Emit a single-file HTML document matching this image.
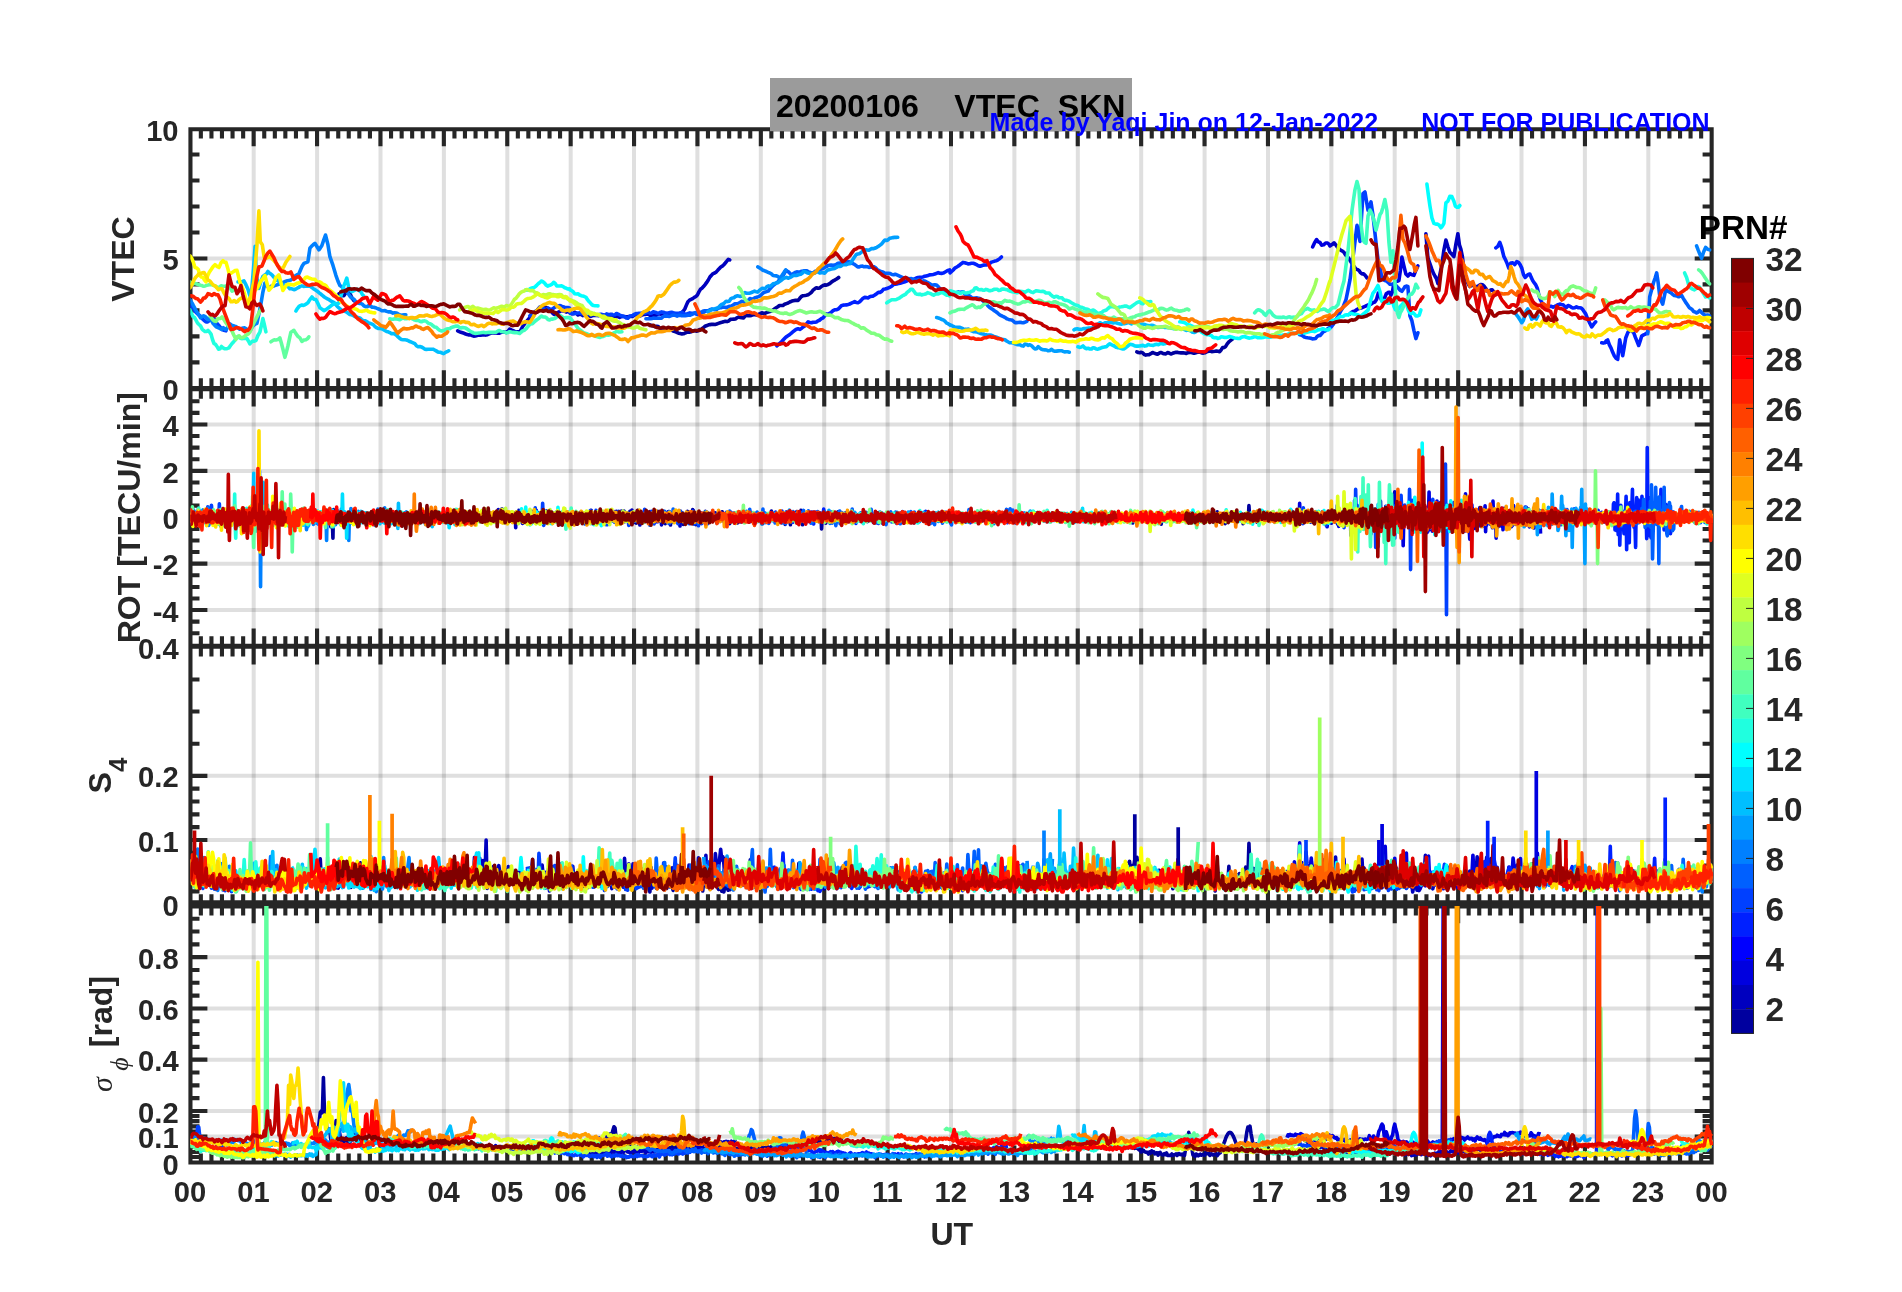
<!DOCTYPE html>
<html><head><meta charset="utf-8"><title>VTEC SKN 20200106</title>
<style>html,body{margin:0;padding:0;background:#fff}svg{display:block;will-change:transform}text{font-family:"Liberation Sans",sans-serif}.ns path{vector-effect:non-scaling-stroke}</style></head><body>
<svg width="1902" height="1292" viewBox="0 0 1902 1292">
<rect width="1902" height="1292" fill="#fff"/>
<defs>
<clipPath id="c1"><rect x="190.3" y="129.3" width="1522.9" height="258.9"/></clipPath>
<clipPath id="c2"><rect x="190.3" y="389" width="1522.9" height="256.8"/></clipPath>
<clipPath id="c3"><rect x="190.3" y="646.8" width="1522.9" height="257.5"/></clipPath>
<clipPath id="c4"><rect x="190.3" y="905.9" width="1522.9" height="256.7"/></clipPath>
</defs>
<path d="M253.7 129.3V1162.5M317.1 129.3V1162.5M380.5 129.3V1162.5M443.9 129.3V1162.5M507.3 129.3V1162.5M570.7 129.3V1162.5M634 129.3V1162.5M697.4 129.3V1162.5M760.8 129.3V1162.5M824.2 129.3V1162.5M887.6 129.3V1162.5M951 129.3V1162.5M1014.4 129.3V1162.5M1077.8 129.3V1162.5M1141.2 129.3V1162.5M1204.6 129.3V1162.5M1268 129.3V1162.5M1331.4 129.3V1162.5M1394.7 129.3V1162.5M1458.1 129.3V1162.5M1521.5 129.3V1162.5M1584.9 129.3V1162.5M1648.3 129.3V1162.5" stroke="#262626" stroke-opacity="0.15" stroke-width="4" fill="none"/>
<path d="M190.3 258.4H1711.7M190.3 610.1H1711.7M190.3 563.7H1711.7M190.3 517.3H1711.7M190.3 470.9H1711.7M190.3 424.5H1711.7M190.3 840H1711.7M190.3 775.8H1711.7M190.3 1136.6H1711.7M190.3 1110.9H1711.7M190.3 1059.7H1711.7M190.3 1008.4H1711.7M190.3 957.2H1711.7" stroke="#262626" stroke-opacity="0.15" stroke-width="4" fill="none"/>
<path d="M188.4 127.3H1713.7V131.3H188.4ZM188.4 386H1713.7V391.2H188.4ZM188.4 643.8H1713.7V648.8H188.4ZM188.4 900.2H1713.7V908.4H188.4ZM188.4 1160.5H1713.7V1164.6H188.4ZM188.4 127.3H192.5V1164.6H188.4ZM1709.6 127.3H1713.7V1164.6H1709.6ZM198.8 129.3H202.9V138.4H198.8ZM209.4 129.3H213.5V138.4H209.4ZM219.9 129.3H224V138.4H219.9ZM230.5 129.3H234.6V138.4H230.5ZM241.1 129.3H245.2V138.4H241.1ZM251.6 129.3H255.7V146.3H251.6ZM262.2 129.3H266.3V138.4H262.2ZM272.8 129.3H276.9V138.4H272.8ZM283.3 129.3H287.4V138.4H283.3ZM293.9 129.3H298V138.4H293.9ZM304.5 129.3H308.6V138.4H304.5ZM315 129.3H319.1V146.3H315ZM325.6 129.3H329.7V138.4H325.6ZM336.2 129.3H340.3V138.4H336.2ZM346.7 129.3H350.8V138.4H346.7ZM357.3 129.3H361.4V138.4H357.3ZM367.9 129.3H372V138.4H367.9ZM378.4 129.3H382.5V146.3H378.4ZM389 129.3H393.1V138.4H389ZM399.6 129.3H403.7V138.4H399.6ZM410.1 129.3H414.2V138.4H410.1ZM420.7 129.3H424.8V138.4H420.7ZM431.3 129.3H435.4V138.4H431.3ZM441.8 129.3H445.9V146.3H441.8ZM452.4 129.3H456.5V138.4H452.4ZM462.9 129.3H467V138.4H462.9ZM473.5 129.3H477.6V138.4H473.5ZM484.1 129.3H488.2V138.4H484.1ZM494.6 129.3H498.7V138.4H494.6ZM505.2 129.3H509.3V146.3H505.2ZM515.8 129.3H519.9V138.4H515.8ZM526.3 129.3H530.4V138.4H526.3ZM536.9 129.3H541V138.4H536.9ZM547.5 129.3H551.6V138.4H547.5ZM558 129.3H562.1V138.4H558ZM568.6 129.3H572.7V146.3H568.6ZM579.2 129.3H583.3V138.4H579.2ZM589.7 129.3H593.8V138.4H589.7ZM600.3 129.3H604.4V138.4H600.3ZM610.9 129.3H615V138.4H610.9ZM621.4 129.3H625.5V138.4H621.4ZM632 129.3H636.1V146.3H632ZM642.6 129.3H646.7V138.4H642.6ZM653.1 129.3H657.2V138.4H653.1ZM663.7 129.3H667.8V138.4H663.7ZM674.3 129.3H678.4V138.4H674.3ZM684.8 129.3H688.9V138.4H684.8ZM695.4 129.3H699.5V146.3H695.4ZM705.9 129.3H710V138.4H705.9ZM716.5 129.3H720.6V138.4H716.5ZM727.1 129.3H731.2V138.4H727.1ZM737.6 129.3H741.7V138.4H737.6ZM748.2 129.3H752.3V138.4H748.2ZM758.8 129.3H762.9V146.3H758.8ZM769.3 129.3H773.4V138.4H769.3ZM779.9 129.3H784V138.4H779.9ZM790.5 129.3H794.6V138.4H790.5ZM801 129.3H805.1V138.4H801ZM811.6 129.3H815.7V138.4H811.6ZM822.2 129.3H826.3V146.3H822.2ZM832.7 129.3H836.8V138.4H832.7ZM843.3 129.3H847.4V138.4H843.3ZM853.9 129.3H858V138.4H853.9ZM864.4 129.3H868.5V138.4H864.4ZM875 129.3H879.1V138.4H875ZM885.6 129.3H889.7V146.3H885.6ZM896.1 129.3H900.2V138.4H896.1ZM906.7 129.3H910.8V138.4H906.7ZM917.3 129.3H921.4V138.4H917.3ZM927.8 129.3H931.9V138.4H927.8ZM938.4 129.3H942.5V138.4H938.4ZM949 129.3H953V146.3H949ZM959.5 129.3H963.6V138.4H959.5ZM970.1 129.3H974.2V138.4H970.1ZM980.6 129.3H984.7V138.4H980.6ZM991.2 129.3H995.3V138.4H991.2ZM1001.8 129.3H1005.9V138.4H1001.8ZM1012.3 129.3H1016.4V146.3H1012.3ZM1022.9 129.3H1027V138.4H1022.9ZM1033.5 129.3H1037.6V138.4H1033.5ZM1044 129.3H1048.1V138.4H1044ZM1054.6 129.3H1058.7V138.4H1054.6ZM1065.2 129.3H1069.3V138.4H1065.2ZM1075.7 129.3H1079.8V146.3H1075.7ZM1086.3 129.3H1090.4V138.4H1086.3ZM1096.9 129.3H1101V138.4H1096.9ZM1107.4 129.3H1111.5V138.4H1107.4ZM1118 129.3H1122.1V138.4H1118ZM1128.6 129.3H1132.7V138.4H1128.6ZM1139.1 129.3H1143.2V146.3H1139.1ZM1149.7 129.3H1153.8V138.4H1149.7ZM1160.3 129.3H1164.4V138.4H1160.3ZM1170.8 129.3H1174.9V138.4H1170.8ZM1181.4 129.3H1185.5V138.4H1181.4ZM1192 129.3H1196.1V138.4H1192ZM1202.5 129.3H1206.6V146.3H1202.5ZM1213.1 129.3H1217.2V138.4H1213.1ZM1223.6 129.3H1227.7V138.4H1223.6ZM1234.2 129.3H1238.3V138.4H1234.2ZM1244.8 129.3H1248.9V138.4H1244.8ZM1255.3 129.3H1259.4V138.4H1255.3ZM1265.9 129.3H1270V146.3H1265.9ZM1276.5 129.3H1280.6V138.4H1276.5ZM1287 129.3H1291.1V138.4H1287ZM1297.6 129.3H1301.7V138.4H1297.6ZM1308.2 129.3H1312.3V138.4H1308.2ZM1318.7 129.3H1322.8V138.4H1318.7ZM1329.3 129.3H1333.4V146.3H1329.3ZM1339.9 129.3H1344V138.4H1339.9ZM1350.4 129.3H1354.5V138.4H1350.4ZM1361 129.3H1365.1V138.4H1361ZM1371.6 129.3H1375.7V138.4H1371.6ZM1382.1 129.3H1386.2V138.4H1382.1ZM1392.7 129.3H1396.8V146.3H1392.7ZM1403.3 129.3H1407.4V138.4H1403.3ZM1413.8 129.3H1417.9V138.4H1413.8ZM1424.4 129.3H1428.5V138.4H1424.4ZM1435 129.3H1439.1V138.4H1435ZM1445.5 129.3H1449.6V138.4H1445.5ZM1456.1 129.3H1460.2V146.3H1456.1ZM1466.6 129.3H1470.7V138.4H1466.6ZM1477.2 129.3H1481.3V138.4H1477.2ZM1487.8 129.3H1491.9V138.4H1487.8ZM1498.3 129.3H1502.4V138.4H1498.3ZM1508.9 129.3H1513V138.4H1508.9ZM1519.5 129.3H1523.6V146.3H1519.5ZM1530 129.3H1534.1V138.4H1530ZM1540.6 129.3H1544.7V138.4H1540.6ZM1551.2 129.3H1555.3V138.4H1551.2ZM1561.7 129.3H1565.8V138.4H1561.7ZM1572.3 129.3H1576.4V138.4H1572.3ZM1582.9 129.3H1587V146.3H1582.9ZM1593.4 129.3H1597.5V138.4H1593.4ZM1604 129.3H1608.1V138.4H1604ZM1614.6 129.3H1618.7V138.4H1614.6ZM1625.1 129.3H1629.2V138.4H1625.1ZM1635.7 129.3H1639.8V138.4H1635.7ZM1646.3 129.3H1650.4V146.3H1646.3ZM1656.8 129.3H1660.9V138.4H1656.8ZM1667.4 129.3H1671.5V138.4H1667.4ZM1678 129.3H1682.1V138.4H1678ZM1688.5 129.3H1692.6V138.4H1688.5ZM1699.1 129.3H1703.2V138.4H1699.1ZM198.8 378.2H202.9V398.7H198.8ZM209.4 378.2H213.5V398.7H209.4ZM219.9 378.2H224V398.7H219.9ZM230.5 378.2H234.6V398.7H230.5ZM241.1 378.2H245.2V398.7H241.1ZM251.6 370.3H255.7V406.6H251.6ZM262.2 378.2H266.3V398.7H262.2ZM272.8 378.2H276.9V398.7H272.8ZM283.3 378.2H287.4V398.7H283.3ZM293.9 378.2H298V398.7H293.9ZM304.5 378.2H308.6V398.7H304.5ZM315 370.3H319.1V406.6H315ZM325.6 378.2H329.7V398.7H325.6ZM336.2 378.2H340.3V398.7H336.2ZM346.7 378.2H350.8V398.7H346.7ZM357.3 378.2H361.4V398.7H357.3ZM367.9 378.2H372V398.7H367.9ZM378.4 370.3H382.5V406.6H378.4ZM389 378.2H393.1V398.7H389ZM399.6 378.2H403.7V398.7H399.6ZM410.1 378.2H414.2V398.7H410.1ZM420.7 378.2H424.8V398.7H420.7ZM431.3 378.2H435.4V398.7H431.3ZM441.8 370.3H445.9V406.6H441.8ZM452.4 378.2H456.5V398.7H452.4ZM462.9 378.2H467V398.7H462.9ZM473.5 378.2H477.6V398.7H473.5ZM484.1 378.2H488.2V398.7H484.1ZM494.6 378.2H498.7V398.7H494.6ZM505.2 370.3H509.3V406.6H505.2ZM515.8 378.2H519.9V398.7H515.8ZM526.3 378.2H530.4V398.7H526.3ZM536.9 378.2H541V398.7H536.9ZM547.5 378.2H551.6V398.7H547.5ZM558 378.2H562.1V398.7H558ZM568.6 370.3H572.7V406.6H568.6ZM579.2 378.2H583.3V398.7H579.2ZM589.7 378.2H593.8V398.7H589.7ZM600.3 378.2H604.4V398.7H600.3ZM610.9 378.2H615V398.7H610.9ZM621.4 378.2H625.5V398.7H621.4ZM632 370.3H636.1V406.6H632ZM642.6 378.2H646.7V398.7H642.6ZM653.1 378.2H657.2V398.7H653.1ZM663.7 378.2H667.8V398.7H663.7ZM674.3 378.2H678.4V398.7H674.3ZM684.8 378.2H688.9V398.7H684.8ZM695.4 370.3H699.5V406.6H695.4ZM705.9 378.2H710V398.7H705.9ZM716.5 378.2H720.6V398.7H716.5ZM727.1 378.2H731.2V398.7H727.1ZM737.6 378.2H741.7V398.7H737.6ZM748.2 378.2H752.3V398.7H748.2ZM758.8 370.3H762.9V406.6H758.8ZM769.3 378.2H773.4V398.7H769.3ZM779.9 378.2H784V398.7H779.9ZM790.5 378.2H794.6V398.7H790.5ZM801 378.2H805.1V398.7H801ZM811.6 378.2H815.7V398.7H811.6ZM822.2 370.3H826.3V406.6H822.2ZM832.7 378.2H836.8V398.7H832.7ZM843.3 378.2H847.4V398.7H843.3ZM853.9 378.2H858V398.7H853.9ZM864.4 378.2H868.5V398.7H864.4ZM875 378.2H879.1V398.7H875ZM885.6 370.3H889.7V406.6H885.6ZM896.1 378.2H900.2V398.7H896.1ZM906.7 378.2H910.8V398.7H906.7ZM917.3 378.2H921.4V398.7H917.3ZM927.8 378.2H931.9V398.7H927.8ZM938.4 378.2H942.5V398.7H938.4ZM949 370.3H953V406.6H949ZM959.5 378.2H963.6V398.7H959.5ZM970.1 378.2H974.2V398.7H970.1ZM980.6 378.2H984.7V398.7H980.6ZM991.2 378.2H995.3V398.7H991.2ZM1001.8 378.2H1005.9V398.7H1001.8ZM1012.3 370.3H1016.4V406.6H1012.3ZM1022.9 378.2H1027V398.7H1022.9ZM1033.5 378.2H1037.6V398.7H1033.5ZM1044 378.2H1048.1V398.7H1044ZM1054.6 378.2H1058.7V398.7H1054.6ZM1065.2 378.2H1069.3V398.7H1065.2ZM1075.7 370.3H1079.8V406.6H1075.7ZM1086.3 378.2H1090.4V398.7H1086.3ZM1096.9 378.2H1101V398.7H1096.9ZM1107.4 378.2H1111.5V398.7H1107.4ZM1118 378.2H1122.1V398.7H1118ZM1128.6 378.2H1132.7V398.7H1128.6ZM1139.1 370.3H1143.2V406.6H1139.1ZM1149.7 378.2H1153.8V398.7H1149.7ZM1160.3 378.2H1164.4V398.7H1160.3ZM1170.8 378.2H1174.9V398.7H1170.8ZM1181.4 378.2H1185.5V398.7H1181.4ZM1192 378.2H1196.1V398.7H1192ZM1202.5 370.3H1206.6V406.6H1202.5ZM1213.1 378.2H1217.2V398.7H1213.1ZM1223.6 378.2H1227.7V398.7H1223.6ZM1234.2 378.2H1238.3V398.7H1234.2ZM1244.8 378.2H1248.9V398.7H1244.8ZM1255.3 378.2H1259.4V398.7H1255.3ZM1265.9 370.3H1270V406.6H1265.9ZM1276.5 378.2H1280.6V398.7H1276.5ZM1287 378.2H1291.1V398.7H1287ZM1297.6 378.2H1301.7V398.7H1297.6ZM1308.2 378.2H1312.3V398.7H1308.2ZM1318.7 378.2H1322.8V398.7H1318.7ZM1329.3 370.3H1333.4V406.6H1329.3ZM1339.9 378.2H1344V398.7H1339.9ZM1350.4 378.2H1354.5V398.7H1350.4ZM1361 378.2H1365.1V398.7H1361ZM1371.6 378.2H1375.7V398.7H1371.6ZM1382.1 378.2H1386.2V398.7H1382.1ZM1392.7 370.3H1396.8V406.6H1392.7ZM1403.3 378.2H1407.4V398.7H1403.3ZM1413.8 378.2H1417.9V398.7H1413.8ZM1424.4 378.2H1428.5V398.7H1424.4ZM1435 378.2H1439.1V398.7H1435ZM1445.5 378.2H1449.6V398.7H1445.5ZM1456.1 370.3H1460.2V406.6H1456.1ZM1466.6 378.2H1470.7V398.7H1466.6ZM1477.2 378.2H1481.3V398.7H1477.2ZM1487.8 378.2H1491.9V398.7H1487.8ZM1498.3 378.2H1502.4V398.7H1498.3ZM1508.9 378.2H1513V398.7H1508.9ZM1519.5 370.3H1523.6V406.6H1519.5ZM1530 378.2H1534.1V398.7H1530ZM1540.6 378.2H1544.7V398.7H1540.6ZM1551.2 378.2H1555.3V398.7H1551.2ZM1561.7 378.2H1565.8V398.7H1561.7ZM1572.3 378.2H1576.4V398.7H1572.3ZM1582.9 370.3H1587V406.6H1582.9ZM1593.4 378.2H1597.5V398.7H1593.4ZM1604 378.2H1608.1V398.7H1604ZM1614.6 378.2H1618.7V398.7H1614.6ZM1625.1 378.2H1629.2V398.7H1625.1ZM1635.7 378.2H1639.8V398.7H1635.7ZM1646.3 370.3H1650.4V406.6H1646.3ZM1656.8 378.2H1660.9V398.7H1656.8ZM1667.4 378.2H1671.5V398.7H1667.4ZM1678 378.2H1682.1V398.7H1678ZM1688.5 378.2H1692.6V398.7H1688.5ZM1699.1 378.2H1703.2V398.7H1699.1ZM198.8 636.3H202.9V656.6H198.8ZM209.4 636.3H213.5V656.6H209.4ZM219.9 636.3H224V656.6H219.9ZM230.5 636.3H234.6V656.6H230.5ZM241.1 636.3H245.2V656.6H241.1ZM251.6 628.4H255.7V664.5H251.6ZM262.2 636.3H266.3V656.6H262.2ZM272.8 636.3H276.9V656.6H272.8ZM283.3 636.3H287.4V656.6H283.3ZM293.9 636.3H298V656.6H293.9ZM304.5 636.3H308.6V656.6H304.5ZM315 628.4H319.1V664.5H315ZM325.6 636.3H329.7V656.6H325.6ZM336.2 636.3H340.3V656.6H336.2ZM346.7 636.3H350.8V656.6H346.7ZM357.3 636.3H361.4V656.6H357.3ZM367.9 636.3H372V656.6H367.9ZM378.4 628.4H382.5V664.5H378.4ZM389 636.3H393.1V656.6H389ZM399.6 636.3H403.7V656.6H399.6ZM410.1 636.3H414.2V656.6H410.1ZM420.7 636.3H424.8V656.6H420.7ZM431.3 636.3H435.4V656.6H431.3ZM441.8 628.4H445.9V664.5H441.8ZM452.4 636.3H456.5V656.6H452.4ZM462.9 636.3H467V656.6H462.9ZM473.5 636.3H477.6V656.6H473.5ZM484.1 636.3H488.2V656.6H484.1ZM494.6 636.3H498.7V656.6H494.6ZM505.2 628.4H509.3V664.5H505.2ZM515.8 636.3H519.9V656.6H515.8ZM526.3 636.3H530.4V656.6H526.3ZM536.9 636.3H541V656.6H536.9ZM547.5 636.3H551.6V656.6H547.5ZM558 636.3H562.1V656.6H558ZM568.6 628.4H572.7V664.5H568.6ZM579.2 636.3H583.3V656.6H579.2ZM589.7 636.3H593.8V656.6H589.7ZM600.3 636.3H604.4V656.6H600.3ZM610.9 636.3H615V656.6H610.9ZM621.4 636.3H625.5V656.6H621.4ZM632 628.4H636.1V664.5H632ZM642.6 636.3H646.7V656.6H642.6ZM653.1 636.3H657.2V656.6H653.1ZM663.7 636.3H667.8V656.6H663.7ZM674.3 636.3H678.4V656.6H674.3ZM684.8 636.3H688.9V656.6H684.8ZM695.4 628.4H699.5V664.5H695.4ZM705.9 636.3H710V656.6H705.9ZM716.5 636.3H720.6V656.6H716.5ZM727.1 636.3H731.2V656.6H727.1ZM737.6 636.3H741.7V656.6H737.6ZM748.2 636.3H752.3V656.6H748.2ZM758.8 628.4H762.9V664.5H758.8ZM769.3 636.3H773.4V656.6H769.3ZM779.9 636.3H784V656.6H779.9ZM790.5 636.3H794.6V656.6H790.5ZM801 636.3H805.1V656.6H801ZM811.6 636.3H815.7V656.6H811.6ZM822.2 628.4H826.3V664.5H822.2ZM832.7 636.3H836.8V656.6H832.7ZM843.3 636.3H847.4V656.6H843.3ZM853.9 636.3H858V656.6H853.9ZM864.4 636.3H868.5V656.6H864.4ZM875 636.3H879.1V656.6H875ZM885.6 628.4H889.7V664.5H885.6ZM896.1 636.3H900.2V656.6H896.1ZM906.7 636.3H910.8V656.6H906.7ZM917.3 636.3H921.4V656.6H917.3ZM927.8 636.3H931.9V656.6H927.8ZM938.4 636.3H942.5V656.6H938.4ZM949 628.4H953V664.5H949ZM959.5 636.3H963.6V656.6H959.5ZM970.1 636.3H974.2V656.6H970.1ZM980.6 636.3H984.7V656.6H980.6ZM991.2 636.3H995.3V656.6H991.2ZM1001.8 636.3H1005.9V656.6H1001.8ZM1012.3 628.4H1016.4V664.5H1012.3ZM1022.9 636.3H1027V656.6H1022.9ZM1033.5 636.3H1037.6V656.6H1033.5ZM1044 636.3H1048.1V656.6H1044ZM1054.6 636.3H1058.7V656.6H1054.6ZM1065.2 636.3H1069.3V656.6H1065.2ZM1075.7 628.4H1079.8V664.5H1075.7ZM1086.3 636.3H1090.4V656.6H1086.3ZM1096.9 636.3H1101V656.6H1096.9ZM1107.4 636.3H1111.5V656.6H1107.4ZM1118 636.3H1122.1V656.6H1118ZM1128.6 636.3H1132.7V656.6H1128.6ZM1139.1 628.4H1143.2V664.5H1139.1ZM1149.7 636.3H1153.8V656.6H1149.7ZM1160.3 636.3H1164.4V656.6H1160.3ZM1170.8 636.3H1174.9V656.6H1170.8ZM1181.4 636.3H1185.5V656.6H1181.4ZM1192 636.3H1196.1V656.6H1192ZM1202.5 628.4H1206.6V664.5H1202.5ZM1213.1 636.3H1217.2V656.6H1213.1ZM1223.6 636.3H1227.7V656.6H1223.6ZM1234.2 636.3H1238.3V656.6H1234.2ZM1244.8 636.3H1248.9V656.6H1244.8ZM1255.3 636.3H1259.4V656.6H1255.3ZM1265.9 628.4H1270V664.5H1265.9ZM1276.5 636.3H1280.6V656.6H1276.5ZM1287 636.3H1291.1V656.6H1287ZM1297.6 636.3H1301.7V656.6H1297.6ZM1308.2 636.3H1312.3V656.6H1308.2ZM1318.7 636.3H1322.8V656.6H1318.7ZM1329.3 628.4H1333.4V664.5H1329.3ZM1339.9 636.3H1344V656.6H1339.9ZM1350.4 636.3H1354.5V656.6H1350.4ZM1361 636.3H1365.1V656.6H1361ZM1371.6 636.3H1375.7V656.6H1371.6ZM1382.1 636.3H1386.2V656.6H1382.1ZM1392.7 628.4H1396.8V664.5H1392.7ZM1403.3 636.3H1407.4V656.6H1403.3ZM1413.8 636.3H1417.9V656.6H1413.8ZM1424.4 636.3H1428.5V656.6H1424.4ZM1435 636.3H1439.1V656.6H1435ZM1445.5 636.3H1449.6V656.6H1445.5ZM1456.1 628.4H1460.2V664.5H1456.1ZM1466.6 636.3H1470.7V656.6H1466.6ZM1477.2 636.3H1481.3V656.6H1477.2ZM1487.8 636.3H1491.9V656.6H1487.8ZM1498.3 636.3H1502.4V656.6H1498.3ZM1508.9 636.3H1513V656.6H1508.9ZM1519.5 628.4H1523.6V664.5H1519.5ZM1530 636.3H1534.1V656.6H1530ZM1540.6 636.3H1544.7V656.6H1540.6ZM1551.2 636.3H1555.3V656.6H1551.2ZM1561.7 636.3H1565.8V656.6H1561.7ZM1572.3 636.3H1576.4V656.6H1572.3ZM1582.9 628.4H1587V664.5H1582.9ZM1593.4 636.3H1597.5V656.6H1593.4ZM1604 636.3H1608.1V656.6H1604ZM1614.6 636.3H1618.7V656.6H1614.6ZM1625.1 636.3H1629.2V656.6H1625.1ZM1635.7 636.3H1639.8V656.6H1635.7ZM1646.3 628.4H1650.4V664.5H1646.3ZM1656.8 636.3H1660.9V656.6H1656.8ZM1667.4 636.3H1671.5V656.6H1667.4ZM1678 636.3H1682.1V656.6H1678ZM1688.5 636.3H1692.6V656.6H1688.5ZM1699.1 636.3H1703.2V656.6H1699.1ZM198.8 894.3H202.9V915.4H198.8ZM209.4 894.3H213.5V915.4H209.4ZM219.9 894.3H224V915.4H219.9ZM230.5 894.3H234.6V915.4H230.5ZM241.1 894.3H245.2V915.4H241.1ZM251.6 886.4H255.7V923.3H251.6ZM262.2 894.3H266.3V915.4H262.2ZM272.8 894.3H276.9V915.4H272.8ZM283.3 894.3H287.4V915.4H283.3ZM293.9 894.3H298V915.4H293.9ZM304.5 894.3H308.6V915.4H304.5ZM315 886.4H319.1V923.3H315ZM325.6 894.3H329.7V915.4H325.6ZM336.2 894.3H340.3V915.4H336.2ZM346.7 894.3H350.8V915.4H346.7ZM357.3 894.3H361.4V915.4H357.3ZM367.9 894.3H372V915.4H367.9ZM378.4 886.4H382.5V923.3H378.4ZM389 894.3H393.1V915.4H389ZM399.6 894.3H403.7V915.4H399.6ZM410.1 894.3H414.2V915.4H410.1ZM420.7 894.3H424.8V915.4H420.7ZM431.3 894.3H435.4V915.4H431.3ZM441.8 886.4H445.9V923.3H441.8ZM452.4 894.3H456.5V915.4H452.4ZM462.9 894.3H467V915.4H462.9ZM473.5 894.3H477.6V915.4H473.5ZM484.1 894.3H488.2V915.4H484.1ZM494.6 894.3H498.7V915.4H494.6ZM505.2 886.4H509.3V923.3H505.2ZM515.8 894.3H519.9V915.4H515.8ZM526.3 894.3H530.4V915.4H526.3ZM536.9 894.3H541V915.4H536.9ZM547.5 894.3H551.6V915.4H547.5ZM558 894.3H562.1V915.4H558ZM568.6 886.4H572.7V923.3H568.6ZM579.2 894.3H583.3V915.4H579.2ZM589.7 894.3H593.8V915.4H589.7ZM600.3 894.3H604.4V915.4H600.3ZM610.9 894.3H615V915.4H610.9ZM621.4 894.3H625.5V915.4H621.4ZM632 886.4H636.1V923.3H632ZM642.6 894.3H646.7V915.4H642.6ZM653.1 894.3H657.2V915.4H653.1ZM663.7 894.3H667.8V915.4H663.7ZM674.3 894.3H678.4V915.4H674.3ZM684.8 894.3H688.9V915.4H684.8ZM695.4 886.4H699.5V923.3H695.4ZM705.9 894.3H710V915.4H705.9ZM716.5 894.3H720.6V915.4H716.5ZM727.1 894.3H731.2V915.4H727.1ZM737.6 894.3H741.7V915.4H737.6ZM748.2 894.3H752.3V915.4H748.2ZM758.8 886.4H762.9V923.3H758.8ZM769.3 894.3H773.4V915.4H769.3ZM779.9 894.3H784V915.4H779.9ZM790.5 894.3H794.6V915.4H790.5ZM801 894.3H805.1V915.4H801ZM811.6 894.3H815.7V915.4H811.6ZM822.2 886.4H826.3V923.3H822.2ZM832.7 894.3H836.8V915.4H832.7ZM843.3 894.3H847.4V915.4H843.3ZM853.9 894.3H858V915.4H853.9ZM864.4 894.3H868.5V915.4H864.4ZM875 894.3H879.1V915.4H875ZM885.6 886.4H889.7V923.3H885.6ZM896.1 894.3H900.2V915.4H896.1ZM906.7 894.3H910.8V915.4H906.7ZM917.3 894.3H921.4V915.4H917.3ZM927.8 894.3H931.9V915.4H927.8ZM938.4 894.3H942.5V915.4H938.4ZM949 886.4H953V923.3H949ZM959.5 894.3H963.6V915.4H959.5ZM970.1 894.3H974.2V915.4H970.1ZM980.6 894.3H984.7V915.4H980.6ZM991.2 894.3H995.3V915.4H991.2ZM1001.8 894.3H1005.9V915.4H1001.8ZM1012.3 886.4H1016.4V923.3H1012.3ZM1022.9 894.3H1027V915.4H1022.9ZM1033.5 894.3H1037.6V915.4H1033.5ZM1044 894.3H1048.1V915.4H1044ZM1054.6 894.3H1058.7V915.4H1054.6ZM1065.2 894.3H1069.3V915.4H1065.2ZM1075.7 886.4H1079.8V923.3H1075.7ZM1086.3 894.3H1090.4V915.4H1086.3ZM1096.9 894.3H1101V915.4H1096.9ZM1107.4 894.3H1111.5V915.4H1107.4ZM1118 894.3H1122.1V915.4H1118ZM1128.6 894.3H1132.7V915.4H1128.6ZM1139.1 886.4H1143.2V923.3H1139.1ZM1149.7 894.3H1153.8V915.4H1149.7ZM1160.3 894.3H1164.4V915.4H1160.3ZM1170.8 894.3H1174.9V915.4H1170.8ZM1181.4 894.3H1185.5V915.4H1181.4ZM1192 894.3H1196.1V915.4H1192ZM1202.5 886.4H1206.6V923.3H1202.5ZM1213.1 894.3H1217.2V915.4H1213.1ZM1223.6 894.3H1227.7V915.4H1223.6ZM1234.2 894.3H1238.3V915.4H1234.2ZM1244.8 894.3H1248.9V915.4H1244.8ZM1255.3 894.3H1259.4V915.4H1255.3ZM1265.9 886.4H1270V923.3H1265.9ZM1276.5 894.3H1280.6V915.4H1276.5ZM1287 894.3H1291.1V915.4H1287ZM1297.6 894.3H1301.7V915.4H1297.6ZM1308.2 894.3H1312.3V915.4H1308.2ZM1318.7 894.3H1322.8V915.4H1318.7ZM1329.3 886.4H1333.4V923.3H1329.3ZM1339.9 894.3H1344V915.4H1339.9ZM1350.4 894.3H1354.5V915.4H1350.4ZM1361 894.3H1365.1V915.4H1361ZM1371.6 894.3H1375.7V915.4H1371.6ZM1382.1 894.3H1386.2V915.4H1382.1ZM1392.7 886.4H1396.8V923.3H1392.7ZM1403.3 894.3H1407.4V915.4H1403.3ZM1413.8 894.3H1417.9V915.4H1413.8ZM1424.4 894.3H1428.5V915.4H1424.4ZM1435 894.3H1439.1V915.4H1435ZM1445.5 894.3H1449.6V915.4H1445.5ZM1456.1 886.4H1460.2V923.3H1456.1ZM1466.6 894.3H1470.7V915.4H1466.6ZM1477.2 894.3H1481.3V915.4H1477.2ZM1487.8 894.3H1491.9V915.4H1487.8ZM1498.3 894.3H1502.4V915.4H1498.3ZM1508.9 894.3H1513V915.4H1508.9ZM1519.5 886.4H1523.6V923.3H1519.5ZM1530 894.3H1534.1V915.4H1530ZM1540.6 894.3H1544.7V915.4H1540.6ZM1551.2 894.3H1555.3V915.4H1551.2ZM1561.7 894.3H1565.8V915.4H1561.7ZM1572.3 894.3H1576.4V915.4H1572.3ZM1582.9 886.4H1587V923.3H1582.9ZM1593.4 894.3H1597.5V915.4H1593.4ZM1604 894.3H1608.1V915.4H1604ZM1614.6 894.3H1618.7V915.4H1614.6ZM1625.1 894.3H1629.2V915.4H1625.1ZM1635.7 894.3H1639.8V915.4H1635.7ZM1646.3 886.4H1650.4V923.3H1646.3ZM1656.8 894.3H1660.9V915.4H1656.8ZM1667.4 894.3H1671.5V915.4H1667.4ZM1678 894.3H1682.1V915.4H1678ZM1688.5 894.3H1692.6V915.4H1688.5ZM1699.1 894.3H1703.2V915.4H1699.1ZM198.8 1153.4H202.9V1162.5H198.8ZM209.4 1153.4H213.5V1162.5H209.4ZM219.9 1153.4H224V1162.5H219.9ZM230.5 1153.4H234.6V1162.5H230.5ZM241.1 1153.4H245.2V1162.5H241.1ZM251.6 1145.5H255.7V1162.5H251.6ZM262.2 1153.4H266.3V1162.5H262.2ZM272.8 1153.4H276.9V1162.5H272.8ZM283.3 1153.4H287.4V1162.5H283.3ZM293.9 1153.4H298V1162.5H293.9ZM304.5 1153.4H308.6V1162.5H304.5ZM315 1145.5H319.1V1162.5H315ZM325.6 1153.4H329.7V1162.5H325.6ZM336.2 1153.4H340.3V1162.5H336.2ZM346.7 1153.4H350.8V1162.5H346.7ZM357.3 1153.4H361.4V1162.5H357.3ZM367.9 1153.4H372V1162.5H367.9ZM378.4 1145.5H382.5V1162.5H378.4ZM389 1153.4H393.1V1162.5H389ZM399.6 1153.4H403.7V1162.5H399.6ZM410.1 1153.4H414.2V1162.5H410.1ZM420.7 1153.4H424.8V1162.5H420.7ZM431.3 1153.4H435.4V1162.5H431.3ZM441.8 1145.5H445.9V1162.5H441.8ZM452.4 1153.4H456.5V1162.5H452.4ZM462.9 1153.4H467V1162.5H462.9ZM473.5 1153.4H477.6V1162.5H473.5ZM484.1 1153.4H488.2V1162.5H484.1ZM494.6 1153.4H498.7V1162.5H494.6ZM505.2 1145.5H509.3V1162.5H505.2ZM515.8 1153.4H519.9V1162.5H515.8ZM526.3 1153.4H530.4V1162.5H526.3ZM536.9 1153.4H541V1162.5H536.9ZM547.5 1153.4H551.6V1162.5H547.5ZM558 1153.4H562.1V1162.5H558ZM568.6 1145.5H572.7V1162.5H568.6ZM579.2 1153.4H583.3V1162.5H579.2ZM589.7 1153.4H593.8V1162.5H589.7ZM600.3 1153.4H604.4V1162.5H600.3ZM610.9 1153.4H615V1162.5H610.9ZM621.4 1153.4H625.5V1162.5H621.4ZM632 1145.5H636.1V1162.5H632ZM642.6 1153.4H646.7V1162.5H642.6ZM653.1 1153.4H657.2V1162.5H653.1ZM663.7 1153.4H667.8V1162.5H663.7ZM674.3 1153.4H678.4V1162.5H674.3ZM684.8 1153.4H688.9V1162.5H684.8ZM695.4 1145.5H699.5V1162.5H695.4ZM705.9 1153.4H710V1162.5H705.9ZM716.5 1153.4H720.6V1162.5H716.5ZM727.1 1153.4H731.2V1162.5H727.1ZM737.6 1153.4H741.7V1162.5H737.6ZM748.2 1153.4H752.3V1162.5H748.2ZM758.8 1145.5H762.9V1162.5H758.8ZM769.3 1153.4H773.4V1162.5H769.3ZM779.9 1153.4H784V1162.5H779.9ZM790.5 1153.4H794.6V1162.5H790.5ZM801 1153.4H805.1V1162.5H801ZM811.6 1153.4H815.7V1162.5H811.6ZM822.2 1145.5H826.3V1162.5H822.2ZM832.7 1153.4H836.8V1162.5H832.7ZM843.3 1153.4H847.4V1162.5H843.3ZM853.9 1153.4H858V1162.5H853.9ZM864.4 1153.4H868.5V1162.5H864.4ZM875 1153.4H879.1V1162.5H875ZM885.6 1145.5H889.7V1162.5H885.6ZM896.1 1153.4H900.2V1162.5H896.1ZM906.7 1153.4H910.8V1162.5H906.7ZM917.3 1153.4H921.4V1162.5H917.3ZM927.8 1153.4H931.9V1162.5H927.8ZM938.4 1153.4H942.5V1162.5H938.4ZM949 1145.5H953V1162.5H949ZM959.5 1153.4H963.6V1162.5H959.5ZM970.1 1153.4H974.2V1162.5H970.1ZM980.6 1153.4H984.7V1162.5H980.6ZM991.2 1153.4H995.3V1162.5H991.2ZM1001.8 1153.4H1005.9V1162.5H1001.8ZM1012.3 1145.5H1016.4V1162.5H1012.3ZM1022.9 1153.4H1027V1162.5H1022.9ZM1033.5 1153.4H1037.6V1162.5H1033.5ZM1044 1153.4H1048.1V1162.5H1044ZM1054.6 1153.4H1058.7V1162.5H1054.6ZM1065.2 1153.4H1069.3V1162.5H1065.2ZM1075.7 1145.5H1079.8V1162.5H1075.7ZM1086.3 1153.4H1090.4V1162.5H1086.3ZM1096.9 1153.4H1101V1162.5H1096.9ZM1107.4 1153.4H1111.5V1162.5H1107.4ZM1118 1153.4H1122.1V1162.5H1118ZM1128.6 1153.4H1132.7V1162.5H1128.6ZM1139.1 1145.5H1143.2V1162.5H1139.1ZM1149.7 1153.4H1153.8V1162.5H1149.7ZM1160.3 1153.4H1164.4V1162.5H1160.3ZM1170.8 1153.4H1174.9V1162.5H1170.8ZM1181.4 1153.4H1185.5V1162.5H1181.4ZM1192 1153.4H1196.1V1162.5H1192ZM1202.5 1145.5H1206.6V1162.5H1202.5ZM1213.1 1153.4H1217.2V1162.5H1213.1ZM1223.6 1153.4H1227.7V1162.5H1223.6ZM1234.2 1153.4H1238.3V1162.5H1234.2ZM1244.8 1153.4H1248.9V1162.5H1244.8ZM1255.3 1153.4H1259.4V1162.5H1255.3ZM1265.9 1145.5H1270V1162.5H1265.9ZM1276.5 1153.4H1280.6V1162.5H1276.5ZM1287 1153.4H1291.1V1162.5H1287ZM1297.6 1153.4H1301.7V1162.5H1297.6ZM1308.2 1153.4H1312.3V1162.5H1308.2ZM1318.7 1153.4H1322.8V1162.5H1318.7ZM1329.3 1145.5H1333.4V1162.5H1329.3ZM1339.9 1153.4H1344V1162.5H1339.9ZM1350.4 1153.4H1354.5V1162.5H1350.4ZM1361 1153.4H1365.1V1162.5H1361ZM1371.6 1153.4H1375.7V1162.5H1371.6ZM1382.1 1153.4H1386.2V1162.5H1382.1ZM1392.7 1145.5H1396.8V1162.5H1392.7ZM1403.3 1153.4H1407.4V1162.5H1403.3ZM1413.8 1153.4H1417.9V1162.5H1413.8ZM1424.4 1153.4H1428.5V1162.5H1424.4ZM1435 1153.4H1439.1V1162.5H1435ZM1445.5 1153.4H1449.6V1162.5H1445.5ZM1456.1 1145.5H1460.2V1162.5H1456.1ZM1466.6 1153.4H1470.7V1162.5H1466.6ZM1477.2 1153.4H1481.3V1162.5H1477.2ZM1487.8 1153.4H1491.9V1162.5H1487.8ZM1498.3 1153.4H1502.4V1162.5H1498.3ZM1508.9 1153.4H1513V1162.5H1508.9ZM1519.5 1145.5H1523.6V1162.5H1519.5ZM1530 1153.4H1534.1V1162.5H1530ZM1540.6 1153.4H1544.7V1162.5H1540.6ZM1551.2 1153.4H1555.3V1162.5H1551.2ZM1561.7 1153.4H1565.8V1162.5H1561.7ZM1572.3 1153.4H1576.4V1162.5H1572.3ZM1582.9 1145.5H1587V1162.5H1582.9ZM1593.4 1153.4H1597.5V1162.5H1593.4ZM1604 1153.4H1608.1V1162.5H1604ZM1614.6 1153.4H1618.7V1162.5H1614.6ZM1625.1 1153.4H1629.2V1162.5H1625.1ZM1635.7 1153.4H1639.8V1162.5H1635.7ZM1646.3 1145.5H1650.4V1162.5H1646.3ZM1656.8 1153.4H1660.9V1162.5H1656.8ZM1667.4 1153.4H1671.5V1162.5H1667.4ZM1678 1153.4H1682.1V1162.5H1678ZM1688.5 1153.4H1692.6V1162.5H1688.5ZM1699.1 1153.4H1703.2V1162.5H1699.1ZM190.4 360.3H199.5V364.4H190.4ZM1702.6 360.3H1711.7V364.4H1702.6ZM190.4 334.3H199.5V338.4H190.4ZM1702.6 334.3H1711.7V338.4H1702.6ZM190.4 308.3H199.5V312.4H190.4ZM1702.6 308.3H1711.7V312.4H1702.6ZM190.4 282.3H199.5V286.4H190.4ZM1702.6 282.3H1711.7V286.4H1702.6ZM190.4 256.4H207.4V260.5H190.4ZM1694.7 256.4H1711.7V260.5H1694.7ZM190.4 230.4H199.5V234.5H190.4ZM1702.6 230.4H1711.7V234.5H1702.6ZM190.4 204.4H199.5V208.5H190.4ZM1702.6 204.4H1711.7V208.5H1702.6ZM190.4 178.4H199.5V182.6H190.4ZM1702.6 178.4H1711.7V182.6H1702.6ZM190.4 152.5H199.5V156.6H190.4ZM1702.6 152.5H1711.7V156.6H1702.6ZM190.4 631.2H199.5V635.3H190.4ZM1702.6 631.2H1711.7V635.3H1702.6ZM190.4 619.6H199.5V623.7H190.4ZM1702.6 619.6H1711.7V623.7H1702.6ZM190.4 608H207.4V612.1H190.4ZM1694.7 608H1711.7V612.1H1694.7ZM190.4 596.5H199.5V600.5H190.4ZM1702.6 596.5H1711.7V600.5H1702.6ZM190.4 584.9H199.5V588.9H190.4ZM1702.6 584.9H1711.7V588.9H1702.6ZM190.4 573.2H199.5V577.3H190.4ZM1702.6 573.2H1711.7V577.3H1702.6ZM190.4 561.6H207.4V565.7H190.4ZM1694.7 561.6H1711.7V565.7H1694.7ZM190.4 550H199.5V554.1H190.4ZM1702.6 550H1711.7V554.1H1702.6ZM190.4 538.5H199.5V542.5H190.4ZM1702.6 538.5H1711.7V542.5H1702.6ZM190.4 526.9H199.5V530.9H190.4ZM1702.6 526.9H1711.7V530.9H1702.6ZM190.4 515.2H207.4V519.3H190.4ZM1694.7 515.2H1711.7V519.3H1694.7ZM190.4 503.6H199.5V507.7H190.4ZM1702.6 503.6H1711.7V507.7H1702.6ZM190.4 492H199.5V496.1H190.4ZM1702.6 492H1711.7V496.1H1702.6ZM190.4 480.4H199.5V484.5H190.4ZM1702.6 480.4H1711.7V484.5H1702.6ZM190.4 468.8H207.4V472.9H190.4ZM1694.7 468.8H1711.7V472.9H1694.7ZM190.4 457.2H199.5V461.3H190.4ZM1702.6 457.2H1711.7V461.3H1702.6ZM190.4 445.6H199.5V449.7H190.4ZM1702.6 445.6H1711.7V449.7H1702.6ZM190.4 434H199.5V438.1H190.4ZM1702.6 434H1711.7V438.1H1702.6ZM190.4 422.4H207.4V426.5H190.4ZM1694.7 422.4H1711.7V426.5H1694.7ZM190.4 410.8H199.5V414.9H190.4ZM1702.6 410.8H1711.7V414.9H1702.6ZM190.4 399.2H199.5V403.3H190.4ZM1702.6 399.2H1711.7V403.3H1702.6ZM190.4 889.3H199.5V893.4H190.4ZM1702.6 889.3H1711.7V893.4H1702.6ZM190.4 876.5H199.5V880.6H190.4ZM1702.6 876.5H1711.7V880.6H1702.6ZM190.4 863.6H199.5V867.7H190.4ZM1702.6 863.6H1711.7V867.7H1702.6ZM190.4 850.8H199.5V854.9H190.4ZM1702.6 850.8H1711.7V854.9H1702.6ZM190.4 825.1H199.5V829.2H190.4ZM1702.6 825.1H1711.7V829.2H1702.6ZM190.4 812.3H199.5V816.4H190.4ZM1702.6 812.3H1711.7V816.4H1702.6ZM190.4 799.4H199.5V803.5H190.4ZM1702.6 799.4H1711.7V803.5H1702.6ZM190.4 786.6H199.5V790.7H190.4ZM1702.6 786.6H1711.7V790.7H1702.6ZM190.4 741.7H199.5V745.8H190.4ZM1702.6 741.7H1711.7V745.8H1702.6ZM190.4 709.6H199.5V713.6H190.4ZM1702.6 709.6H1711.7V713.6H1702.6ZM190.4 677.5H199.5V681.5H190.4ZM1702.6 677.5H1711.7V681.5H1702.6ZM190.4 838H207.4V842H190.4ZM1694.7 838H1711.7V842H1694.7ZM190.4 773.8H207.4V777.9H190.4ZM1694.7 773.8H1711.7V777.9H1694.7ZM190.4 1155H199.5V1159.1H190.4ZM1702.6 1155H1711.7V1159.1H1702.6ZM190.4 1149.9H199.5V1154H190.4ZM1702.6 1149.9H1711.7V1154H1702.6ZM190.4 1144.8H199.5V1148.9H190.4ZM1702.6 1144.8H1711.7V1148.9H1702.6ZM190.4 1139.6H199.5V1143.7H190.4ZM1702.6 1139.6H1711.7V1143.7H1702.6ZM190.4 1129.4H199.5V1133.5H190.4ZM1702.6 1129.4H1711.7V1133.5H1702.6ZM190.4 1124.3H199.5V1128.4H190.4ZM1702.6 1124.3H1711.7V1128.4H1702.6ZM190.4 1119.1H199.5V1123.2H190.4ZM1702.6 1119.1H1711.7V1123.2H1702.6ZM190.4 1114H199.5V1118.1H190.4ZM1702.6 1114H1711.7V1118.1H1702.6ZM190.4 1096.1H199.5V1100.2H190.4ZM1702.6 1096.1H1711.7V1100.2H1702.6ZM190.4 1083.3H199.5V1087.4H190.4ZM1702.6 1083.3H1711.7V1087.4H1702.6ZM190.4 1070.4H199.5V1074.5H190.4ZM1702.6 1070.4H1711.7V1074.5H1702.6ZM190.4 1044.8H199.5V1048.9H190.4ZM1702.6 1044.8H1711.7V1048.9H1702.6ZM190.4 1032H199.5V1036.1H190.4ZM1702.6 1032H1711.7V1036.1H1702.6ZM190.4 1019.2H199.5V1023.3H190.4ZM1702.6 1019.2H1711.7V1023.3H1702.6ZM190.4 993.6H199.5V997.7H190.4ZM1702.6 993.6H1711.7V997.7H1702.6ZM190.4 980.7H199.5V984.8H190.4ZM1702.6 980.7H1711.7V984.8H1702.6ZM190.4 967.9H199.5V972H190.4ZM1702.6 967.9H1711.7V972H1702.6ZM190.4 942.3H199.5V946.4H190.4ZM1702.6 942.3H1711.7V946.4H1702.6ZM190.4 929.5H199.5V933.6H190.4ZM1702.6 929.5H1711.7V933.6H1702.6ZM190.4 916.7H199.5V920.8H190.4ZM1702.6 916.7H1711.7V920.8H1702.6ZM190.4 1134.5H207.4V1138.6H190.4ZM1694.7 1134.5H1711.7V1138.6H1694.7ZM190.4 1108.9H207.4V1113H190.4ZM1694.7 1108.9H1711.7V1113H1694.7ZM190.4 1057.6H207.4V1061.7H190.4ZM1694.7 1057.6H1711.7V1061.7H1694.7ZM190.4 1006.4H207.4V1010.5H190.4ZM1694.7 1006.4H1711.7V1010.5H1694.7ZM190.4 955.1H207.4V959.2H190.4ZM1694.7 955.1H1711.7V959.2H1694.7Z" fill="#262626"/>
<g clip-path="url(#c1)" fill="none" stroke-width="3.6" stroke-linejoin="round" stroke-linecap="round">
<path d="M338.9 293.9L340.5 294.8L342.2 295.4L343.8 295.7L345.8 292.7L347.8 289.4L349.8 293.3L351.8 297.7L353.8 300.5L355.8 301.9" stroke="#00009f"/>
<path d="M649.9 324.8L651.6 325.5L653.3 326.1L654.9 326.5L656.6 326.2L658.2 326.5L659.9 328.2L661.6 328.9L663.2 329.2L664.9 329.7L666.6 329.6L668.2 329.1L669.9 329.5L671.6 330.2L673.3 331L675 331.7L676.8 332.4L678.5 333.2L680.2 333.5L681.9 333.9L683.5 333.8L685.1 333L686.7 332.3L688.3 332.3L689.9 332.1L691.5 331.7L693.1 330.9L694.7 330.5L696.3 331.2L697.9 330.7L699.6 329.6L701.3 329.2L703 328L704.7 326.5L706.4 325.7L708.1 325.1L709.9 324.6L711.6 324.4L713.3 324.4L715 324.5L716.7 324L718.4 323.4L720.1 322.8L721.8 322.3L723.6 321.7L725.3 321.3L727 321.6L728.7 321L730.4 319.4L732.1 319.3L733.8 319.1L735.4 318.9L737 317.8L738.6 317L740.2 317.4L741.8 317.7L743.4 318L745 316.3L746.6 315.2L748.2 315.7L749.8 315.7L751.5 315.4L753.2 314.8L755 314.8L756.7 315.1L758.4 314.5L760.1 313.7L761.8 312.8L763.4 313.3L765 313.2L766.6 312.6L768.2 312.1L769.8 311.6L771.4 311L773 310.1L774.6 308.8L776.2 307.8L777.8 306.8L779.5 305.5L781.2 305.5L782.9 305.5L784.6 304.3L786.4 303.6L788.1 303L789.8 302L791.4 301.3L793.1 300.8L794.8 300.4L796.4 300.3L798.1 300.5L799.8 298.3L801.4 296.5L803.1 295.7L804.8 295.5L806.4 295.2L808.1 294.8L809.8 293.6L811.4 292.3L813.1 290.2L814.8 288.8L816.4 287.7L818.1 288.3L819.8 287.9L821.4 286.5L823.1 285.5L824.7 284.9L826.4 285.1L828.1 284.5L829.7 283.6L831.2 282.3L832.7 281.2L834.2 280.4L835.7 279.5L837.2 278.7L838.7 277.5" stroke="#00009f"/>
<path d="M1136.8 351.8L1138.3 352.5L1139.8 352.8L1141.3 352.3L1142.8 352.9L1144.3 354.5L1145.8 355.1L1147.5 354.8L1149.1 354.6L1150.8 353.7L1152.5 352.5L1154.1 353.1L1155.8 353.7L1157.5 354.3L1159.1 353.2L1160.8 352.5L1162.5 353.2L1164.1 353.8L1165.8 353.9L1167.5 352.6L1169.2 353.1L1170.9 354L1172.6 353.3L1174.3 352.7L1176.1 352.3L1177.8 352.4L1179.5 352.7L1181.2 352.9L1182.9 352.7L1184.6 353L1186.3 353.4L1188 352.6L1189.8 352.4L1191.5 352.5L1193.2 353.1L1194.9 353.1L1196.6 352.5L1198.3 352L1200 352.1L1201.7 352.9L1203.4 353.1L1205.1 352.8L1206.7 351.8L1208.4 351.2L1210.1 351L1211.7 351.6L1213.3 351.5L1214.9 351.3L1216.5 351L1218.1 351.2L1219.7 351.7L1221.2 349.8L1222.7 347.6L1224.2 347.4L1225.7 346.4L1227.5 343.4L1229.2 341.6L1231 340.2L1232.7 338.8" stroke="#00009f"/>
<path d="M457.7 330.8L459.3 331.6L460.9 332.3L462.5 332.8L464.1 333.3L465.7 334L467.3 334.6L468.9 334.9L470.5 334.9L472.1 335.5L473.7 336.1L475.4 335.9L477.1 335.5L478.9 335.1L480.6 335.1L482.3 334.9L484 334.7L485.7 335.1L487.4 334.7L489.1 333.8L490.8 333.2L492.6 333L494.3 332.9L496 332.9L497.7 333.1L499.4 333.2L501.1 332.3L502.8 331.9L504.5 332L506.3 332.4L508 331.4L509.7 329L511.3 329.8L513 330.6L514.7 331.4L516.3 331.8L518 331.9L519.7 332L521.2 329.3L522.7 326.5L524.2 324.5L525.7 322.3L527.2 320.6L528.7 318.9L530.2 317L531.7 316.4L533.3 316L534.9 313.4L536.5 311.1L538.1 309.1L539.7 307.6L541.6 306.8L543.6 305.7L545.1 307L546.6 307.9L548.1 308L549.6 309.4L551.1 311.4L552.6 313.1L554.1 314.5L555.6 314.5L557.1 312.9L558.6 312.1L560.1 311.3L561.6 310.5L563.2 310.9L564.8 311.4L566.4 312.1L568 311.6L569.6 311.9" stroke="#0000bf"/>
<path d="M570 312.9L571.6 313.7L573.2 313.6L574.8 312.2L576.4 313.3L578 315L579.6 314.2L581.2 314.4L582.8 315.6L584.4 315.2L586 314.9L587.6 315.6L589.2 316.1L590.8 316.4L592.4 315.7L594 315.3L595.6 315.4L597.2 315.5L598.8 315.6L600.4 315.2L602 314.9L603.6 315L605.2 315.8L606.8 316.6L608.4 316.5L610 316.3L611.6 315.8L613.2 317.4L614.8 317.9L616.4 316.3L618 316.7L619.6 317.4L621.1 316.7L622.7 316.4L624.3 316.5L625.9 316.7L627.5 316.7L629.1 316.4L630.7 316.3L632.3 316.4L633.9 315.4L635.5 314.6L637.1 314.5L638.7 315.1L640.3 315.9L641.9 315L643.5 314.5L645.1 314.4L646.7 314.1L648.3 314.1L649.9 315.3L651.5 315.6L653.1 315.2L654.7 315.4L656.3 315.2L657.9 314L659.5 313.9L661.1 314.1L662.7 313.5L664.3 313.5L665.9 314.3L667.5 314.7L669.1 314.8L670.7 313.7L672.3 313.8L673.9 314.9L675.5 314.8L677.1 314.4L678.7 313.9L680.3 313.2L681.9 312.5L683.4 310.9L684.9 308.7L686.4 305.1L687.9 301.7L689.5 300.2L691.1 299.4L692.7 298.6L694.3 297.4L695.9 296.5L697.4 295L698.9 291.9L700.4 289.3L701.9 288.3L703.5 286.6L705.1 284.6L706.7 282.4L708.3 280L709.9 277L711.5 275.2L713.1 273.6L714.7 273L716.3 271.9L717.9 270.1L719.4 268.5L720.8 267L722.3 266.1L723.8 264.7L725.3 263L726.8 261.2L728.3 259.3L729.8 259.9" stroke="#0000bf"/>
<path d="M1330 245.9L1332 244.6L1334 242.8L1336 245.1L1338 247.9L1339.5 249.3L1341 250.4L1342.5 251.1L1344 252.3L1345.5 254.9L1347 256.3L1348.5 257.9L1350 260.4L1351.5 262.8L1353 265L1354.5 267L1356 269.1L1357.5 269.6L1359 270.5L1360.5 272.7L1362 273.9L1363.6 273.9L1365.3 275.5L1367 277.9" stroke="#0000bf"/>
<path d="M1425.9 233.9L1427.9 257.9L1429.9 263.5L1431.9 269.4L1433.4 273.2L1434.9 276L1436.4 278.6L1437.9 283.6L1439.9 274.5L1441.9 264.8L1443.9 250L1445.9 240.1L1447.9 246.8L1449.9 252.3L1451.9 254.3L1453.9 256.7L1455.9 244.1L1457.9 233.7L1459.4 244.7L1460.9 249.4L1462.4 256.7L1463.9 270.6L1465.4 275.4L1466.9 280.8L1468.4 284.4L1469.9 286.5L1471.5 285.5L1473.1 285L1474.7 286.5L1476.3 286.8L1477.9 286.3L1479.5 285.2L1481 284.5L1482.6 284.7L1484.2 286.3L1485.8 288.5L1487.4 291.2L1489 291.9L1490.6 290.1L1492.2 289.7L1493.8 291.9" stroke="#0000bf"/>
<path d="M1312.6 246.9L1314.6 242.7L1316.6 239.6L1318.3 241.8L1320 242.5L1321.6 245.1L1323.6 244.8L1325.6 243L1327.6 243L1329.6 244.9" stroke="#0000df"/>
<path d="M1350 313.9L1351.6 312.4L1353.3 311.4L1355 311L1356.6 309.8L1358.3 308.7L1360 308.3L1361.6 307.8L1363.3 307.1L1365 306.4L1366.6 305.6L1368.3 304.8L1370 304.6L1371.6 303.7L1373.3 302.4L1375 301.9L1376.6 299.3L1378.3 293.1L1380 296.2L1381.5 300.1L1383.1 300.1L1384.7 297.7L1386.3 293.8L1387.9 292.6L1389.4 292.2L1390.9 295.2L1392.4 291.7L1393.9 283.4L1395.6 281.5L1397.3 281.2L1398.9 280.6L1400.4 270.3L1401.9 257.1L1403.9 265.8L1405.9 274.1L1407.9 276.1L1409.9 273.6L1411.9 274.8L1413.9 275.3L1415.9 270.2L1417.9 265.9" stroke="#0000df"/>
<path d="M776.8 345.8L778.5 344.3L780.3 342.8L782 341.2L783.8 339.3L785.3 337.7L786.8 336.5L788.3 335.5L789.8 334.5L791.4 333.1L793.1 331.7L794.8 330.3L796.4 329.2L798.1 328.7L799.8 329.4L801.4 328.5L803.1 327L804.8 325.9L806.4 324L808.1 321.8L809.8 322.5L811.4 322.8L813.1 322.2L814.8 322.2L816.4 321.9L818.1 320.8L819.8 320L821.4 318.7L823.1 317.8L824.7 315.9L826.4 313.9L828.1 314.2L829.7 313.4L831.4 312.1L833.1 310.6L834.7 309.8L836.4 309.7L838.1 309.1L839.7 307.7L841.4 305.7L843.1 305.1L844.7 305L846.4 304.9L848.1 304.5L849.7 304L851.4 303.2L853.1 302.4L854.7 301.6L856.4 302.5L858 302.7L859.7 301.7L861.4 299.9L863 298.3L864.7 297.4L866.4 297.6L868 297.9L869.7 296.8L871.4 296.3L873.1 296.1L874.8 295L876.6 293.7L878.3 292.4L880 292.4L881.7 291.4L883.4 289.3L885.1 289L886.8 288.5L888.5 287.8L890.3 287.1L892 286L893.7 284.4L895.3 284.1L896.9 283.9L898.5 283.6L900.1 283.2L901.7 282.7L903.3 282.3L904.9 281.8L906.5 281.1L908.1 280.3L909.7 279.7L911.3 279.9L913 279.6L914.7 278.9L916.3 278.1L918 277.6L919.7 277.4L921.3 277.2L923 276.9L924.6 276.3L926.3 275.9L928 275.5L929.6 274.9L931.4 274.7L933.1 274.4L934.8 274L936.5 273.3L938.2 272.6L939.9 273.2L941.6 273.4L943.2 273.1L944.8 272.2L946.4 271.3L948 270.4L949.6 269.9" stroke="#0020ff"/>
<path d="M950 272.9L951.6 271.5L953.2 270L954.8 268.1L956.4 267.2L958 266.3L959.7 265L961.3 263.7L963 262.4L964.7 262.7L966.3 263.2L968 263.9L969.7 263.7L971.4 263.3L973.1 263.2L974.8 263.8L976.5 264.7L978.3 265.7L980 266.3L981.6 265.7L983.3 265.1L985 265L986.6 265L988.3 264.1L990 263.2L991.6 262.1L993.2 261.6L994.8 261.1L996.4 260.8L998 259.9L999.8 258.6L1001.5 256.9" stroke="#0020ff"/>
<path d="M1495.8 247.9L1497.8 246.3L1499.8 242.3L1501.8 248.2L1503.8 256.4L1505.5 259.7L1507.2 263.6L1508.8 268.1L1510.8 263L1512.8 262.9L1514.8 264.6L1516.8 261.6L1518.5 262.4L1520.1 264.6L1521.8 268.1L1523.5 274.6L1525.1 277.5L1526.8 275.7L1528.3 274.5L1529.8 274L1531.3 277.6L1532.8 280.7L1534.3 282.9L1535.8 284.9L1537.3 288.2L1538.8 294.8L1540.3 299.4L1541.8 302.6L1543.4 304.1L1545 306L1546.6 306.5L1548.2 306.7L1549.8 306.4L1551.4 306.4L1553.1 307.2L1554.8 306.4L1556.4 305.6L1558.1 304.7L1559.8 304.1L1561.4 304.5L1563.1 304.7L1564.8 306.4L1566.4 307.5L1568.1 305.5L1569.8 306.1L1571.4 307.3L1573.1 308L1574.8 307.7L1576.4 306.8L1578.1 307.7L1579.8 307.8L1581.2 308L1582.7 309.6L1584.2 311.8L1585.7 313.9L1587.2 317.8L1588.7 321L1590.2 324L1591.7 326.9L1593.7 324.1L1595.7 321.8" stroke="#0020ff"/>
<path d="M1601.7 342.8L1603.2 343.1L1604.7 342.8L1606.2 340.9L1607.7 340L1609.4 344.9L1611.1 348.1L1612.7 352.3L1614.4 356L1616 358.2L1617.7 359.4L1619.7 339.8L1621.2 347.6L1622.7 355.8L1624.2 347.3L1625.7 338L1627.7 332.8L1629.7 329.7L1631.7 331.1L1633.7 332.7L1635.4 337.4L1637 341.2L1638.7 345.5L1640.2 341L1641.7 336L1643.2 335.1L1644.7 334.4L1646.2 333.6L1647.7 331.8" stroke="#0020ff"/>
<path d="M190 305.9L191.6 306.6L193.2 308.2L194.8 310.9L196.4 312.7L198 314.3L199.6 315.4L201.2 317.1L202.8 319.2L204.4 320.6L206 322L207.6 322L209.2 320.6L210.8 318.3L212.4 318.2L214 318.4L215.6 321.5L217.2 323.7L218.8 325.5L220.4 327.4L222 329.5L224 330.2L226 330.8" stroke="#0040ff"/>
<path d="M529.7 315.9L531.3 314.6L533 313.3L534.7 311.9L536.3 310.9L538 309.5L539.7 307.1L541.3 307.6L543 308.5L544.6 309.2L546.3 309.1L548 308.6L549.6 309.6L551.3 309.3L553 308.6L554.6 307.3L556.3 306.4L558 306.2L559.6 305.6L561.3 306.1L563 306.8L564.6 307.3L566.3 307.6L568 307.6L569.6 307.9" stroke="#0040ff"/>
<path d="M570 312.9L571.7 313.4L573.3 313.6L575 313.6L576.7 313.3L578.3 313L580 312.9L581.7 313.4L583.3 313.9L585 313.9L586.7 313.9L588.3 313.9L590 314.5L591.6 314.6L593.3 314.3L595 314.5L596.6 314.7L598.3 314.8L600 314.4L601.6 314.3L603.3 315.5L605 315L606.6 313.9L608.3 314.5L610 314.4L611.6 314.2L613.2 315L614.9 314.8L616.5 313.5L618.1 314.1L619.8 315L621.4 315.8L623 316.3L624.7 316.8L626.3 317.9L627.9 318.2L629.5 316.4L631.1 315.9L632.7 315.4L634.3 314.3L635.9 313.5L637.5 313.6L639 313.4L640.6 313.2L642.2 312.9L643.7 312.9L645.3 313.2L646.8 312.6L648.4 312.3L649.9 313.3L651.6 312.9L653.3 311.8L654.9 312.2L656.6 312.8L658.2 313.5L659.9 312.4L661.6 311.9L663.2 312.2L664.9 312.8L666.6 313.3L668.2 312.9L669.9 312.6L671.6 312.3L673.3 312.8L675 313.1L676.8 313.3L678.5 313.4L680.2 313L681.9 312.3L683.5 313.5L685.1 314.2L686.7 314.1L688.3 313.5L689.9 312.9L691.5 313.2L693.1 313.3L694.7 313.2L696.3 314.1L697.9 314.6L699.5 313.1L701.2 312.8L702.9 312.8L704.5 311.7L706.2 310.9L707.9 310.9" stroke="#0040ff"/>
<path d="M1299.7 334.8L1301.2 335.1L1302.8 335.8L1304.4 337.1L1306 337.5L1307.6 337.8L1309.2 338L1310.8 338.3L1312.4 338.9L1314 338.8L1315.6 338.5L1317.1 336.5L1318.6 335.6L1320.1 335.5L1321.6 333.8L1323.2 331.9L1324.8 331.2L1326.4 330.1L1328 328.4L1329.6 327.8" stroke="#0040ff"/>
<path d="M1330 327.8L1331.6 326.5L1333.2 324.4L1334.8 321.2L1336.4 318.8L1338 316.7L1339.6 313.1L1341.2 310.1L1342.8 307.8L1344.4 303.7L1346 299.6L1348 289.8L1350 279.7L1352 264.7L1354 249.7L1355.5 237.2L1357 225.4L1358.5 233.9L1360 241.4L1361.5 217L1363 193.6L1365 192L1366.5 201.2L1368 210.2L1369.5 206.2L1371 201.9L1373 215.5L1375 233.6L1376.5 247.3L1378 259.5L1380 266.7L1381.9 278.8L1383.5 279.8L1385.1 280.5L1386.7 281.2L1388.3 282.6L1389.9 284.3L1391.7 284.4L1393.4 284.5L1395.1 284.6L1396.8 286.4L1398.5 288.3L1400.2 290.2L1401.9 291.3L1403.4 289.1L1404.9 286.7L1406.4 286.1L1407.9 286.4L1409.9 315.9L1411.9 320.8L1413.9 330.3L1415.9 338.6L1417.9 332.8" stroke="#0040ff"/>
<path d="M645.9 318.8L647.5 318.8L649 318.8L650.6 318.8L652.1 318.5L653.7 318.1L655.2 318.3L656.8 318.3L658.4 318.1L659.9 318.1L661.5 318.2L663 316.8L664.6 315.9L666.1 316.1L667.7 316.3L669.2 316.5L670.8 315.9L672.3 315.3L673.9 315.1L675.5 315.4L677.1 316.1L678.7 315.4L680.3 315.2L681.9 315.7L683.5 315.8L685.1 315.7L686.7 315.4L688.3 315.2L689.9 315.2L691.5 314.6L693.2 313.8L694.9 312.7L696.5 312.6L698.2 312.8L699.9 312.6L701.5 312L703.2 311.1L704.9 310.9L706.5 310.8L708.2 310.8L709.9 309.7L711.5 309.1L713.2 309.5L714.9 309.8L716.5 309.6L718.2 308.2L719.9 307.7L721.5 307.6L723.2 307.1L724.8 307.2L726.5 307.7L728.2 306.8L729.8 306.2L731.5 306L733.2 304.9L734.8 303.9L736.5 303.8L738.2 303.4L739.8 302.7L741.5 301.4L743.2 301.5L744.8 302.4L746.5 301.7L748.2 300.4L749.8 298.6L751.5 299L753.2 298.8L755 297.7L756.7 297.2L758.4 296.6L760.1 295.9L761.8 294.3L763.4 292.7L765 292.1L766.6 291.6L768.2 291.1L769.8 289L771.4 287.2L773 285.7L774.6 284.4L776.2 283.1L777.8 281.9L779.4 279.8L781 277.9L782.6 275.9L784.2 273.6L785.8 270.4L787.3 271.2L788.8 272.1L790.3 273.8L791.8 275.4L793.4 273.5L795.1 272.5L796.8 271.9L798.4 272L800.1 271.8L801.8 271.3L803.5 270.9L805.2 270.7L806.9 270.9L808.6 271.8L810.3 272.5L812 272.8L813.8 272.4L815.3 271.3L816.9 271L818.4 270.3L820 269.4L821.5 269L823.1 268.5L824.6 267.5L826.2 266.6L827.7 265.8L829.5 265.3L831.2 265L832.9 265.3L834.6 265.1L836.3 264.5L838 263.2L839.7 263.1L841.4 263L843.1 261.9L844.7 261.6L846.4 261.7L848.1 261.7L849.7 261.7L851.3 263.2L852.9 263.6L854.5 264.3L856.1 265.6L857.7 266.9L859.3 266.9L860.9 266.2L862.5 266.1L864.1 266.8L865.7 266.6L867.3 266.7L868.9 267.4L870.5 267.3L872.1 266.9L873.7 266.7L875.3 267.5L876.9 269.3L878.5 270.4L880.1 271.2L881.7 271.7L883.4 272.3L885.1 273.4L886.8 273.3L888.5 273.3L890.3 273.6L892 274.5L893.7 274.8L895.3 274.3L896.9 274.9L898.5 275.6L900.1 276.3L901.7 277.1L903.3 277.9L904.9 277.9L906.5 278L908.1 278.6L909.7 278.8L911.4 278.6L913.1 279.2L914.8 280L916.5 280.6L918.2 279.6L919.9 280.1L921.6 281.5L923.3 280.9L924.9 281L926.6 282L928.2 282.9L929.8 283.8L931.5 284.9L933.1 285L934.7 284.7L936.4 285L938 286.3L939.6 288.3L941.3 289.1L943 289.8L944.6 290.4L946.3 291.8L948 292.9L949.6 291.9" stroke="#0060ff"/>
<path d="M950 291.9L951.7 292.2L953.3 292.8L955 293.5L956.7 292.6L958.3 291.9L960 292.5L961.7 292L963.3 291.7L965 294.2L966.7 295.1L968.3 295.1L970 296.3L971.6 297.4L973.3 298.5L975 298L976.6 297.8L978.3 298.2L980 298.6L981.6 299.9L983.2 301.1L984.8 302.5L986.4 304L988 306L989.6 307.4L991.2 308.4L992.8 309.5L994.4 310.7L996 311.8L997.6 313L999.2 314.5L1000.7 315.4L1002.3 316.2L1003.9 316.9L1005.5 317.8L1007.1 318.9L1008.7 319.4L1010.3 319.8L1011.9 320.1L1013.5 321.2L1015.1 322.7L1016.7 322.6L1018.3 322.5L1019.9 322.2L1021.7 322.6L1023.4 322.8L1025.2 322.1L1026.9 321.4" stroke="#0060ff"/>
<path d="M1647.7 333.8L1649.7 296.7L1651.7 289.5L1653.7 282L1655.2 277.8L1656.7 272.9L1658.2 283.1L1659.7 295.9L1661.2 300.8L1662.7 304.2L1664.2 296.8L1665.7 289.6L1667.7 291.1L1669.7 292.1L1671.2 293L1672.7 294.4L1674.2 295.5L1675.7 295.7L1677.2 296.1L1678.7 296.8L1680.1 296.1L1681.6 295.4L1683.1 298.1L1684.6 300.6L1686.1 302.9L1687.6 305L1689.1 307.4L1690.6 308.4L1692.1 309.4L1693.6 311.6L1695.1 312L1696.6 312.9L1698.1 312.1L1699.6 310.5L1701.1 311.9L1702.6 313.4L1704.1 314.8L1705.6 315.3L1707.6 315L1709.6 315.9" stroke="#0060ff"/>
<path d="M190 299.9L191.5 302.3L193 304.8L194.5 307.5L196 310.5L197.5 312.9L199 315.4L200.5 317.8L202 316.6L203.6 315.7L205.2 316.6L206.8 318.1L208.4 319.6L210 319L211.6 320.6L213.2 323.6L214.8 325.4L216.4 326.9L218 327.7L219.7 328.4L221.5 329.3L223.2 327.7L225 329.1L226.6 329.3L228.3 325.8L230 324L231.6 325.2L233.2 325.7L234.8 326.3L236.4 326.8L238 328.1L239.7 329.2L241.4 328.5L243.1 328.1L244.8 327.9L246.5 329L248.2 330.1L249.9 331.1L251.7 327.7L253.4 325.6L255.2 324.2L256.9 323.4L258.9 314L260.9 303.9L262.9 292L264.9 283.2L266.6 285.6L268.3 287.2L269.9 287.2L271.5 286.1L273.1 286.2L274.7 285.6L276.3 285.1L277.9 284.5L279.5 284.1L281.1 283.5L282.7 282.7L284.3 281.9L285.9 281.2L287.5 280.7L289.1 280.4L290.7 280.1L292.3 278.9L293.9 277.1L295.6 275.8L297.2 274.6L298.9 273.8L300.6 269.8L302.2 266L303.9 263.4L305.9 262.6L307.9 261.8L309.9 248.2L311.5 246.3L313.2 244.7L314.9 243.3L316.9 246.5L318.9 249.8L320.4 247.8L321.9 245.5L323.7 240.1L325.5 235L327.9 244.5L329.9 256.7L331.4 260.9L332.9 265.2L334.4 270.2L335.9 275.3L337.9 281L339.9 285.6L341.8 286.8L343.8 289L345.3 289.8L346.8 291.5L348.3 293.8L349.8 296L351.3 297.7L352.8 298.4L354.3 299.6L355.8 301.9L357.4 302.9L359 303.4L360.6 303.4L362.2 304.1L363.8 305.8L365.5 306.6L367.2 306.8L368.8 305.5L370.5 306L372.2 307.3L373.8 307.2L375.4 307.7L377 308.4L378.6 309L380.2 309.7L381.8 310.7L383.4 310.8L385 310.5L386.6 311.4L388.2 311.9L389.8 311.7L391.4 312.3L393 313.1L394.6 312.8L396.2 313L397.8 313.7L399.4 314.7L401 315.4L402.6 315L404.2 314.8L405.8 314.9" stroke="#0080ff"/>
<path d="M757.8 266.9L759.5 267.8L761.2 268.9L762.9 270.2L764.7 270.8L766.4 271.5L768.1 272.4L769.8 273L771.5 273.9L773.1 275.5L774.8 275.7L776.5 275.9L778.1 276.7L779.8 278L781.3 276.5L782.8 274.2L784.3 271.9L785.8 269.9" stroke="#0080ff"/>
<path d="M1696.6 245.9L1698.3 250.4L1700 254.6L1701.6 258.3L1703.6 252L1705.6 247.4L1707.6 249.3L1709.6 249.9" stroke="#0080ff"/>
<path d="M707.9 311.9L709.6 310.9L711.3 309.9L713 309L714.7 308.7L716.4 308.3L718.1 307.7L719.9 305.9L721.4 304.5L723 304L724.5 302.8L726.1 301.2L727.6 301.6L729.2 301.2L730.7 298.9L732.3 298L733.8 297.8L735.4 296.5L737 295.8L738.6 296.1L740.2 296.4L741.8 296.3L743.4 293.7L745 292.6L746.6 293.2L748.2 293.3L749.8 293.2L751.4 292.5L752.9 291.8L754.5 291.1L756 291.7L757.6 292.1L759.1 290.7L760.7 289.4L762.3 288.2L763.8 288.6L765.4 288.5L766.9 286.6L768.5 285.9L770 286.4L771.6 285.2L773.1 283.8L774.7 283.4L776.2 283L777.8 282.7L779.5 281.6L781.2 280.3L782.9 278.8L784.6 277.9L786.4 277.4L788.1 278.2L789.8 277.6L791.3 276.9L792.9 275.7L794.4 275.3L796 275.6L797.6 275.2L799.1 274.6L800.7 274.2L802.2 273.2L803.8 271.4L805.4 271.9L807 272.8L808.6 273.3L810.2 273.5L811.8 273.4L813.4 273.5L815 273.1L816.6 271.5L818.2 271.9L819.8 273L821.4 272.7L823.1 272.7L824.7 273.2L826.4 271.2L828.1 269.8L829.7 269.6L831.4 269.1L833.1 268.7L834.7 268.4L836.4 267.5L838.1 266.3L839.7 266.4L841.4 265.9L843.1 264.6L844.7 264.8L846.4 264.6L848.1 263.9L849.7 263.8L851.3 261.9L852.9 259.5L854.5 257.1L856.1 254.7L857.7 254L859.3 253.8L860.9 252.6L862.5 251.4L864.1 250.3L865.7 249.9L867.3 250L868.9 250.2L870.5 249.2L872.1 248.5L873.7 248.7L875.3 248L876.9 247.3L878.5 246.3L880.1 245.1L881.7 243.8L883.3 241.8L884.9 240.1L886.5 240.5L888.1 239.8L889.7 238.2L891.3 237.9L892.9 237.6L894.5 237.4L896.1 237.4L897.7 237.3" stroke="#009fff"/>
<path d="M936.6 317.5L938.4 318L940.1 318.7L941.9 319.5L943.6 320.1L945.1 321.3L946.6 323.1L948.1 323.7L949.6 324.8" stroke="#009fff"/>
<path d="M950 324.8L951.7 325.5L953.3 326.3L955 327.3L956.7 327.4L958.3 327.4L960 327.4L961.7 328.1L963.3 328.9L965 329.4L966.7 329.4L968.3 329.1L970 330.1L971.6 330.9L973.3 331.6L975 331.7L976.6 331.9L978.3 332.5L980 333.2L981.6 333.7L983.3 334.1L985 334.5L986.6 334.8L988.3 335L990 335L991.6 335.3L993.3 336.1L995 336.8L996.6 337.3L998.3 337.9L1000 338.6L1001.6 339.3L1003.3 339.5L1004.9 339.7L1006.6 341L1008.3 342L1009.9 342.8L1011.6 342.7L1013.3 343L1014.9 343.8L1016.6 344.4L1018.3 344.8L1019.9 344.8L1021.6 345.8L1023.3 346.1L1024.9 344L1026.6 344.4L1028.3 345.4L1029.9 344.8L1031.6 345.8L1033.3 347.6L1034.9 348.9L1036.6 348.7L1038.2 346.7L1039.9 348.1L1041.6 349.3L1043.2 349.8L1044.9 349.9L1046.6 350L1048.2 350.8L1049.9 350.4L1051.6 349.3L1053.2 350.8L1054.9 351.3L1056.6 351.1L1058.2 350.9L1059.9 350.7L1061.5 350.7L1063 351.3L1064.6 351.9L1066.2 351.7L1067.7 351.8L1069.3 352.2" stroke="#009fff"/>
<path d="M1515.8 313.9L1517.3 315.8L1518.8 317.9L1520.3 320.2L1521.8 322.7L1523.3 320.5L1524.8 315.9L1526.3 310.8L1527.8 309L1529.8 314.4L1531.8 319.2L1533.3 318L1534.8 318L1536.3 319L1537.8 315.9" stroke="#009fff"/>
<path d="M238 281.9L239.5 281.9L240.9 281.8L242.4 281.7L243.9 280.9L245.9 284.7L247.9 289.1L249.4 294.2L250.9 298.9L252.2 283.9L253.5 268.8L255.1 246.3L256.3 275L257.6 281.7L258.9 288.4L260.9 281.4L262.9 276.4L264.6 275.1L266.3 274.1L267.9 271.5L269.4 273.1L270.9 274L272.4 275.4L273.9 277.3L275.5 278.9L277.1 280.4L278.7 281.2L280.3 282.6L281.9 284.7L283.5 285.1L285.1 285.3L286.7 285.6L288.3 286.9L289.9 288.8L291.9 288.8L293.9 289.7L295.5 289.2L297.1 288.3L298.7 287.4L300.3 286.4L301.9 285.9L303.5 286.4L305.1 286.3L306.7 286.2L308.3 286.1L309.9 286.3L311.5 287.2L313.1 288.4L314.7 289.5L316.3 290.6L317.9 291.7L319.5 293.1L321.1 294.3L322.7 295.7L324.3 297L325.9 298L327.5 298.9L329.1 299.7L330.7 300.9L332.3 301.8L333.9 302.4L335.5 304.2L337.1 306.2L338.7 307.7L340.2 309L341.8 310.3L343.4 310.8L345 311.4L346.6 312.1L348.2 313.3L349.8 314.5L351.5 314.8L353.2 315.4L354.8 316.4L356.5 317L358.2 317.6L359.8 318L361.5 319.4L363.2 320.6L364.8 320.7L366.5 321.5L368.2 322.6L369.8 323.3L371.5 323.9L373.2 324.6L374.8 326.4L376.5 327.7L378.1 328.5L379.8 328.4L381.5 328.6L383.1 329.5L384.8 330.5L386.5 331.4L388.1 331.8L389.8 332.6L391.5 333.7L393.1 333.5L394.8 334L396.5 335.3L398.1 336.9L399.8 338.4L401.5 339.5L403.1 339.7L404.8 339.8L406.5 340L408.1 340.7L409.8 341.5L411.4 342.2L413.1 342.9L414.8 343.7L416.4 345.7L418.1 346.7L419.8 346.5L421.4 347L423.1 347.8L424.8 349.2L426.4 349.4L428.1 349.3L429.8 349.2L431.4 349.2L433 349.2L434.6 350L436.2 350.9L437.8 351.9L439.3 352.2L440.7 352.3L442.2 353.1L443.7 353.6L445.4 352.4L447.1 351.7L448.7 350.8" stroke="#00bfff"/>
<path d="M1073.9 329.8L1075.6 329L1077.3 328.8L1079 329.3L1080.7 329.4L1082.4 329.1L1084.2 328.6L1085.9 328.5L1087.5 328.2L1089.1 328.1L1090.7 328L1092.3 327.9L1093.9 326.6L1095.5 325.6L1097.1 324.9L1098.7 323.5L1100.2 322.7L1101.8 323.7L1103.4 323.8L1105 322.9L1106.6 322.9L1108.2 322.6L1109.8 322.1L1111.6 322.5L1113.3 323L1115 322.6L1116.7 323L1118.4 323.6L1120.1 324L1121.8 324.1L1123.4 323.7L1125 323.6L1126.6 323.2L1128.2 322.5L1129.8 323.1L1131.5 323.9L1133.2 323.2L1135 322.8L1136.7 322.8L1138.4 323.9L1140.1 324.2L1141.8 324.2L1143.4 324.3L1145.1 324.6L1146.7 325.1L1148.3 325.6L1150 325.7L1151.6 325.2L1153.3 325.6L1154.9 326.4L1156.5 327.3L1158.2 327.5L1159.8 327.3L1161.5 327.1L1163.1 327.1L1164.8 327.4L1166.5 327.5L1168.1 327.6L1169.8 327.8L1171.4 328.3L1173.1 328.6L1174.8 328.4L1176.4 327.7L1178.1 327L1179.8 328.3L1181.4 328.9L1183 328.8L1184.6 329.7L1186.2 330.4L1187.8 330.1L1189.4 330.4L1191 331.1L1192.6 332.3L1194.2 332.5L1195.8 331.8" stroke="#00bfff"/>
<path d="M295.9 310.9L297.4 308.6L298.9 306.6L300.4 305.6L301.9 305L303.4 305.4L304.9 304.8L306.4 303.9L307.9 302.8L309.9 299.6L311.9 297L313.9 299.2L315.9 299.6L317.9 303.4L319.9 307.7L321.9 309.1L323.9 310.7L325.9 309.6L327.9 308.1L329.4 307L330.9 305.8L332.4 304.7L333.9 304L335.5 303.6L337.2 303.7L338.9 303.1L340.5 297.4L342.2 291.2L343.8 285.9L345.3 282.2L346.8 278.1L348.8 288L350.3 289.9L351.8 291.7L353.3 290.9L354.8 290.1L356.3 289.5L357.8 289.4L359.3 290.7L360.8 291.7L362.3 294.4L363.8 295.9" stroke="#00dfff"/>
<path d="M1077.9 346.8L1079.6 347.4L1081.3 347.1L1083 345.9L1084.7 347.8L1086.4 348.7L1088.1 348.3L1089.9 349L1091.5 349L1093.1 347.7L1094.7 348.1L1096.3 349L1097.9 349.2L1099.6 348.5L1101.3 347.8L1103 347.2L1104.7 346.9L1106.4 346.7L1108.1 345L1109.8 343.8L1111.3 344.6L1112.8 345.3L1114.3 346L1115.8 347.2L1117.4 347.6L1119 347.8L1120.6 348.3L1122.2 348.9L1123.8 349L1125.3 348L1126.8 346.9L1128.3 345.6L1129.8 344.3L1131.5 344.6L1133.2 345.1L1134.8 345.9L1136.5 346.1L1138.1 346.1L1139.8 346L1141.5 345.6L1143.1 345.4L1144.8 346.1L1146.5 345.7L1148.1 344.6L1149.8 345L1151.5 345.3L1153.2 345.4L1154.9 344.6L1156.7 344.3L1158.4 344.7L1160.1 343.7L1161.8 343.4L1163.3 344.1L1164.8 343.8L1166.3 343.2L1167.8 342.8" stroke="#00dfff"/>
<path d="M525.7 289.9L527.3 290.1L528.9 289.7L530.5 288.4L532.1 287.9L533.7 287.8L535.3 286.6L536.9 285.1L538.5 283.5L540 282.3L541.6 281L543.1 281.9L544.6 283.2L546.1 285L547.6 286.2L549.1 285.4L550.6 285L552.1 284.1L553.6 282.3L555.2 283.5L556.8 285.9L558.4 286L560 286L561.6 285.8L563.2 286.6L564.8 287.8L566.4 288.3L568 289L569.6 288.9" stroke="#00ffff"/>
<path d="M570 289.9L571.6 290.6L573.2 291.8L574.8 293.8L576.4 294L578 293.8L579.6 295L581.2 295.7L582.8 296.1L584.4 296.5L586 297.3L587.5 299.7L589 301.6L590.5 303.1L592 304.8L593.5 305.5L595 305.7L596.5 305.8L598 305.9" stroke="#00ffff"/>
<path d="M1179.8 321.8L1181.4 322L1183.1 322.3L1184.8 322.7L1186.4 323.8L1188.1 324.7L1189.8 325.1L1191.5 325.9L1193.2 326.7L1194.9 327.9L1196.6 328.9L1198.3 329.8L1200 330.9L1201.7 332.2L1203.3 333.2L1204.9 334.1L1206.5 334.6L1208.1 334.6L1209.7 335L1211.3 335.4L1212.9 337.2L1214.5 337.7L1216.1 337.5L1217.7 338.4L1219.4 338.1L1221.2 336.7L1222.9 337L1224.6 337.4L1226.3 337.5L1228 336.9L1229.7 336.5L1231.4 336.9L1233.1 337.5L1234.7 338L1236.4 338.2L1238 338.4L1239.7 338.5L1241.4 337.3L1243 336.7L1244.7 336.4L1246.4 337.3L1248 337.9L1249.7 338.1L1251.4 337.8L1253 337.3L1254.7 336.5L1256.4 337L1258 337.8L1259.7 337.7L1261.4 337.6L1263 337.4L1264.7 336.9L1266.4 336.7L1268 337.1L1269.7 337.3L1271.3 337L1273 336.1L1274.7 335.2L1276.3 334.7L1278 335.5L1279.7 335.6L1281.3 335.4L1283 335L1284.7 334.8L1286.3 335L1288 334.1L1289.7 333.5L1291.3 333.5L1293 333.2L1294.7 333L1296.3 333.2L1298 333.4L1299.7 333.4L1301.3 332.2L1303 332.3L1304.6 333.1L1306.3 332.6L1308 332.1L1309.6 331.5L1311.3 331.2L1313 331.2L1314.6 331.6L1316.3 330.8L1318 329.9L1319.6 329.7L1321.3 329.3L1323 328.8L1324.6 329.4L1326.3 329.8L1328 330L1329.6 328.8" stroke="#00ffff"/>
<path d="M1426.9 184L1428.4 195.3L1429.9 205.7L1431.9 217.8L1433.9 223.3L1435.9 224.1L1437.6 224.1L1439.2 225.3L1440.9 227.8L1442.4 226L1443.9 223.4L1445.9 202.9L1447.9 201.2L1449.9 196.2L1451.9 196.6L1453.9 201.3L1455.4 206.2L1456.9 207.1L1458.4 207.2L1459.9 205.5" stroke="#00ffff"/>
<path d="M1330 321.8L1331.7 320.9L1333.3 320.2L1335 320L1336.7 319.1L1338.3 318L1340 316.5L1341.7 316.5L1343.3 316.5L1345 315L1346.7 314.8L1348.3 315.1L1350 313.4L1351.6 313.4L1353.3 314L1355 314.3L1356.6 314.6L1358.3 315.1L1360 316.2L1361.6 315.6L1363.2 314.2L1364.8 312.8L1366.4 311.5L1368 310.2L1369.6 304.4L1371.3 298.2L1373 293.1L1374.6 291.3L1376.3 288.4L1378 285.5L1380 291.7L1381.9 301.4L1383.4 300.8L1384.9 300.5L1386.4 302.1L1387.9 303.3L1389.4 303.2L1390.9 302.1L1392.4 300.9L1393.9 306.3L1395.4 309.7L1396.9 310.5L1398.4 309.4L1399.9 306.8L1401.6 305.1L1403.3 303.1L1404.9 300.2L1406.6 304.1L1408.3 310.1L1409.9 312.9L1411.4 313.6L1412.9 312.6L1414.4 314L1415.9 315.9L1417.6 316L1419.2 315.2L1420.9 309.9" stroke="#00ffff"/>
<path d="M190 309.9L191.5 313.5L193 316.5L194.5 317.5L196 320.1L197.5 323L199 324.5L200.5 325.8L202 328.9L203.5 330.4L205 331.5L206.5 331.4L208 330.4L209.5 332L211 334.1L212.5 339.5L214 343.5L215.5 344.4L217 346.5L218.5 349.2L220 348.8L221.5 346.5L223 347.8L224.5 348.6L226 348.7L227.5 348.4L229 347.8L230.5 345.5L232 343.6L233.5 342L235 340.1L236.5 337.7L238 336.4L239.5 337.8L240.9 338.4L242.4 338.6L243.9 338.3L245.4 338.5L246.9 338.5L248.4 341L249.9 343.8L251.4 342L252.9 341L254.4 341.2L255.9 340.6L257.9 335.5L259.9 332.1L261.4 325.5L262.9 318.6L264.4 325L265.9 331.8" stroke="#20ffdf"/>
<path d="M886.7 302.9L888.3 301.7L890 300.7L891.7 299.7L893.3 299.8L894.9 299.7L896.5 299.4L898.1 298.7L899.7 297.9L901.2 296.7L902.7 295.6L904.2 295L905.7 294.1L907.3 292.2L909 291.1L910.7 289.2L912.3 289.2L914 291.3L915.7 293.7L917.2 294.3L918.7 294.4L920.1 294.1L921.6 294.9L923.1 294.5L924.6 294.2L926.1 293.7L927.6 292.6L929.1 293.1L930.6 293.7L932.1 294.5L933.6 295.2L935.2 294.2L936.8 293.7L938.4 293.9L940 293.2L941.6 292.4L943.2 293L944.8 294L946.4 295.1L948 295.2L949.6 295.9" stroke="#20ffdf"/>
<path d="M950 290.9L951.7 291.1L953.3 291.6L955 292.4L956.7 292.3L958.3 292.5L960 293.5L961.7 292.8L963.3 292.1L965 293L966.7 293L968.3 292.5L970 292.3L971.6 291.2L973.3 290.8L975 288L976.5 287.9L978.1 289.4L979.7 289.7L981.3 289.5L982.8 290.2L984.4 290.3L986 289.4L987.6 289.8L989.2 290.6L990.8 290.6L992.4 290.2L994 289.4L995.6 289.2L997.2 289.3L998.8 290.4L1000.3 290.2L1001.9 289L1003.7 289.1L1005.4 289.4L1007.1 289.7L1008.8 290.6L1010.5 291.3L1012.2 291.7L1013.9 292.1L1015.5 292.1L1017.1 292.8L1018.7 292.2L1020.3 291.3L1021.9 291.5L1023.5 291.8L1025.1 292.2L1026.7 291.2L1028.3 290.4L1029.9 291.2L1031.5 292.1L1033.1 292.6L1034.7 291.5L1036.3 290.7L1037.9 291L1039.5 291.3L1041.1 291.5L1042.7 291.3L1044.3 291.8L1045.9 293L1047.6 293L1049.2 293.1L1050.9 294.9L1052.6 296.2L1054.2 297.1L1055.9 296.3L1057.4 296.5L1059 297.7L1060.6 297.7L1062.1 297.9L1063.7 299.7L1065.2 300.4L1066.8 300.3L1068.3 300.9L1069.9 301.7L1071.5 302.7L1073.2 303.7L1074.9 304.8L1076.5 305.2L1078.2 305.8L1079.9 306.9L1081.5 307.3L1083.2 307.9L1084.9 308.9L1086.5 309.1L1088.2 309.5L1089.9 310.7L1091.6 310.5L1093.3 310.1L1095 311.1L1096.7 312.4L1098.4 313.6L1100.1 313L1101.8 312.5L1103.4 310.9L1105 310.6L1106.6 309.8L1108.2 308.3L1109.8 306.9L1111.5 306.5L1113.2 306.8L1114.8 307.2L1116.5 307.7L1118.2 307.4L1119.8 307L1121.5 306.8L1123.2 306.4L1124.8 306.1L1126.5 306.1L1128.2 307L1129.8 307.7L1131.5 306.5L1133.2 305.3L1134.8 304.1L1136.5 302.9L1138.1 302.1L1139.8 301.8L1141.4 303.4L1142.9 303.7L1144.5 301.9L1146.1 301.5L1147.7 301.8L1149.2 301.7L1150.8 301.5" stroke="#20ffdf"/>
<path d="M1684.6 272.9L1686.6 277.4L1688.6 284.4L1690.6 288L1692.6 289.1L1694.4 289.9L1696.1 288.6L1697.9 286.5L1699.6 287.1L1701.1 289.8L1702.6 292.1L1704.1 294.6L1705.6 296.9L1707.6 295.9L1709.6 297.9" stroke="#20ffdf"/>
<path d="M389.8 318.8L391.5 319.2L393.1 319.3L394.8 318.8L396.5 318.9L398.1 319.2L399.8 319.7L401.5 318.7L403.1 317.7L404.8 318.8L406.5 318.8L408.1 318.3L409.8 317.9L411.4 318.3L413.1 319.2L414.8 320.1L416.4 320.5L418.1 320.3L419.8 321.2L421.4 321.8L423.1 321L424.8 320.9L426.4 321.4L428.1 323.1L429.8 323.7L431.4 324.4L433 325.8L434.6 326.9L436.2 327.2L437.8 328.8L439.8 330.4L441.7 331L443.3 330.6L444.9 330L446.5 329.1L448.1 328.8L449.7 328.7L451.3 327.6L452.9 326.9L454.5 326.5L456.1 326.1L457.7 326L459.3 327.6L460.9 328L462.5 327.5L464.1 327.8L465.7 328.1L467.3 329.1L468.9 330.3L470.5 331.5L472.1 332.1L473.7 333.1L475.4 333.4L477.1 333.2L478.9 333L480.6 332.8L482.3 332.5L484 332.4L485.7 332.8L487.4 332.5L489.1 332.3L490.8 332.4L492.6 332.4L494.3 332.3L496 332.2L497.7 331.2L499.4 330.5L501.1 331.5L502.8 331.8L504.5 332L506.3 332.9L508 332.5L509.7 331.7L511.3 332.1L513 332.4L514.7 332.6L516.3 332.6L518 332.9L519.7 333.5L521.3 332L522.9 330.7L524.5 330.3L526.1 328.8L527.7 326.7L529.2 325.1L530.7 323.9L532.2 323.7L533.7 322.6L535.3 321L536.9 319.8L538.5 318.6L540 317.2L541.6 316.1L543.2 317L544.8 317L546.4 317.7L548 319.5L549.6 320L551.2 319L552.8 319.1L554.4 318.6L556 317.6L557.6 316.1L559.3 315.6L561.1 316.1L562.8 317.3L564.5 318.1L566.2 317.6L567.9 317.5L569.6 317.8" stroke="#40ffbf"/>
<path d="M570 317.8L571.7 319.9L573.3 321.9L575 324L576.7 326.5L578.3 328.8L580 330L581.7 331.2L583.3 332.6L585 333.2L586.7 333.8L588.3 334.4L590 334.8L591.6 335.1L593.3 335.3L595 335.9L596.6 336.6L598.3 337.1L600 337.5L601.6 336.7L603.3 336.4L605 335.6L606.6 334.8L608.3 335.3L610 334.8L611.7 333.9L613.4 333.2L615.1 332.3L616.8 331.3L618.5 331.9L620.2 332L621.9 331.8" stroke="#40ffbf"/>
<path d="M1254.7 312.9L1256.4 310.8L1258 309.8L1259.7 310.1L1261.2 311L1262.7 312L1264.2 314.1L1265.7 315.3L1267.7 312.3L1269.7 310.8L1271.2 312.6L1272.7 314.8L1274.2 316L1275.7 317L1277.2 317.2L1278.7 317.4L1280.2 317.4L1281.7 317.5L1283.3 317L1284.9 317.5L1286.5 317.7L1288.1 317.1L1289.7 316.8L1291.2 317.6L1292.7 317.2L1294.2 317.1L1295.7 317.8L1297.2 316.4L1298.7 314.8L1300.1 314.1L1301.6 313.5L1303.1 311.2L1304.6 309.6L1306.1 309.2L1307.6 308.4L1309.2 309.3L1310.8 310L1312.4 310.3L1314 309.9L1315.6 310.8L1317.2 311.4L1318.8 310.4L1320.4 309.7L1322 309.5L1323.6 309.1L1325.1 309.3L1326.6 310.6L1328.1 311.6L1329.6 310.9" stroke="#40ffbf"/>
<path d="M1330 309.9L1331.6 308.5L1333.2 307.7L1334.8 307.8L1336.4 306.4L1338 304.5L1339.5 298.4L1341 292.3L1342.5 286.2L1344 280.9L1346 265.6L1348 250.7L1350 231.2L1352 210.6L1353.5 199.7L1355 189.6L1357 181.5L1359 189.4L1361 224.6L1363 239.9L1364.5 242.2L1366 243.3L1368 216.1L1370 210L1371.5 212.8L1373 216.8L1374.5 223.2L1376 230.2L1378 222.4L1380 214.5L1381.4 212.4L1382.9 207.5L1384.9 199.5L1386.9 210.5L1388.9 242L1390.9 262.2L1392.9 250.8L1394.4 271.7L1395.9 300L1397.4 312.9L1398.9 317.5L1400.4 312.5L1401.9 310L1403.9 305.7L1405.9 300.6L1407.9 298.5L1409.9 294.4L1411.9 294.1L1413.9 291.1L1415.9 284.3L1417.9 287.9" stroke="#40ffbf"/>
<path d="M190 281.9L191.5 283.2L193 283.9L194.5 283.2L196 283.8L197.5 284.3L199 284.7L200.5 285.2L202 285.6L203.6 286.3L205.2 285.9L206.8 285.4L208.4 284.9L210 284.5L211.6 284.6L213.2 285.2L214.8 285.9L216.4 286.7L218 287.8L219.5 287L221 285.8L222.5 286.1L224 286.2L225.5 286.1L227 285.9L228.5 285.7L230 287.7L232 291.1L234 289.9" stroke="#60ff9f"/>
<path d="M270.9 341.8L272.6 340.6L274.2 339.9L275.9 340L277.9 339.6L279.9 337.9L281.4 343.2L282.9 349L284.9 357.3L286.4 351.9L287.9 346L289.4 339L290.9 332.2L292.4 331.3L293.9 330.3L295.9 333.7L297.9 336.3L299.9 337.9L301.9 341.4L303.9 340.1L305.9 339.7L307.4 338.8L308.9 336.8" stroke="#60ff9f"/>
<path d="M950 312.9L951.6 312L953.2 311.4L954.8 311.2L956.4 310.4L958 309.5L959.5 309.4L961 309.3L962.5 309.3L964 309.4L965.6 308.3L967.2 307.4L968.8 306.5L970.4 305.7L972 304.8L973.6 305.4L975.2 307.2L976.8 307.8L978.4 307.1L980 307.4L981.6 306.4L983.3 304.8L985 303.8L986.6 303L988.3 302.4L990 301.8L991.6 302.2L993.3 301.7L995 302.2L996.6 303.6L998.3 303L1000 302.7L1001.6 303.2L1003.3 301.7L1004.9 300.3L1006.6 301.1L1008.3 301.3L1009.9 301.1L1011.5 301.6L1013.1 302.3L1014.7 303.1L1016.3 303.6L1017.9 304.1L1019.6 303.7L1021.4 302.7L1023.1 301.7L1024.8 302L1026.5 301.4L1028.2 300.6L1029.9 301.8L1031.6 302.1L1033.3 301.8L1034.9 301.3L1036.6 300.9L1038.2 300.4L1039.9 300.4L1041.5 301L1043 302.3L1044.6 302.9L1046.1 303.1L1047.7 302.5L1049.2 302.3L1050.8 303.1L1052.3 302.8L1053.9 301.8L1055.6 301.9L1057.3 302.6L1059 303.7L1060.7 304L1062.5 304.4L1064.2 305L1065.9 305.8L1067.6 307.1L1069.3 309L1071 308.3L1072.7 307.8L1074.4 308.7L1076.2 309.4L1077.9 310L1079.6 310.3L1081.3 311L1083 311.9L1084.7 312.8L1086.4 312.3L1088.1 311.6L1089.9 312.8L1091.6 313.4L1093.3 313.8L1095 314.7L1096.7 314.8L1098.4 314.5L1100.1 315L1101.8 315.4L1103.6 315.5L1105.3 317.2L1107 318L1108.7 318.1L1110.4 318.4L1112.1 318L1113.8 317.1L1115.5 318.2L1117.2 318.8L1118.8 318.8L1120.5 318.7L1122.2 318.7L1123.8 319.1L1125.3 319.2L1126.8 319.4L1128.3 318.8L1129.8 318.2L1131.5 317.4L1133.2 317L1134.8 316.7L1136.5 315.6L1138.1 315.1L1139.8 314.9L1141.5 314.4L1143.1 314L1144.8 313.7L1146.5 313L1148.1 312.3L1149.8 311.8L1151.5 311.1L1153.1 310.4L1154.8 309.5L1156.5 309.6L1158.1 310.1L1159.8 308.6L1161.5 308.4L1163.1 308.5L1164.8 309.5L1166.5 310.1L1168.1 309.8L1169.8 308.7L1171.4 308.1L1173.1 309.4L1174.8 309.9L1176.4 310.2L1178.1 310.9L1179.8 311.1L1181.3 310.9L1182.8 310.6L1184.3 310.3L1185.8 309.4L1187.3 309L1188.8 309.9" stroke="#60ff9f"/>
<path d="M1698.6 269.9L1700.3 271.1L1702 272.9L1703.6 275.4L1705.6 278.4L1707.6 281.7L1709.6 283.9" stroke="#60ff9f"/>
<path d="M210 315.9L211.5 317.9L213 319.8L214.5 321.1L216 321.5L217.5 319L219 318.5L220.5 318.4L222 316.9L223.6 319L225.2 321.6L226.8 323.9L228.4 326L230 327.3L231.5 329.7L233 333.4L234.5 336.5L236 339.3L237.6 336.8L239.2 335.8L240.7 337.7L242.3 337.7L243.9 336.9L245.4 335.7L246.9 334.6L248.4 333.8L249.9 332.1L251.4 328.6L252.9 325.1L254.4 321.8L255.9 319.1L257.4 315.9L258.9 312.7L260.4 310.2L261.9 307.9" stroke="#80ff80"/>
<path d="M738.8 287.5L740.5 289.3L742.2 292.5L743.8 297.3L745.3 299.6L746.8 301.4L748.3 302.4L749.8 304L751.8 305.9L753.8 307.3L755.5 307.4L757.2 307.6L759 307.7L760.7 307.9L762.4 308.2L764.1 308.1L765.8 308.5L767.4 309.4L768.9 309.8L770.5 310.2L772 310.8L773.6 311L775.1 310.9L776.7 311.7L778.2 312.4L779.8 312.9L781.5 313.2L783.1 313.6L784.8 313L786.5 313.1L788.1 314L789.8 314.4L791.4 314L793.1 313.3L794.8 312.4L796.4 311.6L798.1 311L799.8 310.6L801.4 311L803.1 311.7L804.8 312.3L806.4 313L808.1 312.4L809.8 312L811.4 311.7L813.1 312.1L814.8 312.3L816.4 312.2L818.1 311.7L819.8 311.2L821.4 311.9L823.1 312.8L824.7 313.8L826.4 314.8L828.1 315.2L829.7 315L831.4 315.5L833.1 316.4L834.7 317.6L836.4 317.5L838.1 317.6L839.7 318.7L841.4 319.5L843.1 320.1L844.7 320.4L846.4 320.5L848.1 320.6L849.7 321.5L851.4 322.6L853.1 323.3L854.7 324.4L856.4 325.2L858 325.5L859.7 326.9L861.4 328.2L863 327.7L864.7 328.5L866.4 330L868 331L869.7 332.1L871.4 333.2L873 333.2L874.7 333.6L876.4 334.8L878 335.1L879.7 335.6L881.4 337L883.1 338.3L884.8 339.2L886.5 338.9L888.3 339.7L890 340.7L891.7 341.2" stroke="#80ff80"/>
<path d="M1531.8 289.9L1533.4 291.1L1535 291.7L1536.6 291.2L1538.2 293.6L1539.8 297L1541.5 298.1L1543.1 298.6L1544.8 298.5L1546.5 298.1L1548.1 296.1L1549.8 292L1551.4 292.3L1553.1 293.9L1554.8 296.5L1556.4 293.6L1558.1 290.3L1559.8 293.2L1561.4 294.5L1563.1 294.6L1564.8 292.1L1566.4 290.6L1568.1 290.4L1569.8 287.7L1571.4 286.4L1573.1 285.9L1574.8 286.6L1576.4 287.4L1578.1 287.5L1579.8 287.7L1581.3 288.7L1582.9 290L1584.5 290.8L1586.1 291L1587.7 291.9L1589.2 292.6L1590.7 293.3L1592.2 293.8L1593.7 294L1595.7 287.9" stroke="#80ff80"/>
<path d="M1604.7 299.9L1606.2 301.2L1607.7 302.5L1609.2 303.7L1610.7 305.8L1612.2 308.7L1613.7 309.8L1615.4 308.7L1617.1 307.6L1618.9 307.4L1620.6 307.7L1622.3 307.9L1624 307.7L1625.7 307.4L1627.4 308.7L1629.1 308.1L1630.8 306.6L1632.6 307.9L1634.3 308.3L1636 308L1637.7 307L1639.3 306.7L1640.9 307.4L1642.5 307.2L1644.1 307L1645.7 307.3L1647.4 307.7L1649.1 307.8L1650.8 309.1L1652.5 309.2L1654.2 308.5L1656 309.6L1657.7 311.4L1659.4 312.8L1661.1 313L1662.8 312.7L1664.5 311.8L1666.2 311.4L1667.9 311.8L1669.7 311.9" stroke="#80ff80"/>
<path d="M1097.9 293.9L1099.5 295.2L1101.2 296.4L1102.8 297.4L1104.5 297.6L1106.2 298L1107.8 298.5L1109.3 301L1110.8 303.9L1112.3 304.9L1113.8 305.9L1115.3 306.9L1116.8 308.4L1118.3 310.3L1119.8 312.2L1121.3 314L1122.8 313.9L1124.3 314.9L1125.8 318L1127.4 319.6L1129 320.4L1130.6 320.1L1132.2 320.8L1133.8 323.1L1135.4 323.4L1137 323.2L1138.6 325.4L1140.2 326.7L1141.8 327.2L1143.5 328.1L1145.2 328.3L1146.9 327.1L1148.7 327.2L1150.4 327.7L1152.1 328.4L1153.8 328L1155.5 327.2L1157.2 327L1158.9 327L1160.6 327L1162.4 327L1164.1 326.6L1165.8 326.2L1167.3 327.1L1168.9 327.7L1170.4 327.9L1172 328L1173.6 328.1L1175.1 329.1L1176.7 329.2L1178.2 328.5L1179.8 329.2L1181.4 329.4L1183.1 328.4L1184.8 328.3L1186.4 328.6L1188.1 327.1L1189.8 326.9L1191.4 327.8L1193.1 327.5L1194.8 327.1L1196.4 326.8L1198.1 326.6L1199.8 326.4L1201.4 326.7L1203.1 326.8L1204.7 326.7L1206.4 326.1L1208.1 326.5L1209.7 327.4L1211.4 327.6L1213.1 327.8L1214.7 327.9L1216.4 327.9L1218.1 328L1219.7 328.7L1221.4 329.3L1223.1 329.6L1224.7 329.3L1226.4 329.2L1228.1 329.4L1229.7 330.5L1231.4 331L1233.1 331.1L1234.7 331.3L1236.4 331.6L1238 331.9L1239.7 331.6L1241.4 331.4L1243 331.7L1244.7 332.4L1246.4 333L1248 332.5L1249.7 332.6L1251.4 332.9L1253 333.3L1254.7 333.6L1256.4 333.8L1258 333.7L1259.7 333.9L1261.4 334.6L1263 334.4L1264.7 334.3L1266.4 334.9L1268 335.3L1269.7 335.6L1271.3 335.1L1273 334.7L1274.7 334.4L1276.3 333.1L1278 332.3L1279.7 331.9L1281.3 331L1283 330.2L1284.7 329.6L1286.3 328.9L1288 327.9L1289.7 325.4L1291.3 323.4L1292.9 322.1L1294.5 319.5L1296.1 317.2L1297.7 315.3L1299.3 313.1L1300.8 310.9L1302.4 309L1304 306.7L1305.6 304L1307.1 301.9L1308.6 299.6L1310.1 296.2L1311.6 293.4L1313.3 289.6L1315 285L1316.6 279.5" stroke="#9fff60"/>
<path d="M459.7 309.9L461.4 308.7L463.1 307.9L464.7 307.5L466.4 306.8L468.1 306.6L469.7 307.6L471.3 307.3L472.9 306.4L474.5 307.8L476.1 308.4L477.7 308.1L479.3 308.5L480.9 308.9L482.5 309.5L484.1 309.6L485.7 309.3L487.3 309.8L488.9 310.1L490.5 309.6L492.1 308.7L493.7 307.8L495.3 308.2L496.9 308.1L498.5 307.5L500.1 306.8L501.7 306.3L503.3 306.8L504.9 306.5L506.5 305.6L508.1 306L509.7 306.3L511.3 304.4L512.9 301.9L514.5 299.3L516.1 298.2L517.7 296.2L519.3 293.8L520.9 292.4L522.5 291.5L524.1 291.1L525.7 289.8L527.3 289.5L528.9 290.3L530.5 290.8L532.1 290.4L533.7 291.2L535.3 292.7L536.9 292.9L538.5 293.7L540 295.2L541.6 295.4L543.2 294.5L544.8 295L546.4 294.8L548 294.1L549.6 293.8L551.3 294.2L553 294.5L554.6 294.9L556.3 295.1L558 294.8L559.6 294.5L561.3 294.7L563 296.6L564.6 297.6L566.3 297.8L568 298.7L569.6 299.9" stroke="#bfff40"/>
<path d="M570 299.9L571.5 300.3L573 300.9L574.5 301.4L576 302.4L577.5 303.7L579 304.4L580.5 305L582 305.4L584 308.7L586 312.3L587.6 313.1L589.2 313L590.8 312.4L592.4 312.9L594 313.3L595.6 314.2L597.2 314.4L598.8 314.5L600.4 315.8L602 317.3L603.6 318L605.2 318.4L606.8 318.8L608.4 319.2L610 319.4L611.6 320.1L613.3 320.9L615 321.3L616.6 321.3L618.3 322L620 322.8L621.6 324.2L623.3 324.6L624.9 325.2L626.6 326.7L628.3 327L629.9 326.7L631.6 327.8L633.3 328.1L634.9 327.7L636.6 326.9L638.3 326.9L639.9 328.3L641.4 328.8L642.9 329.1L644.4 329.4L645.9 329.8" stroke="#bfff40"/>
<path d="M469.7 310.9L471.4 310.8L473.1 310.3L474.7 309.4L476.4 310.7L478 311.8L479.7 312L481.4 312.5L483 313.1L484.7 313.1L486.4 313.1L488 313L489.7 313.2L491.4 313.2L493 313.6L494.7 312L496.4 311.4L498 312.5L499.7 311.3L501.4 310L503 309.4L504.7 309.7L506.4 310.1L508 309.7L509.7 308.8L511.3 307.3L513 307.3L514.7 306.4L516.3 304.3L518 303.7L519.7 303.5L521.3 303.5L523 302.2L524.7 300.6L526.3 299.1L528 298.5L529.7 298.3L531.3 297.9L532.9 297.2L534.5 296.1L536.1 294.8L537.7 293.7L539.3 294.7L540.8 295.6L542.4 296.4L544 296.9L545.6 297.6L547.3 298L549 297.2L550.6 296.2L552.3 295.9L554 295.8L555.6 295.9L557.2 296.7L558.8 296.7L560.4 295.9L562 296.8L563.6 297.5L565.1 296.5L566.6 297L568.1 299.3L569.6 299.9" stroke="#dfff20"/>
<path d="M570 300.9L571.6 301.3L573.2 302.2L574.8 303.7L576.4 304.9L578 306.1L579.6 307.2L581.2 308L582.8 308.3L584.4 309.1L586 310L587.6 310.2L589.3 312.2L591 314.6L592.6 314L594.3 314L596 314.7L597.6 314.4L599.3 314.9L601 316.4L602.6 316.3L604.3 316.4L606 317.7L607.6 318.2L609.3 318.4L611 318.5L612.6 319.1L614.3 319.8L616 319.8" stroke="#dfff20"/>
<path d="M1139.8 297.9L1141.4 298.5L1143 299.5L1144.6 301.3L1146.2 302.6L1147.8 303.8L1149.3 305.3L1150.8 305.6L1152.3 304.3L1153.8 305.1L1155.3 308.5L1156.8 310.8L1158.3 313L1159.8 315.4L1161.3 316.9L1162.8 318.6L1164.3 319.9L1165.8 321.2L1167.3 322L1168.8 322.8L1170.3 323.6L1171.8 324.7L1173.4 325.9L1175 326.8L1176.6 327.3L1178.2 327.1L1179.8 327.9L1181.4 328.8L1183.1 328.4L1184.8 328.4L1186.4 328.6L1188.1 329.4L1189.8 329.9L1191.4 329.6L1193.1 329.4L1194.8 329.1L1196.4 328.4L1198.1 328.1L1199.8 328.2L1201.4 327.6L1203.1 327.5L1204.7 327.9L1206.4 327.8L1208.1 327.8L1209.7 328.1L1211.4 327.8L1213.1 327.2L1214.7 326L1216.4 325.7L1218.1 325.6L1219.7 325.2L1221.4 325.3L1223.1 325.8L1224.7 326.4L1226.4 326.4L1228.1 325.6L1229.7 324.1L1231.4 323.5L1233.1 324.1L1234.7 324.4L1236.4 324.7L1238 325.8L1239.7 326.1L1241.4 326L1243 326.3L1244.7 327L1246.4 327.8L1248 326.8L1249.7 326.2L1251.4 326.3L1253 327.5L1254.7 328.3L1256.4 327.6L1258 327.1L1259.7 326.7L1261.4 326.1L1263 326.1L1264.7 326.4L1266.4 326.1L1268 326.5L1269.7 327.8L1271.3 327.8L1273 327.9L1274.7 328.2L1276.3 327.8L1278 327.3L1279.7 326.9L1281.3 326.7L1283 326.8L1284.7 328L1286.3 327.5L1288 325.6L1289.7 326.4L1291.4 325.9L1293.1 324.9L1294.8 324.1L1296.5 323.1L1298.2 321.6L1299.9 320.9L1301.6 320.3L1303.2 319.6L1304.8 318.5L1306.4 317.3L1308 316.4L1309.6 315.6L1311.2 314.5L1312.8 313L1314.4 311.6L1316 310.8L1317.6 309.7L1319.1 307.1L1320.6 304.8L1322.1 302.6L1323.6 300.6L1325.1 296.4L1326.6 291.9L1328.1 286.8L1329.6 281.9" stroke="#dfff20"/>
<path d="M1330 281.9L1332 273.9L1334 266L1336 257.9L1338 249.5L1340 241.4L1342 234.1L1344 227.7L1346 220.8L1348 218.5L1350 216.3L1352 236.2L1354 270L1356 293.5L1358 302.8L1360 307.9" stroke="#dfff20"/>
<path d="M190 255.9L191.7 258.3L193.3 262.1L195 267.5L196.7 267.9L198.3 269.6L200 275.7L201.5 277.1L203 277.4L204.5 280.1L206 281.8L207.6 275.8L209.3 272.3L211 269.8L213 266.7L215 264.7L217 266.4L219 267.5L221 262.8L223 260.6L224.5 262.3L226 262.2L227.5 267.4L229 273.1L231 273.3L233 271.9L235 270.6L237 270.3L238.5 276.5L240 282.2L241.4 285.6L242.9 288.8L244.4 293.1L245.9 298.9L247.9 302.7L249.9 305.7L251.4 302.4L252.9 297.6L254.9 290.3L256.9 288.5L258.9 285L260.9 281L262.9 278.6L264.9 275.6L266.9 282.9L268.9 290.2L270.4 288.5L271.9 286.9L273.9 282.7L275.9 277.5L277.4 276.3L278.9 274.8L280.9 282.6L282.9 290.5L284.6 288L286.2 285.3L287.9 284.1L289.4 284.6L290.9 284.4L292.4 284.7L293.9 285.1L295.4 284.1L296.9 283.3L298.4 282.9L299.9 282.5L301.4 281.4L302.9 280.2L304.4 279L305.9 277.2L307.4 277.1L308.9 277.9L310.4 278.5L311.9 278.9L313.4 279.2L314.9 279.2L316.4 281.3L317.9 282.6L319.5 281.9L321.1 282.7L322.7 284.1L324.3 284.7L325.9 285.5L327.9 288.5L329.9 290.3L331.5 291.4L333.1 292.7L334.7 294.2L336.3 295.6L337.9 297L339.5 299.3L341 301.6L342.6 302.7L344.2 304L345.8 305.3L347.4 306.4L349 307.3L350.6 307.3L352.2 307.8L353.8 308.5L355.5 308.9L357.2 309.6L358.8 311L360.5 311.3L362.2 311.4L363.8 310.9L365.4 310.5L367 310.3L368.5 311.5L370.1 312.2L371.7 312.4L373.2 312.7L374.8 312.9" stroke="#ffff00"/>
<path d="M1013.5 342.4L1015.1 342.5L1016.6 342.4L1018.2 341.9L1019.7 341.3L1021.3 340.8L1022.8 340.4L1024.4 340.3L1025.9 340.5L1027.6 340.3L1029.3 339.6L1031.1 340.2L1032.8 340.3L1034.5 340.1L1036.2 339.8L1037.9 340.3L1039.6 341.2L1041.3 340.8L1043 340.6L1044.8 340.5L1046.5 340.9L1048.2 340.4L1049.9 339.1L1051.6 339.9L1053.3 340.4L1055 340.7L1056.8 341L1058.5 340.9L1060.2 340L1061.9 340.8L1063.6 341.3L1065.3 341L1067 341.5L1068.7 341.8L1070.5 341.7L1072.2 341.4L1073.9 341.5L1075.6 342.1L1077.3 341.2L1079 340.2L1080.7 339.8L1082.4 339.5L1084.2 339.3L1085.9 338.8L1087.6 339.1L1089.3 339.2L1091 338.3L1092.7 338.6L1094.4 339.4L1096.1 339.7L1097.9 339.9L1099.5 339.5L1101.2 338.3L1102.8 337.8L1104.5 338.1L1106.2 336.5L1107.8 335.5L1109.3 337.2L1110.8 338.2L1112.3 338.9L1113.8 340.9L1115.3 342.3L1116.8 343.2L1118.3 344.8L1119.8 346.7L1121.8 346.5L1123.8 345.7L1125.3 343.3L1126.8 342.2L1128.3 341L1129.8 339.2L1131.3 338.8L1132.8 338.2L1134.3 338L1135.8 337.8L1137.3 337.9L1138.8 337.9L1140.3 337.9L1141.8 338.4" stroke="#ffff00"/>
<path d="M1629.7 329.8L1631.4 330.7L1633.1 330.3L1634.8 328.7L1636.6 328L1638.3 327.7L1640 327.8L1641.7 328.4L1643.4 328.1L1645.1 327.2L1646.8 325.9L1648.5 325.1L1650.3 325.3L1652 324.5L1653.7 323.8L1655.4 324.2L1657.1 323.6L1658.8 322.7L1660.5 321.7L1662.2 322.3L1664 323.2L1665.7 323.6L1667.4 323.4L1669.1 323.2L1670.8 324.6L1672.5 326.1L1674.2 327.3L1675.9 327L1677.7 327.3L1679.4 327L1681.1 328.6L1682.8 328.3L1684.5 327.1L1686.2 326.8L1687.9 325.6L1689.6 323.9L1691.3 325L1693 323.8L1694.6 320.5L1696.3 320.4L1698 320.5L1699.6 320.6L1701.3 320.7L1703 320.3L1704.6 318.2L1706.3 317.6L1708 317.5L1709.6 317.8" stroke="#ffff00"/>
<path d="M190 287.9L192 284.5L194 279.9L195.7 277.2L197.3 275.7L199 273.8L200.7 273.6L202.3 272.8L204 272.5L206 275.9L208 280L210 281.1L212 283.6L213.6 285.4L215.3 286L217 288L218.6 289.7L220.3 288.7L222 288.7L224 293L226 296.1L227.6 297.4L229.3 298.9L231 301.8L232.6 301.7L234.3 300.5L236 302.2L237.5 301.5L239 299.7L240.4 298.6L241.9 297.8L243.6 298.4L245.3 300L246.9 303.1L248.9 300L250.9 296.1L252.4 288L253.9 281.7L255.4 264.2L256.9 245.9L258.9 210.8L260.3 241.9L262.3 244.7L264.3 258L265.6 257.8L266.9 258L268.4 257.2L269.9 256.6L271.9 258.6L273.9 260.5L275.9 262.9L277.9 265.8L279.9 267.6L281.9 269.6L283.9 266.5L285.9 262.2L287.9 259.5L289.9 256.5" stroke="#ffdf00"/>
<path d="M901.7 331.8L903.4 332.6L905.1 332.3L906.8 330.9L908.5 332.3L910.2 333.3L911.9 333.8L913.7 333.6L915.3 333.2L916.9 332.3L918.5 332.6L920 333.2L921.6 333.8L923.2 334.1L924.8 334.1L926.4 333.8L928 333.5L929.6 333.6L931.3 334.3L933 335.1L934.6 334.2L936.3 334.4L938 335.9L939.6 335.5L941.3 335.2L943 335.5L944.6 335L946.3 334.7L948 335.2L949.6 335.8" stroke="#ffdf00"/>
<path d="M950 330.8L951.7 330.2L953.4 329.9L955.1 330L956.9 330.5L958.6 331L960.3 331.2L962 331.3L963.7 331L965.4 330.3L967.1 330.2L968.8 330.1L970.6 330L972.3 329.7L974 329.1L975.6 328.3L977.2 329.3L978.8 330.7L980.5 330.5L982.1 330.4L983.7 330.4L985.3 330.1L987 330.4" stroke="#ffdf00"/>
<path d="M1524.8 327.8L1526.3 329.1L1527.8 329.1L1529.3 325.1L1530.8 324.6L1532.3 327.1L1533.8 326L1535.4 323.5L1537 323.6L1538.6 324.4L1540.2 326L1541.8 322.1L1543.4 320.3L1545 322.3L1546.6 323L1548.2 322.9L1549.8 325.6L1551.4 326.3L1553.1 323.8L1554.8 322.7L1556.4 323.1L1558.1 326.7L1559.8 327.1L1561.4 326.9L1563.1 327.8L1564.8 329.8L1566.4 332.6L1568.1 330.5L1569.8 330.3L1571.5 331.8L1573.2 332.6L1574.9 333.4L1576.6 334L1578.3 333.8L1580 334.2L1581.7 335.9L1583.5 336.9L1585.2 337L1586.9 335.2L1588.6 336.3L1590.3 336.8L1592 333.9L1593.7 335.5L1595.3 337L1596.9 335.6L1598.5 335L1600.1 335.2L1601.7 334.7L1603.3 333.4L1604.9 332.2L1606.5 330.8L1608.1 329.4L1609.7 329L1611.4 329.6L1613.1 330.6L1614.7 330.2L1616.4 329.4L1618 328L1619.7 327.3L1621.4 327.2L1623 327.1L1624.7 326.8L1626.4 326.7L1628 328.9L1629.7 329.5L1631.4 328L1633 326.9L1634.7 325.8L1636.4 324.7L1638 323.6L1639.7 323.2L1641.4 324.2L1643 323.7L1644.7 322.5L1646.4 320.6L1648 320.3L1649.7 320.9L1651.3 318.9L1653 318.2L1654.7 319L1656.3 317.5L1658 316.4L1659.7 316.3L1661.3 316.4L1663 316.4L1664.7 315.9L1666.3 315.6L1668 315.4L1669.7 313.5L1671.3 314.4L1673 316.7L1674.7 317L1676.3 317L1678 316.5L1679.7 317.1L1681.3 317.3L1683 316.5L1684.6 316.8L1686.3 317.2L1688 316.5L1689.6 317L1691.3 317.6L1693 317.4L1694.6 317.5L1696.3 318L1698 317.5L1699.6 316.9L1701.3 317.8L1703 318.1L1704.6 318.5L1706.3 319.6L1708 320.5L1709.6 321.8" stroke="#ffdf00"/>
<path d="M395.8 315.9L397.5 315.5L399.1 315.6L400.8 316.4L402.5 317L404.1 317.5L405.8 317.5L407.4 318.1L409.1 318.6L410.8 317.6L412.4 317.6L414.1 318.1L415.8 317.8L417.4 317L419.1 315.9L420.8 315.9L422.4 316L424.1 316L425.8 315.2L427.3 315.1L428.8 315.8L430.3 316.3L431.8 316.5L433.4 316L435 315.7L436.6 314.9L438.2 314.3L439.8 313.9L441.3 315.5L442.9 317L444.5 318.4L446.1 319.3L447.7 320L449.3 320.4L450.9 320.9L452.5 321.6L454.1 321.7L455.7 321.6L457.4 321.3L459.1 321.6L460.7 322.6L462.4 321.7L464.1 321.5L465.7 322.4L467.3 322.4L468.9 322.6L470.5 324.4L472.1 324.8L473.7 324.2L475.4 325.1L477 325.9L478.7 326.4L480.4 325.6L482 325.3L483.7 326.6L485.4 325.7L487 324.2L488.7 323.3L490.4 323.2L492 323.9L493.7 323.4L495.3 323.6L496.9 323.6L498.5 323.1L500.1 322.8L501.7 324.3L503.3 324.1L504.9 323.4L506.5 322.8L508.1 322.2L509.7 321.6L511.3 321.4L512.9 321L514.5 321.7L516.1 322.7L517.7 323.9L519.4 323.9L521.1 323.4L522.8 322.4L524.5 321.9L526.2 321.8L527.9 322.1L529.7 322.4L531.3 320.2L532.9 317.6L534.5 314.7L536.1 311.5L537.7 309.6L539.2 308.5L540.6 307L542.1 305.7L543.6 304.8L545.1 304.3L546.6 303.7L548.1 302.9L549.6 302.3L551.1 303.1L552.6 303.4L554.1 303.2L555.6 304.2L557.1 306.4L558.6 307.1L560.1 308.2L561.6 310L563.2 310.5L564.8 310.9L566.4 310.3L568 310L569.6 310.9" stroke="#ffbf00"/>
<path d="M570 309.9L571.6 309.4L573.2 309L574.8 308.5L576.4 308.3L578 308.1L579.5 308.5L581 309.7L582.5 312L584 313.9L585.5 315.9L587 317.8L588.5 319.7L590 322.2L591.6 323.1L593.3 324.1L595 323.6L596.6 323.4L598.3 323.7L600 324.3L601.6 324.8L603.3 325.5L605 326.1L606.6 326.5L608.3 326.2L610 326.7L611.7 327.7L613.4 326.8L615.1 327L616.8 328L618.5 328L620.2 328L621.9 328.2L623.5 328.3L625.1 327.8L626.7 326.2L628.3 325.3L629.9 324.7L631.4 323.8L632.9 322.7L634.4 321.7L635.9 319.9L637.5 317.3L639.1 316.4L640.7 315.1L642.3 313.1L643.9 311.7L645.5 311.1L647.1 310.3L648.7 309L650.3 307.2L651.9 305.8L653.4 303.8L654.9 301.9L656.4 299.5L657.9 296.2L659.4 295.8L660.9 296.3L662.4 295.3L663.9 294.2L665.4 292.1L666.9 289.9L668.4 287.7L669.9 285.5L671.9 283.6L673.9 282.1L675.6 282.1L677.2 281.6L678.9 280.3" stroke="#ffbf00"/>
<path d="M558 329.8L559.7 329.6L561.4 329.7L563.1 330L564.9 329.9L566.6 329.5L568.3 328.7L570 329.1L571.7 330.2L573.3 331.6L575 331.3L576.7 330.9L578.3 331.6L580 332.1L581.7 332.6L583.3 333.3L585 334.3L586.7 335.3L588.3 335.8L590 335.7L591.6 334.3L593.3 335.5L595 336.1L596.6 335L598.3 334.6L600 334.6L601.6 335.5L603.3 335.2L605 334.2L606.6 333.5L608.3 333.3L610 333.4L611.6 334.2L613.3 334.9L615 335.6L616.6 336.7L618.3 337.9L620 339.3L621.5 339.5L623.1 339.4L624.7 338.9L626.3 339.5L627.9 341.5L629.6 339.7L631.3 337.9L632.9 337.8L634.6 337.2L636.3 336.6L637.9 336.2L639.6 335.8L641.4 335.1L643.1 335.1L644.8 335.5L646.5 335.9L648.2 334.6L649.9 333.6L651.6 332.7L653.3 333L654.9 332.9L656.6 332L658.2 331.8L659.9 331.6L661.6 331.6L663.2 331.4L664.9 331L666.6 330.4L668.2 330.3L669.9 330.4L671.6 329.5L673.3 328.6L675 327.6L676.8 328.2L678.5 328L680.2 327L681.9 327.3L683.5 326.8L685.1 325.3L686.7 325L688.3 324.8L689.9 324.1L691.5 322.3L693.2 319.9L694.9 319.5L696.5 318.8L698.2 318L699.9 318.1L701.5 317.7L703.2 315.5L704.9 315.5L706.5 315.9L708.2 315.3L709.9 314.5L711.6 314.1L713.3 314L715 313.6L716.7 312.9L718.4 313L720.1 313L721.8 313L723.4 312.5L725 312L726.6 311.5L728.2 310.7L729.8 309.7L731.5 308.9L733.2 308.4L734.8 308L736.5 307.9L738.2 307.2L739.8 305.8L741.5 305.3L743.2 305.1L744.8 305L746.5 304.5L748.2 304L749.8 303.6L751.5 302.4L753.2 300.9L754.8 301.4L756.5 301.3L758.1 300.8L759.8 300.6L761.5 299.8L763.1 298L764.8 297.8L766.5 297.9L768.1 297.7L769.8 297.2L771.5 296.7L773.1 296.4L774.8 295.9L776.5 295.3L778.1 293.7L779.8 293L781.5 293.2L783.1 292.3L784.8 291.3L786.5 290.5L788.1 290.7L789.8 290.8L791.4 288.8L793.1 287.4L794.8 286.3L796.4 285.5L798.1 284.5L799.8 283.3L801.4 282.9L803.1 282.2L804.8 280.7L806.4 279.9L808.1 278.9L809.8 277.3L811.4 275.3L813.1 273.6L814.8 272.8L816.4 271.2L818.1 268.9L819.8 267.5L821.4 266L823.1 264.4L824.7 262.9L826.4 261.4L828.1 260.3L829.7 258.1L831.3 255.1L832.9 253.2L834.5 250.9L836.1 248.3L837.7 245.4L839.4 242.7L841.1 240.4L842.7 238.9" stroke="#ff9f00"/>
<path d="M1461.9 261.9L1463.5 264.8L1465.1 267.1L1466.7 268.2L1468.3 269.3L1469.9 270.7L1471.5 272.8L1473.1 272.7L1474.7 270.4L1476.3 270.4L1477.9 271.1L1479.5 273.8L1481 274.6L1482.6 274.2L1484.2 276.7L1485.8 278.6L1487.8 277.2L1489.8 276.5L1491.3 278.5L1492.8 280.7L1494.3 281.4L1495.8 282.1L1497.3 283.6L1498.8 284.3L1500.3 283.5L1501.8 285.5L1503.3 286.5L1504.8 284L1506.3 281.6L1507.8 281.8L1509.3 275.9L1510.8 266.6L1512.5 270.9L1514.1 277L1515.8 281.8L1517.8 284.2L1519.8 287.6L1521.3 291.4L1522.8 293.5L1524.3 295.1L1525.8 296.1L1527.8 297.8L1529.8 298.9L1531.3 302.7L1532.8 305.3L1534.3 306.7L1535.8 307.9" stroke="#ff9f00"/>
<path d="M373.8 319.8L375.3 321.1L376.8 322.3L378.3 323.4L379.8 324.7L381.3 325.7L382.8 326.1L384.3 326.4L385.8 327.4L387.8 325L389.8 322.1L391.8 324.5L393.8 327.6L395.8 330.6L397.8 333.3L399.3 331.5L400.8 330.3L402.3 329.3L403.8 328.2L405.3 328.7L406.8 328.9L408.3 328.8L409.8 328.4L411.3 327.9L412.8 327.9L414.3 327L415.8 326L417.3 326.7L418.8 327.3L420.3 327.6L421.8 328.9L423.3 329.4L424.8 328.6L426.3 327.9L427.8 327.5L429.8 329.4L431.8 331.5L433.4 334L435.1 335.5L436.8 337.1L438.4 336.1L440.1 336.2L441.7 336.2L443.2 335.2L444.7 334.2L446.2 333.4L447.7 331.8" stroke="#ff8000"/>
<path d="M1079.9 312.9L1081.5 313.9L1083.2 314.7L1084.9 315.2L1086.5 315.4L1088.2 315.3L1089.9 314.7L1091.6 315.7L1093.3 317.1L1095 317.3L1096.7 316.8L1098.4 316.3L1100.1 316.7L1101.8 317.2L1103.6 317.7L1105.3 317.7L1107 318.3L1108.7 319.1L1110.4 319L1112.1 319.3L1113.8 319.9L1115.5 319.8L1117.3 319.5L1119 319L1120.7 319.4L1122.4 320.8L1124.1 322.9L1125.8 321.7L1127.5 321.4L1129.2 322L1131 322L1132.7 322.1L1134.4 322.5L1136.1 322.1L1137.8 321.6L1139.5 320.8L1141.2 320.8L1142.9 320.4L1144.7 319.3L1146.4 319.6L1148.1 320.1L1149.8 320.4L1151.5 319.1L1153.2 318.4L1154.9 319.3L1156.7 319.7L1158.4 319.8L1160.1 319.9L1161.8 319L1163.5 317.8L1165.2 317.5L1166.9 316.7L1168.6 315.9L1170.4 315.8L1172.1 316.1L1173.8 316.4L1175.5 317.5L1177.2 317.2L1178.9 316.5L1180.6 318.1L1182.3 318.7L1184.1 318.7L1185.8 318.7L1187.5 319.6L1189.2 321L1190.9 319.1L1192.6 319.1L1194.3 320.7L1196 321.2L1197.8 322.1L1199.5 323.1L1201.2 323L1202.9 323L1204.6 323.3L1206.3 322.4L1208 322.1L1209.7 322.5L1211.3 322.3L1212.9 321.9L1214.5 321.1L1216.1 320.6L1217.7 320.1L1219.4 319.8L1221.2 319.7L1222.9 319.6L1224.6 319.2L1226.3 319.7L1228 321.2L1229.7 320.2L1231.4 319.1L1233.1 318.3L1234.9 319.2L1236.6 319.8L1238.3 319.6L1240 319.6L1241.7 319.9L1243.4 321L1245.1 320.7L1246.8 320.4L1248.6 320.6L1250.3 320.8L1252 321.1L1253.7 321.8L1255.4 322L1257.1 322.3L1258.8 322.9L1260.5 324.4L1262.3 325.5L1264 324.6L1265.7 324.1L1267.4 324.2L1269.1 326L1270.8 326.4L1272.5 326.4L1274.2 326.7L1276 327L1277.7 327.4L1279.4 327.7L1281.1 328L1282.8 328.2L1284.5 328.9L1286.2 329.2L1287.9 329.3L1289.7 329.7L1291.4 329.2L1293.1 328.2L1294.8 328.3L1296.5 328.1L1298.2 327.6L1299.9 328.2L1301.6 328.5L1303.4 327.6L1305.1 326.2L1306.8 325.1L1308.5 324.8L1310.2 324.9L1311.9 324.4L1313.6 322.8L1315.3 321L1317 319.5L1318.6 319.2L1320.3 318.7L1322 318.1L1323.6 316.9L1325.1 316.4L1326.6 316.1L1328.1 315.9L1329.6 314.9" stroke="#ff8000"/>
<path d="M1264.7 333.8L1266.2 334.4L1267.7 335L1269.2 335.7L1270.7 336.2L1272.2 336.5L1273.7 336.7L1275.3 336.5L1276.9 336.7L1278.5 337L1280.1 337.4L1281.7 337.3L1283.3 336.3L1284.9 334.9L1286.5 335.1L1288.1 336.2L1289.7 334.7L1291.4 333.6L1293.1 333.4L1294.8 333.6L1296.5 333L1298.2 331.2L1299.9 332L1301.6 332.5L1303.4 330.9L1305.1 330.7L1306.8 330.4L1308.5 329.3L1310.2 328.9L1311.9 328.6L1313.6 327.9L1315.3 326.9L1317 325.7L1318.6 323.8L1320.3 322.6L1322 321.8L1323.6 321.5L1325.1 321.1L1326.6 320.7L1328.1 319.3L1329.6 317.8" stroke="#ff6000"/>
<path d="M1330 317.8L1331.7 316.7L1333.3 315.6L1335 314.5L1336.7 312.2L1338.3 310.4L1340 309.9L1341.7 308.6L1343.3 307L1345 305.7L1346.7 304.1L1348.3 302.6L1350 301.3L1351.6 299.9L1353.3 298.5L1355 297.1L1356.6 296.4L1358.3 296.7L1360 295.4L1361.5 293.5L1363 291.3L1364.5 289.5L1366 288.3L1367.5 284.4L1369 280.2L1370.5 275.9L1372 271.9L1373.5 268.4L1375 265.1L1376.5 262.1L1378 260.1L1380 265.4L1381.9 265.9L1383.9 269.5L1385.9 276L1387.9 279.5L1389.9 280.7L1391.4 278.5L1392.9 277.3L1394.4 277.9L1395.9 277L1397.4 258.7L1398.9 240L1400.9 215.3L1402.9 239.1L1404.9 243L1406.9 249.1L1408.6 255.5L1410.3 261.8L1411.9 263.7L1413.6 264.4L1415.2 271.2L1416.9 267.9" stroke="#ff6000"/>
<path d="M1425.9 235.9L1427.4 239.1L1428.9 242.5L1430.4 246.5L1431.9 250.7L1433.4 254L1434.9 257.5L1436.4 260.7L1437.9 260.2L1439.4 260.8L1440.9 265.9" stroke="#ff6000"/>
<path d="M1461.9 259.9L1463.9 265.2L1465.9 274.4L1467.9 281.4L1469.9 286.4L1471.4 282.3L1472.9 281.7L1474.4 286.4L1475.9 289.5L1477.4 290.7L1478.9 287.6L1480.3 285.4L1481.8 288.8L1483.4 290.9L1485 291L1486.6 290.3L1488.2 290.7L1489.8 295.4L1491.5 295.6L1493.2 293.6L1494.8 292.3L1496.5 292.1L1498.2 293.2L1499.8 293.2L1501.5 293.6L1503.2 294L1504.8 293.9L1506.5 293.8L1508.2 293.7L1509.8 292.2L1511.5 290.8L1513.2 292.4L1514.8 293.9L1516.5 295.1L1518.1 291.3L1519.8 292.7L1521.5 301.7L1523.1 300.9L1524.8 299.6L1526.5 300.3L1528.1 300.9L1529.8 302.2L1531.4 306L1533 307.9L1534.6 308.3L1536.2 308.3L1537.8 308.6L1539.8 310.4L1541.8 312.9" stroke="#ff6000"/>
<path d="M694.9 303.9L696.5 307.2L698.2 311L699.9 315.3L701.9 316.4L703.9 317.8L705.5 317.6L707.2 317.4L708.9 317.4L710.5 317.4L712.2 316.8L713.9 316.2L715.6 315.9L717.3 315.6L719 315.2L720.7 314.7L722.4 314.7L724.1 314.9L725.8 315.3L727.8 313.6L729.8 311.8L731.5 311.8L733.2 311.7L734.8 311.8L736.5 312.1L738.2 313.3L739.8 314.2L741.5 314.3L743.2 313.8L744.8 313.1L746.5 312L748.2 311.9L749.8 312.1L751.3 312.7L752.8 313L754.3 312.9L755.8 313.6L757.3 315.1L758.8 315.9L760.3 316.6L761.8 317.4L763.4 316.9L765 316.6L766.6 317.2L768.2 317.6L769.8 317.2L771.3 317.5L772.8 317.7L774.3 318.4L775.8 319.3L777.4 320.5L779 321.2L780.6 321.5L782.2 321.5L783.8 321.9L785.5 322.8L787.2 322.3L788.9 321.5L790.6 321.2L792.3 321.8L794.1 322.5L795.8 321.9L797.4 322.5L799.1 323.4L800.8 323.9L802.4 324.3L804.1 324.4L805.8 325L807.4 325.7L809.1 326.7L810.8 327.9L812.4 328.5L814.1 327.9L815.8 329L817.4 330.2L819 330.1L820.6 329.9L822.2 329.7L823.9 330.8L825.5 331.6L827.1 332.2L828.7 332.2" stroke="#ff4000"/>
<path d="M1541.8 303.9L1543.3 303.9L1544.8 304.8L1546.3 308.4L1547.8 309.2L1549.8 291.7L1551.3 293.6L1552.8 294.2L1554.3 292.8L1555.8 291.4L1557.3 292L1558.8 294.9L1560.3 297.9L1561.8 300L1563.4 299L1565 297.1L1566.6 295.4L1568.2 294.3L1569.8 295.4L1571.4 295.4L1573.1 294.3L1574.8 296.1L1576.4 297.1L1578.1 297.3L1579.8 298.3L1581.3 298L1582.9 296.9L1584.5 295.8L1586.1 294.9L1587.7 294.2L1589.2 294.9L1590.7 295.4L1592.2 295.5L1593.7 296.9" stroke="#ff4000"/>
<path d="M1602.7 299.9L1604.2 304.2L1605.7 308.4L1607.3 309.2L1608.9 311.5L1610.5 314.8L1612.1 315.5L1613.7 316L1615.3 316.2L1616.9 318.3L1618.5 320.9L1620.1 323.2L1621.7 324.4L1623.3 323.8L1624.9 324.7L1626.5 325.6L1628.1 325.8L1629.7 326.3L1631.4 326.3L1633.1 327.8L1634.8 329.3L1636.6 331L1638.3 328.8L1640 327.7L1641.7 327.7L1643.4 328.4L1645.1 328.4L1646.8 327.5L1648.5 328.2L1650.3 328.7L1652 328.8L1653.7 327.5L1655.4 326.5L1657.1 326.3L1658.8 326.8L1660.5 327.4L1662.2 328L1664 327.6L1665.7 327.4L1667.4 327.9L1669.1 326.1L1670.8 324.8L1672.5 325.9L1674.2 325.3L1675.9 324.5L1677.7 324.8L1679.4 324.7L1681.1 324.2L1682.8 322.7L1684.5 322.4L1686.2 322.3L1687.9 321.2L1689.6 321.2L1691.3 322.6L1693 322.2L1694.6 322.5L1696.3 323.3L1698 324.3L1699.6 324.8L1701.3 324.7L1703 326.2L1704.6 327.3L1706.3 326.4L1708 327.4L1709.6 327.8" stroke="#ff4000"/>
<path d="M190 295.9L191.5 295.9L193 296.3L194.5 297.4L196 298.4L197.5 298.7L199 300.4L200.5 302.1L202 300.5L203.5 298L205 298L206.5 296.3L208 293.7L210 294.3L212 295.3L214 293.5L216 294.8L218 294.9L220 299L222 306L224 311.3L226 316.6L228 321.9L229.5 325.5L231 329.5L232.6 329.1L234.3 328.9L236 327.7L237.5 327.8L239 328.1L240.4 328.7L241.9 329.3L243.4 330.8L244.9 331.7L246.4 330.4L247.9 330.4L249.4 328.7L250.9 325.4L252.9 308.3L254.9 288.8L256.9 276.1L258.9 266.8L260.4 266.7L261.9 266.1L263.9 261.3L265.9 256L267.9 253.1L269.9 251.1L271.9 254.5L273.9 257.8L275.9 262.2L277.9 266.1L279.9 269.2L281.9 271.5L283.9 271.2L285.9 272.8L287.6 273.1L289.2 273L290.9 271.9L292.4 275.5L293.9 279.4L295.6 278.1L297.2 277L298.9 276.5L300.6 278.9L302.2 281.2L303.9 282.4L305.4 283.4L306.9 284.7L308.4 285L309.9 285.2L311.4 284.6L312.9 284.4L314.4 284.5L315.9 283.9L317.4 284.3L318.9 285.4L320.4 286.5L321.9 287.5L323.4 288L324.9 288.7L326.4 289.5L327.9 290.4L329.4 291.4L330.9 292.6L332.4 294.5L333.9 295.9L335.4 296.6L336.9 298L338.4 299.4L339.9 298.8L341.3 299.8L342.8 302.3L344.3 304.3L345.8 306L347.3 307L348.8 308.2L350.3 310.6L351.8 312.4L353.3 313.6L354.8 315.3L356.3 317.3L357.8 318.7L359.3 319.8L360.8 320.9L362.3 321.9L363.8 322.8L365.5 324.1L367.2 325.5L368.8 327.8" stroke="#ff2000"/>
<path d="M896.7 325.8L898.3 325.9L899.9 326.6L901.5 328.5L903.2 327.4L904.8 326.2L906.4 327.7L908 328L909.7 327.5L911.4 327.9L913.1 328.5L914.8 329.3L916.5 329.2L918.2 329L919.9 328.7L921.6 329.7L923.2 330.2L924.8 330.1L926.3 329.7L927.9 329.1L929.4 330.2L931 330.9L932.5 330.5L934.1 330.6L935.6 330.9L937.2 331.6L938.7 332.1L940.3 332.2L941.9 332.1L943.4 332L945 333.2L946.5 333.9L948.1 333.3L949.6 332.8" stroke="#ff2000"/>
<path d="M950 333.8L951.7 333.3L953.3 333.4L955 334.2L956.7 334.8L958.3 335.8L960 337.9L961.7 337.7L963.3 337L965 337.1L966.7 337.2L968.3 337.3L970 338.2L971.6 338.4L973.3 338.1L975 338.9L976.6 339.3L978.3 339L980 339.3L981.6 339.1L983.3 338.1L985 337.7L986.6 337.6L988.3 336.9L990 336.6L991.5 337.2L993 337.1L994.5 337.2L996 338.1L997.6 338.6L999.2 338.7L1000.7 339L1002.3 339.8" stroke="#ff2000"/>
<path d="M1627.7 315.9L1629.2 314.9L1630.7 313.9L1632.2 312.4L1633.7 311L1635.3 311.2L1636.9 310.4L1638.5 310L1640.1 311.2L1641.7 311.3L1643.3 310.3L1644.9 309.9L1646.5 310.1L1648.1 311.1L1649.7 311.7L1651.2 310.8L1652.7 307.2L1654.2 304.8L1655.7 305.1L1657.2 302.5L1658.7 298.9L1660.2 294.9L1661.7 291L1663.3 289.5L1665 287.6L1666.7 285.3L1668.3 287L1670 288.4L1671.7 289.5L1673.2 289.9L1674.7 290.5L1676.2 292.4L1677.7 294.1L1679.2 293.7L1680.6 292.8L1682.1 291.8L1683.6 290.7L1685.2 289.5L1686.8 288.6L1688.4 286.7L1690 284L1691.6 283.4L1693.2 284.7L1694.8 285.8L1696.4 287L1698 288.2L1699.6 288.4L1701.1 289.7L1702.6 291.4L1704.1 292.8L1705.6 294L1707.6 296.2L1709.6 294.9" stroke="#ff2000"/>
<path d="M315.9 313.9L317.9 317L319.9 319.2L321.4 318.2L322.9 318.5L324.4 318.1L325.9 317L327.9 314.1L329.9 311.6L331.4 312.2L332.9 313.1L334.4 313.7L335.9 313.5L337.4 312.7L338.9 312.3L340.3 311.9L341.8 311.6L343.4 310.6L345 309.6L346.6 308.6L348.2 308.1L349.8 307.8L351.3 307L352.8 306L354.3 304.8L355.8 303.6L357.3 302.4L358.8 301.5L360.3 300.5L361.8 299L363.5 298.2L365.2 297.8L366.8 297.5L368.3 300.8L369.8 303.6L371.8 299.8L373.8 296.2L375.8 298.8L377.8 300.2L379.8 296.9L381.8 293.5L383.8 294L385.8 295.1L387.8 298.8L389.8 301.7L391.8 300.4L393.8 300.1L395.3 298.6L396.8 297.2L398.3 296.7L399.8 295.9L401.3 297.8L402.8 300.1L404.5 301L406.3 300.8L408 301.1L409.8 301.6L411.3 302.4L412.8 303L414.3 303.4L415.8 304.4L417.3 304.6L418.8 303.3L420.3 302.1L421.8 301.5L423.8 302.6L425.8 303.8L427.8 305.2L429.8 306.1L431.3 307.2L432.8 308.3L434.3 308.6L435.8 309.2L437.3 311.3L438.8 312.5L440.2 312.8L441.7 312.6L443.3 312.8L444.9 313.3L446.5 314.2L448.1 315.8L449.7 317.1L451.3 317.6L452.9 317L454.5 317.6L456.1 319.2L457.7 319.8" stroke="#ff0000"/>
<path d="M956 226.9L958 231L960 233.7L961.5 236.6L963 241.3L964.7 243.1L966.3 244.2L968 245L969.5 247.5L971 250.6L972.5 253.8L974 256.9L975.6 257.1L977.2 257.3L978.8 258.2L980.4 258.9L982 259.5L983.6 260.9L985.3 261.4L987 260.6L988.6 264.4L990.3 267.9L992 269.5L993.5 271.7L995 274.5L996.5 275.5L998 276.8L999.6 278.3L1001.1 279.7L1002.7 281L1004.3 282.9L1005.9 284.1L1007.5 284.2L1009.1 285.8L1010.7 287.9L1012.3 288.5L1013.9 289.8L1015.4 291.1L1016.9 291.3L1018.4 291.2L1019.9 292L1021.4 293.4L1022.9 294.4L1024.4 295.9L1025.9 298L1027.5 298.2L1029.1 298.2L1030.7 299.2L1032.3 300.6L1033.9 302.3L1035.6 302L1037.3 302.2L1039.1 303L1040.8 303L1042.5 303.4L1044.2 304.4L1045.9 304L1047.6 304.1L1049.3 305.6L1051 305.9L1052.8 306L1054.5 306L1056.2 306.4L1057.9 307.2L1059.6 309.4L1061.2 310.4L1062.9 311L1064.6 311.1L1066.2 312.7L1067.9 315.1L1069.5 314.8L1071.2 315.1L1072.9 316.1L1074.5 317.2L1076.2 318L1077.9 318.2L1079.6 318.5L1081.3 319.1L1083 320.2L1084.7 321.6L1086.4 323L1088.1 323.5L1089.9 323.2L1091.6 322.8L1093.3 324.3L1095 324.5L1096.7 324.3L1098.4 324.7L1100.1 324.9L1101.8 324.9L1103.4 325.5L1105 325.6L1106.6 325.4L1108.2 325.8L1109.8 326.2L1111.5 326.8L1113.2 327.4L1114.8 328.1L1116.5 329.1L1118.2 329.3L1119.8 329L1121.5 330.6L1123.2 331.2L1124.8 330.5L1126.5 330.7L1128.2 331.3L1129.8 332.2L1131.5 332.8L1133.2 333.2L1135 333.4L1136.7 333.6L1138.4 333.9L1140.1 334.5L1141.8 334.9L1143.4 335.4L1145 337.3L1146.6 338.4L1148.2 339L1149.8 339.9L1151.5 340.1L1153.2 339.6L1154.9 339.6L1156.7 339.7L1158.4 340L1160.1 340.3L1161.8 340.4L1163.4 340.4L1165 341L1166.6 341.9L1168.2 343.3L1169.8 343.8L1171.4 342.5L1173.1 342.7L1174.8 343.4L1176.4 344.1L1178.1 345.2L1179.8 346.4L1181.4 347.3L1183.1 347.6L1184.8 347.6L1186.4 348.7L1188.1 349.5L1189.8 349.8L1191.4 350.3L1193.1 350.6L1194.8 350.5L1196.4 350.9L1198.1 351.5L1199.8 351.8L1201.3 351.7L1202.9 351.8L1204.5 351.9L1206.1 351.2L1207.7 349L1209.7 348.5L1211.7 348.1L1213.7 346.4L1215.7 344.8" stroke="#ff0000"/>
<path d="M734.8 342.8L736.4 343.6L738 344L739.5 343.7L741.1 343.6L742.7 343.8L744.3 345.7L745.8 347L747.8 345.7L749.8 343.5L751.5 344.1L753.2 345.3L754.8 345.3L756.5 344.6L758.1 343.5L759.8 345.1L761.5 345.7L763.1 344.9L764.8 345.5L766.5 346L768.1 345.2L769.8 344.9L771.5 344.6L773.1 343.9L774.8 343.9L776.5 344.2L778.1 344.5L779.8 344.2L781.3 343.8L782.8 343.5L784.3 343.3L785.8 345.2L787.8 344.3L789.8 342.1L791.4 341.9L793.1 341.6L794.8 341.4L796.4 341.4L798.1 341.5L799.8 341.7L801.4 342L803 342.1L804.6 341.9L806.2 340.6L807.8 339.1L809.5 339.1L811.3 338.8L813 338.1L814.8 337.8" stroke="#df0000"/>
<path d="M1374 310.9L1375.6 308.2L1377.2 307.1L1378.8 308.6L1380.3 308.2L1381.9 306.9L1383.5 303.7L1385.1 301.9L1386.7 301.6L1388.3 299L1389.9 297.8L1391.5 302L1393.1 301.5L1394.7 298.1L1396.3 297.4L1397.9 297.3L1399.5 299.7L1401.1 299.8L1402.7 299.2L1404.3 299.8L1405.9 301.3L1407.5 303.5L1409.1 307.4L1410.7 310.1L1412.3 307.7L1413.9 308.1L1415.4 309.1L1416.9 305.8L1418.4 302.4L1419.9 301.3L1421.4 298.8L1422.9 296.9" stroke="#df0000"/>
<path d="M1433.9 289.9L1435.9 294.6L1437.9 300.7L1439.9 302.5L1441.9 300.7L1443.9 296.7L1445.9 293.3L1447.9 280.3L1449.9 265.8L1451.9 287.9L1453.9 293.7L1455.9 298.1L1457.9 275.7L1459.9 252.6L1461.4 267.2L1462.9 281.5L1464.5 286.3L1466.2 292.6L1467.9 299.5L1469.4 297.8L1470.9 295.4L1472.4 291.8L1473.9 290.1L1475.9 299.6L1477.9 309.5L1479.9 297L1481.8 287.5L1483.3 294.2L1484.8 300.3L1486.3 306.2L1487.8 311.5L1489.8 305.3L1491.8 299.2L1493.3 296.3L1494.8 295.3L1496.3 294.7L1497.8 291.7L1499.3 294.8L1500.8 298.1L1502.3 300.6L1503.8 302.3L1505.3 304.1L1506.8 306.3L1508.3 307.1L1509.8 307.2L1511.4 305L1513 304.7L1514.6 305.1L1516.2 306.5L1517.8 304.3L1519.4 295.7L1521 294.8L1522.6 294.4L1524.2 289.1L1525.8 285L1527.8 289L1529.8 295L1531.4 298.6L1533 301.8L1534.6 303.5L1536.2 304.6L1537.8 305.3L1539.4 305.2L1541 305.7L1542.6 307.4L1544.2 308.7L1545.8 309.8L1547.4 310.2L1549 310.7L1550.6 311.4L1552.2 316.5L1553.8 321.3L1555.3 312.8L1556.8 306.3L1558.3 307.9L1559.8 308.5L1561.3 308.6L1562.8 309.2L1564.3 310L1565.8 311.5L1567.4 312.3L1569.1 312.5L1570.8 314.1L1572.4 314.7L1574.1 314L1575.8 314.3L1577.4 315.3L1579.1 318.1L1580.7 318L1582.4 317.2L1584.1 318.2L1585.7 318.9L1587.3 319.4L1588.9 319.2L1590.5 318.9L1592.1 318.8L1593.7 318L1595.2 315.3L1596.7 313.5L1598.2 312.4L1599.7 312.3L1601.4 311.8L1603.1 310.6L1604.7 309.6L1606.4 307.6L1608.1 305L1609.7 303.6L1611.3 302.9L1612.9 302.9L1614.5 302.2L1616.1 301.4L1617.7 301.6L1619.3 301.4L1620.9 300.4L1622.5 301.7L1624.1 302.5L1625.7 300.7L1627.3 298.8L1628.9 297.4L1630.5 297L1632.1 296.1L1633.7 294.3L1635.3 292.4L1636.9 290.6L1638.5 290.6L1640.1 290.4L1641.7 290L1643.2 287.5L1644.7 285L1646.2 284.9L1647.7 284.4L1649.3 284.8L1651 285.1L1652.7 287.9" stroke="#df0000"/>
<path d="M208 311.9L209.5 313.7L211 314.9L212.5 314.4L214 315.8L215.5 315.7L217 313.9L218.5 311.6L220 309.4L221.6 307.5L223.3 305.9L225 305.7L227 290.5L229 274.7L230.5 281.1L232 286.3L233.5 287L235 287.3L237 293.7L239 290.8L240.9 285.5L242.9 294.9L244.4 300.9L245.9 306.8L247.9 307.2L249.9 308.8L251.9 302.9L253.9 301.2L255.4 304.1L256.9 305.5L258.4 304.5L259.9 304L261.4 306.9L262.9 310.9" stroke="#bf0000"/>
<path d="M825.7 262.9L827.7 259.6L829.7 257.4L831.2 256.9L832.7 256.1L834.2 254.8L835.7 253L837.5 254.8L839.2 257L841 259.4L842.7 261.7L844.5 260.5L846.2 258.8L848 257.5L849.7 256L851.3 253.6L852.9 251.4L854.5 249.4L856.1 249.1L857.7 247.9L859.4 247.3L861 247.6L862.7 247.8L864.4 251.7L866 255.9L867.7 260.1L869.2 261.6L870.7 263.8L872.2 266.7L873.7 268.5L875.3 269.1L876.9 270.6L878.5 271.9L880.1 273.1L881.7 274.5L883.3 275.8L884.9 276.7L886.5 277.2L888.1 277.4L889.7 279.1L891.2 280.5L892.7 282.3L894.2 283.2L895.7 283.3L897.3 282.4L899 281.6L900.7 280.7L902.3 279.5L904 278.2L905.7 277.4L907.2 278.4L908.7 279.4L910.2 281L911.7 282.7L913.3 281.9L914.9 281.6L916.5 281.9L918.1 281.1L919.7 280.4L921.2 282L922.8 282.9L924.4 283.3L926 283.5L927.6 284.4L929.2 286.7L930.8 287.7L932.4 288.1L934 289.5L935.6 290.6L937.2 289.9L938.8 289.4L940.4 289.1L942 289.1L943.6 288.7L945.1 289.4L946.6 290.5L948.1 291.8L949.6 293.9" stroke="#bf0000"/>
<path d="M950 293.9L951.7 294.2L953.4 294.7L955.1 295.4L956.9 296.6L958.6 297.5L960.3 297.8L962 297.4L963.7 297.3L965.4 298L967.1 297.9L968.8 298L970.6 298.5L972.3 298.7L974 298.8L975.7 298.8L977.4 299.3L979.1 299.6L980.8 299.1L982.5 299.9L984.3 300.8L986 300.7L987.6 301.2L989.2 301.7L990.8 302.8L992.4 304L994 305.2L995.6 305.2L997.2 305.3L998.8 306.2L1000.3 306.8L1001.9 307.3L1003.5 308.3L1005.1 308.8L1006.7 308.2L1008.3 308.8L1009.9 309.8L1011.6 310.8L1013.3 311.8L1014.9 312.9L1016.6 313.1L1018.3 313.5L1019.9 314.4L1021.6 314.4L1023.3 314.6L1024.9 315.8L1026.6 317.5L1028.3 319.1L1029.9 319L1031.6 320.2L1033.3 322.1L1034.9 321.5L1036.6 321.7L1038.2 322.8L1039.9 323.1L1041.6 323.7L1043.2 325.4L1044.9 326.2L1046.6 326.9L1048.2 328.4L1049.9 328.8L1051.5 328.6L1053.1 329L1054.7 329.2L1056.3 329.3L1057.9 330.3L1059.5 331.5L1061.1 332.7L1062.7 333.5L1064.3 334.1L1065.9 335L1067.5 335.4L1069.1 335.6L1070.7 335.6L1072.3 335.5L1073.9 336.1L1075.4 336L1076.9 335.5L1078.4 334.8L1079.9 333.9L1081.4 334.4L1082.9 334.7L1084.4 333.5L1085.9 332.2L1087.5 330.7L1089.1 330.2L1090.7 329.9L1092.3 329L1093.9 328.2L1095.4 327.8L1096.9 327.2L1098.4 326.5L1099.9 324.8" stroke="#bf0000"/>
<path d="M1371 239.9L1372.6 242.8L1374.3 244.4L1376 244.4L1377.5 262.4L1379 280.8L1380.6 280.2L1382.3 279.6L1383.9 279L1385.4 275.4L1386.9 272.7L1388.4 272.8L1389.9 273L1391.9 271.6L1393.9 270L1395.9 260L1397.9 246.6L1399.9 228.4L1401.9 228.3L1403.9 226.2L1405.4 228.2L1406.9 235.5L1408.4 243.8L1409.9 249.5L1411.4 241.5L1412.9 233.2L1414.4 224.1L1415.9 217.4L1417.9 245.9" stroke="#9f0000"/>
<path d="M1425.9 245.9L1427.9 260.6L1429.9 276.5L1431.9 284.7L1433.9 289.6L1435.6 289.3L1437.2 289.7L1438.9 290.6L1440.4 277.2L1441.9 265.6L1443.9 260.6L1445.9 253.8L1447.9 257.4L1449.9 259.7L1451.4 270.5L1452.9 285.2L1454.9 294.2L1456.9 299.2L1458.4 282.2L1459.9 265.2L1461.9 273.2L1463.9 281.3L1465.9 292.2L1467.9 304.3L1469.4 305.5L1470.9 307L1472.4 308.9L1473.9 310L1475.4 311.2L1476.9 310.9L1478.4 311.7L1479.9 315.4L1481.8 321.1L1483.8 325.6L1485.3 322.1L1486.8 319L1488.3 315.9L1489.8 310.5L1491.3 310.9L1492.8 314.7L1494.3 316.1L1495.8 315.7L1497.4 314L1499 312.9L1500.6 312.9L1502.2 312.6L1503.8 312.2L1505.4 312.3L1507 312.4L1508.6 312.4L1510.2 312L1511.8 311.6L1513.4 312.9L1515 312.9L1516.6 311.1L1518.2 309.7L1519.8 308.9L1521.5 311.5L1523.1 314L1524.8 316.1L1526.5 313.6L1528.1 312.1L1529.8 311.4L1531.5 314.5L1533.1 316.7L1534.8 316.8L1536.5 314.1L1538.1 311.5L1539.8 311.3L1541.5 312.8L1543.1 314.9L1544.8 320.1L1546.5 320.4L1548.1 317.2L1549.8 319.5L1551.5 320.3L1553.3 319.9L1555 316.8L1556.8 319.8" stroke="#9f0000"/>
<path d="M340.8 291.9L342.6 291.2L344.3 290.9L346.1 290.9L347.8 289.1L349.4 288.8L351 289.1L352.6 289L354.2 288.9L355.8 289L357.3 289.3L358.8 290L360.3 289.1L361.8 288.1L363.4 289.3L365 290.1L366.6 290.7L368.2 290.5L369.8 290.6L371.3 292.4L372.8 293.6L374.3 294.4L375.8 295.7L377.3 296.9L378.8 298L380.3 299L381.8 299.9L383.4 300.5L385 301.1L386.6 302.8L388.2 303.9L389.8 303.9L391.4 304.4L393 305.2L394.6 306.1L396.2 306.5L397.8 306.4L399.5 306.4L401.2 306.4L402.9 306.4L404.6 306.2L406.4 306.1L408.1 306.2L409.8 304.9L411.4 304.3L413.1 306.1L414.8 306.2L416.4 305.4L418.1 304.8L419.8 304.8L421.4 305.5L423.1 305.4L424.8 305.6L426.4 306.4L428.1 306.1L429.8 305.8L431.4 305.8L433 306.1L434.6 306.5L436.2 306.2L437.8 305.8L439.3 304.9L440.7 304.4L442.2 304.2L443.7 303.7L445.2 304.6L446.7 305.4L448.2 306.1L449.7 306.9L451.2 306.5L452.7 306.2L454.2 306.4L455.7 306.2L457.7 304.2L459.7 304.3L461.4 307L463.1 309.6L464.7 311.7L466.2 311.9L467.7 312.1L469.2 312.5L470.7 312.9L472.2 313.4L473.7 314.1L475.4 315.1L477 315.4L478.7 315.2L480.4 315.7L482 316.3L483.7 317.1L485.4 317.4L487 317.4L488.7 317.1L490.4 318.2L492 319.5L493.7 319.7L495.4 320.2L497 320.8L498.7 322.1L500.4 322.8L502 323.2L503.7 323.6L505.3 323.5L506.9 323.2L508.5 323.6L510.1 324.3L511.7 325.5L513.2 325.6L514.7 325.3L516.2 325.2L517.7 325.2L519.3 322.1L521 318.9L522.7 315.5L524.2 312.7L525.7 309.9L527.3 310.4L528.9 311.1L530.5 311.9L532.1 311.9L533.7 312.2L535.3 312.9L536.9 312.4L538.5 311.3L540 310.8L541.6 310.8L543.2 311.3L544.8 310.8L546.4 310.1L548 311.5L549.6 311.5L551.1 310.8L552.6 311.4L554.1 312.3L555.6 312.7L557.1 314.3L558.6 315.8L560.1 317.2L561.6 318.6L563.6 321.5L565.6 325.4L567.6 325L569.6 322.8" stroke="#800000"/>
<path d="M570 323.8L571.6 323.7L573.2 323.4L574.8 322.7L576.4 322.5L578 322.4L579.5 322.8L581 323.7L582.5 325.2L584 326.4L585.5 325L587 323.4L588.5 321.9L590 320.7L591.5 321.4L593 321.4L594.5 322.5L596 324L597.5 324.3L599 325.1L600.5 327.3L602 328.1L603.6 324L605.3 323L607 321.7L608.6 323.3L610.3 325.5L612 327.9L613.6 328L615.2 327.7L616.8 327.2L618.4 326.5L620 326.2L621.4 327.1L622.9 326.8L624.4 325.6L625.9 326L627.4 325.4L628.9 325.4L630.4 324.8L631.9 323.2L633.5 322.3L635.1 321.4L636.7 322.5L638.3 322.8L639.9 322.1L641.6 323.4L643.3 324.6L644.9 324.7L646.6 324.5L648.3 324.2L649.9 325.5L651.6 325.7L653.3 325.2L654.9 326.6L656.6 327.5L658.2 327.8L659.9 328L661.6 327.7L663.2 327.2L664.9 327.7L666.6 328.1L668.2 327.3L669.9 327.7L671.6 328.3L673.3 327.7L675 328.4L676.8 329.7L678.5 328.6L680.2 327.7L681.9 327.1L683.6 328.7L685.3 329.5L687 329.5L688.7 329.2L690.5 329.8L692.2 331.3L693.9 330.8L695.6 330.5L697.3 330.5L699 330.4L700.7 330L702.4 329.2L704.2 330.9L705.9 331.8" stroke="#800000"/>
<path d="M1194.8 330.8L1196.5 330.8L1198.3 330.4L1200 329.6L1201.7 330.5L1203.4 331.7L1205.1 332.7L1206.7 333.8L1208.5 333L1210.2 331.6L1212 330.8L1213.7 330.1L1215.4 330.1L1217.2 330.1L1218.9 329.7L1220.6 328.5L1222.3 327.8L1224 327.3L1225.7 327.2L1227.3 327L1228.8 326.7L1230.4 326.8L1231.9 326.9L1233.5 327.1L1235 327.3L1236.6 327.3L1238.2 327.1L1239.7 326.9L1241.3 326.9L1242.8 326.7L1244.4 326.6L1245.9 327L1247.5 327.3L1249 327.5L1250.6 327.5L1252.1 327.5L1253.7 327.8L1255.4 327.2L1257.1 326.1L1258.8 325.8L1260.5 326L1262.3 326.6L1264 325.7L1265.7 325L1267.4 325L1269.1 324.5L1270.8 324.4L1272.5 324.9L1274.2 324.3L1276 323.6L1277.7 323.1L1279.4 323.3L1281.1 323.5L1282.8 323.1L1284.5 323.4L1286.2 323.6L1287.9 322.8L1289.7 322.8L1291.4 323.1L1293.1 323.1L1294.8 323.5L1296.5 323.8L1298.2 323.5L1299.9 324.2L1301.6 324.9L1303.2 323.9L1304.8 323.7L1306.3 324.3L1307.9 324.4L1309.4 324.5L1311 325.2L1312.5 325.5L1314.1 325.4L1315.6 325.6L1317.2 325.6L1318.7 325.1L1320.3 324.7L1321.9 324.4L1323.4 324.1L1325 323.9L1326.5 324.1L1328.1 324.1L1329.6 324.2" stroke="#800000"/>
<path d="M1330 322.8L1331.7 323.1L1333.3 323L1335 322.3L1336.7 321.8L1338.3 321.4L1340 321.1L1341.7 321.1L1343.3 321.3L1345 321.1L1346.7 321.3L1348.3 321.6L1350 320.4L1351.6 319.9L1353.3 320.1L1355 319.7L1356.6 318.7L1358.3 316.8L1360 317L1361.5 317.3L1363.1 316.9L1364.7 316.5L1366.2 316.1L1367.8 315.2L1369.4 314.4L1371 313.9" stroke="#800000"/>
</g>
<g class="ns" clip-path="url(#c2)" fill="none" stroke-width="3.6" stroke-linejoin="round" stroke-linecap="butt">
<g transform="translate(190.30 0) scale(0.52826 0.2)">
<path d="M240 2623l1 -22 1 -5 1 -4 1 -8 1 10 1 -17 1 34 1 -49 1 30 1 -27 1 19 1 2 1 -4 1 -7 1 29 1 -7 1 6 1 -50 1 34 1 -2 1 -13 1 42 1 -47 1 19 1 1 1 47 1 -57 1 30 1 1 1 83 1 -143 1 38 1 -7 1 -2 1 -10 1 21 1 8 1 1 1 -16 1 1 1 18 1 13 1 -47 1 9 1 12 1 6 1 -19 1 24 1 -5 1 35 1 -54 1 5 1 16 1 -14 1 17 1 -22 1 15 1 10 1 -4 1 -23 1 15 1 -13 1 31 1 -19 1 5 1 -20 1 32 1 -19 1 -2 1 -7 1 6 1 -7 1 -1 1 26 1 7 1 -25 1 3 1 -3 1 4 1 1 1 13 1 12 1 -19 1 1" stroke="#00009f"/>
<path d="M756 2610l1 -12 1 16 1 -35 1 35 1 -14 1 -26 1 41 1 6 1 -17 1 -32 1 11 1 8 1 8 1 -3 1 10 1 -20 1 -11 1 11 1 -14 1 -12 1 17 1 17 1 15 1 -33 1 24 1 -26 1 39 1 -27 1 -10 1 14 1 -2 1 -11 1 22 1 -13 1 6 1 -7 1 -20 1 16 1 5 1 3 1 -28 1 21 1 -14 1 13 1 20 1 6 1 -25 1 -24 1 50 1 -25 1 16 1 -30 1 17 1 14 1 -41 1 11 1 35 1 -24 1 31 1 -14 1 8 1 -24 1 -4 1 27 1 -50 1 54 1 -26 1 15 1 -8 1 -8 1 3 1 17 1 -38 1 13 1 8 1 9 1 -3 1 22 1 7 1 -35 1 13 1 -10 1 25 1 -23 1 16 1 -38 1 -3 1 51 1 -35 1 -11 1 -19 1 29 1 1 1 22 1 -32 1 9 1 -3 1 15 1 18 1 -34 1 14 1 -12 1 -8 1 -1 1 15 1 -18 1 25 1 0 1 6 1 -10 1 12 1 -18 1 1 1 -3 1 34 1 -22 1 -7 1 -20 1 27 1 -15 1 -18 1 29 1 1 1 9 1 11 1 -33 1 13 1 1 1 -33 1 49 1 -19 1 17 1 -22 1 3 1 20 1 -16 1 -9 1 -17 1 20 1 2 1 1 1 14 1 19 1 -39 1 3 1 12 1 0 1 -13 1 -23 1 26 1 -10 1 27 1 24 1 -37 1 -20 1 30 1 12 1 -40 1 14 1 25 1 -34 1 1 1 22 1 -27 1 -3 1 25 1 9 1 -8 1 6 1 3 1 -35 1 16 1 6 1 -6 1 -6 1 3 1 41 1 -34 1 14 1 3 1 -19 1 5 1 4 1 -10 1 -29 1 19 1 22 1 -3 1 3 1 -6 1 -15 1 10 1 0 1 14 1 -52 1 26 1 1 1 19 1 -8 1 -16 1 53 1 -44 1 -7 1 2 1 -3 1 10 1 13 1 5 1 8 1 -32 1 -9 1 27 1 -25 1 33 1 -12 1 -23 1 35 1 2 1 -46 1 33 1 -13 1 6 1 -10 1 3 1 18 1 8 1 -6 1 -11 1 -1 1 7 1 12 1 -1 1 -14 1 -26 1 13 1 12 1 -13 1 19 1 -10 1 7 1 17 1 -22 1 -7 1 4 1 12 1 -28 1 13 1 -2 1 -6 1 1 1 -13 1 38 1 -7 1 -14 1 3 1 14 1 2 1 -19 1 32 1 -12 1 -2 1 -4 1 -3 1 -3 1 34 1 -17 1 -30 1 9 1 -12 1 8 1 15 1 1 1 -6 1 -9 1 8 1 15 1 -6 1 6 1 -6 1 21 1 -16 1 10 1 -48 1 47 1 -16 1 18 1 -37 1 -4 1 13 1 -3 1 3 1 5 1 13 1 5 1 -2 1 -21 1 -2 1 1 1 9 1 14 1 -16 1 -9 1 31 1 -16 1 -30 1 41 1 -33 1 19 1 -27 1 30 1 3 1 -9 1 -2 1 -1 1 -5 1 26 1 -26 1 -3 1 28 1 -17 1 6 1 -4 1 -14 1 33 1 -20 1 -23 1 53 1 -39 1 14 1 -29 1 1 1 7 1 21 1 -6 1 0 1 -6 1 7 1 10 1 -1 1 -20 1 10 1 0 1 -3 1 -30 1 8 1 25 1 2 1 -16 1 19 1 -18 1 5 1 -14 1 40 1 -11 1 -15 1 3 1 6 1 5 1 -3 1 -1 1 -13 1 0 1 23 1 -20 1 1 1 17 1 -25 1 12 1 -3 1 40 1 -30 1 -16 1 22 1 -22 1 16 1 -1 1 7 1 -8 1 5 1 29 1 -42 1 12 1 -9 1 -4 1 9 1 7 1 -4 1 -8 1 -12 1 23 1 -7 1 -31 1 34 1 -2 1 -11 1 13 1 -12 1 -8 1 -2 1 -18 1 41 1 -25 1 56 1 -25 1 -5 1 -9 1 -6 1 -6 1 23 1 -26 1 -4 1 -5 1 41 1 -25 1 9 1 15 1 -23 1 19 1 -24 1 22 1 -18 1 16 1 -23 1 29 1 -7 1 -22 1 31 1 -19 1 10 1 9 1 -7 1 -13 1 -13 1 22 1 -7 1 12 1 -13 1 8 1 55 1 -51 1 -4 1 -14 1 5 1 17 1 -15 1 3 1 30 1 -30 1 -2 1 -8 1 2 1 -14 1 10 1 -11 1 29 1 1 1 -23 1 4 1 -1 1 28 1 -27 1 18 1 2 1 -26 1 17 1 -17 1 32 1 9 1 -13 1 -37 1 31 1 1 1 11 1 -13 1 0 1 -12 1 14 1 -25 1 28 1 -5" stroke="#00009f"/>
<path d="M1776 2574l1 10 1 -10 1 18 1 1 1 2 1 5 1 -12 1 27 1 -25 1 -11 1 -6 1 11 1 22 1 -11 1 -9 1 -15 1 12 1 -2 1 15 1 3 1 -13 1 -1 1 6 1 15 1 -14 1 -4 1 -5 1 12 1 -7 1 -5 1 10 1 1 1 13 1 -11 1 -15 1 -7 1 9 1 -4 1 -2 1 8 1 -22 1 27 1 -15 1 -8 1 20 1 0 1 -15 1 5 1 14 1 -2 1 0 1 -12 1 6 1 23 1 -7 1 -19 1 16 1 -5 1 -10 1 3 1 -5 1 42 1 -46 1 8 1 -7 1 22 1 -18 1 7 1 -12 1 13 1 -12 1 23 1 -27 1 5 1 8 1 -6 1 14 1 -17 1 7 1 -5 1 -4 1 25 1 -19 1 8 1 -20 1 16 1 -6 1 26 1 -32 1 19 1 -11 1 16 1 1 1 -5 1 -22 1 23 1 9 1 -17 1 -14 1 19 1 -6 1 12 1 -10 1 7 1 -8 1 -7 1 3 1 21 1 -7 1 -20 1 10 1 5 1 -6 1 12 1 -11 1 15 1 -33 1 23 1 3 1 -17 1 13 1 -5 1 18 1 -8 1 -12 1 23 1 -35 1 26 1 -9 1 -5 1 -1 1 5 1 0 1 0 1 -13 1 24 1 0 1 -5 1 -14 1 12 1 13 1 -19 1 8 1 4 1 -5 1 4 1 -7 1 -7 1 -7 1 8 1 2 1 21 1 -24 1 -10 1 32 1 3 1 -19 1 0 1 -18 1 16 1 23 1 -6 1 -24 1 7 1 7 1 -7 1 -6 1 -20 1 38 1 3 1 -21 1 4 1 4 1 -9 1 6 1 -5 1 1 1 17 1 -12 1 -3 1 12 1 -11 1 35 1 -12 1 -14 1 -26 1 4 1 3 1 7 1 -3 1 -3 1 23 1 -12 1 -20 1 12 1 4 1 -6 1 3 1 18 1 -6 1 -6 1 9 1 0 1 -18 1 12 1 -2 1 -1 1 -7 1 5 1 6 1 -1 1 -14 1 13 1 2 1 10 1 -15 1 36 1 -18 1 -25 1 -4 1 12 1 14 1 -23 1 18 1 1 1 -5 1 -7 1 -54 1 41 1 15 1 -2 1 6 1 -2 1 7 1 -19 1 5 1 14 1 -18 1 12 1 14 1 -24 1 22 1 12 1 -3 1 -48 1 38 1 -23 1 -5 1 31 1 -9 1 -3 1 14" stroke="#00009f"/>
<path d="M504 2580l1 22 1 -4 1 0 1 0 1 -19 1 11 1 -3 1 12 1 12 1 -42 1 28 1 -11 1 -25 1 36 1 -16 1 6 1 0 1 -27 1 20 1 14 1 -24 1 8 1 7 1 -25 1 57 1 -21 1 -5 1 -10 1 -13 1 39 1 1 1 -40 1 -21 1 20 1 3 1 33 1 -14 1 -4 1 10 1 0 1 -12 1 -3 1 2 1 -1 1 12 1 -14 1 9 1 12 1 -26 1 -4 1 30 1 -22 1 21 1 -31 1 25 1 -35 1 36 1 7 1 -14 1 19 1 -9 1 -16 1 11 1 -27 1 28 1 -11 1 16 1 -18 1 22 1 -6 1 -21 1 4 1 14 1 5 1 -32 1 18 1 15 1 -15 1 -36 1 46 1 -17 1 28 1 -33 1 8 1 -2 1 -34 1 34 1 -3 1 1 1 -7 1 18 1 -26 1 3 1 12 1 -18 1 39 1 6 1 -13 1 2 1 -21 1 11 1 0 1 3 1 12 1 -14 1 -12 1 12 1 9 1 -22 1 20 1 -27 1 75 1 -66 1 -7 1 12 1 -5 1 26 1 -46 1 21 1 9 1 -20 1 4 1 37 1 8 1 6 1 -30 1 0 1 10 1 3 1 -15 1 -24 1 17 1 22 1 -9 1 4 1 -17 1 9 1 16 1 -18 1 2 1 12 1 -27 1 29 1 -3 1 12 1 -21 1 -2 1 -12 1 2 1 20 1 -45 1 14 1 31 1 -34 1 1 1 14 1 39 1 -20 1 -32 1 39 1 -16 1 13 1 -19 1 7 1 -3 1 14 1 -22 1 0 1 -11 1 2 1 12 1 1 1 34 1 -18 1 14 1 -20 1 -2 1 -4 1 15 1 14 1 -10 1 -34 1 6 1 -6 1 9 1 -4 1 24 1 -25 1 25 1 -6 1 -4 1 6 1 0 1 -5 1 11 1 -31 1 51 1 -22 1 -4 1 -10 1 10 1 -35 1 41 1 -8 1 -30 1 30 1 -10 1 12 1 -4 1 -1 1 -30 1 44 1 -39 1 27 1 -5 1 9 1 0 1 -8 1 -13 1 -1 1 14 1 -19 1 -1 1 38 1 -19 1 15 1 -18 1 12 1 5 1 -34 1 34 1 -32 1 28 1 -6 1 -30 1 4 1 15 1 9 1 -15 1 12 1 2 1 2 1 -25 1 23 1 3 1 -5 1 12 1 -10 1 1 1 10 1 4 1 -19 1 -6 1 -1 1 -26 1 48 1 -34 1 45 1 -7 1 -6 1 -17 1 8 1 -9 1 5 1 -2 1 3 1 18 1 -15 1 -8 1 5 1 -6 1 19 1 -36 1 21 1 15 1 -10 1 -5 1 -25 1 28 1 -16 1 14 1 -18 1 20 1 -28 1 31 1 -15 1 7 1 21 1 -17 1 -9 1 18 1 -18 1 15 1 -10 1 17 1 -33 1 39 1 -6 1 -28 1 14 1 -5 1 10 1 -34 1 38 1 -21 1 -3 1 3 1 -2 1 1 1 19 1 0 1 -36 1 34 1 -6 1 -8 1 0 1 10 1 18 1 -17 1 -5 1 -9 1 22 1 3 1 -6 1 13 1 -22 1 -7 1 -18 1 28 1 15 1 -24 1 -26 1 32 1 -19 1 39 1 -17 1 -9 1 8 1 21 1 -22 1 -10 1 25 1 0 1 -14 1 -22 1 35 1 28 1 -36 1 -1 1 8 1 -20 1 14 1 6 1 -23 1 38 1 -23 1 1 1 -20 1 4 1 5 1 -2 1 13 1 -5 1 12 1 -9 1 -29 1 59 1 -20 1 -4 1 -31 1 21 1 -5 1 -21 1 33 1 2 1 18 1 -28 1 15 1 -26 1 13 1 25 1 -4 1 -37 1 11 1 0 1 16 1 -10 1 40 1 -38 1 4 1 -10 1 32 1 -17 1 2 1 -19 1 6 1 14 1 6 1 -14 1 -14 1 22 1 16 1 -38 1 15 1 -28 1 28 1 10 1 -13 1 12 1 -11 1 -9 1 -11 1 13 1 2 1 -16 1 23 1 -7 1 -13 1 33 1 -27 1 28 1 4 1 20 1 -32 1 -12 1 5 1 -2 1 -23 1 18 1 21 1 -13 1 -8 1 -1 1 6 1 2 1 9 1 6 1 -10 1 -2 1 9 1 -20 1 -3 1 -5 1 6 1 -19 1 32 1 7 1 -49 1 30 1 -21 1 47 1 -38 1 20 1 10 1 -3 1 -14 1 11 1 -29 1 11 1 20 1 -32 1 26 1 -3 1 10 1 0 1 5 1 -19 1 -18 1 43 1 -39 1 16 1 11 1 24 1 -58 1 9 1 9 1 20 1 -24 1 11 1 16 1 -1 1 -9 1 -9 1 14 1 -9 1 -19 1 7 1 -6 1 21 1 -28 1 34 1 -3 1 20 1 -15 1 -23 1 5 1 -1 1 17 1 -9 1 -2 1 -7 1 -2 1 8 1 -8 1 3 1 26 1 -19 1 1 1 -7 1 -15 1 13 1 13 1 15 1 -30 1 -1 1 10 1 -20 1 -7 1 48 1 -32 1 5 1 -5 1 -9 1 37 1 -20 1 -18 1 -2 1 13" stroke="#0000bf"/>
<path d="M2112 2584l1 1 1 20 1 -5 1 -32 1 16 1 12 1 6 1 -12 1 -18 1 14 1 -18 1 24 1 -20 1 7 1 19 1 -27 1 29 1 -8 1 8 1 0 1 -13 1 -7 1 31 1 -24 1 -3 1 4 1 -9 1 15 1 10 1 -5 1 -22 1 -11 1 32 1 -27 1 18 1 -12 1 21 1 -14 1 3 1 3 1 1 1 15 1 -28 1 2 1 -6 1 10 1 -11 1 43 1 -21 1 -4 1 3 1 9 1 -45 1 35 1 1 1 -8 1 5 1 -10 1 -2 1 42 1 -40 1 1 1 13 1 -12 1 5 1 -6 1 15 1 29 1 -41 1 -18 1 31 1 -13 1 -11 1 -11 1 26 1 1 1 15 1 -4 1 -28 1 -2 1 17 1 29 1 -10 1 8 1 -29 1 -10 1 -16 1 15 1 9 1 25 1 -1 1 -55 1 22 1 7 1 3 1 -4 1 2 1 -1 1 7 1 -6 1 -6 1 3 1 -5 1 -6 1 -6 1 30 1 -8 1 3 1 -4 1 26 1 -42 1 47 1 -54 1 20 1 9 1 -4 1 44 1 -53 1 -13 1 -30 1 7 1 68 1 -49 1 73 1 -22 1 11 1 18 1 -41 1 -7 1 9 1 1 1 -26 1 -16 1 28 1 -26 1 14 1 25 1 -17 1 2 1 13 1 -94 1 86 1 15 1 -59 1 89 1 -31 1 -33 1 21 1 8 1 -26 1 -25 1 52 1 -25 1 43 1 32 1 -96 1 24 1 60 1 -37 1 -12 1 1 1 -11 1 -3 1 52 1 -11 1 -10 1 19 1 -169 1 156 1 -17 1 -61 1 16 1 31 1 38 1 -33 1 34 1 -8 1 -20 1 -41 1 87 1 -98 1 73 1 -33 1 14 1 -18 1 -12 1 -7 1 52 1 -35 1 8 1 -3 1 -7 1 -2 1 -32 1 26 1 28 1 -2 1 -42 1 -10 1 67 1 9 1 -33 1 -7 1 34 1 -97 1 3 1 35 1 58 1 -74 1 11 1 29 1 -56 1 88 1 -13 1 -28 1 39 1 -51 1 49 1 -22 1 -15 1 57 1 -22 1 -32 1 -23 1 -2 1 35 1 57 1 -6 1 -74 1 65 1 -75 1 2 1 92 1 -15 1 -74 1 -19 1 15 1 52 1 -26 1 1 1 21 1 -21 1 -62 1 65 1 -20 1 30 1 7 1 2 1 -31 1 -4 1 71 1 -21 1 -7 1 39 1 -133 1 44 1 66 1 -73 1 14 1 42 1 -28 1 -60 1 123 1 7 1 -70 1 46 1 -29 1 10 1 25 1 -58 1 6 1 -18 1 36 1 18 1 -15 1 -77 1 117 1 -110 1 20 1 34 1 51 1 -23 1 -20 1 5 1 7 1 68 1 -73 1 -26 1 45 1 -49 1 24 1 -24 1 29 1 -17 1 -62 1 49 1 -1 1 33 1 45 1 -25 1 -37 1 13 1 21 1 -57 1 21 1 -20 1 13 1 -10 1 21 1 -21 1 -4 1 18 1 -1 1 7 1 -39 1 35 1 -13 1 32 1 -37 1 22 1 25 1 33 1 -14 1 -55 1 17 1 8 1 -33 1 10 1 -34 1 30 1 13 1 -23 1 39 1 -12 1 -34 1 29 1 4 1 25 1 -53 1 39 1 9 1 -17 1 -7 1 3 1 -3 1 -8 1 28 1 -23 1 8 1 21 1 -20 1 -10 1 48 1 -27 1 10 1 17 1 -32 1 -6 1 29 1 -50" stroke="#0000bf"/>
<path d="M2076 2582l1 12 1 -4 1 -2 1 22 1 -27 1 -20 1 24 1 -6 1 -26 1 19 1 25 1 -14 1 -5 1 9 1 1 1 3 1 9 1 -18 1 -26 1 42 1 -14 1 -16 1 43 1 -96 1 61 1 3 1 -5 1 8 1 -7 1 16 1 -30 1 28 1 -6 1 19 1 -11 1 5 1 -22 1 12 1 -34 1 43 1 -19 1 26 1 -32 1 39 1 -22 1 15 1 4 1 -29 1 22 1 -30 1 20 1 22 1 -5 1 -28 1 -9 1 15 1 -2 1 -13 1 17 1 1 1 0 1 18 1 -41 1 11 1 -10 1 32 1 -40 1 35 1 -29 1 20 1 23 1 -12 1 22 1 0 1 -38 1 54 1 -46 1 -3 1 -14 1 16 1 -11 1 3 1 21 1 -4 1 -20 1 12 1 -15 1 12 1 21 1 -21 1 -13 1 8 1 3 1 30 1 -26 1 5 1 -34 1 74 1 -22 1 -13 1 -32 1 26 1 1 1 -10 1 1 1 -12 1 37 1 15 1 -50 1 21 1 -1 1 -3 1 -26 1 -22 1 43 1 9 1 15 1 -23 1 -25 1 19 1 -19 1 2 1 20 1 33 1 -26 1 -23 1 16 1 47 1 -83 1 49 1 -23 1 8 1 52 1 -1 1 -48 1 -13 1 38 1 -35 1 -4 1 48 1 14 1 -8 1 -42 1 -41 1 45 1 -17 1 -16 1 51 1 -27 1 16 1 -27 1 40 1 -29 1 -22 1 0 1 9 1 14 1 32 1 60 1 -119 1 85 1 -38 1 -15 1 -18 1 35 1 -9 1 -20 1 10 1 -18 1 46 1 -11 1 137 1 -158 1 0 1 26 1 -19 1 -28 1 -3 1 25 1 25 1 -8 1 -9 1 -14 1 52 1 -67 1 85 1 -111 1 35 1 30 1 -46 1 33 1 77 1 -64 1 -1 1 12 1 -20 1 14 1 -18 1 8 1 67 1 -132 1 39 1 -4 1 -7 1 -2 1 16 1 77 1 -10 1 -37 1 -83 1 80 1 0 1 -60 1 128 1 -124 1 33 1 1 1 -12 1 -3 1 171 1 -116 1 -13 1 -13 1 32 1 -34 1 33 1 -61 1 53 1 -21 1 -62 1 4 1 41 1 11 1 26 1 41 1 -138 1 17 1 65 1 25 1 -14 1 -20 1 -61 1 61 1 -9 1 -21 1 77 1 17 1 -41 1 -24 1 -20 1 -13 1 48 1 15 1 -36 1 3 1 -31 1 -12 1 22 1 79 1 -14 1 -24 1 -64 1 56 1 55 1 15 1 -52 1 45 1 -101 1 -95 1 164 1 -4 1 26 1 2 1 -22 1 30 1 -99 1 95 1 -45 1 12 1 31 1 -36 1 -31 1 -45 1 -33 1 55 1 -21 1 44 1 7 1 57 1 -81 1 50 1 -68 1 87 1 -36 1 19 1 -9 1 -15 1 -63 1 86 1 10 1 -46 1 -41 1 54 1 -68 1 50 1 41 1 -14 1 -45 1 42 1 17 1 -62 1 65 1 20 1 -46 1 -7 1 35 1 -110 1 49 1 3 1 -62 1 81 1 -2 1 117 1 -118 1 84 1 -28 1 -16 1 -68 1 62 1 -30 1 11 1 -63 1 36 1 -27 1 66 1 30 1 18 1 -186 1 110 1 -8 1 -1 1 13 1 9 1 -70 1 117 1 57 1 -54 1 -42 1 -14 1 -62 1 85 1 -21 1 -36 1 47 1 43 1 -72 1 -18 1 1 1 50 1 -52 1 35 1 4 1 -33 1 -10 1 39 1 -39 1 85 1 -68 1 44 1 -23 1 46 1 -50 1 -9 1 2 1 -45 1 130 1 -69 1 36 1 -57 1 10 1 4 1 -28 1 48 1 -14 1 32 1 -29 1 29 1 -20 1 38 1 -134 1 76 1 45 1 -70 1 8 1 56 1 71 1 -91 1 -51 1 48 1 -36 1 24 1 45 1 -71 1 32 1 14 1 -63 1 90 1 -42 1 59 1 -72 1 -35 1 59 1 -22 1 14 1 15 1 21 1 -31 1 -11 1 -9 1 28 1 -19 1 -9 1 15 1 19 1 22 1 -26 1 11 1 -22 1 -69 1 41 1 15 1 38 1 -34 1 -30 1 41 1 -5 1 -38 1 25 1 -23 1 49 1 -39 1 33 1 -51 1 48 1 -26 1 -6 1 30 1 -21 1 5 1 29 1 -74 1 60 1 -59 1 81 1 -53 1 12 1 -32 1 40 1 51 1 -53 1 14 1 7 1 -43 1 34 1 -30 1 29 1 23 1 24 1 -48 1 24 1 -36 1 2 1 -4 1 -11 1 62 1 -36 1 -5 1 9 1 3 1 68" stroke="#0000df"/>
<path d="M1104 2564l1 18 1 -6 1 2 1 -18 1 13 1 33 1 -14 1 -14 1 -7 1 5 1 8 1 13 1 -12 1 7 1 -18 1 -19 1 24 1 -7 1 20 1 10 1 -22 1 17 1 -26 1 29 1 -20 1 8 1 6 1 8 1 -3 1 -3 1 -18 1 18 1 -11 1 -8 1 21 1 4 1 9 1 -12 1 -12 1 -5 1 19 1 -23 1 24 1 -22 1 -7 1 14 1 -8 1 19 1 3 1 -2 1 -19 1 27 1 -25 1 -14 1 10 1 -7 1 2 1 26 1 0 1 -12 1 6 1 -17 1 25 1 -27 1 33 1 -21 1 2 1 -5 1 4 1 -1 1 10 1 -36 1 32 1 -4 1 16 1 16 1 -33 1 14 1 2 1 -13 1 -30 1 10 1 13 1 22 1 -11 1 -1 1 5 1 2 1 -29 1 -5 1 13 1 6 1 6 1 2 1 -48 1 45 1 -5 1 14 1 -3 1 1 1 -9 1 10 1 -13 1 4 1 -19 1 12 1 -11 1 42 1 -21 1 1 1 -14 1 5 1 -2 1 -15 1 30 1 -9 1 -5 1 4 1 -2 1 -1 1 16 1 4 1 -20 1 12 1 -25 1 -3 1 7 1 17 1 -4 1 -5 1 21 1 -21 1 0 1 0 1 5 1 -24 1 6 1 27 1 -4 1 -3 1 8 1 -23 1 6 1 11 1 5 1 -6 1 -4 1 8 1 -6 1 -1 1 2 1 -8 1 -4 1 1 1 12 1 26 1 -39 1 25 1 -11 1 2 1 -2 1 -20 1 31 1 -10 1 -22 1 24 1 -6 1 -18 1 10 1 -1 1 8 1 -13 1 11 1 -15 1 12 1 12 1 -10 1 23 1 -22 1 -1 1 13 1 -17 1 -6 1 12 1 -15 1 -2 1 27 1 -1 1 16 1 -11 1 -10 1 -10 1 -8 1 14 1 0 1 14 1 -26 1 24 1 18 1 -18 1 -2 1 -35 1 26 1 9 1 9 1 -22 1 -6 1 6 1 -11 1 35 1 -8 1 -23 1 12 1 0 1 -12 1 4 1 6 1 -19 1 24 1 -10 1 -4 1 5 1 -1 1 -6 1 0 1 32 1 -17 1 -7 1 22 1 -23 1 5 1 -8 1 9 1 -6 1 19 1 -20 1 -11 1 7 1 3 1 3 1 -2 1 22 1 3 1 -5 1 -33 1 -8 1 41 1 -29 1 6 1 8 1 -2 1 3 1 -16 1 16 1 4 1 0 1 -4 1 15 1 -12 1 0 1 -11 1 5 1 -6 1 28 1 -29 1 9 1 -13 1 21 1 -11 1 -3 1 -9 1 15 1 -8 1 3 1 9 1 18 1 -21 1 -4 1 2 1 -11 1 11 1 -2 1 -8 1 1 1 1 1 -10 1 19 1 -31 1 35 1 -19 1 10 1 -17 1 22 1 2 1 0 1 -8 1 24 1 -28 1 13 1 11 1 -16 1 20 1 -33 1 16 1 -8 1 -15 1 26 1 -3 1 -22 1 34 1 -20 1 25 1 -12 1 -6 1 -20 1 27 1 -5 1 -19 1 -1 1 13 1 23 1 -10 1 -29 1 7 1 7 1 -18 1 21 1 10 1 -18 1 15 1 15 1 -2 1 2 1 -15 1 -17 1 -6 1 32 1 -12 1 5 1 -26 1 5 1 3 1 5 1 16 1 1 1 -3 1 8 1 7 1 -35 1 11 1 12 1 -4 1 -25 1 22 1 8 1 -7 1 0 1 7 1 -2 1 -15 1 14 1 -8 1 -5 1 -9 1 28 1 -19 1 13 1 -23 1 21 1 -14 1 3 1 15 1 17 1 -28 1 -4 1 26 1 -25 1 2 1 12 1 -8 1 1 1 4 1 -13 1 11 1 8 1 -11 1 -11 1 5 1 1 1 0 1 21 1 -15 1 -2 1 -5 1 1 1 3 1 -4 1 -21 1 28 1 -4 1 3 1 -27 1 31 1 -3 1 25 1 -29 1 22 1 4 1 -13 1 11 1 -30 1 -10 1 25 1 -8 1 1 1 -2 1 3 1 -5 1 -13 1 12 1 8 1 -9 1 24 1 0 1 -15 1 6 1 11 1 -38 1 14 1 -8 1 27 1 -7 1 5 1 -18 1 -17 1 26 1 9 1 -6 1 -12 1 2 1 6 1 1 1 23 1 -24" stroke="#0020ff"/>
<path d="M2448 2582l1 3 1 7 1 -7 1 6 1 26 1 -57 1 27 1 19 1 -41 1 11 1 40 1 -19 1 -25 1 42 1 -21 1 -57 1 19 1 38 1 44 1 -50 1 11 1 15 1 1 1 -41 1 24 1 -22 1 61 1 -66 1 27 1 -10 1 17 1 -30 1 24 1 -9 1 18 1 -18 1 9 1 12 1 -23 1 -26 1 -6 1 39 1 -31 1 3 1 34 1 -6 1 -12 1 5 1 24 1 -12 1 4 1 -23 1 12 1 -48 1 83 1 -31 1 8 1 -3 1 18 1 -45 1 5 1 29 1 -51 1 49 1 -12 1 8 1 -8 1 13 1 -37 1 30 1 -9 1 2 1 0 1 2 1 -4 1 -27 1 41 1 6 1 -17 1 2 1 -14 1 9 1 -21 1 -1 1 35 1 -4 1 9 1 -2 1 -30 1 27 1 -34 1 7 1 -5 1 18 1 -13 1 11 1 9 1 -23 1 34 1 -30 1 -13 1 5 1 36 1 -57 1 25 1 10 1 -11 1 10 1 14 1 -20 1 1 1 -10 1 20 1 17 1 -29 1 1 1 1 1 -24 1 39 1 -1 1 21 1 -19 1 -22 1 2 1 -6 1 25 1 14 1 -37 1 -1 1 40 1 -14 1 -8 1 -10 1 17 1 7 1 -15 1 17 1 -11 1 -4 1 -12 1 28 1 -26 1 9 1 -27 1 30 1 0 1 34 1 -102 1 55 1 2 1 28 1 -48 1 46 1 -10 1 -27 1 32 1 -19 1 -33 1 45 1 -19 1 18 1 2 1 -10 1 1 1 20 1 -13 1 -24 1 30 1 -32 1 39 1 -5 1 -56 1 59 1 -14 1 -18 1 26 1 -26 1 29 1 -33 1 27 1 5 1 -16 1 -10 1 6 1 -21 1 9 1 32 1 -8 1 -9 1 7 1 2 1 7 1 1 1 -12 1 -7 1 16 1 -22 1 25 1 1 1 -22 1 35 1 -21 1 1 1 13 1 -14 1 23 1 -29 1 8 1 -32 1 5 1 13 1 -17 1 33 1 -8 1 -30 1 27 1 -33 1 50 1 -14 1 -23 1 13 1 1 1 32 1 -49 1 33 1 3 1 -25 1 38 1 -17 1 -10 1 6 1 0 1 0 1 4 1 3 1 -12 1 21 1 -5 1 -3 1 -8 1 -6 1 14 1 -30 1 16 1 24 1 -87 1 -7 1 23 1 113 1 -36 1 4 1 35 1 -72 1 -111 1 204 1 -142 1 12 1 182 1 -96 1 -103 1 39 1 21 1 13 1 37 1 -6 1 37 1 -63 1 33 1 -93 1 -63 1 267 1 -184 1 48 1 -62 1 42 1 121 1 -201 1 76 1 -26 1 38 1 -71 1 -83 1 163 1 0 1 26 1 -33 1 39 1 95 1 -198 1 -51 1 120 1 -61 1 -48 1 114 1 -53 1 36 1 -76 1 51 1 -14 1 -75 1 112 1 -47 1 14 1 37 1 2 1 -68 1 79 1 -19 1 101 1 -455 1 313 1 128 1 -102 1 83 1 -17 1 -155 1 199 1 -75 1 81 1 -146 1 94 1 -33 1 -52 1 -36 1 -9 1 8 1 85 1 -9 1 -47 1 15 1 1 1 12 1 5 1 -45 1 17 1 -106 1 57 1 104 1 -5 1 25 1 -70 1 92 1 -117 1 37 1 9 1 -56 1 80 1 -16 1 -21 1 0 1 -5 1 61 1 -59 1 105 1 -96 1 21 1 8 1 -14 1 -27 1 48" stroke="#0020ff"/>
<path d="M0 2583l1 15 1 -8 1 -5 1 7 1 -46 1 44 1 -36 1 44 1 15 1 -33 1 -5 1 19 1 -12 1 38 1 -73 1 25 1 12 1 -4 1 -3 1 19 1 3 1 11 1 -16 1 3 1 1 1 -17 1 1 1 -13 1 15 1 2 1 2 1 -23 1 -31 1 52 1 5 1 -2 1 1 1 -12 1 21 1 -73 1 35 1 22 1 -10 1 0 1 16 1 -25 1 35 1 8 1 -12 1 7 1 1 1 -16 1 12 1 -9 1 -71 1 71 1 12 1 10 1 -32 1 -6 1 9 1 -7 1 24 1 -22 1 -6 1 4 1 2 1 -6 1 -15 1 -1 1 40 1 -7 1 -21 1 29 1 5 1 19 1 -23 1 -6 1 23 1 -45 1 14 1 -4 1 -15 1 48" stroke="#0040ff"/>
<path d="M636 2577l1 -3 1 7 1 18 1 -18 1 -2 1 -4 1 11 1 -4 1 8 1 -34 1 3 1 3 1 32 1 -37 1 19 1 12 1 -49 1 50 1 -8 1 -17 1 34 1 9 1 -15 1 -20 1 18 1 0 1 -16 1 37 1 -54 1 34 1 -75 1 65 1 46 1 -13 1 -37 1 8 1 5 1 -36 1 24 1 -15 1 37 1 -13 1 -9 1 34 1 -46 1 1 1 33 1 9 1 -24 1 -4 1 9 1 5 1 11 1 -27 1 6 1 6 1 -31 1 11 1 22 1 15 1 0 1 -45 1 34 1 -23 1 3 1 -12 1 43 1 -13 1 -1 1 -14 1 5 1 6 1 -24 1 41 1 -24 1 -8 1 8 1 2 1 29 1 -19 1 -26 1 20 1 -4 1 -10 1 11 1 -13 1 -2 1 23 1 -11 1 3 1 4 1 -22 1 39 1 -11 1 -8 1 -20 1 14 1 0 1 -17 1 25 1 8 1 -13 1 2 1 -6 1 29 1 -28 1 15 1 -26 1 -1 1 13 1 36 1 -27 1 6 1 -17 1 9 1 -8 1 -5 1 13 1 12 1 -12 1 -38 1 45 1 19 1 -45 1 24 1 -19 1 23 1 11 1 -1 1 -27 1 -2 1 -29 1 30 1 14 1 22 1 -25 1 -9 1 7 1 22 1 -27 1 -30 1 28 1 4 1 0 1 -25 1 27 1 27 1 -28 1 -4 1 -7 1 45 1 -43 1 9 1 34 1 -32 1 -7 1 2 1 -11 1 32 1 -12 1 -16 1 9 1 -10 1 0 1 6 1 -25 1 52 1 -17 1 2 1 -12 1 -2 1 -8 1 18 1 -20 1 -16 1 21 1 27 1 -32 1 23 1 2 1 11 1 -13 1 -23 1 16 1 7 1 -14 1 -12 1 24 1 6 1 -4 1 -31 1 35 1 0 1 28 1 -40 1 -1 1 9 1 12 1 6 1 -19 1 -4 1 1 1 -26 1 9 1 -9 1 26 1 15 1 -27 1 23 1 -11 1 -19 1 38 1 -31 1 7 1 -15 1 8 1 -3 1 21 1 -24 1 -1 1 21 1 -30 1 21 1 -37 1 17 1 23 1 -1 1 1 1 -2 1 -16 1 23 1 -9 1 -7 1 -10 1 28 1 -10 1 -28 1 19 1 10 1 11 1 -23 1 47 1 -52 1 21 1 -10 1 8 1 -10 1 8 1 4 1 -5 1 4 1 -8 1 10 1 -2 1 -10 1 14 1 -22 1 10 1 -2 1 -21 1 33 1 -18 1 32 1 -28 1 -7 1 25 1 -33 1 12 1 14 1 17 1 14 1 -37 1 20 1 -20 1 28 1 -29 1 4 1 -9 1 1 1 9 1 8 1 5 1 -11 1 21 1 -48 1 22 1 36 1 -60 1 24 1 12 1 -18 1 -21 1 26 1 9 1 -10 1 -6 1 25 1 -22 1 19 1 0 1 9 1 -3 1 0 1 -4 1 -30 1 17 1 -20 1 25 1 29 1 -52 1 15 1 3 1 11 1 0 1 -16 1 -17 1 49 1 9 1 -34 1 1 1 26 1 -22 1 -28 1 12 1 5 1 48 1 -36 1 -27 1 34 1 -4 1 15 1 7 1 -45 1 2 1 -4 1 21 1 -19 1 16 1 13 1 -29 1 25 1 -24 1 45 1 -29 1 -4 1 8 1 -25 1 8" stroke="#0040ff"/>
<path d="M2088 2599l1 -9 1 -21 1 24 1 -18 1 30 1 -16 1 -7 1 22 1 -36 1 11 1 6 1 -6 1 35 1 -32 1 5 1 -9 1 7 1 33 1 -79 1 55 1 -2 1 -12 1 -6 1 15 1 -9 1 -21 1 12 1 -7 1 13 1 30 1 -42 1 26 1 -2 1 -3 1 -25 1 29 1 -21 1 18 1 -3 1 18 1 -21 1 0 1 -7 1 31 1 -23 1 20 1 4 1 -15 1 12 1 -19 1 14 1 12 1 -40 1 36 1 -14 1 -2 1 15 1 -18 1 -2 1 25 1 -28 1 44 1 -27 1 -30 1 29 1 2 1 -6 1 -12 1 10 1 12 1 -25 1 -19 1 17 1 -6 1 35 1 -15 1 -2 1 -6 1 -12 1 17 1 4 1 -20 1 -44 1 35 1 10 1 20 1 -9 1 2 1 -1 1 24 1 -24 1 -12 1 25 1 12 1 -8 1 36 1 -47 1 5 1 2 1 -29 1 18 1 -5 1 11 1 -7 1 -5 1 16 1 -24 1 9 1 95 1 -103 1 73 1 -101 1 8 1 30 1 24 1 -106 1 149 1 -204 1 119 1 74 1 -113 1 27 1 59 1 -73 1 44 1 16 1 -29 1 55 1 -14 1 11 1 -25 1 13 1 8 1 -70 1 27 1 6 1 -20 1 25 1 -56 1 76 1 -33 1 14 1 -3 1 39 1 -39 1 -39 1 -16 1 38 1 40 1 -38 1 39 1 -18 1 -46 1 101 1 -72 1 163 1 -85 1 -39 1 -32 1 -1 1 -59 1 76 1 -25 1 34 1 -38 1 73 1 -31 1 2 1 -7 1 -38 1 76 1 -32 1 19 1 -56 1 7 1 10 1 -13 1 43 1 -84 1 13 1 45 1 44 1 17 1 7 1 -27 1 -78 1 -5 1 12 1 27 1 71 1 -75 1 103 1 -162 1 85 1 -56 1 36 1 11 1 5 1 -38 1 -3 1 1 1 19 1 41 1 -154 1 66 1 44 1 -28 1 46 1 24 1 -33 1 -70 1 39 1 41 1 -71 1 38 1 21 1 -3 1 -33 1 22 1 -132 1 86 1 315 1 -281 1 65 1 -131 1 124 1 -68 1 18 1 -19 1 -13 1 51 1 -28 1 56 1 -27 1 -60 1 4 1 50 1 44 1 -83 1 78 1 -73 1 51 1 44 1 -35 1 -75 1 110 1 -35 1 -64 1 -1 1 24 1 -32 1 18 1 12 1 -9 1 32 1 9 1 -48 1 31 1 40 1 -15 1 -56 1 81 1 -59 1 -81 1 73 1 -8 1 48 1 6 1 -76 1 73 1 -37 1 -18 1 49 1 2 1 -85 1 96 1 -72 1 46 1 35 1 -59 1 -44 1 58 1 72 1 -101 1 -6 1 9 1 57 1 -295 1 329 1 425 1 -544 1 15 1 -3 1 62 1 6 1 41 1 -40 1 2 1 14 1 -120" stroke="#0040ff"/>
<path d="M852 2579l1 15 1 0 1 -10 1 4 1 1 1 6 1 -11 1 -7 1 10 1 -10 1 22 1 -20 1 13 1 -9 1 4 1 8 1 9 1 22 1 -43 1 -6 1 7 1 30 1 -15 1 -20 1 12 1 12 1 -14 1 -19 1 1 1 11 1 -14 1 4 1 17 1 -8 1 -14 1 33 1 3 1 -11 1 -15 1 -9 1 0 1 30 1 -28 1 -10 1 41 1 -44 1 38 1 6 1 -17 1 -8 1 19 1 -24 1 43 1 -40 1 -16 1 24 1 8 1 19 1 -26 1 15 1 -14 1 -39 1 58 1 -2 1 -12 1 -10 1 -3 1 -4 1 34 1 -22 1 -8 1 -5 1 16 1 -3 1 3 1 17 1 -43 1 37 1 -18 1 -15 1 28 1 -14 1 12 1 -11 1 35 1 -20 1 22 1 -9 1 -25 1 -10 1 15 1 -11 1 36 1 -38 1 5 1 11 1 -12 1 3 1 -26 1 51 1 -45 1 5 1 30 1 -23 1 -3 1 9 1 15 1 1 1 21 1 -18 1 7 1 -37 1 29 1 4 1 -30 1 7 1 16 1 -15 1 16 1 10 1 -15 1 -26 1 3 1 41 1 -23 1 -23 1 18 1 -9 1 20 1 14 1 -10 1 -12 1 23 1 -21 1 -21 1 14 1 2 1 -10 1 15 1 -12 1 14 1 6 1 4 1 8 1 -22 1 6 1 4 1 4 1 9 1 -13 1 -30 1 26 1 13 1 -18 1 1 1 -10 1 9 1 12 1 -17 1 -6 1 -2 1 3 1 -13 1 6 1 1 1 5 1 25 1 -10 1 -34 1 18 1 1 1 19 1 -27 1 32 1 -18 1 23 1 8 1 -37 1 7 1 13 1 7 1 -25 1 -5 1 16 1 2 1 0 1 13 1 -33 1 -4 1 35 1 -17 1 -5 1 26 1 -22 1 3 1 -14 1 27 1 -24 1 5 1 -6 1 -17 1 18 1 17 1 -18 1 27 1 -19 1 -35 1 42 1 7 1 -2 1 -30 1 38 1 2 1 4 1 -33 1 2 1 26 1 -26 1 -11 1 11 1 -16 1 26 1 17 1 -21 1 15 1 -24 1 18 1 -11 1 -7 1 0 1 24 1 -52 1 55 1 -36 1 0 1 49 1 -20 1 -7 1 -7 1 33 1 -6 1 -37 1 48 1 -26 1 4 1 -16 1 10 1 -9 1 3 1 19 1 -5 1 -29 1 17 1 14 1 16 1 -15 1 13 1 -28 1 7 1 -11 1 9 1 4 1 3 1 13 1 -32 1 6 1 24 1 7 1 -15 1 -20 1 32 1 -22 1 -3 1 -8 1 39 1 -59 1 25 1 -10 1 27 1 -23 1 23 1 -3 1 -25 1 20 1 -10 1 10 1 -28 1 12 1 -19 1 39 1 -5 1 -4 1 1 1 -7 1 -12 1 0 1 -10 1 41 1 -4 1 1 1 -16 1 -1 1 -6 1 13 1 -24 1 5 1 10 1 -15 1 -12 1 29 1 17 1 -11 1 29 1 -21 1 -18 1 1 1 11 1 -35 1 43 1 -18 1 4 1 17 1 16 1 -50 1 49 1 -19 1 0 1 -36 1 7 1 30 1 1 1 -6 1 5 1 -9 1 -23 1 -7 1 31 1 13 1 7 1 -15 1 -21 1 2 1 19 1 -19 1 19 1 -16 1 10 1 6 1 -35 1 24 1 -2 1 3 1 18 1 -3 1 3 1 -21 1 8 1 -20 1 48 1 -55 1 -3 1 25 1 32 1 -44 1 10 1 21 1 -20 1 14 1 -11 1 42 1 -23 1 -4 1 -20 1 -4 1 20 1 -36 1 -6 1 64 1 -47 1 -11 1 14 1 25 1 -34 1 31 1 7 1 -22 1 16 1 -4 1 2 1 7 1 -11 1 4 1 -2 1 6 1 -19 1 15 1 -16 1 8 1 -1 1 2 1 -44 1 56 1 -16 1 9 1 -5 1 -3 1 -5 1 -11 1 38 1 -30 1 23 1 -27 1 2 1 8 1 11 1 -1 1 -30 1 27 1 -22 1 -2 1 16 1 33 1 -41 1 9 1 8 1 -4 1 -12 1 -14 1 31 1 0 1 -19 1 6 1 -8 1 -5 1 30 1 -31 1 -19 1 24 1 17 1 -4 1 0 1 13 1 8 1 -8 1 -33 1 51 1 -26 1 -12 1 18 1 -15 1 31 1 -30 1 15 1 -9 1 -1 1 -8 1 -13 1 51 1 -18 1 -4 1 -15 1 18 1 -23 1 9 1 40 1 -14 1 -32 1 18 1 -7 1 13 1 -15 1 1 1 -3 1 -25 1 14 1 37 1 -13 1 -7 1 -11 1 12 1 -3 1 -1 1 -27 1 11 1 46 1 -14 1 -35 1 48 1 -46 1 38 1 -23 1 34 1 -38 1 -18 1 30 1 -35 1 36 1 -7 1 7 1 -27 1 40 1 -30 1 9 1 -5 1 6 1 14 1 -10 1 -24 1 32 1 -37 1 41 1 -45 1 29 1 5 1 -12 1 9 1 14 1 12 1 -55 1 11 1 2 1 17 1 4 1 -7 1 2 1 -4 1 7 1 -14 1 12 1 -2 1 -7 1 14 1 -9 1 -3 1 14 1 -16 1 10 1 -21 1 25 1 -22 1 12 1 -15 1 19 1 -8 1 -8 1 6 1 -4 1 44 1 -27 1 -2 1 -15 1 40 1 -46 1 12 1 -3 1 4 1 41 1 -48 1 3 1 2 1 5 1 14 1 -12 1 -26 1 13 1 4 1 12 1 -21 1 16 1 6 1 4 1 21 1 -28 1 -5 1 -22 1 32 1 -20 1 24 1 -24 1 32 1 -16 1 17 1 -30 1 8 1 9 1 -20 1 43 1 -39 1 48 1 -55 1 21 1 6 1 -1 1 -28 1 19 1 4 1 3 1 -20 1 -3 1 25 1 -22 1 2 1 4 1 11 1 0 1 -4 1 24 1 -6 1 -5 1 -17 1 -12 1 1 1 14 1 -9 1 -6 1 40 1 -14 1 -24 1 28 1 -22 1 -6 1 -25 1 30 1 4 1 17 1 2 1 -6 1 1 1 -19 1 -10 1 3 1 11 1 5 1 13 1 -13 1 -10 1 -2 1 25 1 -12 1 3 1 22 1 -15 1 -21 1 14 1 -6 1 23 1 -12 1 -21 1 18 1 -4 1 -15 1 6 1 6 1 -3 1 28 1 -36 1 10 1 4 1 7 1 -16 1 -2 1 11 1 -8 1 0 1 -2 1 25 1 -30 1 15 1 31 1 -43 1 9 1 -12 1 13 1 4 1 15 1 -2 1 -18 1 3 1 5 1 8 1 -33 1 4 1 32 1 -25 1 12 1 -20 1 21 1 -8 1 11 1 -10 1 -4 1 -7 1 -27 1 2 1 59 1 -28 1 1 1 7 1 3 1 -47 1 55 1 -14 1 3 1 1 1 -39 1 55 1 -5 1 -27 1 -7 1 24 1 26 1 -24 1 1 1 11 1 -18 1 -6 1 8 1 12 1 -22 1 14 1 -29 1 16 1 11 1 -5 1 -1 1 -18 1 -1 1 20 1 -5 1 8 1 -8 1 23 1 -1 1 5 1 -12 1 -8 1 -26 1 28 1 -28 1 27 1 -17 1 -1 1 6 1 -8" stroke="#0060ff"/>
<path d="M2676 2577l1 0 1 -1 1 14 1 -4 1 -1 1 14 1 5 1 -23 1 2 1 -24 1 35 1 8 1 -13 1 -17 1 23 1 -3 1 14 1 -13 1 0 1 -4 1 11 1 -20 1 7 1 -22 1 30 1 -10 1 16 1 -28 1 8 1 6 1 -4 1 6 1 41 1 -78 1 61 1 -10 1 -25 1 9 1 -29 1 28 1 1 1 -1 1 4 1 -16 1 11 1 -23 1 16 1 -20 1 26 1 -30 1 38 1 -16 1 10 1 1 1 -7 1 -2 1 5 1 -25 1 11 1 -13 1 22 1 41 1 -30 1 22 1 -19 1 -2 1 -3 1 2 1 -10 1 21 1 -7 1 -51 1 64 1 -22 1 -88 1 26 1 44 1 71 1 -55 1 7 1 -9 1 30 1 17 1 -50 1 -29 1 24 1 59 1 -124 1 130 1 -213 1 134 1 237 1 -119 1 -79 1 3 1 -39 1 5 1 -130 1 134 1 52 1 -53 1 -13 1 -5 1 267 1 -334 1 128 1 -25 1 16 1 -19 1 -33 1 34 1 20 1 -47 1 -122 1 195 1 -61 1 27 1 -63 1 134 1 11 1 -15 1 -56 1 13 1 -108 1 17 1 1 1 103 1 -6 1 -39 1 65 1 -94 1 86 1 -52 1 -23 1 29 1 -15 1 -2 1 -1 1 4 1 -10 1 3 1 20 1 -6 1 0 1 3 1 -54 1 -9 1 57 1 0 1 -8 1 -9 1 11 1 17 1 -26 1 22 1 -16 1 6 1 7 1 -5 1 -17 1 22 1 -4 1 -16 1 31 1 -9 1 -12 1 22 1 -23 1 6 1 -1 1 -7 1 31 1 -16 1 -16 1 5 1 -12 1 15 1 -18 1 -1 1 17 1 15 1 -19 1 31 1 -28 1 2 1 13 1 -12 1 -18 1 19 1 0 1 23 1 -26 1 -16 1 10 1 11 1 -8 1 -10 1 28 1 -4 1 5 1 -25 1 0 1 1 1 8" stroke="#0060ff"/>
<path d="M0 2581l1 -5 1 9 1 34 1 -30 1 -25 1 21 1 29 1 -1 1 -49 1 9 1 36 1 -11 1 -24 1 33 1 -14 1 4 1 3 1 -46 1 10 1 32 1 -3 1 -12 1 8 1 -40 1 18 1 37 1 8 1 -4 1 -16 1 1 1 -15 1 -8 1 -30 1 36 1 51 1 -12 1 -19 1 -11 1 7 1 -7 1 -30 1 33 1 0 1 3 1 -27 1 24 1 11 1 -30 1 22 1 -14 1 14 1 19 1 -33 1 -13 1 19 1 12 1 15 1 22 1 -35 1 -30 1 32 1 16 1 -44 1 31 1 -26 1 -13 1 9 1 21 1 23 1 -7 1 -27 1 -5 1 3 1 18 1 -1 1 -14 1 8 1 19 1 -15 1 -39 1 42 1 -17 1 24 1 -13 1 3 1 36 1 -35 1 -12 1 -31 1 17 1 23 1 -10 1 17 1 29 1 -18 1 -44 1 23 1 -1 1 18 1 -31 1 -2 1 -15 1 43 1 -25 1 -22 1 64 1 2 1 -35 1 -5 1 -18 1 27 1 15 1 46 1 -97 1 -23 1 62 1 -22 1 65 1 -63 1 23 1 4 1 -32 1 14 1 11 1 -9 1 9 1 -37 1 -14 1 40 1 4 1 -232 1 195 1 385 1 -356 1 -2 1 18 1 15 1 -8 1 -21 1 16 1 -32 1 18 1 -11 1 43 1 -46 1 -24 1 56 1 9 1 -31 1 2 1 -8 1 -9 1 42 1 -32 1 40 1 -54 1 30 1 -2 1 10 1 -15 1 20 1 -36 1 9 1 5 1 -2 1 -2 1 17 1 -43 1 16 1 44 1 -43 1 14 1 12 1 -7 1 -21 1 35 1 -46 1 5 1 44 1 -19 1 -14 1 34 1 12 1 -59 1 11 1 29 1 -15 1 20 1 -17 1 12 1 21 1 -68 1 29 1 10 1 32 1 -26 1 -11 1 2 1 15 1 -23 1 8 1 -14 1 -7 1 25 1 2 1 19 1 -21 1 -16 1 -8 1 37 1 -3 1 -17 1 40 1 -22 1 -4 1 27 1 -15 1 -43 1 40 1 42 1 -69 1 56 1 -65 1 23 1 2 1 9 1 -20 1 7 1 8 1 -18 1 3 1 0 1 38 1 -22 1 14 1 -45 1 15 1 -14 1 16 1 17 1 13 1 4 1 -39 1 10 1 -6 1 -15 1 19 1 -22 1 12 1 2 1 -2 1 25 1 -27 1 7 1 21 1 -48 1 25 1 120 1 -124 1 -6 1 -21 1 54 1 -38 1 21 1 20 1 -12 1 -25 1 20 1 0 1 -13 1 6 1 -16 1 40 1 -12 1 27 1 -56 1 33 1 -48 1 39 1 -3 1 4 1 -13 1 -1 1 21 1 -17 1 -37 1 17 1 -6 1 33 1 -5 1 -15 1 43 1 -40 1 20 1 -14 1 4 1 -4 1 7 1 -8 1 125 1 -98 1 -29 1 23 1 -55 1 72 1 -40 1 6 1 23 1 -24 1 27 1 -14 1 -23 1 1 1 20 1 -8 1 30 1 0 1 -57 1 28 1 0 1 16 1 -3 1 -32 1 17 1 21 1 -43 1 22 1 22 1 -30 1 6 1 -8 1 11 1 -16 1 44 1 11 1 -13 1 -4 1 -39 1 20 1 3 1 -1 1 -5 1 -16 1 17 1 33 1 -32 1 9 1 -2 1 23 1 -45 1 25 1 -11 1 30 1 -26 1 -43 1 41 1 -15 1 23 1 -11 1 4 1 14 1 -8 1 10 1 7 1 -38 1 8 1 16 1 -57 1 50 1 7 1 -6 1 8 1 3 1 10 1 -11 1 1 1 -10 1 -4 1 15 1 -14 1 12 1 -25 1 8 1 -11 1 -3 1 45 1 -45 1 28 1 -18 1 5 1 33 1 -28 1 -35 1 29 1 30 1 -6 1 -20 1 0 1 17 1 -21 1 2 1 4 1 12 1 -12 1 -16 1 -9 1 20 1 17 1 -42 1 15 1 4 1 27 1 -27 1 0 1 11 1 -5 1 -9 1 1 1 25 1 -5" stroke="#0080ff"/>
<path d="M1584 2584l1 -3 1 7 1 -9 1 18 1 -23 1 5 1 -12 1 9 1 0 1 22 1 -21 1 9 1 -22 1 23 1 2 1 -13 1 -5 1 9 1 -10 1 32 1 -13 1 -11 1 12 1 -14 1 4 1 -4 1 9 1 5 1 -11 1 7 1 10 1 -16 1 25 1 -29 1 21 1 6 1 -31 1 15 1 20 1 -17 1 -3 1 20 1 -32 1 10 1 3 1 -20 1 12 1 3" stroke="#0080ff"/>
<path d="M2820 2589l1 13 1 -17 1 17 1 3 1 -16 1 -23 1 12 1 16 1 -1 1 -3 1 -12 1 9 1 11 1 -13 1 -5 1 -3 1 11 1 -31 1 19 1 9 1 -10 1 14 1 11 1 -10 1 -18 1 20 1 12 1 -45 1 19 1 4 1 -3 1 7 1 9 1 -7 1 -21 1 -5 1 2 1 35 1 -22 1 9 1 17 1 -24 1 22 1 -24 1 26 1 -25 1 3 1 27 1 -24 1 -17 1 26 1 -17 1 -1 1 8 1 -17 1 20 1 0 1 2 1 6 1 -25" stroke="#0080ff"/>
<path d="M972 2579l1 6 1 28 1 -54 1 27 1 -11 1 27 1 -18 1 -2 1 -1 1 -6 1 9 1 -9 1 16 1 5 1 -3 1 -7 1 -10 1 13 1 4 1 -8 1 13 1 0 1 -3 1 0 1 -7 1 -9 1 2 1 -10 1 22 1 -6 1 1 1 15 1 -17 1 16 1 -27 1 -4 1 21 1 -5 1 -3 1 -3 1 10 1 9 1 -15 1 -4 1 8 1 8 1 -16 1 -7 1 20 1 5 1 -10 1 4 1 -20 1 16 1 -6 1 18 1 -9 1 -16 1 12 1 -2 1 -6 1 19 1 -24 1 22 1 -22 1 17 1 3 1 -28 1 23 1 -3 1 -9 1 1 1 22 1 1 1 -14 1 -13 1 9 1 15 1 -7 1 -28 1 19 1 16 1 -17 1 3 1 12 1 -20 1 -6 1 15 1 -6 1 -5 1 4 1 2 1 12 1 -17 1 -1 1 -3 1 20 1 -11 1 3 1 -3 1 -5 1 32 1 -36 1 26 1 -4 1 -13 1 24 1 0 1 -21 1 36 1 -48 1 19 1 -15 1 23 1 13 1 -20 1 -13 1 20 1 -31 1 27 1 -5 1 7 1 -24 1 12 1 6 1 -5 1 8 1 -23 1 32 1 -13 1 -24 1 33 1 -32 1 28 1 8 1 -29 1 9 1 -1 1 7 1 9 1 4 1 6 1 -27 1 10 1 -15 1 11 1 -19 1 10 1 20 1 -23 1 23 1 9 1 -5 1 -10 1 -27 1 28 1 6 1 9 1 -25 1 22 1 -22 1 -33 1 29 1 1 1 -2 1 8 1 11 1 -20 1 24 1 -1 1 -13 1 12 1 -16 1 -12 1 2 1 -4 1 13 1 19 1 2 1 -15 1 -10 1 1 1 13 1 7 1 -3 1 7 1 -24 1 -6 1 12 1 13 1 -11 1 7 1 0 1 -4 1 -9 1 -2 1 13 1 -16 1 13 1 -18 1 21 1 -26 1 18 1 21 1 -23 1 -9 1 10 1 -5 1 16 1 -23 1 16 1 -13 1 25 1 -21 1 19 1 -5 1 1 1 -11 1 15 1 -19 1 7 1 13 1 -16 1 19 1 -18 1 9 1 -17 1 9 1 -16 1 28 1 -2 1 -11 1 7 1 -9 1 16 1 -7 1 -39 1 39 1 3 1 -11 1 11 1 3 1 -3 1 19 1 -14 1 0 1 1 1 8 1 -21 1 -4 1 -1 1 0 1 12 1 -25 1 14 1 17 1 -21 1 13 1 -3 1 -7 1 13 1 -22 1 22 1 -8 1 -13 1 6 1 11 1 4 1 -16 1 8 1 15 1 -15 1 -25 1 40 1 -31 1 32 1 -11 1 3 1 16 1 -27 1 -5 1 14 1 -2 1 -10 1 18 1 -36 1 41 1 -14 1 -1 1 -7 1 1 1 14 1 -16 1 3 1 6 1 -2 1 -5 1 11 1 -6 1 4 1 0 1 -11 1 13 1 -3 1 3 1 -16 1 -11 1 19 1 -1 1 -6 1 12 1 12 1 -25 1 24 1 -10 1 -12 1 14 1 0 1 -3 1 -1 1 9 1 -15 1 -2 1 -10 1 38 1 -35 1 8 1 22 1 -30 1 28 1 -16 1 -24 1 27 1 -28 1 47 1 -15 1 -28 1 33 1 -8 1 17 1 -22 1 -2 1 9 1 2 1 -13 1 -5 1 23 1 -27 1 4 1 9 1 14 1 -20 1 -7 1 19 1 -19 1 3 1 -3 1 19 1 -13 1 -1 1 10 1 4 1 -8 1 10 1 -14 1 -17 1 18 1 10 1 -12 1 -3 1 34 1 -29 1 -6 1 21 1 8 1 -33 1 23 1 -20 1 19 1 0 1 1 1 3 1 5 1 -22 1 -7 1 21 1 -33 1 20 1 10 1 -13 1 25 1 11 1 -31 1 4 1 7 1 -2 1 3 1 -3 1 6 1 -25 1 3 1 22 1 -27 1 21 1 -5 1 -11 1 11 1 5 1 15 1 -6 1 -7 1 -1 1 -9 1 16 1 -21 1 -16 1 4 1 10 1 17 1 -2 1 -1 1 2 1 22 1 -33 1 4 1 6 1 1 1 20 1 -33 1 9 1 -9 1 5 1 2 1 8 1 -7 1 -8 1 8 1 8 1 -8 1 -1 1 0 1 -10 1 2 1 29 1 -9 1 -3 1 -18 1 10 1 4 1 3 1 -15 1 16 1 -7 1 16 1 -20 1 18 1 -6 1 -17 1 15 1 5 1 5 1 -9 1 -2 1 -26 1 25 1 5 1 -22 1 20 1 -14 1 -8 1 5 1 9 1 4 1 -11 1 11 1 -9 1 2 1 -11 1 19 1 -14 1 12 1 -19 1 13 1 0 1 7 1 -23 1 13 1 10 1 -9 1 2 1 7 1 6 1 -25 1 4 1 3 1 11 1 -11 1 18 1 -4 1 -1 1 -14 1 14 1 4 1 -16 1 7 1 -1 1 2 1 -20 1 16 1 -10 1 16 1 -2 1 6 1 -18 1 23 1 -2 1 -12 1 -11 1 0 1 -1 1 14 1 6 1 -12 1 -3 1 29 1 -26 1 4 1 3 1 6 1 -7 1 -15 1 30 1 -29 1 15 1 -6 1 11 1 -15 1 12 1 -11 1 13 1 -6 1 -12 1 23 1 -8 1 -10 1 5 1 4 1 -4 1 19 1 -24 1 15 1 -13 1 13 1 -6 1 7 1 -34 1 27 1 -5 1 15 1 -38 1 34 1 -21 1 24 1 -33 1 34 1 -31 1 11 1 10 1 12 1 7 1 -36 1 35 1 -25 1 13 1 -10 1 -9 1 -3 1 14 1 -25 1 21 1 5 1 7 1 -6 1 -16 1 11 1 17 1 -17 1 11 1 -15 1 -1 1 24 1 -12 1 -6 1 13 1 4 1 -24 1 19 1 12 1 -8 1 -8 1 -22 1 20 1 8 1 -16 1 -4 1 10 1 0 1 5 1 -8 1 -8 1 4 1 -4 1 4 1 -9 1 23 1 -14 1 -2 1 -24 1 3 1 21 1 7 1 -1 1 -3 1 19 1 -19 1 0 1 13 1 -30 1 38 1 -20 1 -17 1 14 1 9 1 -2 1 3 1 2 1 -1 1 -14 1 -2 1 6 1 3 1 -2 1 6 1 8 1 -8 1 0 1 0 1 -8 1 15 1 2 1 -10 1 -4 1 -4 1 20 1 -18 1 11 1 -1 1 -10 1 11 1 1 1 -1 1 10 1 -13 1 13 1 -24 1 -13 1 20 1 6 1 -32 1 32 1 -3 1 -21 1 38 1 -18 1 -11 1 17 1 -16 1 12 1 -4 1 -1 1 -9 1 25 1 -11 1 2 1 8 1 -25 1 5 1 12 1 6 1 1 1 -5 1 -8 1 -12 1 6 1 5 1 16" stroke="#009fff"/>
<path d="M2508 2608l1 -49 1 34 1 -12 1 -25 1 52 1 -7 1 -31 1 44 1 -20 1 -1 1 1 1 -18 1 13 1 -6 1 4 1 21 1 26 1 -50 1 -3 1 -43 1 24 1 19 1 8 1 -10 1 -6 1 18 1 -16 1 -1 1 18 1 4 1 -4 1 8 1 -1 1 -1 1 -7 1 1 1 16 1 -65 1 53 1 7 1 -25 1 96 1 -115 1 9 1 44 1 -23 1 47 1 -82 1 31 1 -27 1 26 1 -20 1 27 1 18 1 18 1 -23 1 -23 1 35 1 -25 1 23 1 -14 1 29 1 -93 1 20 1 16 1 -5 1 1 1 -19 1 73 1 -152 1 73 1 -4 1 49 1 -15 1 39 1 1 1 -41 1 -23 1 59 1 -50 1 94 1 -9 1 -59 1 8 1 -26 1 28 1 -29 1 -83 1 84 1 -38 1 76 1 -30 1 -29 1 60 1 4 1 70 1 -129 1 74 1 -57 1 34 1 -24 1 75 1 -55 1 6 1 46 1 -24 1 -80 1 192 1 -142 1 13 1 15 1 -74 1 43 1 -31 1 -19 1 79 1 -72 1 51 1 -22 1 11 1 1 1 19 1 -18 1 -55 1 38 1 -127 1 167 1 2 1 -57 1 61 1 5 1 193 1 -298 1 96 1 -73 1 16 1 32 1 -13 1 -7 1 46 1 -46 1 -10 1 16 1 -9" stroke="#009fff"/>
<path d="M84 2584l1 -8 1 -2 1 44 1 -24 1 22 1 -3 1 -40 1 33 1 -1 1 -8 1 -17 1 51 1 -50 1 -9 1 30 1 -3 1 -16 1 -3 1 -21 1 61 1 -75 1 28 1 12 1 -12 1 21 1 16 1 -24 1 -12 1 36 1 -11 1 -32 1 0 1 9 1 22 1 -7 1 -225 1 205 1 17 1 2 1 -35 1 35 1 -25 1 44 1 -31 1 3 1 17 1 30 1 -71 1 24 1 5 1 23 1 -56 1 74 1 -215 1 184 1 -27 1 15 1 8 1 11 1 29 1 -38 1 -3 1 -35 1 53 1 -10 1 5 1 -34 1 36 1 -25 1 -20 1 24 1 21 1 -24 1 35 1 -45 1 15 1 -11 1 42 1 -8 1 -6 1 23 1 -36 1 11 1 -41 1 30 1 -16 1 21 1 -29 1 24 1 -8 1 -21 1 44 1 -11 1 -4 1 -27 1 2 1 21 1 -6 1 42 1 -52 1 0 1 59 1 -64 1 -8 1 9 1 40 1 3 1 -40 1 -12 1 16 1 31 1 -15 1 17 1 -14 1 -13 1 26 1 -50 1 30 1 -3 1 -1 1 -21 1 20 1 40 1 -18 1 -30 1 23 1 -10 1 -18 1 20 1 26 1 0 1 -21 1 -20 1 42 1 -44 1 10 1 -4 1 8 1 -3 1 46 1 -27 1 1 1 -38 1 32 1 -2 1 -7 1 -2 1 4 1 3 1 -28 1 30 1 1 1 -32 1 29 1 -3 1 -4 1 7 1 -12 1 12 1 -10 1 -2 1 -4 1 38 1 -36 1 16 1 -21 1 21 1 -1 1 -14 1 16 1 -2 1 -4 1 5 1 -16 1 7 1 -8 1 17 1 -4 1 11 1 3 1 14 1 -43 1 13 1 -9 1 35 1 -22 1 6 1 -22 1 11 1 10 1 -6 1 -25 1 17 1 6 1 2 1 8 1 -6 1 -17 1 22 1 -22 1 10 1 2 1 11 1 -28 1 36 1 -9 1 -11 1 -28 1 39 1 -13 1 -2 1 17 1 -18 1 -16 1 28 1 -6 1 -8 1 -10 1 22 1 -29 1 35 1 -28 1 16 1 6 1 -9 1 -5 1 32 1 -17 1 16 1 -24 1 17 1 24 1 -26 1 -18 1 3 1 -5 1 2 1 30 1 -56 1 21 1 34 1 -14 1 -21 1 -7 1 8 1 4 1 -17 1 21 1 32 1 -22 1 -6 1 -11 1 3 1 22 1 11 1 -15 1 -7 1 19 1 -35 1 -10 1 13 1 -12 1 17 1 -4 1 7 1 40 1 -19 1 -46 1 25 1 4 1 -4 1 19 1 -27 1 -2 1 42 1 -24 1 -9 1 -19 1 12 1 17 1 1 1 -25 1 8 1 5 1 13 1 -8 1 -5 1 -31 1 48 1 -26 1 6 1 35 1 -24 1 24 1 -31 1 7 1 0 1 -1 1 7 1 -30 1 12 1 -3 1 10 1 32 1 -57 1 20 1 35 1 -29 1 53 1 -126 1 60 1 20 1 -5 1 23 1 -27 1 -15 1 14 1 0 1 1 1 -18 1 0 1 62 1 -44 1 45 1 -57 1 12 1 5 1 -20 1 20 1 5 1 -16 1 -5 1 -7 1 14 1 -17 1 33 1 -16 1 5 1 11 1 -14 1 5 1 19 1 -10 1 -37 1 5 1 27 1 -24 1 50 1 -40 1 36 1 -27 1 -5 1 -1 1 5 1 18 1 -8 1 -8 1 -4 1 11 1 -6 1 31 1 -24 1 -20 1 21 1 -22 1 16 1 -28 1 30 1 13 1 -16 1 3 1 0 1 -14 1 52 1 -25 1 -15 1 21 1 -17 1 9 1 -5 1 -18 1 -24 1 1 1 21 1 13 1 19 1 -20 1 -4 1 -21 1 21 1 12 1 -3 1 -19 1 1 1 9 1 -6 1 -6 1 -2 1 12 1 -5 1 5 1 -7 1 -15 1 37 1 -24 1 45 1 -41 1 2 1 5 1 -1 1 -18 1 17 1 5 1 4 1 -18 1 23 1 -6 1 -6 1 -5 1 17" stroke="#00bfff"/>
<path d="M1620 2588l1 -1 1 -2 1 5 1 -3 1 -5 1 3 1 -9 1 -1 1 33 1 -33 1 19 1 -1 1 -5 1 2 1 -6 1 -1 1 17 1 -13 1 0 1 -26 1 44 1 -17 1 2 1 2 1 -11 1 0 1 11 1 3 1 -20 1 9 1 -5 1 8 1 1 1 15 1 -21 1 20 1 -16 1 -4 1 -2 1 -12 1 32 1 -9 1 -8 1 1 1 11 1 -10 1 0 1 -23 1 26 1 5 1 -17 1 3 1 31 1 1 1 -43 1 14 1 -3 1 -8 1 17 1 -1 1 -5 1 20 1 -22 1 12 1 -8 1 2 1 13 1 -9 1 13 1 -7 1 -19 1 1 1 -12 1 23 1 10 1 -15 1 0 1 3 1 9 1 -3 1 -7 1 -11 1 18 1 -2 1 -10 1 15 1 3 1 -15 1 -2 1 9 1 -7 1 5 1 3 1 -7 1 7 1 -1 1 -16 1 18 1 -3 1 -25 1 20 1 16 1 -5 1 -1 1 -11 1 -6 1 3 1 5 1 10 1 -3 1 -11 1 -11 1 26 1 -19 1 12 1 -17 1 -1 1 16 1 4 1 -22 1 8 1 8 1 -8 1 14 1 -7 1 -8 1 7 1 1 1 6 1 11 1 -13 1 5 1 -14 1 13 1 7 1 -4 1 -8 1 -6 1 11 1 8 1 -25 1 10 1 3 1 -2 1 2 1 4 1 -21 1 32 1 -25 1 20 1 -22 1 -11 1 18 1 -8 1 31 1 -25 1 10 1 -12 1 -6 1 11 1 -13 1 15 1 11 1 -21 1 10 1 1 1 -17 1 13 1 -1 1 -11 1 14 1 3 1 -16 1 24 1 -10 1 7 1 2 1 -10 1 -7 1 19 1 -23 1 21 1 1 1 -25 1 10 1 3 1 -9 1 9 1 16 1 -1 1 -20 1 4 1 -12 1 15 1 2 1 -5 1 1 1 -5 1 7 1 2 1 6 1 -2 1 -15 1 12 1 2 1 -15 1 7 1 3 1 -9 1 24 1 -25 1 -3 1 2 1 -6 1 14 1 25 1 -13 1 -7 1 6 1 9 1 -26 1 6 1 -3 1 0 1 21 1 -2 1 -29 1 11 1 -11 1 2 1 26 1 -14 1 11 1 -21 1 -4 1 19 1 -6 1 1 1 4 1 -3 1 3 1 -18 1 32 1 0 1 -29 1 15 1 9 1 -4 1 -3 1 6 1 -13 1 3 1 3 1 8 1 -16 1 5 1 -3 1 -18 1 18 1 -1 1 -4 1 14 1 8 1 -13 1 -1 1 8 1 -20 1 18 1 0 1 -12 1 7 1 -9 1 1 1 21 1 -19 1 -9 1 12 1 -3 1 -2 1 8 1 19 1 0 1 -29 1 -2 1 10 1 6 1 -12 1 28" stroke="#00bfff"/>
<path d="M192 2612l1 -43 1 -13 1 27 1 15 1 18 1 -18 1 -18 1 -17 1 19 1 10 1 -14 1 -19 1 42 1 -6 1 -13 1 -18 1 6 1 35 1 -54 1 -4 1 78 1 -28 1 29 1 -14 1 -33 1 22 1 -47 1 53 1 -48 1 24 1 10 1 3 1 -16 1 -2 1 19 1 1 1 -42 1 34 1 -25 1 42 1 -30 1 -5 1 29 1 10 1 -39 1 4 1 15 1 -36 1 37 1 -35 1 16 1 9 1 -11 1 36 1 -48 1 13 1 11 1 -6 1 15 1 2 1 -21 1 15 1 -18 1 24 1 12 1 -43 1 26 1 -18 1 7 1 21 1 13 1 -15 1 -18 1 -30 1 3 1 22 1 -23 1 43 1 40 1 -39 1 8 1 -13 1 3 1 -22 1 7 1 3 1 7 1 -1 1 -18 1 14 1 -5 1 -6 1 53 1 -37 1 -5 1 -113 1 111 1 7 1 30 1 -51 1 20 1 18 1 -28 1 114 1 -99 1 17 1 -45 1 22 1 -17 1 -3 1 44 1 -19 1 -6 1 13 1 5 1 -20 1 3 1 -6 1 -8 1 14 1 5 1 12 1 -44 1 52 1 -28 1 0 1 -3 1 13 1 -9 1 6 1 -31 1 16 1 38 1 -31 1 5 1 5 1 -25 1 4 1 8 1 -4 1 -10 1 24 1 -11 1 23 1 1 1 10 1 -29 1 22 1 -18 1 15 1 -33 1 22 1 -14 1 37 1 -51 1 19 1 -23 1 29 1 -8 1 8 1 7 1 -14 1 -7 1 -16 1 13 1 10 1 30 1 -36 1 31 1 -5 1 -5 1 -35 1 29 1 -24 1 27 1 23 1 -35 1 24 1 -39 1 16 1 -6 1 -7 1 -10 1 37 1 -19 1 36 1 -5 1 -16 1 27 1 -17 1 0 1 -7 1 -12 1 11 1 -8 1 -6 1 34 1 -40 1 -11 1 29 1 -4 1 -14 1 19 1 -5 1 -18 1 27 1 -5 1 18 1 -20 1 -13 1 -11 1 15 1 1 1 7 1 14 1 -26 1 11 1 9 1 -10 1 1 1 19 1 -31 1 7 1 -10 1 33 1 -10 1 -7 1 -10 1 -10 1 27 1 -4 1 -13 1 6 1 -1 1 11 1 -22 1 33 1 -20 1 10 1 -10 1 -29 1 29 1 0 1 10 1 -9 1 -6 1 -20 1 35 1 -17 1 17 1 1 1 -4 1 -4 1 6 1 -21 1 10 1 -1 1 16 1 -4 1 -13 1 11 1 -20 1 26 1 -11 1 9 1 23 1 -64 1 21 1 22 1 -6 1 -25 1 16 1 -2 1 4 1 -1 1 -10 1 1 1 38 1 -25 1 -19 1 5 1 22 1 -5 1 -26 1 32 1 13 1 -23 1 1 1 -2 1 -25 1 30 1 -16 1 -2 1 40 1 -52 1 8 1 3 1 66 1 -30 1 -22 1 13 1 -12 1 -10 1 12 1 -23 1 18 1 4 1 -6 1 40 1 -15 1 -24 1 3 1 -39 1 22 1 20 1 3 1 -14 1 -5 1 39 1 -23 1 -28 1 19 1 -3 1 -12 1 29 1 -23 1 20 1 7 1 -6 1 -26 1 10 1 10 1 25 1 -37 1 13 1 -12 1 5 1 16 1 -16 1 -19 1 10 1 26 1 -16 1 -1 1 5 1 9 1 -9 1 -9 1 -3 1 20 1 -17 1 4 1 -7 1 33 1 -37 1 21 1 -11 1 29 1 -27 1 -22" stroke="#00dfff"/>
<path d="M1668 2598l1 0 1 6 1 -30 1 18 1 -7 1 -3 1 9 1 -11 1 12 1 0 1 -9 1 -4 1 20 1 -7 1 6 1 -15 1 4 1 9 1 -28 1 -8 1 -19 1 45 1 23 1 -20 1 -18 1 6 1 12 1 -11 1 3 1 -10 1 11 1 -7 1 3 1 -11 1 23 1 -14 1 23 1 -8 1 -5 1 -2 1 -7 1 7 1 0 1 -11 1 29 1 -12 1 -6 1 -1 1 -3 1 -10 1 -4 1 -3 1 27 1 8 1 -18 1 4 1 23 1 -25 1 -8 1 18 1 0 1 -4 1 -10 1 -10 1 24 1 14 1 -18 1 -2 1 -17 1 34 1 1 1 -5 1 -2 1 -21 1 24 1 -13 1 -4 1 4 1 -12 1 8 1 -20 1 32 1 7 1 -18 1 4 1 -12 1 14 1 4 1 8 1 -4 1 -9 1 1 1 17 1 -16 1 -22 1 3 1 1 1 16 1 -11 1 -2 1 14 1 -7 1 18 1 -3 1 -13 1 22 1 -31 1 -7 1 12 1 16 1 -27 1 24 1 5 1 2 1 -1 1 -18 1 14 1 -14 1 -4 1 25 1 -9 1 -16 1 29 1 -25 1 -16 1 14 1 10 1 5 1 -22 1 20 1 -28 1 26 1 -4 1 6 1 -19 1 26 1 -18 1 8 1 6 1 -4 1 -18 1 11 1 -12 1 3 1 -5 1 27 1 4 1 -20 1 -13 1 24 1 -22 1 10 1 0 1 4 1 8 1 -9 1 -8 1 12 1 -9 1 2 1 -7 1 5 1 8 1 6 1 -2 1 3 1 0 1 0 1 -19 1 5 1 8 1 -6 1 17 1 -16 1 11 1 12 1 -16 1 -20 1 7 1 32 1 -40 1 29 1 -15 1 -1 1 9 1 -7 1 -12 1 16 1 -9 1 9 1 -1 1 6" stroke="#00dfff"/>
<path d="M624 2583l1 -2 1 22 1 -59 1 47 1 7 1 -37 1 36 1 -34 1 7 1 28 1 -63 1 51 1 15 1 -20 1 -7 1 23 1 -37 1 20 1 5 1 19 1 -22 1 37 1 -23 1 -23 1 5 1 20 1 -6 1 -25 1 37 1 -45 1 32 1 -31 1 39 1 -24 1 40 1 -34 1 -1 1 9 1 -6 1 -20 1 54 1 -27 1 -14 1 27 1 -10 1 -22 1 17 1 -27 1 24 1 10 1 -24 1 2 1 12 1 19 1 -17 1 8 1 -33 1 17 1 13 1 27 1 -41 1 4 1 12 1 -29 1 9 1 6 1 15 1 15 1 -30 1 -3 1 17 1 -57 1 35 1 1 1 1 1 5 1 23 1 -29 1 -1 1 6 1 -4 1 -7 1 5 1 10 1 12 1 1 1 -24 1 43 1 -35 1 22 1 -19 1 20 1 -11 1 -18 1 23 1 12 1 -5 1 -22 1 5 1 -26 1 48 1 -15 1 -14 1 36 1 -42 1 4 1 27 1 -14 1 -10 1 17 1 16 1 -23 1 -15 1 8 1 -19 1 9 1 31 1 1 1 -30 1 -3 1 24 1 -6 1 -14 1 12 1 21 1 -31 1 11 1 -4 1 -20 1 21 1 -4 1 23 1 4 1 -2 1 -31 1 12 1 23 1 0 1 -16 1 28 1 -53 1 37 1 12 1 -25 1 -34 1 37 1 -26 1 -12 1 57 1 -5 1 -28 1 13 1 -11 1 43 1 -32 1 -6" stroke="#00ffff"/>
<path d="M1860 2590l1 7 1 6 1 -38 1 11 1 10 1 7 1 -18 1 12 1 2 1 -10 1 7 1 16 1 -8 1 -14 1 14 1 -2 1 -2 1 16 1 -36 1 14 1 -9 1 17 1 -9 1 13 1 -20 1 13 1 -14 1 -9 1 23 1 4 1 -5 1 -14 1 3 1 29 1 -36 1 -2 1 15 1 -33 1 20 1 17 1 14 1 -19 1 5 1 -5 1 27 1 -30 1 -10 1 27 1 16 1 -22 1 -2 1 4 1 -3 1 -2 1 21 1 -22 1 -2 1 2 1 9 1 -4 1 1 1 -16 1 -1 1 3 1 -13 1 32 1 3 1 5 1 -25 1 2 1 2 1 -18 1 22 1 -1 1 -3 1 5 1 -21 1 -4 1 50 1 -18 1 -6 1 -8 1 17 1 -6 1 -3 1 4 1 -6 1 10 1 0 1 -12 1 -9 1 13 1 11 1 -22 1 15 1 -13 1 -10 1 3 1 2 1 -2 1 -25 1 29 1 18 1 -25 1 14 1 -9 1 20 1 3 1 -15 1 -3 1 -1 1 21 1 -30 1 2 1 20 1 7 1 -30 1 16 1 2 1 -9 1 20 1 -3 1 3 1 -17 1 9 1 4 1 10 1 -43 1 27 1 3 1 0 1 5 1 -18 1 -2 1 21 1 -18 1 12 1 9 1 -16 1 13 1 -27 1 41 1 -32 1 -7 1 8 1 12 1 -24 1 10 1 17 1 -16 1 41 1 -46 1 6 1 -4 1 2 1 -19 1 15 1 -5 1 31 1 -28 1 19 1 -1 1 -6 1 -10 1 6 1 -28 1 18 1 -9 1 -10 1 51 1 -24 1 5 1 -6 1 0 1 -18 1 31 1 -5 1 -6 1 -10 1 -8 1 11 1 6 1 14 1 -13 1 -1 1 -1 1 -6 1 6 1 3 1 9 1 0 1 -18 1 22 1 -9 1 -17 1 8 1 -4 1 24 1 4 1 -14 1 -19 1 17 1 2 1 9 1 17 1 -8 1 -9 1 -12 1 10 1 -5 1 7 1 -7 1 -1 1 7 1 -25 1 17 1 -11 1 21 1 -12 1 -10 1 -4 1 12 1 -35 1 41 1 -8 1 -6 1 31 1 -13 1 -2 1 -8 1 5 1 -14 1 13 1 -7 1 11 1 -3 1 12 1 -2 1 -2 1 0 1 -16 1 12 1 -28 1 17 1 31 1 -14 1 -19 1 -14 1 13 1 15 1 -9 1 2 1 16 1 -10 1 1 1 -31 1 6 1 35 1 -28 1 -17 1 45 1 -18 1 -20 1 20 1 -4 1 17 1 -31 1 16 1 3 1 23 1 -50 1 33 1 -18 1 21 1 14 1 -52 1 39 1 -1 1 -12 1 11 1 -1 1 12 1 -21 1 -12 1 7 1 -25 1 42 1 16 1 -43 1 10 1 10 1 11 1 -8 1 21 1 4 1 -41 1 3 1 15 1 3 1 -21 1 14 1 6 1 -34 1 17 1 -24 1 55 1 -39 1 15 1 7 1 -1 1 18 1 -34 1 -11 1 45 1 -48 1 40 1 -29 1 -12 1 11 1 13 1 -13 1 -10 1 32 1 1 1 -6 1 6 1 -35 1 42 1 -4 1 -23 1 9 1 -20 1 10 1 26 1 -2 1 22 1 -43 1 20 1 26 1 -36 1 8 1 -20 1 -13 1 7 1 42 1 11 1 -68 1 15 1 13 1 3 1 -23 1 14 1 28 1 4 1 -36 1 36 1 -56 1 63 1 -19 1 14 1 -27 1 48 1 6 1 -74 1 -19 1 43 1 12 1 -14 1 33 1 -8 1 -58 1 64 1 -17 1 32 1 -79 1 15 1 17 1 -8 1 16 1 -34 1 16 1 -2 1 14 1 2 1 -30 1 23 1 -25 1 49 1 -81 1 68 1 4 1 33 1 -61 1 51 1 -37 1 -35 1 89 1 -43 1 17 1 -62 1 14 1 7 1 30 1 -22 1 -45 1 57 1 -43 1 -9 1 47 1 25 1 36 1 -85 1 4 1 -12 1 15 1 -30 1 40 1 -30 1 36 1 13 1 -6 1 -11 1 14 1 33 1 -6 1 -7 1 -10 1 -25 1 17 1 -61 1 89 1 -82 1 15 1 51 1 -66 1 28 1 26 1 -50 1 32 1 -3 1 21 1 16 1 -29 1 -16 1 35 1 -88 1 86 1 -67 1 103 1 -52 1 -3 1 -36 1 80 1 -102 1 6 1 20 1 113 1 -173 1 76 1 7 1 10 1 -21 1 12 1 -24 1 44 1 29 1 25 1 -80 1 96 1 -114 1 -44 1 -288 1 311 1 38 1 77 1 -83 1 0 1 65 1 -28 1 22 1 -60 1 -6 1 26 1 18 1 32 1 -66 1 9 1 68 1 -74 1 46 1 -81 1 34 1 59 1 -2 1 -105 1 158 1 -52 1 -38 1 -11 1 19 1 -17 1 15 1 32 1 1 1 16 1 -115 1 42 1 50 1 41 1 -27 1 -10 1 27 1 -53 1 -53 1 65 1 -48 1 80 1 -3 1 -107 1 32 1 42 1 24 1 -53 1 85 1 -82 1 -71 1 140 1 -107 1 25 1 11 1 -16 1 11 1 82 1 -21 1 -25 1 -28 1 12 1 -18 1 -2 1 52 1 -83 1 88 1 -29 1 -38 1 6 1 -62 1 102 1 -37 1 -32 1 68 1 -22 1 48" stroke="#00ffff"/>
<path d="M0 2607l1 -33 1 -3 1 24 1 12 1 -36 1 29 1 -19 1 -4 1 16 1 8 1 -30 1 18 1 21 1 -21 1 7 1 -56 1 42 1 7 1 24 1 -21 1 -10 1 -21 1 32 1 5 1 -6 1 -12 1 3 1 -3 1 8 1 31 1 -51 1 -1 1 36 1 -26 1 6 1 -23 1 46 1 -17 1 -7 1 -12 1 23 1 -21 1 14 1 18 1 3 1 -4 1 -25 1 16 1 -10 1 9 1 -2 1 -5 1 -22 1 7 1 13 1 -31 1 19 1 34 1 0 1 -11 1 -1 1 -17 1 -16 1 13 1 -3 1 7 1 18 1 -27 1 21 1 5 1 -22 1 53 1 -13 1 -14 1 -6 1 -20 1 -11 1 15 1 11 1 17 1 -60 1 60 1 -19 1 -116 1 153 1 68 1 -87 1 -1 1 -20 1 0 1 -11 1 28 1 1 1 -31 1 41 1 -22 1 -13 1 17 1 34 1 -22 1 -23 1 4 1 -27 1 55 1 -21 1 13 1 -64 1 45 1 -10 1 29 1 -10 1 -10 1 38 1 -24 1 -12 1 1 1 28 1 -4 1 -8 1 3 1 -63 1 79 1 -60 1 92 1 -69 1 -11 1 17 1 26 1 -18 1 -20 1 -11 1 26 1 -25 1 18 1 13 1 -22 1 35 1 17 1 -38 1 -16 1 48 1 -9 1 -38 1 -50 1 85 1 -89 1 96 1 -46 1 14 1 23 1 -33 1 11 1 -29 1 -7 1 25 1 -33" stroke="#20ffdf"/>
<path d="M1248 2582l1 21 1 -19 1 -24 1 19 1 25 1 -16 1 -10 1 4 1 17 1 -10 1 -12 1 12 1 -16 1 37 1 -17 1 -17 1 10 1 16 1 -22 1 -12 1 26 1 -15 1 16 1 -10 1 3 1 30 1 -35 1 -17 1 30 1 -6 1 -7 1 -2 1 20 1 -12 1 2 1 -13 1 1 1 10 1 -6 1 -5 1 3 1 14 1 3 1 -19 1 27 1 -17 1 -5 1 2 1 -7 1 -2 1 -9 1 13 1 -10 1 5 1 36 1 -22 1 1 1 13 1 -7 1 -15 1 9 1 -1 1 -7 1 -1 1 27 1 -22 1 -6 1 -1 1 -1 1 9 1 -5 1 9 1 -30 1 10 1 19 1 -3 1 11 1 -3 1 1 1 -7 1 -2 1 3 1 -26 1 39 1 -38 1 44 1 -28 1 4 1 18 1 -19 1 -1 1 -4 1 10 1 6 1 -13 1 -5 1 5 1 1 1 5 1 3 1 -3 1 0 1 10 1 -23 1 17 1 -3 1 3 1 -13 1 7 1 -4 1 2 1 -13 1 23 1 -26 1 15 1 -2 1 -1 1 20 1 -9 1 13 1 -4 1 -18 1 2 1 20 1 -31 1 19 1 -19 1 23 1 18 1 -35 1 10 1 -5 1 -32 1 27 1 -2 1 8 1 3 1 -23 1 8 1 33 1 -22 1 -6 1 7 1 -7 1 -5 1 5 1 -15 1 37 1 -27 1 7 1 17 1 -20 1 16 1 -10 1 13 1 -10 1 -14 1 8 1 -4 1 12 1 -6 1 -4 1 -13 1 31 1 -8 1 -17 1 10 1 -20 1 34 1 4 1 -15 1 -13 1 3 1 25 1 -10 1 4 1 -11 1 8 1 0 1 13 1 -6 1 -29 1 15 1 -15 1 14 1 17 1 -30 1 -8 1 26 1 1 1 -5 1 -1 1 22 1 -26 1 4 1 3 1 -12 1 19 1 14 1 -24 1 3 1 -17 1 4 1 14 1 -6 1 9 1 -8 1 6 1 19 1 -13 1 -27 1 16 1 -9 1 11 1 -2 1 3 1 6 1 -9 1 6 1 -11 1 16 1 -9 1 21 1 -12 1 17 1 -12 1 -20 1 -1 1 4 1 20 1 -19 1 14 1 -10 1 -1 1 13 1 -9 1 -11 1 30 1 -29 1 5 1 15 1 -16 1 6 1 -4 1 -13 1 -2 1 10 1 16 1 9 1 -3 1 -24 1 17 1 -18 1 11 1 7 1 -28 1 14 1 15 1 -39 1 31 1 -22 1 1 1 28 1 -13 1 -1 1 20 1 -23 1 -4 1 9 1 12 1 -22 1 8 1 7 1 -12 1 1 1 28 1 -19 1 -8 1 9 1 19 1 -16 1 -9 1 -5 1 -11 1 18 1 14 1 -29 1 18 1 -4 1 7 1 -5 1 20 1 -18 1 1 1 14 1 -10 1 -22 1 27 1 -23 1 -2 1 12 1 7 1 -4 1 11 1 -22 1 23 1 -10 1 3 1 -3 1 -11 1 8 1 9 1 -15 1 -15 1 30 1 9 1 -21 1 -1 1 16 1 -5 1 -3 1 10 1 7 1 -46 1 45 1 -24 1 9 1 -8 1 11 1 2 1 2 1 -26 1 42 1 -23 1 -4 1 7 1 -26 1 7 1 26 1 -23 1 22 1 -14 1 -24 1 38 1 -16 1 20 1 -36 1 -12 1 42 1 -1 1 -2 1 -30 1 16 1 22 1 -34 1 26 1 -12 1 -4 1 4 1 -10 1 8 1 -6 1 17 1 -15 1 -5 1 20 1 13 1 0 1 -14 1 -3 1 8 1 -3 1 -4 1 -38 1 52 1 -24 1 1 1 16 1 -16 1 17 1 8 1 -13 1 -27 1 28 1 -11 1 13 1 4 1 -20 1 3 1 -7 1 8 1 -8 1 29 1 -20 1 -4 1 10 1 -8 1 29 1 -21 1 7 1 -23 1 14 1 -4 1 -2 1 -16 1 9 1 2 1 -4 1 37 1 -24 1 -3 1 -7 1 18 1 -3 1 -6 1 5 1 -4 1 19 1 -32 1 11 1 7 1 6 1 -11 1 -9 1 15 1 -10 1 -12 1 18 1 10 1 4 1 -17 1 0 1 -7 1 6 1 12 1 -7 1 -10 1 7 1 5 1 -3 1 5 1 -1 1 -12 1 -19 1 27 1 -3 1 13 1 -14 1 18 1 -29 1 29 1 -30 1 22 1 -15 1 -1 1 -13 1 31 1 -34 1 18 1 5 1 4 1 -9 1 30 1 -18 1 9 1 -11 1 -4 1 1 1 -9 1 1 1 15 1 9 1 -21 1 -17 1 19 1 7 1 3 1 -19 1 4 1 3 1 16 1 -13 1 15 1 -21 1 0 1 27 1 -2 1 -10 1 2 1 -16 1 -1 1 0 1 -3 1 -13 1 33 1 -11 1 -3 1 19 1 -26 1 6 1 3 1 9 1 -6 1 3 1 5 1 -31 1 33 1 -22 1 16 1 -13 1 15 1 -1 1 -6 1 -5 1 -2 1 9 1 7 1 -17 1 -2 1 29 1 -7 1 -25 1 -4 1 19 1 9 1 -13 1 -5 1 0 1 8 1 0 1 -6 1 -7 1 14 1 -3 1 14 1 -23 1 21 1 -12 1 17 1 -33 1 41 1 -31 1 9 1 -11 1 27 1 -29 1 23 1 -14 1 20 1 -6 1 -9 1 -6 1 4 1 4 1 -2 1 13 1 -17 1 -10 1 19 1 -12 1 -10 1 18 1 15 1 -6 1 -19 1 5 1 6 1 2 1 -21 1 22 1 -15 1 2 1 -16 1 8 1 8 1 4" stroke="#20ffdf"/>
<path d="M2820 2585l1 25 1 -21 1 -9 1 -2 1 -11 1 24 1 -9 1 6 1 5 1 10 1 -11 1 -1 1 -7 1 5 1 7 1 8 1 0 1 -29 1 8 1 -9 1 -4 1 25 1 0 1 -11 1 6 1 -4 1 13 1 -7 1 -3 1 6 1 0 1 -16 1 -1 1 22 1 11 1 -12 1 2 1 -25 1 14 1 2 1 -12 1 0 1 -11 1 6 1 15 1 -1 1 5 1 -12 1 -4 1 -5 1 47 1 -19 1 -18 1 0 1 12 1 -4 1 4 1 -21 1 9 1 1" stroke="#20ffdf"/>
<path d="M372 2571l1 10 1 -32 1 27 1 0 1 -3 1 14 1 11 1 -2 1 -7 1 1 1 -21 1 20 1 15 1 -13 1 6 1 -21 1 19 1 -23 1 22 1 -13 1 -9 1 9 1 -10 1 29 1 -1 1 3 1 -43 1 18 1 1 1 -4 1 -8 1 7 1 22 1 -9 1 -6 1 13 1 18 1 -20 1 -27 1 28 1 -22 1 1 1 12 1 -13 1 16 1 10 1 -31 1 29 1 -9 1 4 1 5 1 -14 1 -13 1 26 1 -14 1 4 1 6 1 -8 1 15 1 -20 1 16 1 -24 1 -8 1 30 1 -6 1 -11 1 18 1 -1 1 -18 1 5 1 13 1 -16 1 17 1 -33 1 19 1 3 1 -6 1 14 1 -40 1 51 1 2 1 -13 1 14 1 -23 1 9 1 -14 1 3 1 -4 1 17 1 -14 1 3 1 21 1 8 1 -19 1 -10 1 4 1 -1 1 2 1 -24 1 37 1 -23 1 31 1 -30 1 0 1 14 1 -14 1 11 1 7 1 -5 1 -8 1 18 1 0 1 -10 1 9 1 -17 1 6 1 13 1 -32 1 -7 1 28 1 -9 1 19 1 -10 1 2 1 -9 1 10 1 10 1 -8 1 -4 1 8 1 -50 1 34 1 -1 1 -11 1 25 1 1 1 2 1 -16 1 40 1 -32 1 5 1 -4 1 20 1 -31 1 -1 1 10 1 18 1 -21 1 -4 1 2 1 13 1 -4 1 -10 1 -19 1 -4 1 36 1 -18 1 -3 1 20 1 8 1 -28 1 -1 1 17 1 -14 1 19 1 13 1 -41 1 -4 1 17 1 -17 1 21 1 -3 1 -5 1 -4 1 9 1 -2 1 22 1 -8 1 -10 1 -19 1 28 1 -20 1 28 1 -20 1 9 1 -18 1 17 1 7 1 -9 1 -19 1 26 1 14 1 -12 1 9 1 -21 1 -9 1 16 1 -1 1 3 1 -26 1 28 1 -9 1 8 1 -20 1 8 1 4 1 11 1 -1 1 -28 1 34 1 -17 1 -1 1 22 1 -33 1 22 1 -12 1 23 1 -29 1 -4 1 27 1 -14 1 -22 1 15 1 12 1 -1 1 -14 1 13 1 -1 1 -10 1 -7 1 -5 1 22 1 -6 1 8 1 -7 1 7 1 -2 1 21 1 -12 1 -12 1 -3 1 1 1 12 1 -13 1 5 1 -6 1 0 1 8 1 -8 1 7 1 -9 1 13 1 -3 1 15 1 -12 1 8 1 -24 1 5 1 10 1 2 1 -3 1 24 1 -29 1 0 1 -10 1 31 1 -26 1 5 1 2 1 -10 1 49 1 -40 1 -19 1 13 1 -6 1 19 1 -20 1 6 1 15 1 -10 1 15 1 -16 1 24 1 -20 1 -8 1 18 1 -5 1 -9 1 -5 1 10 1 5 1 -11 1 14 1 -5 1 0 1 -13 1 5 1 8 1 -13 1 19 1 -28 1 33 1 -15 1 15 1 -28 1 14 1 6 1 -21 1 13 1 19 1 -32 1 22 1 -13 1 20 1 -5 1 -1 1 -2 1 -12 1 12 1 -2 1 0 1 -8 1 -11 1 24 1 -12 1 14 1 -9 1 8 1 -18 1 23 1 -1 1 12 1 -56 1 40 1 -7 1 -10 1 -19 1 28 1 57 1 -67 1 -10 1 10 1 20 1 -22 1 -16 1 20 1 10 1 -9 1 -42 1 61 1 -20 1 11 1 -2 1 7 1 20 1 -33 1 -2 1 -26 1 39 1 -3 1 -24 1 11 1 19 1 -7 1 -7 1 1 1 3 1 23 1 -25 1 -4 1 1 1 -14 1 16 1 7 1 -22 1 21 1 -8 1 5 1 20 1 -30 1 1 1 11 1 -25 1 42 1 -1 1 -20 1 -5 1 6 1 -3 1 15 1 -33 1 20 1 18 1 -5 1 -13 1 -10 1 15 1 -11 1 -5 1 11 1 25 1 -17 1 -3 1 8 1 10 1 -25 1 19 1 -27 1 -10 1 26 1 24 1 -31 1 -5 1 14 1 -2 1 -22 1 17 1 9 1 -14 1 -3 1 10 1 -37 1 46 1 -5 1 -4 1 -23 1 27 1 -6 1 17 1 -25 1 12 1 3 1 -14 1 9 1 -3 1 29 1 -37 1 24 1 -25 1 23 1 -16 1 10 1 -21 1 13 1 19 1 -29 1 0 1 -9 1 -5 1 10 1 9 1 7 1 -11 1 21 1 -29 1 24" stroke="#40ffbf"/>
<path d="M2004 2578l1 1 1 10 1 -16 1 -7 1 21 1 -1 1 -11 1 20 1 -8 1 -4 1 17 1 -13 1 -4 1 -15 1 9 1 16 1 -1 1 2 1 33 1 -16 1 -22 1 4 1 -4 1 -2 1 4 1 -13 1 1 1 22 1 -15 1 3 1 10 1 -6 1 -5 1 -9 1 16 1 -7 1 14 1 -14 1 -9 1 8 1 -5 1 6 1 6 1 1 1 -1 1 -11 1 -14 1 29 1 -11 1 -18 1 13 1 4 1 10 1 -18 1 6 1 -1 1 -2 1 11 1 3 1 -18 1 -1 1 12 1 6 1 -7 1 10 1 -11 1 -1 1 7 1 -7 1 20 1 -26 1 1 1 4 1 11 1 -25 1 24 1 -12 1 14 1 -13 1 5 1 -9 1 -11 1 17 1 -13 1 11 1 -20 1 30 1 -1 1 -26 1 33 1 -12 1 2 1 -3 1 -12 1 15 1 7 1 -3 1 -2 1 -19 1 21 1 -24 1 9 1 12 1 -24 1 22 1 1 1 12 1 -18 1 18 1 -36 1 7 1 3 1 21 1 -31 1 12 1 16 1 5 1 9 1 -30 1 21 1 -1 1 -6 1 -12 1 15 1 4 1 -6 1 -2 1 5 1 -5 1 6 1 -19 1 1 1 18 1 -19 1 5 1 13 1 -16 1 -6 1 27 1 -2 1 -11 1 33 1 -28 1 -18 1 33 1 -22 1 3 1 -11 1 11 1 11 1 -21 1 5 1 7 1 -3 1 20 1 -14 1 -3 1 -14 1 -15 1 23 1 -12 1 18 1 -6 1 -13 1 30 1 4 1 -32 1 18 1 -11 1 10 1 -17 1 -3 1 18 1 10 1 19 1 -56 1 25 1 -22 1 39 1 12 1 -28 1 -7 1 20 1 -37 1 -8 1 15 1 12 1 -5 1 13 1 -5 1 7 1 -23 1 21 1 2 1 -22 1 -28 1 47 1 37 1 -82 1 85 1 -136 1 138 1 -11 1 -43 1 -10 1 193 1 -205 1 69 1 -61 1 94 1 -95 1 -79 1 75 1 75 1 -4 1 -240 1 258 1 -112 1 -6 1 89 1 -143 1 52 1 79 1 29 1 -34 1 -177 1 179 1 -3 1 37 1 96 1 -90 1 0 1 -5 1 -27 1 0 1 -2 1 -54 1 -10 1 50 1 4 1 22 1 7 1 1 1 -66 1 56 1 63 1 -270 1 163 1 -20 1 34 1 -2 1 -2 1 58 1 13 1 -70 1 126 1 -157 1 7 1 256 1 -201 1 -20 1 -32 1 -9 1 12 1 -53 1 -91 1 56 1 151 1 67 1 -228 1 141 1 115 1 -69 1 68 1 -154 1 13 1 44 1 -50 1 33 1 -53 1 101 1 -35 1 -41 1 79 1 -144 1 55 1 76 1 24 1 -78 1 -30 1 50 1 -22 1 -12 1 8 1 -5 1 -32 1 32 1 -5 1 3 1 -7 1 -21 1 58 1 -7 1 -25 1 -16 1 69 1 -28 1 -11 1 -4 1 -28 1 25 1 31 1 -13 1 -43 1 12 1 -40 1 87 1 -49 1 17 1 35 1 15 1 -66 1 6 1 45" stroke="#40ffbf"/>
<path d="M0 2602l1 -32 1 19 1 -17 1 -38 1 59 1 -32 1 13 1 -7 1 8 1 11 1 -20 1 40 1 -19 1 9 1 -49 1 23 1 -10 1 70 1 -47 1 -14 1 -1 1 34 1 -30 1 18 1 -31 1 24 1 8 1 -37 1 3 1 21 1 -7 1 18 1 -35 1 44 1 -24 1 -5 1 13 1 22 1 -38 1 37 1 13 1 -48 1 33 1 -52 1 39 1 -17 1 28 1 -14 1 20 1 -13 1 -16 1 -20 1 66 1 -39 1 -7 1 35 1 -34 1 -31 1 61 1 1 1 -50 1 60 1 10 1 -50 1 9 1 -20 1 21 1 -12 1 31 1 -25 1 29 1 -47 1 60 1 -44 1 0 1 32 1 2 1 -27 1 0 1 -4 1 -23 1 25 1 -15 1 -41 1 64 1 27 1 -18 1 5 1 -10 1 -20 1 2 1 -11 1 15 1 4 1 -22 1 28 1 -7 1 33 1 -58 1 48 1 -19 1 -1 1 -41 1 65 1 -21 1 36 1 -22 1 -38 1 38 1 25 1 -22 1 -55 1 62 1 -52 1 54 1 -88 1 115 1 -40 1 54 1 78 1 -127 1 -4 1 -37 1 20 1 -12 1 24 1 13 1 -20 1 -9 1 1 1 -39 1 54 1 -7 1 18 1 -35 1 26 1 -10 1 22 1 -65 1 -19 1 33 1 20 1 13 1 15 1 -51 1 45 1 9 1 -68 1 34 1 32 1 -25 1 9 1 38 1 -38 1 -10 1 29 1 -16 1 26 1 -8 1 -69 1 52 1 -37 1 -13 1 -1 1 54 1 9 1 -9 1 -15 1 22 1 11 1 -24 1 -28 1 22 1 -133 1 139 1 -9 1 -8 1 -3 1 -58 1 94 1 -32 1 -10 1 36 1 -22 1 -37 1 78 1 -67 1 35 1 27 1 -152 1 75 1 -1 1 216 1 -131 1 3 1 -85 1 17 1 28 1 13 1 -13 1 -38 1 18 1 64 1 -56 1 7 1 12 1 -20 1 -20 1 22 1 -13 1 10 1 40 1 -37 1 -6 1 -35 1 6 1 55 1 -11 1 -16 1 26 1 -5 1 26 1 -16 1 10 1 -37 1 6 1 -17 1 4" stroke="#60ff9f"/>
<path d="M246 2569l1 14 1 8 1 5 1 -6 1 -35 1 29 1 25 1 -37 1 20 1 45 1 -45 1 -11 1 20 1 -22 1 11 1 -41 1 63 1 -26 1 14 1 -5 1 -30 1 68 1 -46 1 -24 1 64 1 -56 1 21 1 -8 1 -20 1 28" stroke="#60ff9f"/>
<path d="M1428 2566l1 31 1 -21 1 5 1 30 1 -29 1 -3 1 3 1 12 1 -5 1 -1 1 6 1 -15 1 14 1 -8 1 16 1 -13 1 11 1 -17 1 21 1 -1 1 -41 1 24 1 -12 1 4 1 21 1 11 1 -49 1 29 1 -16 1 11 1 18 1 -7 1 -4 1 -26 1 12 1 7 1 23 1 -28 1 -7 1 6 1 19 1 -16 1 16 1 -1 1 -9 1 12 1 -39 1 25 1 4 1 -23 1 7 1 13 1 22 1 -21 1 4 1 -6 1 14 1 11 1 -13 1 -8 1 5 1 -40 1 41 1 20 1 -8 1 -20 1 3 1 -11 1 -27 1 35 1 8 1 5 1 -36 1 27 1 -12 1 16 1 1 1 -17 1 18 1 2 1 11 1 -33 1 15 1 2 1 5 1 -5 1 20 1 -27 1 41 1 -58 1 3 1 20 1 -30 1 45 1 -28 1 -6 1 40 1 -47 1 29 1 -5 1 -9 1 20 1 -3 1 7 1 -16 1 -26 1 44 1 -41 1 16 1 8 1 11 1 -2 1 -2 1 -25 1 -5 1 14 1 -7 1 3 1 0 1 -9 1 33 1 -18 1 -14 1 34 1 -5 1 11 1 -28 1 24 1 -18 1 -3 1 7 1 3 1 1 1 9 1 -45 1 24 1 -16 1 10 1 12 1 2 1 -68 1 68 1 4 1 -13 1 18 1 -26 1 30 1 -9 1 -18 1 12 1 -3 1 12 1 -14 1 -11 1 -8 1 12 1 3 1 -1 1 8 1 -14 1 13 1 -10 1 17 1 24 1 -37 1 -2 1 -18 1 15 1 11 1 1 1 -13 1 2 1 -6 1 4 1 14 1 -26 1 31 1 0 1 -33 1 10 1 20 1 4 1 1 1 -14 1 5 1 -13 1 30 1 -47 1 45 1 -29 1 -2 1 19 1 1 1 -24 1 -9 1 10 1 26 1 -1 1 -18 1 36 1 -31 1 23 1 -27 1 6 1 -9 1 7 1 -2 1 20 1 -17 1 9 1 -11 1 2 1 3 1 5 1 -1 1 -5 1 8 1 -17 1 12 1 4 1 -25 1 20 1 5 1 -3 1 -7 1 7 1 -21 1 28 1 18 1 -31 1 7 1 -12 1 4 1 -3 1 1 1 53 1 -55 1 24 1 -10 1 -6 1 31 1 -33 1 -7 1 30 1 -1 1 -23 1 18 1 -26 1 1 1 8 1 -15 1 22 1 10 1 -12 1 0 1 -8 1 -9 1 26 1 -21 1 28 1 -9 1 -10 1 -16 1 30 1 -17 1 4 1 -20 1 8 1 24 1 -6 1 -17 1 21 1 19 1 -17 1 -15 1 5 1 1 1 18 1 1 1 -15 1 -10 1 10 1 -7 1 33 1 -23 1 -18 1 6 1 -5 1 -3 1 16 1 -11 1 -5 1 2 1 11 1 -6 1 26 1 -11 1 -41 1 28 1 7 1 -29 1 31 1 -18 1 17 1 1 1 -21 1 10 1 -1 1 21 1 3 1 14 1 -51 1 19 1 -7 1 -22 1 5 1 12 1 21 1 -2 1 -26 1 -5 1 30 1 -10 1 10 1 10 1 -29 1 32 1 6 1 -30 1 3 1 3 1 4 1 -10 1 13 1 -12 1 0 1 9 1 8 1 9 1 -5 1 -23 1 -12 1 25 1 -9 1 1 1 4 1 1 1 0 1 2 1 7 1 15 1 -63 1 50 1 -21 1 22 1 -41 1 41 1 -16 1 -16 1 21 1 -6 1 2 1 8 1 -13 1 7 1 -31 1 40 1 -6 1 0 1 5 1 -22 1 26 1 -2 1 6 1 -39 1 19 1 16 1 -24 1 -4 1 15 1 -6 1 19 1 10 1 -12 1 1 1 12 1 -23 1 22 1 -22 1 -5 1 16 1 -2 1 -28 1 14 1 -4 1 17 1 12 1 -30 1 19 1 -12 1 -18 1 39 1 -40 1 -3 1 54 1 -27 1 -12 1 20 1 -17 1 10 1 -7 1 -25 1 -1 1 43 1 -9 1 -24 1 17 1 7 1 -18 1 4 1 10 1 -29 1 35 1 -17 1 7 1 -16 1 20 1 0 1 16 1 -28 1 32 1 -14 1 -13 1 24 1 -40 1 6 1 18 1 13 1 -21 1 -3 1 -2 1 20 1 -15 1 17 1 -12 1 -9 1 27 1 -19 1 5 1 -14 1 21 1 -33 1 36 1 -27 1 21 1 -21 1 -5 1 16 1 -5 1 17 1 -15 1 -4 1 19 1 -12 1 -11 1 -2 1 18 1 -25 1 2 1 46 1 -32 1 8 1 -7 1 -8 1 1 1 15 1 47 1 -74 1 40 1 -26" stroke="#60ff9f"/>
<path d="M2844 2590l1 1 1 -7 1 -2 1 19 1 15 1 -30 1 1 1 -14 1 4 1 22 1 19 1 -30 1 10 1 -15 1 5 1 15 1 -29 1 14 1 -13 1 30 1 -43 1 19 1 0 1 -9 1 16 1 8 1 -9 1 7 1 -3 1 -9 1 16 1 7 1 -4 1 -12 1 3 1 -6" stroke="#60ff9f"/>
<path d="M36 2570l1 40 1 -43 1 38 1 -49 1 48 1 -32 1 1 1 4 1 -8 1 22 1 -33 1 2 1 1 1 29 1 -5 1 -2 1 19 1 -51 1 41 1 -19 1 27 1 -23 1 16 1 -43 1 55 1 -27 1 -26 1 30 1 -8 1 41 1 -23 1 -1 1 20 1 -23 1 -8 1 0 1 5 1 -31 1 52 1 -20 1 12 1 0 1 -20 1 -4 1 12 1 15 1 -23 1 -9 1 44 1 1 1 -45 1 16 1 -16 1 32 1 -27 1 -13 1 23 1 25 1 -34 1 47 1 -51 1 20 1 -3 1 10 1 -27 1 42 1 -25 1 21 1 -38 1 16 1 -25 1 -6 1 23 1 27 1 3 1 3 1 -42 1 49 1 -54 1 67 1 -76 1 -76 1 93 1 8 1 11 1 -19 1 -11 1 15 1 -13 1 -21 1 86 1 -30 1 5 1 8 1 -20 1 10 1 -39 1 35 1 -5 1 -45 1 3 1 13 1 12 1 4 1 21 1 -3 1 10 1 -22" stroke="#80ff80"/>
<path d="M1020 2591l1 2 1 -14 1 24 1 -29 1 25 1 -29 1 0 1 12 1 31 1 -21 1 4 1 -32 1 30 1 -20 1 -12 1 24 1 -13 1 31 1 -34 1 30 1 -11 1 18 1 -42 1 -8 1 35 1 -1 1 -65 1 53 1 36 1 -34 1 9 1 0 1 6 1 -7 1 -4 1 -5 1 6 1 -16 1 17 1 12 1 1 1 -26 1 21 1 -15 1 10 1 -27 1 23 1 17 1 -1 1 -20 1 14 1 7 1 -14 1 17 1 -25 1 13 1 -10 1 2 1 -20 1 20 1 3 1 -2 1 8 1 -12 1 12 1 2 1 4 1 -15 1 0 1 -7 1 2 1 24 1 1 1 -39 1 1 1 19 1 -19 1 25 1 5 1 -16 1 -12 1 31 1 -4 1 -19 1 2 1 -3 1 9 1 3 1 14 1 -1 1 -26 1 30 1 0 1 -43 1 33 1 -16 1 12 1 -1 1 -8 1 -15 1 22 1 -5 1 10 1 -30 1 28 1 -1 1 -19 1 11 1 -15 1 6 1 12 1 -6 1 14 1 1 1 -10 1 7 1 16 1 -22 1 -2 1 -1 1 9 1 -20 1 26 1 -12 1 21 1 -24 1 23 1 -21 1 12 1 -3 1 5 1 -11 1 3 1 -4 1 -3 1 8 1 3 1 -3 1 0 1 -9 1 -4 1 -9 1 25 1 10 1 -24 1 -13 1 11 1 3 1 2 1 -3 1 6 1 -2 1 -5 1 -9 1 11 1 -2 1 -2 1 -2 1 0 1 8 1 -4 1 11 1 -14 1 26 1 -8 1 -32 1 26 1 -7 1 17 1 -7 1 -3 1 -13 1 -3 1 23 1 -2 1 -2 1 -11 1 24 1 -27 1 6 1 26 1 -17 1 -15 1 7 1 -7 1 -6 1 22 1 -17 1 19 1 14 1 -8 1 -24 1 -10 1 11 1 22 1 -27 1 -17 1 21 1 17 1 -17 1 24 1 -2 1 -11 1 11 1 -1 1 2 1 -15 1 5 1 -10 1 22 1 -7 1 -3 1 -12 1 7 1 -8 1 13 1 -20 1 -7 1 29 1 -4 1 1 1 -17 1 -6 1 22 1 -15 1 8 1 -5 1 9 1 0 1 4 1 -16 1 -22 1 63 1 -34 1 -6 1 15 1 2 1 -20 1 24 1 -22 1 16 1 0 1 -15 1 2 1 21 1 -1 1 -2 1 -13 1 -3 1 -8 1 3 1 -8 1 8 1 4 1 5 1 -11 1 2 1 -1 1 10 1 23 1 -19 1 13 1 -20 1 12 1 -26 1 -21 1 57 1 -6 1 -8 1 1 1 -12 1 9 1 -1 1 -5 1 -5 1 13 1 -1 1 -18 1 10 1 0 1 -3 1 6 1 -1 1 -8 1 37 1 -26 1 -24 1 34 1 -29 1 23 1 -12 1 2 1 20 1 -11 1 10 1 -20 1 -7 1 -13 1 38 1 -10 1 -6 1 21 1 -28 1 29 1 -24 1 6 1 -15 1 30 1 2 1 -26 1 33 1 -25" stroke="#80ff80"/>
<path d="M2532 2574l1 45 1 -73 1 38 1 3 1 20 1 -22 1 -15 1 30 1 -14 1 -10 1 8 1 7 1 6 1 20 1 -33 1 29 1 -50 1 23 1 -14 1 34 1 -1 1 -25 1 3 1 -11 1 24 1 -23 1 9 1 4 1 1 1 4 1 -16 1 38 1 -36 1 1 1 24 1 -28 1 5 1 6 1 -10 1 -18 1 54 1 -24 1 -2 1 -34 1 31 1 -8 1 2 1 12 1 1 1 14 1 -44 1 33 1 -5 1 7 1 7 1 -2 1 -20 1 24 1 -15 1 -32 1 32 1 -27 1 19 1 -9 1 27 1 -3 1 28 1 -40 1 16 1 -16 1 11 1 4 1 29 1 -58 1 18 1 22 1 -25 1 7 1 -8 1 4 1 2 1 20 1 -28 1 12 1 12 1 13 1 -38 1 15 1 -13 1 13 1 -17 1 18 1 -31 1 30 1 8 1 7 1 -15 1 -5 1 -18 1 1 1 -5 1 31 1 -15 1 12 1 -30 1 20 1 -13 1 21 1 -18 1 24 1 -8 1 -15 1 12 1 -12 1 12 1 -10 1 10 1 19 1 11 1 10 1 -50 1 -2 1 -3 1 26 1 -41 1 35 1 -1 1 -239 1 221 1 8 1 6 1 229 1 -242 1 -12 1 17 1 13 1 5 1 -22 1 28 1 10 1 -39 1 -4 1 36 1 -19 1 4 1 -10 1 -6 1 19 1 -27 1 3 1 -7 1 46 1 -20 1 -32 1 6 1 14 1 23 1 -38 1 64 1 -17 1 -23 1 4 1 -2 1 -21 1 34 1 -17 1 15 1 -3 1 3 1 9 1 -19 1 -9 1 -5 1 14 1 8 1 -64 1 62 1 -17 1 -4 1 3 1 22 1 -33 1 36 1 -33 1 30 1 -19 1 -12 1 18 1 -12 1 9 1 -6 1 7 1 -29 1 46 1 5 1 -26 1 -15 1 34 1 -32 1 13 1 32 1 -37 1 11 1 0 1 -21 1 10 1 -1 1 -2 1 6 1 24 1 -17 1 -1 1 7 1 -10 1 -13 1 35 1 -21 1 13 1 11 1 -44 1 20 1 -4 1 -13 1 40 1 -19 1 -10 1 15 1 6 1 -11 1 -35 1 59 1 -2 1 -17 1 -6 1 14 1 -7 1 -7 1 -12 1 -13 1 -10 1 38 1 5 1 -10 1 -4 1 27 1 -47 1 34 1 1 1 -20 1 11 1 27 1 -22 1 7 1 -17 1 11 1 -1 1 -14 1 25 1 -19 1 4 1 34 1 -58 1 39 1 -25 1 9 1 9 1 -13 1 2 1 -9 1 19 1 8 1 15 1 -24 1 -5 1 -17 1 22" stroke="#80ff80"/>
<path d="M1716 2592l1 -9 1 -8 1 2 1 16 1 -20 1 34 1 -9 1 -8 1 21 1 -6 1 6 1 -11 1 14 1 -26 1 -14 1 14 1 4 1 -28 1 37 1 -14 1 -6 1 7 1 2 1 1 1 -20 1 43 1 -45 1 17 1 -4 1 -3 1 -2 1 21 1 -35 1 11 1 -12 1 23 1 -7 1 23 1 -31 1 32 1 -15 1 5 1 8 1 -11 1 7 1 -18 1 6 1 6 1 -8 1 6 1 -5 1 15 1 11 1 -16 1 6 1 -17 1 20 1 -26 1 17 1 -9 1 -15 1 42 1 -9 1 -31 1 24 1 -4 1 -9 1 4 1 -9 1 -6 1 24 1 -40 1 31 1 -17 1 12 1 -2 1 -5 1 7 1 -4 1 3 1 8 1 21 1 -23 1 10 1 -21 1 6 1 15 1 10 1 -15 1 -13 1 3 1 12 1 -21 1 28 1 -14 1 16 1 -13 1 -5 1 -3 1 25 1 -51 1 20 1 17 1 -11 1 -9 1 14 1 -13 1 4 1 6 1 40 1 -47 1 13 1 -3 1 2 1 -11 1 8 1 -3 1 15 1 -14 1 21 1 -50 1 37 1 -6 1 3 1 3 1 -16 1 22 1 -1 1 -11 1 -2 1 25 1 -22 1 17 1 -36 1 8 1 23 1 6 1 -10 1 -1 1 -8 1 -5 1 -7 1 18 1 -5 1 -19 1 17 1 -11 1 18 1 -9 1 -2 1 31 1 -27 1 -11 1 12 1 -2 1 2 1 -14 1 3 1 30 1 -16 1 -9 1 3 1 -9 1 0 1 12 1 18 1 -3 1 -19 1 33 1 -12 1 -28 1 24 1 -16 1 24 1 -28 1 18 1 -9 1 -18 1 9 1 3 1 10 1 -13 1 12 1 6 1 -3 1 -21 1 13 1 6 1 16 1 1 1 -29 1 -8 1 32 1 -5 1 -1 1 -24 1 5 1 21 1 11 1 -29 1 20 1 3 1 -19 1 -6 1 5 1 10 1 -8 1 22 1 -25 1 8 1 -17 1 9 1 -5 1 15 1 -11 1 0 1 -18 1 30 1 -22 1 8 1 6 1 -1 1 8 1 -12 1 -3 1 15 1 10 1 -29 1 12 1 -5 1 14 1 -17 1 11 1 5 1 -16 1 16 1 -6 1 -12 1 2 1 9 1 6 1 -21 1 14 1 -7 1 15 1 -1 1 15 1 -11 1 -19 1 4 1 -10 1 26 1 -15 1 16 1 6 1 -39 1 1 1 14 1 -3 1 3 1 10 1 -19 1 7 1 -7 1 43 1 -15 1 -19 1 -2 1 -2 1 17 1 -7 1 -10 1 12 1 -3 1 17 1 -13 1 -11 1 8 1 2 1 15 1 -12 1 9 1 -3 1 1 1 -25 1 17 1 -8 1 12 1 -5 1 1 1 24 1 -37 1 9 1 -15 1 15 1 2 1 5 1 -15 1 24 1 -35 1 34 1 -26 1 3 1 0 1 -10 1 16 1 -2 1 20 1 -28 1 4 1 13 1 14 1 -24 1 7 1 -5 1 8 1 2 1 -12 1 11 1 8 1 -16 1 1 1 5 1 1 1 -2 1 1 1 2 1 7 1 -28 1 2 1 2 1 19 1 -36 1 -1 1 8 1 30 1 16 1 -1 1 -26 1 8 1 6 1 -11 1 -4 1 -11 1 23 1 -44 1 25 1 4 1 -14 1 10 1 14 1 8 1 -8 1 -6 1 -26 1 11 1 -11 1 14 1 15 1 -3 1 -3 1 1 1 23 1 -30 1 19 1 -4 1 4 1 -1 1 -8 1 -4 1 -10 1 -1 1 22 1 -22 1 7 1 7 1 18 1 -27 1 36 1 -25 1 -9 1 14 1 -5 1 -9 1 -11 1 26 1 -3 1 8 1 -22 1 13 1 -1 1 -4 1 -7 1 -5 1 29 1 -11 1 15 1 -10 1 3 1 -11 1 23 1 -34 1 27 1 -26 1 17 1 3 1 -9 1 0 1 0 1 0 1 -3 1 -16 1 17 1 11 1 1 1 -20 1 23 1 -28 1 -10 1 9 1 7 1 22 1 -1 1 -22 1 10 1 6 1 -33 1 32 1 -12 1 19 1 -13 1 6" stroke="#9fff60"/>
<path d="M504 2576l1 -17 1 12 1 6 1 6 1 6 1 -7 1 15 1 -9 1 -2 1 38 1 -29 1 -13 1 18 1 -32 1 -6 1 30 1 -6 1 1 1 27 1 -14 1 -15 1 32 1 -28 1 2 1 12 1 -20 1 3 1 -2 1 -5 1 11 1 -19 1 6 1 6 1 11 1 1 1 -5 1 23 1 -25 1 -8 1 13 1 3 1 -34 1 10 1 37 1 -13 1 -5 1 -32 1 9 1 0 1 11 1 3 1 -4 1 16 1 -50 1 65 1 -38 1 26 1 -14 1 20 1 -23 1 10 1 -9 1 12 1 5 1 -19 1 16 1 -3 1 11 1 -4 1 -15 1 28 1 -7 1 -3 1 -21 1 5 1 8 1 -31 1 40 1 -38 1 32 1 -12 1 10 1 -6 1 11 1 -27 1 26 1 14 1 -22 1 24 1 -28 1 11 1 -32 1 -24 1 20 1 28 1 13 1 -15 1 -2 1 19 1 -31 1 26 1 -6 1 -10 1 -5 1 5 1 1 1 7 1 -18 1 17 1 -6 1 3 1 -11 1 -18 1 42 1 4 1 -10 1 23 1 -41 1 8 1 -14 1 27 1 -10 1 -15 1 -3 1 17 1 -31 1 37 1 0 1 -10 1 -10 1 8 1 17 1 6 1 -30 1 -3 1 26 1 -23 1 2 1 -30 1 18 1 28 1 -7 1 18 1 -35 1 -4 1 39 1 -18 1 3 1 5 1 -8 1 34 1 -16 1 -4 1 -18 1 23 1 -23 1 -2 1 3 1 17 1 -40 1 30 1 -8 1 20 1 -25 1 27 1 -14 1 3 1 -34 1 25 1 -11 1 38 1 -36 1 10 1 -3 1 24 1 -31 1 -26 1 26 1 32 1 -32 1 -8 1 24 1 -20 1 7 1 13 1 -26 1 -1 1 42 1 -41 1 41 1 -24 1 -5 1 19 1 -12 1 3 1 23 1 -21 1 8 1 -17 1 -2 1 4 1 -3 1 3 1 14 1 -52 1 53 1 -19 1 -17 1 14 1 26 1 -12 1 -22 1 13 1 8 1 54 1 -63 1 -18 1 16 1 14 1 -9 1 6 1 -1 1 8 1 -6 1 -1 1 9 1 -20 1 19 1 6 1 -16 1 5 1 -5 1 -1 1 8 1 -11 1 20 1 -25 1 30 1 -23 1 -4 1 -16 1 9 1 13 1 -1 1 18 1 -15 1 2 1 -26 1 14 1 1 1 24 1 -6 1 22 1 -23 1 -24 1 35 1 -9 1 -28 1 19 1 -3 1 9 1 -16 1 34 1 -13 1 4 1 -2 1 -24 1 20 1 -11 1 -7 1 25 1 -20 1 -13 1 -12 1 39 1 -15 1 -28 1 26 1 8 1 -26 1 36 1 -24 1 10 1 16 1 1 1 9 1 -15 1 -4 1 -15 1 46 1 -45 1 24 1 -15 1 0 1 -24 1 14 1 17 1 6 1 -19 1 -1 1 7 1 7 1 -18 1 22 1 -9 1 2 1 -25 1 12 1 -16 1 32 1 -16 1 0 1 4 1 26 1 -53 1 13 1 9 1 17 1 12 1 -27 1 -16 1 44 1 -40 1 24 1 -4 1 14 1 -12 1 7 1 -11 1 1 1 -6 1 -2 1 17 1 -15 1 -21 1 20 1 24 1 -4 1 2 1 -36 1 35 1 -3 1 0 1 1 1 -4 1 0 1 -15 1 26 1 -35 1 23 1 -2 1 1 1 23 1 -26 1 12 1 -11 1 -11 1 7 1 -9 1 24" stroke="#bfff40"/>
<path d="M528 2589l1 18 1 6 1 -23 1 -19 1 24 1 -35 1 12 1 4 1 -15 1 22 1 8 1 -29 1 64 1 -45 1 6 1 -13 1 21 1 -1 1 -2 1 -10 1 15 1 -30 1 14 1 -28 1 57 1 -9 1 -15 1 -17 1 38 1 -2 1 15 1 -24 1 -2 1 32 1 -25 1 -9 1 -2 1 2 1 -1 1 -9 1 37 1 -47 1 17 1 4 1 -21 1 35 1 -18 1 -6 1 -12 1 6 1 5 1 13 1 1 1 -30 1 43 1 -34 1 17 1 6 1 -45 1 40 1 15 1 -62 1 46 1 -25 1 24 1 3 1 -15 1 -8 1 10 1 -21 1 42 1 -26 1 42 1 -6 1 -15 1 -4 1 7 1 6 1 -18 1 -29 1 46 1 -46 1 46 1 -25 1 9 1 -8 1 0 1 -8 1 27 1 -33 1 22 1 20 1 -20 1 17 1 -18 1 14 1 -14 1 5 1 1 1 3 1 -5 1 15 1 -28 1 13 1 -3 1 -19 1 8 1 5 1 28 1 11 1 -29 1 10 1 -10 1 -2 1 -5 1 35 1 -44 1 2 1 20 1 -22 1 -5 1 34 1 -7 1 -3 1 -5 1 27 1 -25 1 -12 1 21 1 -12 1 20 1 -39 1 47 1 3 1 -29 1 12 1 9 1 -21 1 8 1 -3 1 -18 1 21 1 -32 1 5 1 30 1 -11 1 -24 1 1 1 50 1 -55 1 22 1 -3 1 -2 1 -12 1 4 1 -10 1 3 1 40 1 -17 1 14 1 -1 1 -31 1 38 1 -28 1 26 1 -28 1 -26 1 36 1 2 1 15 1 -44 1 30 1 5 1 0 1 -11 1 11 1 -24 1 11 1 -44 1 31 1 25 1 -13 1 26 1 -25 1 -24 1 3 1 43 1 22 1 -51 1 24 1 -30 1 -7 1 20 1 -11 1 -16 1 18 1 2 1 -6 1 5 1 30 1 -1 1 -12 1 6 1 -37 1 13 1 16 1 -10 1 16 1 -1 1 9 1 -27 1 6 1 -22 1 21 1 33 1 -19 1 -13 1 9 1 -18 1 10 1 -5 1 -25 1 7 1 -4 1 44 1 -7 1 -32 1 32 1 -37 1 17 1 30 1 -14 1 -7 1 19 1 -12 1 8 1 19 1 -32 1 -8 1 21 1 26 1 -42 1 3 1 -9 1 -20 1 40 1 5 1 -8 1 4 1 2 1 -4 1 -14 1 -11 1 -3 1 55 1 -43 1 -8 1 -6 1 11 1 9 1 -3 1 -33 1 26 1 1 1 6 1 23 1 -9 1 -20 1 11 1 -42 1 38 1 -8 1 20 1 -24 1 13 1 -3 1 25 1 -8 1 -26 1 43 1 -5 1 -18 1 -18 1 47 1 -52 1 26 1 -8 1 3" stroke="#dfff20"/>
<path d="M1788 2598l1 -6 1 2 1 5 1 -23 1 -20 1 59 1 -31 1 3 1 9 1 -10 1 -1 1 -5 1 8 1 20 1 -17 1 -7 1 0 1 18 1 -18 1 -27 1 34 1 -1 1 -4 1 12 1 3 1 -22 1 21 1 -3 1 60 1 -72 1 31 1 -39 1 16 1 -17 1 42 1 -30 1 3 1 -18 1 7 1 31 1 -44 1 11 1 1 1 -14 1 18 1 -4 1 17 1 -29 1 29 1 -17 1 25 1 -28 1 20 1 -21 1 7 1 11 1 -1 1 -5 1 10 1 -24 1 23 1 1 1 -20 1 16 1 -10 1 5 1 -2 1 41 1 -45 1 -18 1 30 1 -6 1 -29 1 15 1 16 1 -11 1 -4 1 10 1 -8 1 -2 1 25 1 -24 1 26 1 -1 1 1 1 5 1 -23 1 23 1 -31 1 3 1 25 1 -19 1 7 1 -12 1 -23 1 34 1 -20 1 14 1 -11 1 3 1 3 1 24 1 -5 1 -22 1 23 1 14 1 -29 1 1 1 -8 1 10 1 -2 1 9 1 -7 1 10 1 4 1 -16 1 16 1 -22 1 30 1 -50 1 21 1 12 1 -14 1 23 1 -27 1 9 1 16 1 5 1 -32 1 11 1 -8 1 4 1 -22 1 53 1 -22 1 0 1 5 1 -20 1 11 1 -12 1 29 1 1 1 -21 1 12 1 6 1 -10 1 -11 1 -3 1 19 1 -23 1 26 1 7 1 -10 1 -14 1 17 1 -17 1 10 1 8 1 11 1 -43 1 25 1 -9 1 -9 1 20 1 17 1 -20 1 -3 1 6 1 -3 1 10 1 -7 1 14 1 -38 1 -14 1 32 1 -7 1 13 1 -1 1 -6 1 6 1 -15 1 15 1 12 1 -17 1 -14 1 25 1 -40 1 44 1 -18 1 -16 1 35 1 -24 1 17 1 -1 1 4 1 -2 1 -26 1 3 1 7 1 0 1 11 1 -7 1 13 1 11 1 -10 1 -17 1 31 1 -30 1 2 1 -2 1 -19 1 7 1 8 1 -12 1 41 1 -38 1 13 1 -7 1 8 1 12 1 -10 1 -8 1 28 1 -34 1 21 1 -5 1 -12 1 25 1 -15 1 -26 1 11 1 5 1 -23 1 20 1 11 1 1 1 9 1 -33 1 39 1 -11 1 -17 1 30 1 16 1 -2 1 -31 1 25 1 -25 1 6 1 -17 1 14 1 -5 1 -24 1 17 1 -4 1 -10 1 40 1 -31 1 11 1 14 1 -30 1 22 1 -11 1 16 1 -4 1 11 1 -22 1 20 1 -20 1 5 1 26 1 -18 1 2 1 4 1 -4 1 -31 1 32 1 -22 1 -13 1 19 1 25 1 -23 1 -14 1 60 1 -30 1 9 1 -26 1 -2 1 -2 1 11 1 -7 1 33 1 -25 1 -4 1 14 1 1 1 -10 1 13 1 1 1 -22 1 30 1 -24 1 68 1 -78 1 2 1 24 1 -7 1 38 1 -68 1 8 1 15 1 -43 1 23 1 32 1 -34 1 12 1 4 1 21 1 -14 1 -21 1 26 1 -41 1 39 1 -14 1 -7 1 22 1 -33 1 50 1 -42 1 -2 1 16 1 12 1 -1 1 -12 1 17 1 -30 1 38 1 -18 1 2 1 -23 1 27 1 -4 1 -6 1 5 1 -1 1 -9 1 2 1 -13 1 -7 1 45 1 -17 1 24 1 -13 1 -12 1 22 1 -34 1 6 1 -6 1 -1 1 31 1 -41 1 48 1 -27 1 -6 1 25 1 -35 1 40 1 -29 1 10 1 10 1 -21 1 10 1 -8 1 3 1 -12 1 6 1 -25 1 54 1 -12 1 -18 1 -11 1 -2 1 40 1 -25 1 -99 1 85 1 53 1 -80 1 84 1 2 1 -20 1 -20 1 -9 1 9 1 45 1 -64 1 -108 1 98 1 11 1 7 1 44 1 -95 1 103 1 -102 1 4 1 54 1 9 1 7 1 -82 1 95 1 183 1 -210 1 77 1 -4 1 -67 1 29 1 -33 1 -7 1 169 1 -205 1 4 1 49 1 3 1 -53 1 88 1 -71 1 30 1 7 1 -16 1 59 1 -79 1 -15 1 18" stroke="#dfff20"/>
<path d="M0 2595l1 10 1 -29 1 13 1 -2 1 45 1 -50 1 28 1 -10 1 -31 1 10 1 27 1 -16 1 -14 1 -4 1 30 1 -13 1 0 1 2 1 -11 1 18 1 -4 1 -28 1 25 1 -4 1 -22 1 0 1 2 1 10 1 13 1 -20 1 5 1 29 1 5 1 -15 1 -2 1 -12 1 12 1 -7 1 3 1 -25 1 11 1 -13 1 66 1 -52 1 26 1 -17 1 0 1 -3 1 3 1 8 1 -11 1 4 1 -13 1 12 1 -4 1 26 1 -8 1 -10 1 -26 1 -3 1 29 1 10 1 -33 1 24 1 -22 1 19 1 -18 1 3 1 28 1 -14 1 7 1 -13 1 2 1 0 1 -19 1 18 1 13 1 -25 1 14 1 14 1 -12 1 2 1 -5 1 -29 1 27 1 -16 1 25 1 -4 1 -5 1 25 1 -7 1 5 1 -47 1 32 1 19 1 -39 1 -19 1 61 1 -26 1 18 1 -15 1 18 1 -20 1 10 1 3 1 -14 1 8 1 33 1 -14 1 -38 1 21 1 5 1 -6 1 4 1 -29 1 17 1 5 1 44 1 -17 1 -64 1 18 1 -28 1 51 1 -10 1 36 1 -35 1 28 1 -54 1 29 1 -54 1 24 1 169 1 -111 1 -12 1 8 1 -25 1 20 1 -5 1 -33 1 27 1 -23 1 6 1 4 1 -2 1 -20 1 33 1 -16 1 -14 1 19 1 8 1 -21 1 33 1 -28 1 20 1 26 1 -138 1 116 1 -48 1 31 1 15 1 19 1 -40 1 64 1 -35 1 -11 1 -18 1 4 1 39 1 -28 1 -33 1 -5 1 4 1 30 1 9 1 -30 1 19 1 34 1 -12 1 -6 1 30 1 -39 1 -16 1 -17 1 44 1 -15 1 -6 1 22 1 0 1 3 1 -29 1 15 1 -16 1 4 1 -4 1 19 1 -11 1 -42 1 65 1 -14 1 1 1 -20 1 3 1 18 1 13 1 -17 1 6 1 -3 1 40 1 -52 1 21 1 -31 1 37 1 -10 1 14 1 -3 1 -38 1 8 1 2 1 -1 1 0 1 21 1 -17 1 2 1 1 1 -15 1 -9 1 41 1 -33 1 -3 1 9 1 0 1 4 1 18 1 -44 1 28 1 0 1 1 1 8 1 -13 1 4 1 6 1 -31 1 9 1 33 1 -5 1 -7 1 36 1 -37 1 30 1 -21 1 10 1 -34 1 45 1 -25 1 -20 1 6 1 23 1 -20 1 -2 1 8 1 15 1 -2 1 -21 1 18 1 -31 1 35 1 -20 1 -5 1 47 1 -50 1 -2 1 11 1 -16 1 29 1 -9 1 2 1 2 1 -16 1 20 1 4 1 -9 1 -23 1 34 1 -2 1 -2 1 30 1 -22 1 -7 1 -25 1 35 1 -18 1 4 1 -9 1 11 1 -8 1 7 1 -16 1 13 1 -11 1 -13 1 13 1 -14 1 18 1 27 1 -19 1 4 1 -10 1 -14 1 50 1 -28 1 8 1 -16 1 -25 1 10 1 22 1 9 1 0 1 -6 1 -5 1 6 1 -21 1 2 1 28 1 -22 1 -19 1 18 1 12 1 -21 1 31 1 -9 1 -24 1 36 1 -15 1 1 1 -9 1 -14 1 19 1 -10 1 2 1 45 1 -20 1 -17 1 -10 1 -4 1 8 1 5 1 9 1 -17 1 -23 1 42 1 -10 1 -2 1 5 1 -7 1 -7 1 -1 1 18 1 0 1 -22 1 2" stroke="#ffff00"/>
<path d="M1548 2593l1 0 1 0 1 -1 1 -3 1 -20 1 29 1 -17 1 1 1 2 1 -5 1 10 1 4 1 -21 1 19 1 -9 1 0 1 3 1 8 1 -9 1 -4 1 10 1 15 1 -13 1 -4 1 -1 1 0 1 -8 1 15 1 17 1 -15 1 -15 1 17 1 -9 1 -5 1 1 1 15 1 -5 1 11 1 -18 1 9 1 -17 1 -4 1 -5 1 8 1 1 1 -8 1 27 1 4 1 -36 1 14 1 12 1 -1 1 3 1 -23 1 21 1 3 1 -3 1 -17 1 10 1 -11 1 10 1 17 1 -27 1 16 1 6 1 -1 1 -8 1 2 1 -11 1 16 1 -14 1 17 1 -5 1 -8 1 4 1 -13 1 18 1 2 1 -2 1 1 1 -8 1 1 1 5 1 -21 1 15 1 -3 1 0 1 -2 1 8 1 -9 1 -22 1 13 1 35 1 -28 1 2 1 3 1 10 1 -9 1 2 1 13 1 -21 1 14 1 -3 1 16 1 -18 1 7 1 -20 1 10 1 -3 1 19 1 -8 1 -11 1 -7 1 2 1 -6 1 8 1 8 1 2 1 7 1 -12 1 0 1 3 1 -8 1 19 1 -6 1 -4 1 -8 1 7 1 -18 1 15 1 7 1 -21 1 15 1 6 1 -6 1 6 1 -9 1 -8 1 16 1 -10 1 -5 1 8 1 9 1 -11 1 8 1 -3 1 -1 1 -2 1 -6 1 -4 1 9 1 8 1 10 1 -16 1 6 1 3 1 -2 1 1 1 0 1 -11 1 20 1 -28 1 4 1 -2 1 20 1 -17 1 26 1 -32 1 12 1 9 1 -10 1 -7 1 18 1 -18 1 21 1 -16 1 23 1 -16 1 1 1 -19 1 12 1 -7 1 12 1 -3 1 4 1 1 1 -2 1 9 1 9 1 -9 1 -2 1 0 1 -2 1 4 1 -6 1 2 1 6 1 -11 1 3 1 14 1 -2 1 -24 1 -10 1 8 1 2 1 -4 1 13 1 16 1 -17 1 -4 1 6 1 -6 1 32 1 -23 1 -13 1 -12 1 26 1 8 1 -22 1 8 1 15 1 -19 1 2 1 7 1 3 1 -11 1 14 1 -7 1 1 1 -19 1 11 1 6 1 -13 1 3 1 10 1 -18 1 4 1 7 1 8 1 -16 1 -12 1 24 1 -2 1 3 1 3 1 18 1 -29 1 7 1 8 1 -17 1 2 1 -6 1 12 1 17 1 -17 1 -1 1 -2 1 16 1 -22 1 16 1 -13 1 10 1 12 1 -33" stroke="#ffff00"/>
<path d="M2712 2588l1 9 1 0 1 -15 1 4 1 24 1 -10 1 -16 1 -13 1 -34 1 54 1 0 1 -7 1 15 1 -36 1 13 1 23 1 -19 1 23 1 -10 1 -18 1 9 1 -6 1 -5 1 20 1 1 1 7 1 -22 1 9 1 4 1 -27 1 43 1 -20 1 -15 1 7 1 -1 1 6 1 -6 1 10 1 -2 1 5 1 25 1 -22 1 -20 1 1 1 2 1 3 1 3 1 8 1 3 1 -30 1 9 1 6 1 4 1 4 1 5 1 -13 1 -1 1 -7 1 22 1 -7 1 -3 1 10 1 -14 1 16 1 -5 1 -5 1 12 1 -25 1 7 1 9 1 -1 1 4 1 20 1 17 1 -55 1 3 1 5 1 16 1 -11 1 2 1 0 1 -6 1 20 1 -21 1 6 1 -12 1 12 1 -10 1 3 1 -6 1 30 1 -31 1 18 1 -15 1 10 1 -3 1 -3 1 1 1 11 1 -26 1 8 1 1 1 12 1 -12 1 9 1 14 1 -14 1 22 1 -24 1 5 1 10 1 2 1 -26 1 14 1 18 1 1 1 -8 1 -10 1 6 1 -4 1 -2 1 0 1 0 1 -14 1 5 1 -12 1 15 1 4 1 11 1 8 1 -30 1 -1 1 16 1 1 1 -19 1 -13 1 13 1 20 1 8 1 -8 1 -9 1 5 1 19 1 -17 1 -11 1 -4 1 20 1 -4 1 -15 1 27 1 -10 1 -20 1 17 1 1 1 2 1 1 1 2 1 -4 1 -5 1 -4 1 -8 1 12 1 0 1 6 1 11 1 -14 1 -14 1 2" stroke="#ffff00"/>
<path d="M0 2568l1 31 1 -13 1 -3 1 28 1 -27 1 25 1 -32 1 11 1 5 1 6 1 -11 1 28 1 -20 1 -32 1 -9 1 44 1 -22 1 -16 1 14 1 5 1 0 1 22 1 -14 1 10 1 -23 1 -12 1 40 1 -56 1 51 1 -25 1 55 1 -14 1 -14 1 -21 1 -17 1 -5 1 43 1 -9 1 -30 1 42 1 -9 1 13 1 -24 1 -1 1 24 1 -3 1 -13 1 45 1 -34 1 17 1 -28 1 16 1 9 1 -57 1 18 1 15 1 -19 1 30 1 49 1 -54 1 -1 1 -41 1 52 1 7 1 -56 1 -13 1 3 1 34 1 33 1 -3 1 -1 1 -13 1 11 1 -24 1 -11 1 8 1 19 1 26 1 -41 1 -4 1 2 1 19 1 -43 1 13 1 9 1 32 1 11 1 -20 1 12 1 -51 1 57 1 -68 1 55 1 -38 1 14 1 -1 1 83 1 -96 1 -25 1 26 1 -29 1 47 1 -4 1 -9 1 -18 1 7 1 42 1 -46 1 48 1 -17 1 1 1 -18 1 -43 1 50 1 11 1 1 1 -6 1 0 1 3 1 8 1 -5 1 -18 1 -8 1 44 1 -26 1 -19 1 -5 1 38 1 -36 1 -412 1 419 1 187 1 -162 1 -22 1 10 1 14 1 -14 1 0 1 -19 1 22 1 5 1 2 1 -17 1 5 1 8 1 1 1 -25 1 10 1 -21 1 16 1 43 1 -39 1 -11 1 31 1 -26 1 5 1 16 1 -16 1 -10 1 -7 1 14 1 -38 1 35 1 13 1 0 1 11 1 -20 1 11 1 -11 1 -10 1 -49 1 109 1 -49 1 10 1 3 1 0 1 15 1 -6 1 -2 1 -34 1 37 1 -4 1 12 1 -14 1 5 1 -13 1 9 1 -37 1 27 1 26 1 -15 1 13 1 -17 1 1 1 8 1 20 1 -17 1 -35 1 60 1 -22 1 -23 1 15 1 -26 1 -2 1 19 1 -15 1 -5 1 86 1 -67 1 -6 1 -17 1 18 1 36 1 -23 1 -11 1 31" stroke="#ffdf00"/>
<path d="M1344 2591l1 13 1 -29 1 4 1 -2 1 12 1 -2 1 -6 1 5 1 4 1 22 1 -13 1 -9 1 11 1 13 1 -23 1 1 1 -7 1 21 1 -9 1 -17 1 0 1 11 1 -4 1 25 1 -21 1 3 1 7 1 -4 1 -8 1 0 1 -20 1 34 1 -13 1 13 1 -4 1 2 1 -9 1 0 1 -13 1 16 1 -18 1 19 1 -22 1 8 1 24 1 -34 1 26 1 -12 1 -1 1 11 1 -23 1 8 1 -17 1 22 1 -1 1 15 1 -16 1 -11 1 19 1 0 1 -13 1 12 1 -4 1 7 1 -4 1 -9 1 22 1 -16 1 14 1 -24 1 13 1 9 1 -17 1 14 1 1 1 5 1 -12 1 14 1 -25 1 28 1 -35 1 -12 1 42 1 -32 1 11 1 -17 1 32 1 -2 1 -21 1 15 1 -13 1 3 1 10 1 -2 1 -7 1 -4 1 7 1 -2 1 12 1 -4 1 -4 1 9 1 -11 1 13 1 10 1 -16 1 14 1 -23 1 28 1 -22 1 -20 1 42 1 -27 1 4 1 -12 1 0 1 45 1 -34 1 7 1 -8 1 -13 1 32 1 -22 1 0 1 5 1 3 1 0 1 -3 1 -9 1 27 1 -16 1 -27 1 17 1 3 1 -3 1 5 1 12 1 -26 1 25 1 4 1 -18 1 9 1 -2 1 -4 1 -8 1 9 1 -3 1 -11 1 33 1 -6 1 18 1 -10 1 -37 1 29 1 -24 1 10 1 -10 1 28 1 -7 1 -10 1 -4 1 8 1 1 1 10 1 20 1 -61 1 47 1 -17" stroke="#ffdf00"/>
<path d="M2520 2558l1 31 1 -7 1 12 1 3 1 -26 1 13 1 -8 1 40 1 -34 1 -17 1 -4 1 22 1 4 1 18 1 -42 1 62 1 -37 1 11 1 16 1 -20 1 -18 1 -19 1 28 1 14 1 -26 1 14 1 10 1 -10 1 -14 1 26 1 1 1 -29 1 9 1 13 1 -30 1 7 1 -10 1 40 1 -33 1 15 1 -17 1 -43 1 51 1 11 1 13 1 -12 1 -16 1 -13 1 11 1 32 1 -7 1 -9 1 5 1 5 1 -2 1 12 1 -20 1 -22 1 -14 1 57 1 -22 1 4 1 -14 1 33 1 -24 1 -21 1 44 1 -35 1 27 1 26 1 -44 1 -3 1 8 1 -10 1 21 1 -23 1 22 1 -18 1 -16 1 18 1 9 1 7 1 -33 1 38 1 -11 1 15 1 -23 1 18 1 -15 1 -25 1 9 1 6 1 11 1 8 1 -19 1 10 1 13 1 -34 1 26 1 -4 1 -18 1 24 1 -8 1 2 1 21 1 -16 1 -13 1 23 1 0 1 -3 1 -9 1 -5 1 41 1 -27 1 -29 1 4 1 31 1 -6 1 -28 1 9 1 14 1 -7 1 6 1 -1 1 -20 1 16 1 30 1 -43 1 0 1 17 1 -41 1 22 1 24 1 8 1 -33 1 21 1 -1 1 25 1 -35 1 0 1 23 1 -13 1 -11 1 9 1 -21 1 19 1 10 1 -22 1 28 1 1 1 -11 1 2 1 -26 1 8 1 -11 1 8 1 21 1 -30 1 16 1 1 1 1 1 -11 1 14 1 55 1 -62 1 7 1 -5 1 22 1 -25 1 26 1 -4 1 -15 1 -2 1 -18 1 22 1 35 1 -40 1 38 1 -39 1 -4 1 -2 1 17 1 2 1 -4 1 -27 1 19 1 9 1 34 1 -40 1 -8 1 36 1 -20 1 22 1 -36 1 2 1 -17 1 29 1 2 1 -2 1 15 1 -2 1 -28 1 23 1 -40 1 25 1 -3 1 -3 1 5 1 20 1 -4 1 -12 1 -11 1 20 1 -1 1 -5 1 9 1 -9 1 17 1 -1 1 -34 1 22 1 -10 1 18 1 -4 1 -9 1 0 1 -6 1 12 1 -6 1 10 1 -22 1 21 1 -9 1 2 1 -12 1 6 1 5 1 -12 1 -12 1 10 1 2 1 15 1 -28 1 26 1 -15 1 -8 1 27 1 -6 1 -27 1 43 1 -19 1 -5 1 13 1 0 1 1 1 -11 1 -8 1 10 1 -4 1 -2 1 -5 1 44 1 -25 1 -3 1 -5 1 4 1 -4 1 -19 1 17 1 15 1 -30 1 14 1 13 1 -19 1 15 1 -27 1 15 1 -4 1 16 1 14 1 -25 1 3 1 0 1 4 1 1 1 13 1 -15 1 5 1 17 1 -17 1 0 1 -12 1 13 1 -9 1 20 1 -13 1 23 1 -42 1 14 1 -4 1 21 1 -22 1 -10 1 40 1 -9 1 -26 1 26 1 -19 1 5 1 -4 1 9 1 -21 1 25 1 -8 1 -33 1 20 1 -10 1 18 1 8 1 -6 1 14 1 -18 1 2 1 11 1 -20 1 9 1 -9 1 9 1 -11 1 6 1 1 1 -1 1 7 1 13 1 -29 1 5 1 19 1 14 1 -10 1 -7 1 0 1 -5 1 1 1 -2 1 4 1 8 1 -14 1 5 1 20 1 -17 1 -6 1 18 1 -8 1 -3 1 -15 1 -5 1 24 1 -3 1 -18 1 14" stroke="#ffdf00"/>
<path d="M384 2564l1 23 1 -18 1 22 1 7 1 -20 1 22 1 -25 1 41 1 -18 1 25 1 -24 1 -15 1 15 1 -25 1 6 1 3 1 30 1 -9 1 -4 1 0 1 -15 1 6 1 -9 1 -9 1 34 1 -36 1 5 1 17 1 3 1 2 1 13 1 -32 1 4 1 -29 1 34 1 -14 1 20 1 11 1 -15 1 -10 1 -8 1 10 1 -9 1 15 1 16 1 -16 1 -8 1 19 1 -5 1 19 1 -22 1 -30 1 5 1 29 1 -1 1 -4 1 -18 1 17 1 -4 1 0 1 -27 1 9 1 18 1 28 1 -29 1 -3 1 28 1 -9 1 -2 1 1 1 4 1 -10 1 -9 1 -2 1 -12 1 -5 1 29 1 9 1 -29 1 10 1 -9 1 28 1 -24 1 13 1 -8 1 14 1 3 1 -19 1 12 1 -2 1 -3 1 1 1 16 1 -23 1 -16 1 11 1 13 1 -4 1 10 1 -25 1 18 1 -16 1 16 1 -11 1 8 1 1 1 -14 1 -27 1 65 1 -26 1 6 1 -18 1 38 1 -34 1 3 1 3 1 -11 1 0 1 3 1 10 1 22 1 -39 1 4 1 18 1 -42 1 76 1 -35 1 13 1 -10 1 -4 1 -12 1 14 1 -23 1 5 1 15 1 -21 1 49 1 -58 1 26 1 10 1 3 1 3 1 -23 1 -8 1 17 1 -1 1 -3 1 20 1 -19 1 18 1 -12 1 1 1 -12 1 2 1 -28 1 50 1 -21 1 24 1 -57 1 45 1 -21 1 28 1 -9 1 -3 1 9 1 -10 1 -16 1 15 1 -8 1 14 1 -18 1 15 1 -18 1 41 1 -8 1 -6 1 18 1 -21 1 -4 1 -3 1 3 1 3 1 -7 1 15 1 -38 1 22 1 -12 1 21 1 -11 1 -25 1 33 1 14 1 -15 1 -15 1 -3 1 18 1 22 1 -32 1 6 1 8 1 2 1 6 1 -37 1 45 1 -34 1 -5 1 43 1 -44 1 24 1 4 1 -9 1 -10 1 -12 1 43 1 -52 1 60 1 -38 1 14 1 -36 1 33 1 -17 1 12 1 5 1 11 1 -3 1 13 1 -11 1 -31 1 13 1 4 1 -3 1 -13 1 -11 1 16 1 -1 1 -1 1 3 1 9 1 4 1 -2 1 -5 1 13 1 7 1 1 1 -20 1 26 1 -31 1 -20 1 53 1 -21 1 17 1 -25 1 2 1 8 1 -8 1 -7 1 2 1 28 1 8 1 -14 1 -7 1 -8 1 -5 1 27 1 -6 1 -22 1 -34 1 47 1 -18 1 11 1 -1 1 1 1 -5 1 -9 1 5 1 29 1 -23 1 -4 1 -2 1 8 1 -23 1 -7 1 21 1 -15 1 22 1 -16 1 9 1 3 1 20 1 -28 1 0 1 23 1 14 1 -56 1 24 1 8 1 17 1 -2 1 8 1 -23 1 20 1 12 1 -24 1 0 1 -24 1 19 1 3 1 5 1 -16 1 15 1 1 1 -11 1 -19 1 15 1 -2 1 7 1 15 1 -19 1 19 1 -29 1 22 1 -19 1 0 1 22 1 -32 1 24 1 -5 1 -15 1 27 1 -3 1 -8 1 13 1 30 1 -60 1 0 1 18 1 -6 1 0 1 -2 1 5 1 20 1 -6 1 -11 1 -2 1 -10 1 9 1 3 1 4 1 -10 1 -8 1 6 1 -4 1 0 1 20 1 -8 1 6 1 -11 1 3 1 -18 1 33 1 -4 1 1 1 -12 1 -1 1 7 1 11 1 -19 1 23 1 -33 1 19 1 -14 1 18 1 -17 1 6 1 25 1 -22 1 -15 1 15 1 -14 1 -4 1 27 1 -3 1 -3 1 -7 1 4 1 0 1 0 1 25 1 -6 1 -8 1 -6 1 7 1 5 1 -10 1 -19 1 22 1 -15 1 4 1 -4 1 4 1 3 1 -1 1 -18 1 18 1 -2 1 -22 1 31 1 -5 1 -8 1 -9 1 15 1 -7 1 -2 1 -10 1 27 1 -13 1 -2 1 22 1 1 1 -20 1 -11 1 9 1 41 1 -50 1 1 1 3 1 39 1 -31 1 -4 1 -10 1 -2 1 -1 1 13 1 34 1 -16 1 1 1 -10 1 -8 1 6 1 8 1 -19 1 13 1 -12 1 3 1 -15 1 16 1 -10 1 42 1 -15 1 -23 1 11 1 -25 1 40 1 -16 1 0 1 -14 1 10 1 -14 1 26 1 -5 1 13 1 -8 1 10 1 -24 1 12 1 -43 1 36 1 3 1 10 1 -8 1 15 1 -4 1 -25 1 29 1 -20 1 -8 1 16 1 -5 1 -3 1 -7 1 5 1 11 1 -11 1 -12 1 26 1 -11 1 -4 1 40 1 -45 1 14 1 7 1 -6 1 -11 1 26 1 -12 1 -29 1 36 1 -14 1 0 1 -2 1 12 1 -3 1 2 1 -16 1 4 1 18 1 -29 1 -13 1 24 1 -1 1 -9 1 2 1 18 1 -31 1 31 1 -14 1 6 1 1 1 21 1 -11 1 -16 1 13 1 -34 1 11 1 13 1 7 1 -14 1 14 1 -5 1 18 1 -8 1 16 1 -35 1 7 1 -36 1 33 1 -4 1 1 1 13 1 -1 1 -18 1 1 1 25 1 -28 1 17 1 -1 1 6 1 -9 1 23 1 -17 1 2 1 13" stroke="#ffbf00"/>
<path d="M2124 2588l1 -10 1 4 1 -2 1 20 1 -14 1 -7 1 21 1 -10 1 -3 1 3 1 1 1 77 1 -87 1 9 1 14 1 -11 1 -11 1 15 1 -23 1 17 1 -23 1 10 1 9 1 4 1 -4 1 -17 1 26 1 -1 1 -30 1 7 1 23 1 -7 1 6 1 -23 1 22 1 -88 1 72 1 11 1 11 1 -18 1 5 1 -16 1 33 1 -4 1 -17 1 -3 1 -7 1 9 1 -13 1 31 1 -37 1 54 1 -37 1 17 1 -13 1 5 1 -9 1 29 1 -22 1 -13 1 -6 1 16 1 13 1 -41 1 45 1 -20 1 21 1 -17 1 9 1 -5 1 -27 1 20 1 11 1 -24 1 18 1 5 1 -21 1 29 1 -14 1 9 1 -30 1 60 1 -38 1 11 1 -16 1 37 1 -17 1 -33 1 18 1 -6 1 11 1 1 1 -6 1 -85 1 99 1 -55" stroke="#ffbf00"/>
<path d="M696 2601l1 11 1 -49 1 10 1 3 1 -7 1 37 1 -16 1 -2 1 -9 1 -1 1 33 1 -32 1 9 1 1 1 -14 1 1 1 -17 1 19 1 12 1 14 1 -4 1 -29 1 2 1 2 1 -10 1 18 1 9 1 -34 1 54 1 -2 1 15 1 -15 1 -12 1 -2 1 0 1 -24 1 27 1 -25 1 42 1 -25 1 8 1 5 1 -34 1 -14 1 33 1 -7 1 15 1 -10 1 22 1 -25 1 1 1 9 1 -17 1 15 1 33 1 -19 1 -7 1 -32 1 33 1 -16 1 3 1 -6 1 23 1 -45 1 35 1 -9 1 13 1 -6 1 -3 1 -3 1 -13 1 -11 1 7 1 21 1 -20 1 26 1 -1 1 -26 1 -8 1 39 1 2 1 -8 1 -2 1 7 1 -16 1 -12 1 33 1 -9 1 -16 1 16 1 -43 1 54 1 -17 1 -6 1 7 1 20 1 -11 1 -5 1 4 1 -19 1 6 1 -2 1 -6 1 -2 1 15 1 -12 1 -16 1 38 1 -22 1 -15 1 29 1 -9 1 -11 1 42 1 -15 1 -33 1 19 1 5 1 15 1 -2 1 -14 1 -14 1 18 1 2 1 -29 1 31 1 -18 1 -12 1 -1 1 31 1 -22 1 22 1 -18 1 8 1 12 1 -5 1 -18 1 -8 1 17 1 -1 1 14 1 2 1 -5 1 -21 1 -7 1 22 1 -9 1 -9 1 7 1 1 1 12 1 9 1 -28 1 16 1 5 1 7 1 -25 1 -8 1 11 1 -8 1 32 1 0 1 -10 1 -1 1 5 1 10 1 -2 1 -17 1 -11 1 17 1 -24 1 11 1 5 1 -5 1 22 1 -18 1 -5 1 -5 1 12 1 -24 1 37 1 -1 1 5 1 -23 1 -27 1 27 1 21 1 -9 1 -5 1 3 1 -5 1 8 1 -5 1 6 1 8 1 -33 1 7 1 1 1 -6 1 31 1 5 1 -15 1 -18 1 -1 1 17 1 -21 1 14 1 9 1 0 1 -19 1 -2 1 10 1 28 1 -16 1 4 1 -5 1 -1 1 -20 1 20 1 -34 1 8 1 10 1 16 1 3 1 -19 1 23 1 -12 1 16 1 -51 1 45 1 -22 1 32 1 -37 1 18 1 -11 1 0 1 22 1 -23 1 26 1 -5 1 -11 1 33 1 -58 1 29 1 -20 1 17 1 10 1 2 1 -34 1 1 1 20 1 26 1 -35 1 -8 1 -1 1 19 1 -7 1 3 1 29 1 -37 1 -5 1 3 1 10 1 -8 1 -15 1 45 1 6 1 -18 1 -17 1 10 1 -9 1 9 1 13 1 11 1 -27 1 -17 1 23 1 9 1 -23 1 61 1 -63 1 -11 1 34 1 -11 1 5 1 5 1 -2 1 -9 1 23 1 -20 1 -16 1 32 1 -26 1 14 1 -13 1 21 1 0 1 -12 1 5 1 -14 1 -3 1 26 1 -19 1 -30 1 32 1 23 1 2 1 -8 1 -20 1 6 1 -2 1 -11 1 14 1 -8 1 54 1 -34 1 -1 1 -17 1 22 1 -16 1 -28 1 19 1 16 1 -4 1 4 1 -3 1 18 1 -40 1 27 1 -8 1 7 1 -26 1 5 1 15 1 -6 1 34 1 -15 1 -13 1 -4 1 22 1 -13 1 0 1 -34 1 46 1 -17 1 9 1 -23 1 15 1 -5 1 12 1 -2 1 5 1 -5 1 -20 1 16 1 -24 1 20 1 -1 1 -27 1 14 1 -9 1 25 1 4 1 -5 1 -1 1 3 1 -13 1 7 1 12 1 10 1 -27 1 5 1 -9 1 9 1 7 1 4 1 -13 1 -4 1 26 1 -4 1 -16 1 7 1 -3 1 7 1 -17 1 -13 1 31 1 4 1 -11 1 -14 1 4 1 4 1 20 1 -19 1 3 1 14 1 -9 1 -2 1 4 1 -2 1 -7 1 13 1 -16 1 0 1 4 1 -3 1 -3 1 0 1 -6 1 19 1 -19 1 5 1 -2 1 -10 1 10 1 45 1 -38 1 11 1 -15 1 -25 1 -1 1 24 1 2 1 9 1 -1 1 -20 1 6 1 19 1 -20 1 31 1 -30 1 14 1 -12 1 -4 1 18 1 -7 1 -7 1 21 1 0 1 3 1 -41 1 14 1 11 1 -6 1 8 1 -18 1 27 1 -12 1 13 1 -12 1 12 1 -26 1 15 1 20 1 -23 1 10 1 24 1 -13 1 -15 1 10 1 -17 1 4 1 5 1 3 1 -1 1 12 1 -22 1 -2 1 5 1 5 1 -31 1 26 1 -19 1 37 1 -15 1 -2 1 13 1 -24 1 13 1 3 1 -10 1 12 1 -17 1 20 1 -23 1 27 1 -23 1 24 1 4 1 -26 1 16 1 12 1 -26 1 28 1 -41 1 11 1 15 1 -16 1 12 1 8 1 -32 1 9 1 9 1 13 1 -4 1 -3 1 8 1 6 1 -23 1 -17 1 32 1 7 1 -11 1 -5 1 2 1 19 1 -14 1 -23 1 39 1 -23 1 -10 1 -4 1 27 1 3 1 -20 1 -11 1 8 1 3 1 -1 1 -2 1 17 1 -15 1 4 1 -2 1 21 1 -2 1 -37 1 45 1 -5 1 -14 1 0 1 -7 1 2 1 26 1 4 1 -18 1 -14 1 -33 1 44 1 -6 1 -12 1 11 1 17 1 -10 1 -9 1 3 1 2 1 13 1 6 1 -26 1 23 1 -4 1 -12 1 -13" stroke="#ff9f00"/>
<path d="M2388 2561l1 22 1 -26 1 79 1 21 1 -16 1 -35 1 -79 1 -492 1 552 1 150 1 -115 1 -12 1 1 1 202 1 -255 1 -8 1 -8 1 76 1 -23 1 -1 1 20 1 -3 1 -36 1 -93 1 72 1 24 1 32 1 0 1 -59 1 27 1 -96 1 95 1 -28 1 25 1 27 1 44 1 -45 1 19 1 -19 1 -43 1 0 1 27 1 32 1 -64 1 9 1 26 1 28 1 -56 1 50 1 -23 1 -5 1 -18 1 17 1 10 1 -5 1 -28 1 77 1 -45 1 6 1 -6 1 -40 1 29 1 3 1 28 1 -29 1 -27 1 28 1 24 1 -42 1 -14 1 65 1 0 1 -23 1 -56 1 84 1 5 1 12 1 0 1 -32 1 3 1 -63 1 60 1 24 1 -23 1 75 1 -78 1 -10 1 -73 1 21 1 47 1 -23 1 12 1 24 1 -28 1 33 1 -30 1 -28 1 39 1 -5 1 -9 1 -16 1 67 1 -92 1 118 1 -66 1 21 1 -32 1 15 1 58 1 -72 1 -23 1 79 1 -47 1 -88 1 92 1 24 1 -16 1 1 1 25 1 -46 1 19 1 -50 1 47 1 35 1 -103 1 169 1 -145 1 33 1 42 1 -70 1 -19 1 94 1 -57 1 49 1 -31 1 -29 1 65 1 -21 1 -44 1 39 1 14 1 -20 1 5 1 17 1 -20 1 18 1 17 1 -37 1 5 1 -1 1 -4 1 -11 1 58 1 -69 1 -30 1 -7 1 -12 1 99 1 -48 1 -2 1 -7 1 -68 1 104 1 -2 1 3 1 -11 1 -7 1 44" stroke="#ff9f00"/>
<path d="M336 2608l1 -29 1 -13 1 8 1 13 1 9 1 -29 1 17 1 -9 1 30 1 -37 1 10 1 8 1 15 1 -1 1 -22 1 4 1 9 1 2 1 -10 1 4 1 -4 1 -22 1 -6 1 35 1 -27 1 1 1 20 1 1 1 -23 1 21 1 -3 1 -19 1 45 1 -50 1 17 1 13 1 14 1 -21 1 5 1 8 1 -4 1 -19 1 1 1 37 1 -36 1 11 1 16 1 -16 1 -4 1 16 1 25 1 -25 1 -32 1 31 1 -5 1 5 1 -20 1 12 1 39 1 -30 1 12 1 -20 1 12 1 9 1 -9 1 -25 1 19 1 15 1 -14 1 10 1 -4 1 2 1 -5 1 -11 1 22 1 12 1 -33 1 6 1 0 1 -4 1 -4 1 19 1 16 1 -50 1 13 1 -8 1 36 1 -140 1 131 1 0 1 9 1 46 1 -24 1 -47 1 8 1 17 1 -26 1 -8 1 -12 1 5 1 10 1 13 1 -47 1 10 1 50 1 -6 1 1 1 1 1 -19 1 42 1 -48 1 -4 1 2 1 26 1 2 1 -23 1 26 1 -13 1 -21 1 -34 1 64 1 -18 1 -18 1 27 1 30 1 -52 1 -16 1 -17 1 34 1 -13 1 28 1 19 1 -38 1 49 1 -7 1 4 1 -41 1 40 1 -45 1 37 1 -22 1 15 1 4 1 -30 1 40 1 -16 1 -16 1 -11 1 19 1 -24 1 9 1 24 1 -16 1 17 1 -6 1 2 1 10 1 2 1 -2 1 -48 1 36 1 13 1 -15 1 -12 1 -1 1 -22 1 60 1 13 1 -46 1 -1 1 8 1 1 1 -25 1 24 1 -41 1 37 1 7 1 -1 1 21 1 -14 1 -40 1 54 1 -19 1 32 1 -28 1 -34 1 50 1 -19 1 2 1 -10 1 34 1 -39 1 27 1 -16 1 -18 1 53 1 -43 1 21 1 -2 1 -9 1 6 1 4 1 21 1 -66" stroke="#ff8000"/>
<path d="M1680 2579l1 8 1 -8 1 4 1 -22 1 45 1 -49 1 29 1 -4 1 -11 1 15 1 2 1 -9 1 13 1 -6 1 -15 1 28 1 5 1 -17 1 -7 1 -1 1 1 1 8 1 13 1 -32 1 15 1 1 1 9 1 -8 1 11 1 -1 1 -2 1 -15 1 -3 1 -26 1 18 1 31 1 -10 1 19 1 -2 1 -5 1 -13 1 -6 1 -1 1 -21 1 30 1 3 1 -21 1 3 1 9 1 12 1 2 1 -41 1 21 1 -2 1 26 1 -3 1 -7 1 -5 1 -3 1 -2 1 7 1 -1 1 22 1 -35 1 36 1 6 1 -37 1 3 1 -6 1 0 1 -3 1 13 1 -12 1 25 1 -22 1 13 1 -28 1 15 1 2 1 18 1 2 1 -16 1 -5 1 -5 1 11 1 11 1 -10 1 -15 1 10 1 19 1 -24 1 -16 1 47 1 3 1 -31 1 -8 1 15 1 -13 1 11 1 -23 1 15 1 20 1 -19 1 5 1 13 1 -27 1 20 1 3 1 7 1 9 1 -9 1 32 1 -48 1 15 1 -20 1 3 1 3 1 18 1 -24 1 10 1 -21 1 22 1 -30 1 20 1 -1 1 6 1 9 1 6 1 12 1 -32 1 12 1 1 1 -11 1 3 1 24 1 -36 1 -11 1 27 1 12 1 -37 1 9 1 13 1 -6 1 -4 1 13 1 15 1 -14 1 14 1 -25 1 -14 1 17 1 5 1 8 1 -19 1 42 1 -45 1 21 1 -11 1 -1 1 -6 1 14 1 10 1 -3 1 4 1 -17 1 8 1 -7 1 -8 1 -4 1 -7 1 3 1 10 1 6 1 4 1 7 1 -3 1 -6 1 -20 1 21 1 8 1 -14 1 -5 1 -18 1 18 1 9 1 4 1 -11 1 4 1 30 1 -33 1 -10 1 43 1 -31 1 0 1 7 1 -9 1 9 1 -25 1 33 1 -12 1 8 1 -1 1 -16 1 27 1 -20 1 9 1 20 1 -56 1 34 1 -4 1 -9 1 17 1 -8 1 10 1 -25 1 36 1 -39 1 10 1 18 1 -17 1 20 1 3 1 0 1 -7 1 5 1 25 1 -28 1 -4 1 4 1 -6 1 -14 1 24 1 -2 1 -10 1 17 1 -3 1 -21 1 -18 1 9 1 31 1 -29 1 24 1 -9 1 5 1 -35 1 33 1 -35 1 36 1 15 1 -8 1 -15 1 -1 1 3 1 4 1 -7 1 -9 1 20 1 1 1 -13 1 -8 1 -6 1 62 1 -57 1 14 1 -8 1 1 1 6 1 -5 1 -14 1 38 1 -39 1 28 1 27 1 -35 1 20 1 -41 1 1 1 15 1 -2 1 -3 1 16 1 -25 1 20 1 7 1 16 1 -17 1 -14 1 5 1 10 1 -3 1 -2 1 -21 1 38 1 -27 1 18 1 1 1 -3 1 -6 1 46 1 -34 1 4 1 -13 1 -1 1 0 1 -8 1 6 1 0 1 -8 1 -4 1 12 1 -10 1 2 1 -8 1 24 1 -8 1 9 1 -4 1 10 1 -25 1 0 1 9 1 3 1 -18 1 13 1 -3 1 10 1 17 1 -13 1 -23 1 21 1 -2 1 -9 1 -26 1 38 1 -23 1 13 1 -11 1 -15 1 47 1 -52 1 45 1 -39 1 23 1 -11 1 2 1 15 1 7 1 -19 1 15 1 -2 1 -8 1 2 1 14 1 -2 1 -20 1 22 1 -10 1 6 1 -33 1 18 1 24 1 -14 1 -9 1 27 1 -6 1 -9 1 -12 1 -4 1 6 1 23 1 -29 1 9 1 11 1 -22 1 27 1 -16 1 -19 1 25 1 -15 1 24 1 -8 1 6 1 -20 1 -4 1 17 1 -28 1 18 1 18 1 -25 1 18 1 16 1 -37 1 21 1 -1 1 -21 1 10 1 -2 1 20 1 -15 1 14 1 -44 1 61 1 -32 1 2 1 -5 1 -10 1 2 1 22 1 -1 1 -13 1 16 1 -23 1 15 1 15 1 -22 1 19 1 -15 1 -19 1 12 1 -4 1 11 1 6 1 -31 1 31 1 4 1 15 1 -11 1 -2 1 -21 1 27 1 -23 1 -5 1 9 1 10 1 -27 1 -16 1 47 1 0 1 -5 1 -8 1 0 1 0 1 10 1 -14 1 18 1 -15 1 4 1 11 1 -40 1 38 1 -7 1 -5 1 18 1 -6 1 7 1 -12 1 -11 1 10 1 1 1 0 1 -16 1 19 1 -9 1 4 1 19 1 -25 1 6 1 1 1 0 1 -4 1 -22 1 27 1 2 1 8 1 -39 1 3 1 0 1 26 1 -17 1 27" stroke="#ff8000"/>
<path d="M840 2576l1 16 1 -13 1 11 1 -14 1 16 1 -25 1 5 1 21 1 -7 1 4 1 -11 1 20 1 10 1 -22 1 16 1 -15 1 -1 1 0 1 15 1 -10 1 -5 1 0 1 -27 1 16 1 -7 1 11 1 38 1 -32 1 5 1 -1 1 -4 1 -4 1 13 1 -10 1 0 1 5 1 -18 1 21 1 -18 1 15 1 -4 1 15 1 -11 1 -12 1 28 1 -11 1 -6 1 6 1 -16 1 -17 1 27 1 -2 1 4 1 -14 1 6 1 -8 1 -3 1 1 1 15 1 2 1 4 1 11 1 -38 1 24 1 -10 1 -1 1 -3 1 5 1 5 1 -17 1 6 1 13 1 6 1 -1 1 -14 1 8 1 -8 1 21 1 -22 1 10 1 -3 1 -9 1 8 1 -1 1 5 1 1 1 -18 1 -1 1 14 1 10 1 9 1 -7 1 1 1 -2 1 3 1 -6 1 -5 1 -16 1 -2 1 0 1 7 1 1 1 -6 1 12 1 5 1 -30 1 23 1 3 1 -26 1 25 1 -7 1 9 1 -9 1 -14 1 20 1 8 1 1 1 -22 1 8 1 0 1 -5 1 36 1 -20 1 -4 1 9 1 -7 1 4 1 -9 1 5 1 1 1 -5 1 -5 1 -1 1 19 1 23 1 -28 1 1 1 9 1 -7 1 -8 1 3 1 0 1 0 1 -7" stroke="#ff6000"/>
<path d="M2028 2587l1 8 1 -5 1 -14 1 12 1 13 1 -26 1 -4 1 31 1 -14 1 3 1 6 1 -7 1 -3 1 1 1 5 1 1 1 -3 1 -5 1 3 1 -17 1 8 1 4 1 -14 1 40 1 -25 1 8 1 -24 1 9 1 -9 1 6 1 14 1 -12 1 0 1 11 1 6 1 -20 1 13 1 4 1 3 1 16 1 -21 1 5 1 -13 1 -3 1 15 1 -15 1 -9 1 34 1 -37 1 26 1 6 1 -28 1 4 1 18 1 -12 1 15 1 -18 1 13 1 0 1 -2 1 7 1 2 1 -23 1 19 1 -4 1 -4 1 4 1 -4 1 -3 1 11 1 -6 1 14 1 -28 1 14 1 12 1 -15 1 8 1 -5 1 12 1 -3 1 -22 1 22 1 -9 1 -10 1 -9 1 42 1 -22 1 5 1 -17 1 16 1 -3 1 -2 1 18 1 -33 1 14 1 -2 1 5 1 -4 1 -9 1 -1 1 10 1 12 1 -2 1 -22 1 11 1 5 1 -15 1 1 1 10 1 16 1 3 1 -10 1 -24 1 20 1 -30 1 13 1 10 1 -4 1 -7 1 17 1 -17 1 7 1 -12 1 12 1 2 1 16 1 1 1 -18 1 3 1 16 1 -16 1 1 1 0 1 7 1 7 1 -3 1 -14 1 30 1 -45 1 31 1 -7 1 6 1 3 1 -4 1 -5 1 -1 1 7 1 -15 1 -1 1 27 1 -38 1 0 1 20 1 16 1 -24 1 22 1 -15 1 2 1 3 1 -3 1 -11 1 4 1 -16 1 27 1 -22 1 15 1 -10 1 7 1 0 1 14 1 14 1 -34 1 27 1 -21 1 2 1 -12 1 17 1 37 1 -67 1 17 1 13 1 -29 1 26 1 -12 1 -21 1 -4 1 31 1 -13 1 21 1 1 1 25 1 -39 1 19 1 5 1 0 1 -30 1 -9 1 55 1 50 1 -100 1 40 1 20 1 -38 1 -16 1 -4 1 43 1 -30 1 14 1 5 1 14 1 -21 1 3 1 -33 1 6 1 50 1 -53 1 1 1 15 1 19 1 -5 1 -28 1 30 1 -39 1 -10 1 35 1 21 1 -12 1 -9 1 -13 1 43 1 -43 1 4 1 -27 1 4 1 26 1 18 1 2 1 0 1 -4 1 -27 1 -25 1 46 1 22 1 -28 1 45 1 -76 1 77 1 -42 1 7 1 -17 1 37 1 -50 1 -3 1 4 1 38 1 -53 1 58 1 -161 1 137 1 -5 1 4 1 27 1 -41 1 122 1 -111 1 0 1 -1 1 -28 1 47 1 -6 1 6 1 -42 1 1 1 59 1 -6 1 -30 1 25 1 -77 1 72 1 -24 1 -18 1 78 1 -113 1 33 1 21 1 33 1 -70 1 48 1 -6 1 21 1 -58 1 15 1 11 1 24 1 212 1 -229 1 -4 1 -324 1 346 1 7 1 -18 1 -30 1 53 1 -7 1 -13 1 -3 1 32 1 -83 1 8 1 106 1 -16 1 -27 1 45 1 -27 1 -63 1 70 1 -11 1 -41 1 -18 1 71 1 -21 1 -69 1 86 1 -82 1 47 1 -60 1 56 1 21 1 -21 1 -75 1 94 1 -23 1 -59 1 34 1 81 1 -5 1 -64 1 7 1 -2 1 -22 1 43 1 -46 1 20 1 -1 1 -9 1 -3 1 25 1 -6 1 24 1 -23 1 47 1 -50 1 31 1 -28 1 28 1 28 1 2 1 -92 1 57 1 -53 1 35 1 -20 1 -16 1 43 1 -10 1 5 1 1 1 0 1 19 1 21 1 -44 1 -494 1 533 1 139 1 -173 1 -27 1 69 1 -65 1 -2 1 26 1 -22 1 21 1 33 1 -51 1 84 1 -66 1 -13 1 -16 1 38 1 61 1 -114 1 46 1 -5 1 -4 1 17 1 7 1 48 1 -52 1 -3 1 -10 1 -12 1 -12 1 12 1 -27 1 37 1 -39 1 61 1 -3 1 -18 1 -19 1 -1 1 30 1 -27 1 3 1 27 1 -3 1 -9 1 -20 1 -16 1 14 1 28 1 -13 1 41 1 -21 1 -31 1 43 1 -26 1 7 1 -6 1 -4 1 4 1 -2 1 -65 1 55 1 -8 1 26 1 9 1 -44 1 11 1 37 1 -13 1 -16 1 31 1 9 1 -57 1 15 1 20 1 -23 1 -3 1 1 1 5 1 11 1 -3 1 -23 1 24 1 1 1 5 1 -4 1 5 1 -19 1 24 1 -2 1 28 1 -34 1 7 1 10 1 19 1 -34 1 9 1 4 1 -26 1 35 1 -29 1 0 1 -6 1 -12 1 30 1 2 1 -6 1 2 1 7 1 -3 1 -2 1 26 1 -48 1 18 1 -7 1 0 1 -7 1 2 1 10 1 -6 1 -38 1 40 1 15 1 -34 1 14 1 -17 1 28 1 -37 1 72 1 -51 1 -10 1 28 1 -15 1 17 1 1 1 16 1 -21 1 -12 1 8 1 -6 1 -2 1 26 1 -22 1 -10 1 6 1 8 1 6 1 6 1 -9 1 -19 1 17 1 15 1 -28 1 13 1 6 1 -11 1 5 1 -7 1 -10 1 32 1 -18 1 -19 1 -5 1 28 1 5 1 6 1 7 1 -11" stroke="#ff6000"/>
<path d="M948 2572l1 23 1 -4 1 4 1 1 1 -19 1 1 1 -2 1 8 1 11 1 -13 1 -7 1 3 1 17 1 11 1 -19 1 14 1 -11 1 -25 1 16 1 0 1 -15 1 13 1 -4 1 10 1 9 1 -17 1 5 1 18 1 -18 1 8 1 1 1 -16 1 4 1 12 1 -11 1 5 1 -5 1 -4 1 19 1 12 1 -56 1 41 1 -13 1 2 1 13 1 -14 1 14 1 11 1 13 1 -31 1 15 1 -8 1 5 1 -37 1 9 1 -6 1 30 1 -18 1 21 1 -30 1 27 1 -17 1 -10 1 8 1 6 1 -1 1 -6 1 59 1 -41 1 -3 1 21 1 -33 1 5 1 -20 1 24 1 -1 1 -3 1 -4 1 11 1 -15 1 -8 1 27 1 -23 1 16 1 7 1 -12 1 -6 1 18 1 -12 1 -24 1 15 1 -12 1 42 1 -4 1 -20 1 16 1 3 1 -3 1 -38 1 43 1 2 1 6 1 -40 1 16 1 26 1 -36 1 11 1 12 1 -28 1 21 1 -29 1 30 1 -20 1 7 1 6 1 8 1 -3 1 28 1 -47 1 57 1 -55 1 35 1 -30 1 12 1 -2 1 14 1 -29 1 -4 1 18 1 -14 1 27 1 -17 1 -8 1 17 1 8 1 13 1 -17 1 9 1 -11 1 3 1 -5 1 -6 1 27 1 -37 1 2 1 2 1 22 1 -8 1 9 1 -26 1 -12 1 31 1 -15 1 -2 1 19 1 -11 1 -12 1 8 1 -7 1 25 1 -6 1 -28 1 34 1 0 1 -9 1 5 1 -7 1 -13 1 -20 1 28 1 12 1 -14 1 2 1 -20 1 43 1 -30 1 19 1 -18 1 -9 1 41 1 -27 1 4 1 23 1 -39 1 26 1 -17 1 18 1 11 1 -47 1 28 1 -25 1 29 1 -9 1 -4 1 14 1 -4 1 0 1 -10 1 -4 1 16 1 8 1 -43 1 5 1 39 1 -7 1 5 1 -23 1 13 1 -2 1 -12 1 16 1 -7 1 -1 1 24 1 -16 1 -3 1 -12 1 -7 1 20 1 -8 1 3 1 -16 1 -9 1 31 1 1 1 6 1 -18 1 -6 1 7 1 2 1 17 1 -37 1 25 1 7 1 -2 1 -4 1 -10 1 14 1 -6 1 -12 1 -13 1 1 1 44 1 -21 1 -15 1 13 1 -4 1 5 1 -8 1 19 1 -14 1 -11 1 20 1 7 1 -21 1 22 1 3 1 -20 1 13 1 -32 1 27 1 -26 1 3 1 6" stroke="#ff4000"/>
<path d="M2556 2560l1 26 1 19 1 -38 1 -14 1 53 1 21 1 -28 1 -12 1 -9 1 16 1 -5 1 -7 1 -23 1 41 1 -24 1 4 1 -19 1 32 1 -36 1 4 1 29 1 -52 1 65 1 15 1 -45 1 43 1 -53 1 55 1 -22 1 -9 1 0 1 9 1 11 1 24 1 -60 1 10 1 9 1 -17 1 35 1 -8 1 -6 1 -28 1 18 1 28 1 -28 1 10 1 -42 1 4 1 45 1 -15 1 -29 1 33 1 -24 1 18 1 -5 1 30 1 -8 1 -1 1 -12 1 4 1 20 1 -8 1 -18 1 12 1 6 1 -1 1 -17 1 2 1 -21 1 47 1 -17 1 -23 1 22 1 6 1 -24 1 17 1 -32 1 24 1 16 1 -22 1 15 1 -25 1 8 1 24 1 -13 1 10 1 -18 1 19 1 -23 1 31 1 -40 1 42 1 -66 1 32 1 18 1 -33 1 24 1 4 1 -12 1 9 1 21 1 -37 1 -23 1 27 1 26 1 -13 1 -10 1 6 1 153 1 -136 1 -12 1 -19 1 -2 1 11 1 23 1 1 1 10 1 -24 1 4 1 -19 1 5 1 27 1 -31 1 33 1 -44 1 37 1 -15 1 14 1 -9 1 -2 1 -4 1 3 1 -12 1 -14 1 37 1 9 1 -3 1 5 1 -23 1 -25 1 9 1 18 1 15 1 -8 1 8 1 -12 1 9 1 12 1 -26 1 -10 1 8 1 7 1 10 1 -6 1 -16 1 13 1 -15 1 14 1 -10 1 23 1 -11 1 -23 1 35 1 -18 1 2 1 1 1 -11 1 12 1 -28 1 5 1 10 1 10 1 27 1 -32 1 43 1 -10 1 -33 1 -10 1 13 1 -3 1 2 1 9 1 -10 1 14 1 -9 1 -11 1 9 1 -26 1 22 1 7 1 -16 1 15 1 5 1 -3 1 -11 1 -7 1 25 1 2 1 -5 1 -6 1 -13 1 30 1 -14 1 18 1 -19 1 -7 1 1 1 -1 1 9 1 11 1 -33 1 12 1 14 1 -18 1 -13 1 7 1 3 1 -14 1 19 1 28 1 -21 1 10 1 -18 1 -8 1 11 1 26 1 -6 1 -20 1 -4 1 6 1 -5 1 -16 1 8 1 -3 1 4 1 9 1 -15 1 24 1 -18 1 11 1 11 1 -16 1 13 1 19 1 26 1 -52 1 -1 1 -5 1 16 1 -7 1 3 1 -4 1 12 1 -26 1 -8 1 -1 1 19 1 30 1 -16 1 10 1 -34 1 18 1 -8 1 31 1 -18 1 11 1 -15 1 -34 1 41 1 -11 1 -18 1 36 1 -12 1 -3 1 -11 1 4 1 -14 1 13 1 -3 1 -7 1 38 1 -30 1 -2 1 0 1 19 1 -18 1 15 1 -43 1 21 1 7 1 -8 1 -1 1 13 1 -4 1 -14 1 22 1 -5 1 9 1 4 1 -6 1 -20 1 1 1 -8 1 18 1 3 1 1 1 -16 1 20 1 -19 1 28 1 -48 1 42 1 -24 1 -7 1 20 1 16 1 9 1 -22 1 -19 1 30 1 -20 1 -17 1 48 1 -30" stroke="#ff4000"/>
<path d="M0 2542l1 55 1 -39 1 -1 1 47 1 -9 1 -9 1 13 1 -24 1 7 1 23 1 -4 1 -12 1 -27 1 56 1 -38 1 11 1 6 1 35 1 -72 1 39 1 -6 1 57 1 -60 1 -11 1 -8 1 -16 1 36 1 -5 1 6 1 20 1 -67 1 55 1 -47 1 37 1 -16 1 -3 1 5 1 -23 1 12 1 49 1 -36 1 15 1 21 1 -23 1 -5 1 -2 1 -8 1 9 1 5 1 19 1 2 1 -60 1 23 1 17 1 -30 1 39 1 -11 1 -22 1 24 1 13 1 -10 1 -29 1 -1 1 10 1 17 1 -1 1 -5 1 -3 1 -19 1 30 1 -39 1 22 1 13 1 24 1 -31 1 -2 1 -14 1 -24 1 1 1 29 1 -32 1 47 1 -30 1 43 1 -21 1 20 1 -10 1 15 1 -17 1 26 1 -48 1 23 1 -31 1 40 1 7 1 -10 1 -12 1 15 1 -58 1 15 1 108 1 -74 1 10 1 2 1 42 1 -90 1 16 1 -8 1 43 1 42 1 -37 1 -68 1 75 1 -15 1 67 1 -13 1 -76 1 15 1 -157 1 125 1 38 1 24 1 -67 1 -1 1 44 1 6 1 -35 1 -227 1 298 1 108 1 -140 1 -48 1 7 1 20 1 54 1 -18 1 -36 1 -12 1 30 1 -38 1 37 1 -10 1 -13 1 -181 1 241 1 -64 1 -29 1 36 1 9 1 -6 1 26 1 -26 1 31 1 118 1 -151 1 -31 1 -40 1 81 1 -31 1 41 1 -7 1 20 1 -20 1 3 1 -36 1 42 1 15 1 -21 1 14 1 -49 1 30 1 -42 1 -44 1 44 1 61 1 -31 1 21 1 -38 1 8 1 20 1 -28 1 36 1 -11 1 -40 1 60 1 -69 1 18 1 5 1 102 1 -56 1 13 1 4 1 -49 1 0 1 16 1 -36 1 24 1 69 1 -82 1 23 1 11 1 -52 1 73 1 -33 1 32 1 -35 1 -30 1 -12 1 15 1 4 1 -23 1 26 1 12 1 -17 1 31 1 6 1 -62 1 65 1 0 1 -24 1 -28 1 3 1 50 1 -2 1 -55 1 40 1 -13 1 16 1 -16 1 22 1 -28 1 42 1 -50 1 13 1 28 1 -24 1 17 1 -8 1 12 1 -39 1 43 1 -10 1 -4 1 12 1 -40 1 30 1 -25 1 39 1 -19 1 10 1 -33 1 15 1 -45 1 33 1 -23 1 54 1 -13 1 -25 1 16 1 -11 1 23 1 -2 1 32 1 -77 1 32 1 23 1 -13 1 2 1 5 1 -33 1 11 1 7 1 18 1 -20 1 39 1 -13 1 -4 1 -3 1 -21 1 2 1 24 1 -37 1 23 1 10 1 -32 1 50 1 -38 1 12 1 10 1 -29 1 14 1 13 1 19 1 -2 1 -4 1 -32 1 2 1 20 1 7 1 -35 1 10 1 14 1 -14 1 22 1 -25 1 9 1 7 1 5 1 -10 1 -42 1 59 1 -62 1 45 1 14 1 -9 1 0 1 34 1 -11 1 -5 1 -10 1 -24 1 27 1 -23 1 14 1 2 1 -5 1 -1 1 -25 1 27 1 7 1 -4 1 -12 1 -7 1 10 1 14 1 -10 1 -10 1 -3 1 26 1 7 1 -14 1 -9 1 14 1 -5 1 4 1 -15 1 2 1 -16" stroke="#ff2000"/>
<path d="M1332 2593l1 -11 1 18 1 -20 1 4 1 -4 1 37 1 -32 1 3 1 -23 1 43 1 -43 1 12 1 21 1 -13 1 -15 1 -11 1 24 1 11 1 4 1 -16 1 -20 1 29 1 -10 1 -8 1 16 1 7 1 -4 1 8 1 9 1 4 1 -14 1 -12 1 -20 1 -3 1 4 1 31 1 -36 1 14 1 12 1 5 1 -15 1 18 1 -8 1 -16 1 15 1 6 1 6 1 -17 1 18 1 -15 1 -2 1 14 1 -19 1 7 1 11 1 -21 1 26 1 -26 1 6 1 1 1 34 1 -47 1 15 1 19 1 -26 1 13 1 6 1 -27 1 18 1 -24 1 18 1 9 1 8 1 2 1 -3 1 -20 1 21 1 -22 1 12 1 -8 1 2 1 -11 1 23 1 1 1 -14 1 -4 1 13 1 -21 1 22 1 -4 1 -15 1 18 1 5 1 -15 1 3 1 -2 1 17 1 -15 1 12 1 -34 1 31 1 -27 1 22 1 13 1 -50 1 43 1 -34 1 22 1 -8 1 8 1 -42 1 39 1 17 1 -16 1 2 1 8 1 23 1 -53 1 25 1 -12 1 -3 1 -10 1 34 1 1 1 -4 1 -7 1 17 1 -22 1 14 1 9 1 2 1 -35 1 4 1 7 1 5 1 7 1 -13 1 21 1 -27 1 24 1 -8 1 -15 1 -3 1 -11 1 14 1 -1 1 12 1 11 1 13 1 -22 1 -12 1 22 1 -36 1 35 1 0 1 -27 1 2 1 4 1 18 1 -8 1 2 1 -1 1 -1 1 3 1 -6 1 22 1 -6 1 -6 1 -14 1 -3 1 5 1 4 1 15 1 19 1 -44 1 -14 1 33 1 3 1 -12 1 -7 1 -15 1 23 1 -6 1 -11 1 24 1 -11 1 18 1 -37 1 12 1 25 1 -10 1 19 1 -13 1 3 1 -4 1 -10 1 25 1 -42 1 -9 1 51 1 -42 1 26 1 -7 1 -11 1 -14 1 39 1 -1 1 -10 1 28 1 -29 1 21 1 2 1 -46 1 26 1 8 1 -18 1 2 1 17 1 13 1 -48 1 39 1 -13 1 4 1 -15 1 35 1 -36 1 7 1 -14 1 19 1 -7 1 -1 1 6 1 29 1 -56 1 19 1 -5 1 28 1 -8 1 -15 1 -9" stroke="#ff2000"/>
<path d="M2712 2596l1 -10 1 -4 1 -6 1 10 1 -6 1 -6 1 24 1 -1 1 -40 1 18 1 10 1 -36 1 25 1 25 1 -26 1 18 1 15 1 -12 1 -13 1 -5 1 26 1 -34 1 -3 1 26 1 -3 1 -7 1 19 1 -14 1 7 1 -19 1 26 1 10 1 -32 1 -19 1 17 1 15 1 -20 1 -15 1 9 1 13 1 17 1 -35 1 45 1 -41 1 28 1 -6 1 -17 1 21 1 -23 1 15 1 -12 1 -6 1 43 1 -10 1 -2 1 -15 1 33 1 -22 1 1 1 -5 1 -20 1 29 1 -29 1 32 1 -12 1 11 1 18 1 -52 1 -2 1 21 1 -4 1 -8 1 22 1 5 1 17 1 -13 1 -4 1 -23 1 7 1 6 1 -13 1 4 1 -14 1 23 1 -36 1 20 1 6 1 -7 1 11 1 15 1 -39 1 33 1 23 1 -28 1 19 1 -14 1 -28 1 14 1 17 1 2 1 -3 1 18 1 -11 1 -4 1 7 1 -21 1 7 1 -41 1 79 1 -37 1 12 1 -21 1 16 1 1 1 -19 1 32 1 -54 1 31 1 19 1 -55 1 35 1 -10 1 30 1 -22 1 -14 1 26 1 -24 1 7 1 3 1 -4 1 22 1 -29 1 24 1 -3 1 -7 1 11 1 -7 1 -20 1 48 1 -57 1 32 1 -6 1 14 1 -28 1 26 1 -17 1 1 1 -1 1 13 1 -17 1 -19 1 -1 1 27 1 -19 1 2 1 0 1 8 1 -13 1 1 1 47 1 -23 1 -3 1 22 1 -11 1 0 1 106 1 -106 1 22" stroke="#ff2000"/>
<path d="M228 2592l1 -57 1 54 1 -4 1 -115 1 106 1 -9 1 -6 1 -12 1 26 1 -16 1 19 1 21 1 -31 1 0 1 3 1 20 1 -6 1 106 1 -99 1 -6 1 13 1 14 1 -27 1 -7 1 -1 1 14 1 7 1 -15 1 6 1 -6 1 -32 1 48 1 -5 1 -26 1 -4 1 3 1 9 1 16 1 -1 1 -2 1 19 1 -12 1 -17 1 -20 1 24 1 2 1 11 1 13 1 -75 1 53 1 3 1 19 1 -3 1 -27 1 5 1 17 1 -37 1 28 1 -1 1 -8 1 7 1 1 1 18 1 1 1 -42 1 15 1 4 1 14 1 -19 1 7 1 -3 1 -4 1 20 1 -17 1 -12 1 -4 1 22 1 -7 1 -5 1 3 1 12 1 -21 1 -3 1 -14 1 39 1 4 1 18 1 -13 1 -27 1 11 1 -13 1 -7 1 18 1 -11 1 25 1 -2 1 -11 1 -5 1 -17 1 35 1 -9 1 -2 1 11 1 -6 1 2 1 42 1 -48 1 -6 1 -10 1 8 1 19 1 -10 1 25 1 -34 1 18 1 -40 1 33 1 29 1 -73 1 27 1 1 1 13 1 15 1 -25 1 34 1 -1 1 -61 1 31 1 -3 1 -7 1 9 1 6 1 15 1 -23 1 24 1 -9 1 -31 1 32 1 5 1 -25 1 2 1 -16 1 24 1 81 1 -71 1 15 1 -55 1 53 1 -22 1 -1 1 -30 1 44 1 -18 1 11 1 7 1 -43 1 32 1 -2 1 -18 1 10 1 -1 1 11 1 -2 1 -2 1 -7 1 26 1 -22 1 3 1 -9 1 -5 1 7 1 50 1 -50 1 31 1 -16 1 -18 1 2 1 -10 1 12 1 8 1 -11 1 0 1 34 1 -7 1 -21 1 4 1 -4 1 -5 1 12 1 29 1 -37 1 -19 1 23 1 0 1 -6 1 -13 1 0 1 -4 1 35 1 -17 1 18 1 -20 1 36 1 -32 1 -29 1 47 1 2 1 -23 1 1 1 26 1 -30 1 -21 1 46 1 5 1 -30 1 18 1 -6 1 21 1 -21 1 -17 1 32 1 3 1 3 1 -37 1 1 1 28 1 -25 1 3 1 -5 1 2 1 -4 1 -11 1 23 1 8 1 17 1 -11 1 -18 1 7 1 6 1 -8 1 2 1 -4 1 7 1 25 1 -3 1 -40 1 14 1 11 1 -21 1 1 1 -37 1 49 1 5 1 3 1 -4 1 -2 1 -7 1 -5 1 -36 1 41 1 -2 1 16 1 -18 1 -2 1 5 1 -3 1 -2 1 22 1 -3 1 12 1 -38 1 18 1 -1 1 7 1 -33 1 38 1 -18 1 -9 1 3 1 20 1 -24 1 7 1 1 1 10 1 -8 1 16 1 -28 1 11 1 -15 1 10 1 7 1 2 1 33 1 -44 1 41 1 -38 1 31 1 -38 1 14 1 -15 1 6 1 2 1 13 1 14 1 -21 1 2 1 -4 1 13 1 10 1 -16 1 16 1 -30" stroke="#ff0000"/>
<path d="M1440 2598l1 -24 1 2 1 -15 1 18 1 -9 1 22 1 -13 1 8 1 -1 1 -4 1 14 1 -4 1 -28 1 34 1 -20 1 1 1 -13 1 10 1 21 1 -15 1 -6 1 14 1 -18 1 7 1 16 1 5 1 -3 1 -30 1 22 1 14 1 -21 1 5 1 -13 1 4 1 15 1 -9 1 11 1 -5 1 -7 1 -4 1 26 1 -8 1 -5 1 -3 1 14 1 -15 1 -11 1 5 1 -8 1 3 1 -5 1 44 1 -16 1 -20 1 19 1 -13 1 19 1 -16 1 11 1 -23 1 14 1 -16 1 17 1 -31 1 31 1 -2 1 -16 1 12 1 0 1 -15 1 21 1 -17 1 23 1 -25 1 3 1 1 1 25 1 9 1 -23 1 -4 1 7 1 -23 1 38 1 -31 1 22 1 3 1 -10 1 8 1 -23 1 12 1 9 1 -5 1 4 1 -10 1 15 1 -7 1 -5 1 19 1 -37 1 38 1 -21 1 -9 1 15 1 -17 1 22 1 -3 1 -11 1 15 1 -22 1 13 1 5 1 -15 1 19 1 -19 1 2 1 9 1 -6 1 14 1 -15 1 -1 1 12 1 -4 1 -36 1 6 1 14 1 0 1 8 1 15 1 -23 1 15 1 -7 1 14 1 -2 1 -31 1 6 1 49 1 -27 1 -7 1 -2 1 -7 1 17 1 -3 1 -11 1 20 1 -16 1 -6 1 10 1 1 1 -1 1 4 1 -7 1 -16 1 14 1 10 1 11 1 -11 1 -1 1 6 1 -13 1 24 1 -17 1 3 1 -15 1 12 1 -16 1 -7 1 -5 1 28 1 -27 1 21 1 -4 1 -1 1 8 1 -16 1 6 1 25 1 -7 1 -22 1 19 1 -12 1 -5 1 21 1 -20 1 -14 1 25 1 5 1 -14 1 16 1 -5 1 14 1 -23 1 4 1 10 1 6 1 -31 1 30 1 -15 1 -9 1 22 1 -30 1 12 1 13 1 -1 1 1 1 -9 1 -1 1 -1 1 14 1 2 1 12 1 -32 1 18 1 -5 1 -18 1 4 1 -6 1 18 1 8 1 -7 1 -1 1 7 1 -16 1 -2 1 3 1 7 1 -10 1 3 1 18 1 -19 1 3 1 -2 1 11 1 -29 1 14 1 6 1 -4 1 17 1 -10 1 5 1 -8 1 14 1 -3 1 -9 1 25 1 -26 1 17 1 -28 1 22 1 -14 1 19 1 -20 1 -4 1 9 1 19 1 -19 1 9 1 -23 1 22 1 -10 1 8 1 -6 1 -2 1 7 1 -11 1 34 1 -24 1 8 1 -19 1 26 1 -13 1 -12 1 -4 1 7 1 7 1 -11 1 8 1 2 1 -8 1 -4 1 -1 1 6 1 17 1 -27 1 0 1 -2 1 55 1 -59 1 27 1 -7 1 -1 1 11 1 8 1 16 1 -35 1 17 1 -6 1 4 1 -5 1 -14 1 -1 1 11 1 11 1 1 1 -28 1 -14 1 27 1 4 1 -10 1 18 1 -4 1 -10 1 20 1 -11 1 10 1 -9 1 -2 1 -36 1 34 1 0 1 -1 1 -9 1 -9 1 24 1 -12 1 6 1 -2 1 7 1 -11 1 -5 1 23 1 -40 1 39 1 -15 1 16 1 -6 1 6 1 -4 1 5 1 -13 1 4 1 -10 1 -9 1 15 1 -1 1 14 1 0 1 -6 1 -6 1 1 1 -19 1 3 1 7 1 15 1 -13 1 12 1 -4 1 -11 1 -1 1 -18 1 26 1 -9 1 30 1 -22 1 -15 1 13 1 11 1 -4 1 4 1 -37 1 33 1 11 1 9 1 -12 1 -16 1 6 1 3 1 5 1 -39 1 6 1 13 1 32 1 -36 1 26 1 -11 1 -17 1 12 1 27 1 -21 1 13 1 -15 1 -11 1 26 1 -41 1 46 1 -11 1 -8 1 -9 1 -15 1 18 1 2 1 13 1 -12 1 9 1 3 1 -11 1 2 1 -3 1 5 1 -8 1 -10 1 16 1 -12 1 4 1 1 1 -16 1 -6 1 17 1 9 1 1 1 -5 1 -6 1 22 1 -27 1 22 1 3 1 -18 1 3 1 -2 1 24 1 -17 1 -21 1 11 1 -1 1 27 1 -23 1 9 1 4 1 -14 1 -2 1 18 1 -13 1 2 1 5 1 -4 1 -16 1 18 1 9 1 12 1 -38 1 19 1 8 1 -6 1 -9 1 -1 1 5 1 -6 1 26 1 -28 1 1 1 6 1 15 1 -17 1 -8 1 5 1 11 1 -9 1 6 1 -10 1 1 1 22 1 -19 1 21 1 -27 1 -4 1 29 1 -6 1 -7 1 -6 1 12 1 -2 1 19 1 -30 1 2 1 -4 1 12 1 -16 1 6 1 5 1 -10 1 7 1 -7 1 17 1 -6 1 -5 1 0 1 0 1 10 1 13 1 -3 1 -11 1 10 1 -23 1 21 1 -17" stroke="#ff0000"/>
<path d="M1020 2567l1 20 1 16 1 7 1 -13 1 9 1 -27 1 17 1 -5 1 -8 1 33 1 -13 1 -3 1 -18 1 12 1 6 1 7 1 -22 1 24 1 -13 1 -18 1 -8 1 18 1 13 1 9 1 -31 1 0 1 23 1 -18 1 2 1 -1 1 -7 1 8 1 -6 1 7 1 -6 1 -6 1 36 1 -27 1 11 1 10 1 1 1 -27 1 4 1 6 1 1 1 6 1 -2 1 -18 1 42 1 -15 1 -21 1 0 1 17 1 -23 1 18 1 10 1 -12 1 -19 1 -4 1 24 1 -6 1 28 1 -25 1 -21 1 28 1 -13 1 8 1 10 1 -17 1 -6 1 20 1 -4 1 2 1 -8 1 10 1 11 1 -31 1 7 1 -5 1 -17 1 20 1 -18 1 8 1 8 1 -1 1 -2 1 24 1 -14 1 14 1 -31 1 18 1 -13 1 20 1 -12 1 -2 1 22 1 -24 1 32 1 -41 1 12 1 12 1 -15 1 22 1 -33 1 29 1 12 1 -16 1 -19 1 21 1 -37 1 29 1 -23 1 12 1 2 1 -26 1 17 1 -1 1 27 1 -21 1 10 1 4 1 -27 1 21 1 -10 1 25 1 -10 1 -15 1 42 1 -22 1 -16 1 15 1 30 1 -65 1 29 1 -11 1 13 1 -1 1 17 1 -23 1 9 1 -21 1 28 1 -7 1 -16 1 46 1 -31 1 -19 1 24 1 -18 1 8 1 -2 1 26 1 -13 1 -34 1 16 1 -7 1 22 1 -19 1 -13 1 10 1 28 1 -39 1 23 1 -5 1 -9 1 -3 1 23 1 -15" stroke="#df0000"/>
<path d="M2232 2587l1 -28 1 48 1 -11 1 14 1 -39 1 37 1 -3 1 -13 1 -5 1 10 1 -4 1 48 1 -45 1 -23 1 37 1 2 1 -28 1 2 1 40 1 -71 1 30 1 72 1 -37 1 -49 1 -27 1 43 1 1 1 -32 1 28 1 -29 1 11 1 16 1 -28 1 -15 1 30 1 -41 1 110 1 -64 1 -29 1 67 1 9 1 -85 1 53 1 5 1 23 1 -63 1 48 1 -49 1 65 1 -82 1 49 1 30 1 -41 1 -19 1 0 1 7 1 66 1 -114 1 125 1 -50 1 -49 1 7 1 -7 1 24 1 9 1 62 1 -103 1 57 1 -3 1 11 1 -18 1 6 1 37 1 -53 1 21 1 14 1 -68 1 23 1 16 1 -31 1 128 1 -146 1 33 1 41 1 -23 1 -28 1 8 1 9 1 79 1 -34 1 -14 1 -9 1 49 1 -75 1 29 1 17 1 30 1 -53 1 -60 1 52 1 -292 1 243 1 256 1 -195 1 -61 1 101 1 -69 1 35 1 37 1 -28 1 -46 1 3 1 -2 1 -45 1 74 1 20 1 12 1 -101 1 114 1 -95 1 116 1 -114 1 4 1 66 1 -62 1 83 1 -115 1 4 1 42 1 22 1 75 1 -16 1 -112 1 46 1 21 1 14 1 -37 1 23 1 -26 1 30 1 9 1 -34 1 -21 1 32 1 -2 1 -5 1 -31 1 76 1 -5 1 -72 1 0 1 93 1 -64 1 12 1 -32 1 68 1 -23 1 29 1 -15 1 22 1 -68 1 16 1 -36 1 31 1 31 1 26 1 -45 1 -53 1 3 1 13 1 49 1 -46 1 33 1 -42 1 58 1 -19 1 5 1 -12 1 30 1 -22 1 6 1 -74 1 -10 1 69 1 -19 1 -25 1 53 1 29 1 -3 1 -133 1 131 1 -214 1 204 1 179 1 -217 1 -9 1 73 1 -49 1 0 1 30 1 5 1 -10 1 -29 1 15 1 -19 1 17 1 11 1 -20 1 7 1 -3 1 2 1 -26 1 17 1 45 1 -16 1 -27 1 -1 1 -12 1 16 1 -13 1 22 1 -4 1 -12 1 -15 1 37 1 -19 1 -29 1 33 1 22 1 4 1 -12 1 -29 1 14 1 -9 1 30 1 -27 1 34 1 -14 1 -32 1 37 1 9 1 -1 1 -10 1 -6 1 -7 1 -7 1 -7 1 38 1 -30 1 -22 1 -19 1 25 1 7 1 -3 1 52 1 -64 1 35 1 3 1 13 1 -3 1 -40 1 27 1 -19 1 29 1 -49 1 26 1 -3 1 15 1 -6 1 20 1 -27 1 32 1 -39 1 26 1 -6 1 19 1 -41 1 30 1 9 1 -30 1 25 1 13 1 -38 1 -13 1 24 1 -13 1 15 1 -16 1 6 1 23 1 -49 1 35 1 -36 1 33 1 -4 1 -6 1 14 1 -18 1 27 1 -7 1 3 1 3 1 -16 1 -12 1 24 1 -6 1 1 1 0 1 4 1 -14 1 -20 1 3 1 14 1 -6 1 -5 1 13 1 8 1 -1 1 5 1 11 1 2 1 -37 1 22 1 13 1 -34 1 38 1 -5 1 -15 1 -9 1 18 1 -20 1 9 1 1 1 -15 1 29 1 2 1 3 1 -12 1 25 1 -57 1 79 1 -58 1 -14 1 3 1 21 1 -17 1 36 1 -33 1 0 1 21 1 -4 1 -51 1 49 1 3 1 -23 1 0 1 -16 1 33 1 6 1 -16 1 8 1 5 1 14 1 4 1 -12 1 -4 1 0 1 18 1 -44 1 11 1 40 1 -62 1 32 1 -27 1 23 1 5 1 -6 1 7 1 7 1 -8 1 10 1 -22 1 4 1 0 1 16 1 4 1 0 1 -25 1 8 1 -13 1 34 1 13 1 11 1 -44 1 28 1 -30 1 22 1 -21 1 -5 1 5 1 -33 1 43 1 -13 1 0 1 -15 1 33 1 -9 1 32 1 -50 1 -14 1 16 1 23 1 -20 1 32 1 -21 1 17 1 -13 1 -29 1 42 1 -14 1 -10 1 10 1 -1 1 -35 1 44 1 -8 1 6 1 -20 1 39 1 -40 1 8 1 14 1 -28 1 13 1 0 1 -10 1 5 1 1 1 -2 1 17 1 -1 1 -4 1 13 1 -10 1 16 1 -37 1 25 1 -44 1 45 1 22 1 -26 1 -7 1 3 1 14 1 -24 1 24 1 -40 1 34 1 2 1 -18 1 0 1 2 1 -3 1 2 1 -2 1 9 1 12 1 -16 1 4 1 -10 1 3 1 47 1 -27 1 21 1 -40 1 22 1 -16 1 -25 1 14 1 -3 1 28 1 -15 1 -12 1 23 1 -24 1 25 1 3 1 -5 1 -7 1 22 1 -38 1 -3 1 21 1 -18 1 5 1 -13 1 21 1 -21 1 14 1 11 1 -22 1 32 1 -23 1 -5 1 37 1 -11 1 -19 1 -24 1 9 1 29 1 -17 1 12 1 13 1 -2 1 -28 1 13 1 18 1 4 1 -28 1 -8 1 20 1 -14 1 9 1 -11 1 19 1 -27 1 36 1 -22 1 -5 1 8 1 -15 1 14 1 7 1 -10 1 -13 1 23 1 5 1 -31 1 40 1 -11" stroke="#df0000"/>
<path d="M0 2597l1 -15 1 39 1 -31 1 -9 1 12 1 -33 1 35 1 -4 1 9 1 2 1 29 1 -50 1 -1 1 3 1 -7 1 29 1 -15 1 0 1 -6 1 13 1 -8 1 13 1 4 1 -26 1 6 1 -7 1 5 1 1 1 1 1 2 1 19 1 0 1 -26 1 13 1 15 1 -27 1 -24 1 6 1 31 1 -39 1 24 1 9 1 -24 1 27 1 -4 1 -5 1 13 1 -18 1 -2 1 24 1 7 1 -39 1 41 1 -17 1 -35 1 54 1 -52 1 51 1 11 1 -43 1 -24 1 -11 1 45 1 -7 1 22 1 1 1 32 1 -73 1 33 1 -35 1 99 1 -288 1 230 1 100 1 -123 1 23 1 -41 1 43 1 -25 1 -21 1 25 1 7 1 -17 1 -17 1 43 1 45 1 -27 1 14 1 -50 1 27 1 -54 1 62 1 -32 1 38 1 -53 1 -3 1 20 1 -8 1 -30 1 -8 1 114 1 -49 1 -26 1 -16 1 65 1 -44 1 56 1 51 1 -98 1 6 1 15 1 -50 1 13 1 39 1 -43 1 34 1 -19 1 -31 1 -13 1 21 1 1 1 -87 1 109 1 -14 1 18 1 10 1 -19 1 -17 1 34 1 44 1 -85 1 -40 1 52 1 -182 1 208 1 57 1 -95 1 213 1 -211 1 46 1 -16 1 13 1 -1 1 123 1 -102 1 -44 1 31 1 -51 1 56 1 -24 1 -24 1 -2 1 -3 1 28 1 -4 1 -10 1 -45 1 64 1 -12 1 -1 1 -23 1 -142 1 122 1 40 1 32 1 -48 1 225 1 -201 1 -13 1 -22 1 42 1 -27 1 57 1 -56 1 56 1 -25 1 -40 1 36 1 13 1 -28" stroke="#bf0000"/>
<path d="M1188 2561l1 12 1 6 1 11 1 -25 1 24 1 3 1 16 1 3 1 -37 1 8 1 -22 1 31 1 -17 1 -2 1 19 1 -23 1 21 1 0 1 -26 1 22 1 0 1 5 1 -3 1 14 1 -5 1 -4 1 11 1 -31 1 11 1 4 1 -11 1 -5 1 -10 1 23 1 -20 1 16 1 10 1 -16 1 5 1 -10 1 18 1 -5 1 3 1 9 1 33 1 -24 1 -13 1 -18 1 36 1 -6 1 -2 1 -29 1 20 1 16 1 -4 1 -18 1 6 1 19 1 -34 1 -7 1 19 1 11 1 -39 1 5 1 21 1 -2 1 18 1 -32 1 25 1 -14 1 4 1 20 1 -22 1 -3 1 -4 1 4 1 9 1 2 1 4 1 -18 1 -2 1 33 1 -22 1 -11 1 23 1 -50 1 39 1 13 1 -40 1 16 1 27 1 -17 1 -7 1 -1 1 11 1 15 1 0 1 -15 1 -2 1 3 1 -20 1 12 1 22 1 -17 1 -6 1 33 1 2 1 -17 1 -43 1 16 1 20 1 2 1 -30 1 20 1 -7 1 3 1 1 1 10 1 -9 1 -16 1 29 1 -18 1 10 1 34 1 -50 1 21 1 -16 1 16 1 -14 1 17 1 -16 1 7 1 -25 1 43 1 -24 1 12 1 -20 1 12 1 12 1 -24 1 8 1 -3 1 19 1 0 1 -2 1 -1 1 16 1 -33 1 0 1 -10 1 20 1 -17 1 33 1 -2 1 -5 1 -10 1 -8 1 12 1 2 1 -7 1 -5 1 36 1 1 1 -33 1 8 1 -16 1 3 1 7 1 2 1 -6 1 8 1 6 1 4 1 -27 1 17 1 15 1 11 1 -43 1 36 1 -28 1 0 1 35 1 -28 1 6 1 -22 1 14 1 -2 1 23 1 -25 1 -9 1 -12 1 24 1 7 1 -19 1 -8 1 24 1 2 1 9 1 -15 1 23 1 -17 1 -20 1 29 1 -28 1 23 1 14 1 -34 1 17 1 -33 1 64 1 -33 1 19 1 -20 1 -13 1 10 1 -18 1 24 1 -16 1 -13 1 16 1 6 1 19 1 -23 1 -8 1 13 1 2 1 -6 1 5 1 -22 1 32 1 -23 1 1 1 26 1 6 1 -50 1 38 1 -23 1 18 1 -22 1 30 1 -23 1 12 1 1 1 -2 1 2 1 -6 1 5 1 -24 1 39 1 -11 1 19 1 -12 1 -16 1 -2 1 10 1 6 1 -14 1 -4 1 22 1 -16 1 22 1 -14 1 -8 1 19 1 -19 1 19 1 -22 1 6 1 14 1 -14 1 -13 1 -4 1 41 1 -27 1 10 1 0 1 -18 1 1 1 32 1 -25 1 19 1 -34 1 11 1 10 1 -1 1 20 1 -18 1 -7 1 11 1 -52 1 48 1 15 1 -16 1 7 1 -14 1 15 1 1 1 -10 1 -7 1 18 1 -3 1 -7 1 -5 1 35 1 -38 1 -16 1 15 1 -12 1 13 1 5 1 3 1 -12 1 27 1 -43 1 7 1 1 1 -2 1 19 1 -7 1 3 1 3 1 4 1 -24 1 33 1 -15 1 2 1 5 1 7 1 0 1 -20 1 6 1 14 1 9 1 -31 1 19 1 -26 1 19 1 19 1 8 1 -28 1 37 1 -38 1 6 1 7 1 -11 1 -9 1 24 1 -16 1 -4 1 -5 1 13 1 -17 1 20 1 -4 1 -30 1 10 1 -14 1 29 1 -8 1 30 1 -17 1 8 1 -19 1 -1 1 2 1 17 1 -4 1 -12 1 22 1 -17 1 28 1 -29 1 7 1 2 1 -18 1 1 1 17 1 -1 1 16 1 -29 1 -6 1 -2 1 9 1 10 1 -3 1 -2 1 -4 1 15 1 -18 1 33 1 -22 1 -5 1 14 1 -10 1 -6 1 -14 1 10 1 8 1 37 1 -40 1 5 1 -2 1 -5 1 -4 1 8 1 19 1 -19 1 4 1 3 1 18 1 -27 1 3 1 -13 1 14 1 1 1 -25 1 36 1 -20 1 38 1 -47 1 29 1 -7 1 -8 1 -13 1 17 1 -8 1 -3 1 1 1 5 1 6 1 -22 1 23 1 -14 1 34 1 -14 1 2 1 -17 1 -9 1 4 1 22 1 -12 1 2 1 -18 1 -6 1 12 1 -11 1 23 1 -4 1 11 1 -4 1 1 1 10 1 -49 1 21 1 -5 1 33 1 -38 1 25 1 20 1 -22 1 -4 1 -15 1 27 1 3 1 -18 1 1 1 -3 1 12 1 -3 1 -2 1 -6 1 9 1 17 1 -31 1 12 1 -10 1 13 1 9 1 -8 1 -4 1 -9 1 -4 1 43 1 -50 1 43 1 -17 1 1 1 12 1 2 1 -37 1 18 1 20 1 -26 1 1 1 9 1 -26 1 20 1 -2 1 -8 1 1 1 12 1 -16 1 0 1 3 1 7 1 7 1 20 1 -41 1 7 1 8 1 -7 1 25 1 -26 1 23 1 6 1 -24 1 11 1 -3 1 0 1 5 1 -1 1 6 1 -30 1 41 1 -20 1 2 1 -7 1 10 1 -6 1 -5 1 21 1 -38 1 23 1 -11 1 2 1 -5 1 3 1 28 1 -24 1 0 1 -5 1 -8 1 4 1 18 1 -3 1 5 1 -2 1 3 1 13 1 -9 1 -20 1 22 1 3 1 -14 1 -13 1 13 1 -7 1 12 1 -21 1 12 1 -25 1 20 1 -8 1 23" stroke="#bf0000"/>
<path d="M972 2579l1 12 1 -12 1 12 1 -2 1 10 1 -12 1 5 1 -2 1 4 1 -19 1 11 1 -20 1 30 1 -4 1 -20 1 9 1 29 1 -15 1 -3 1 7 1 -9 1 -8 1 13 1 -13 1 -6 1 8 1 8 1 -2 1 -24 1 2" stroke="#9f0000"/>
<path d="M2232 2622l1 -24 1 -39 1 13 1 22 1 31 1 -19 1 -51 1 49 1 52 1 -54 1 -36 1 -12 1 29 1 -16 1 -8 1 225 1 -231 1 31 1 28 1 -42 1 -4 1 37 1 20 1 -38 1 12 1 5 1 -53 1 59 1 -56 1 9 1 22 1 54 1 -48 1 -18 1 -24 1 155 1 -88 1 -37 1 14 1 40 1 -46 1 -7 1 -3 1 5 1 35 1 -23 1 82 1 -100 1 10 1 -12 1 21 1 -85 1 48 1 -4 1 39 1 2 1 14 1 2 1 -75 1 51 1 -39 1 93 1 -42 1 -10 1 43 1 -18 1 -18 1 -36 1 3 1 54 1 -34 1 28 1 -17 1 47 1 -39 1 7 1 -71 1 67 1 -23 1 -12 1 -9 1 91 1 -86 1 45 1 -43 1 58 1 -10 1 -60 1 -16 1 17 1 21 1 -4 1 -58 1 66 1 39 1 27 1 -29 1 32 1 -108 1 27 1 76 1 -107 1 -113 1 207 1 -51 1 378 1 -369 1 30 1 -45 1 -8 1 2 1 16 1 -13 1 55 1 11 1 -58 1 -19 1 35 1 21 1 -60 1 5 1 27 1 -6 1 -41 1 -19 1 155 1 -70 1 22 1 -15 1 -7 1 -88 1 100 1 -52 1 -49 1 114 1 -84 1 65 1 -375 1 352 1 136 1 -86 1 -60 1 -18 1 63 1 -31 1 1 1 -13 1 10 1 3 1 -30 1 1 1 19 1 -60 1 22 1 31 1 66 1 17 1 -49 1 -41 1 65 1 -23 1 -13 1 -1 1 -52 1 11 1 14 1 16 1 -32 1 40 1 -56 1 18 1 -22 1 -14 1 41 1 55 1 -19 1 63 1 -63 1 -13 1 -37 1 62 1 -41 1 -8 1 34 1 17 1 -56 1 -7 1 78 1 -89 1 58 1 -35 1 41 1 -19 1 11 1 -11 1 -6 1 -28 1 26 1 -21 1 17 1 15 1 -18 1 24 1 60 1 -79 1 11 1 6 1 4 1 -3 1 8 1 -62 1 90 1 -46 1 -8 1 2 1 18 1 -25 1 2 1 4 1 39 1 -24 1 -27 1 15 1 20 1 -22 1 -17 1 42 1 -6 1 1 1 -12 1 10 1 -1 1 -7 1 31 1 -50 1 41 1 -32 1 15 1 3 1 -19 1 -4 1 16 1 -39 1 55 1 26 1 -16 1 -26 1 -6 1 29 1 -32 1 42 1 -35 1 -21 1 8 1 19 1 -15 1 5 1 33 1 -34 1 -7 1 -10 1 41 1 -29 1 22 1 -18 1 -4 1 26 1 -41 1 8 1 33 1 6 1 -21 1 14 1 6 1 -33 1 -8 1 11 1 4 1 25 1 -14 1 1 1 -21 1 -3 1 11 1 0 1 29 1 -23 1 1 1 24 1 -22 1 30 1 -43 1 11 1 15 1 -19 1 -14 1 31 1 -12 1 21 1 -32 1 17 1 -32 1 14 1 23 1 12 1 -33 1 10 1 18 1 -14 1 -17 1 -14 1 40 1 -13 1 13 1 -23 1 2 1 -6 1 39 1 -30 1 -7 1 30 1 -14 1 14 1 -35 1 10 1 -11 1 3 1 16 1 8 1 -17 1 -10 1 30 1 -5 1 -4 1 1 1 -3 1 -4 1 4 1 17 1 -19 1 -4 1 -15 1 5 1 24 1 -44 1 47 1 -21 1 -16 1 26 1 -3 1 21 1 -12 1 -31 1 52 1 -30 1 -4 1 0 1 22 1 -13 1 -11 1 -15 1 19 1 -9 1 0 1 -8 1 8 1 13 1 -22 1 18 1 1 1 6 1 54 1 -53 1 0 1 -20 1 26 1 -30 1 7 1 -5 1 32 1 -11 1 -30 1 20 1 20 1 -18 1 14 1 -12 1 13 1 -7 1 26 1 -60 1 33 1 -6 1 -9 1 -11 1 15" stroke="#9f0000"/>
<path d="M276 2621l1 -32 1 -12 1 2 1 -4 1 13 1 0 1 17 1 -41 1 -5 1 20 1 13 1 -2 1 -2 1 28 1 22 1 -35 1 20 1 -42 1 18 1 -23 1 26 1 -1 1 -41 1 14 1 -13 1 9 1 24 1 -2 1 12 1 -29 1 14 1 -2 1 3 1 -34 1 15 1 -7 1 18 1 30 1 -34 1 10 1 46 1 -58 1 55 1 -51 1 26 1 -24 1 6 1 0 1 -28 1 47 1 -30 1 37 1 -20 1 11 1 -23 1 20 1 23 1 -30 1 -30 1 8 1 19 1 -5 1 -19 1 9 1 28 1 -13 1 -34 1 2 1 17 1 -2 1 2 1 9 1 31 1 -10 1 -22 1 45 1 -43 1 -34 1 22 1 8 1 8 1 -15 1 27 1 -59 1 45 1 -30 1 9 1 28 1 -51 1 46 1 1 1 -28 1 -5 1 22 1 34 1 -60 1 6 1 30 1 -12 1 54 1 -68 1 40 1 -59 1 24 1 16 1 -16 1 23 1 -23 1 23 1 22 1 10 1 -29 1 3 1 -41 1 42 1 -12 1 9 1 5 1 -21 1 34 1 -56 1 14 1 -4 1 25 1 37 1 -37 1 1 1 -25 1 10 1 11 1 -8 1 59 1 -47 1 -24 1 -7 1 5 1 45 1 -36 1 26 1 -32 1 105 1 -78 1 20 1 -29 1 -2 1 -13 1 0 1 29 1 -12 1 21 1 -45 1 -8 1 41 1 -3 1 -10 1 3 1 -4 1 2 1 -70 1 95 1 -49 1 28 1 1 1 6 1 8 1 -30 1 30 1 -17 1 -5 1 -5 1 -9 1 -44 1 43 1 61 1 -32 1 26 1 0 1 -28 1 -9 1 30 1 -60 1 15 1 -7 1 20 1 1 1 -7 1 -3 1 -21 1 1 1 25 1 -12 1 -4 1 25 1 -31 1 26 1 9 1 -10 1 10 1 -5 1 -11 1 5 1 19 1 -18 1 -11 1 1 1 12 1 3 1 23 1 -26 1 1 1 -21 1 14 1 29 1 -21 1 0 1 -13 1 40 1 -47 1 39 1 -1 1 -33 1 4 1 -29 1 35 1 15 1 -36 1 31 1 -16 1 39 1 1 1 -24 1 -21 1 14 1 0 1 12 1 -40 1 4 1 -60 1 86 1 -17 1 -2 1 40 1 -56 1 30 1 20 1 -12 1 -28 1 25 1 -17 1 29 1 -20 1 -1 1 -26 1 38 1 -6 1 28 1 -33 1 -19 1 2 1 48 1 -79 1 66 1 -11 1 12 1 -35 1 28 1 8 1 -14 1 -2 1 -11 1 20 1 2 1 -6 1 17 1 -19 1 5 1 17 1 -19 1 -21 1 -29 1 26 1 40 1 -41 1 3 1 -9 1 32 1 12 1 -65 1 41 1 -4 1 14 1 1 1 9 1 -8 1 3 1 8 1 -12 1 14 1 -16 1 -21 1 -6 1 5 1 12 1 -25 1 79 1 -61 1 5 1 -13 1 19 1 2 1 5 1 -38 1 34 1 8 1 -18 1 -18 1 20 1 5 1 9 1 21 1 -26 1 -16 1 15 1 -9 1 15 1 -17 1 17 1 14 1 -15 1 -2 1 11 1 -18 1 -9 1 28 1 -22 1 17 1 -4 1 5 1 16 1 -46 1 24 1 11 1 -42 1 36 1 5 1 -37 1 -1 1 33 1 -20 1 -4 1 21 1 11 1 1 1 -20 1 15 1 -11 1 21 1 -18 1 15 1 -24 1 17 1 -26 1 17 1 -18 1 20 1 13 1 -22 1 27 1 -9 1 -14 1 -4 1 23 1 -2 1 -6 1 -21 1 23 1 -22 1 26 1 -14 1 18 1 -29 1 22 1 -1 1 -11 1 -1 1 13 1 -19 1 -21 1 33 1 -23 1 22 1 -47 1 65 1 -34 1 13 1 -15 1 4 1 5 1 29 1 -36 1 13 1 -35 1 -1 1 38 1 2 1 10 1 -37 1 -9 1 22 1 22 1 -22 1 -9 1 33 1 -21 1 2 1 16 1 -31 1 6 1 -18 1 42 1 24 1 -37 1 -27 1 10 1 7 1 19 1 -23 1 51 1 -48 1 -8 1 10 1 -8 1 17 1 -8 1 2 1 0 1 20 1 -10 1 -23 1 10 1 -3 1 7 1 7 1 -20 1 23 1 28 1 -13 1 -23 1 -2 1 -1 1 8 1 18 1 -18 1 -29 1 59 1 -36 1 36 1 -29 1 1 1 -17 1 -9 1 37 1 -29 1 12 1 -20 1 51 1 -47 1 22 1 -14 1 7 1 -1 1 1 1 -16 1 44 1 -22 1 -19 1 -2 1 3 1 9 1 4 1 5 1 -34 1 28 1 -14 1 15 1 23 1 7 1 -4 1 -38 1 18 1 -34 1 22 1 -9 1 41 1 -22 1 5 1 2 1 -4 1 -24 1 -25 1 25 1 30 1 -5 1 -21 1 33 1 -39 1 2 1 16 1 -1 1 0 1 13 1 8 1 -36 1 18 1 -13 1 6 1 5 1 8 1 -29 1 -14 1 10 1 36 1 -12 1 -19 1 18 1 7 1 -8 1 -1 1 6 1 -10 1 1 1 11 1 -2 1 10 1 -1 1 -38 1 22 1 14 1 24 1 -3 1 -23 1 -23 1 -4 1 30 1 -6 1 6 1 3 1 -6 1 -17 1 24 1 -28 1 21 1 4 1 -25 1 28 1 -5 1 -4 1 5 1 -6 1 34 1 -50 1 -8 1 20 1 18 1 -18 1 -18 1 22 1 -6 1 -1 1 -30 1 14 1 47 1 -38 1 25 1 -22 1 24 1 -46 1 28 1 32 1 -48 1 16 1 -6 1 10 1 -13 1 12 1 19 1 -55 1 47 1 2 1 8 1 -40 1 -9 1 15 1 20 1 -29 1 60 1 -41 1 -6 1 11 1 11 1 -5 1 -49 1 25 1 23 1 -21 1 0 1 9 1 -8 1 18 1 6 1 -40 1 25 1 -28 1 15 1 13 1 2 1 -34 1 38 1 21 1 -21 1 -11 1 -2 1 13 1 -13 1 8 1 6 1 -4 1 -3 1 12 1 -23 1 20 1 -8 1 3 1 -1 1 -6 1 12 1 -3 1 4 1 -5 1 11 1 -13 1 7 1 -12 1 -13 1 14 1 17 1 -18 1 12 1 14 1 -18 1 -2 1 -14 1 32 1 -25 1 18 1 -32 1 3 1 31 1 -22 1 14 1 29 1 -52 1 4 1 -2 1 24 1 15 1 -28 1 -14 1 33 1 -12 1 27 1 -35 1 -5 1 43 1 -50 1 37 1 -24 1 -23 1 22 1 10 1 -5 1 15 1 -26 1 8 1 4 1 5 1 -38 1 39 1 -1 1 21 1 -25 1 -14 1 20 1 -9 1 5 1 10 1 -35 1 29 1 -5 1 12 1 -32 1 14 1 12 1 -24 1 -4 1 26 1 19 1 -48" stroke="#800000"/>
<path d="M1884 2603l1 -26 1 -12 1 37 1 -8 1 -6 1 28 1 -46 1 27 1 1 1 -18 1 35 1 -27 1 -21 1 21 1 15 1 -12 1 2 1 20 1 -27 1 6 1 1 1 -10 1 22 1 -28 1 11 1 5 1 -21 1 13 1 3 1 16 1 -13 1 -15 1 -3 1 29 1 14 1 -18 1 -6 1 18 1 -23 1 -3 1 6 1 6 1 -9 1 -12 1 22 1 15 1 -10 1 -6 1 -3 1 -21 1 -27 1 66 1 -61 1 31 1 -7 1 11 1 7 1 -14 1 28 1 -36 1 11 1 25 1 -15 1 15 1 5 1 -20 1 -12 1 -1 1 1 1 1 1 -11 1 22 1 0 1 -15 1 22 1 -29 1 0 1 23 1 5 1 -14 1 30 1 -21 1 -3 1 15 1 -20 1 18 1 -43 1 27 1 -4 1 -12 1 -1 1 19 1 -9 1 6 1 15 1 -3 1 -47 1 59 1 -36 1 22 1 -5 1 -3 1 -8 1 16 1 -22 1 16 1 -14 1 -4 1 23 1 -21 1 16 1 -19 1 5 1 9 1 0 1 -1 1 10 1 -26 1 9 1 17 1 -23 1 19 1 10 1 -11 1 -11 1 16 1 7 1 5 1 -5 1 -29 1 1 1 28 1 -21 1 -8 1 29 1 -14 1 18 1 -23 1 -23 1 -8 1 35 1 0 1 0 1 -7 1 18 1 -7 1 -3 1 -25 1 17 1 16 1 -6 1 -13 1 11 1 -19 1 19 1 6 1 13 1 -23 1 -1 1 13 1 -28 1 18 1 -3 1 16 1 -15 1 -8 1 21 1 -15 1 20 1 -11 1 12 1 -30 1 6 1 12 1 -2 1 9 1 3 1 -27 1 22 1 -2 1 8 1 -10 1 -5 1 -7 1 15 1 -8 1 -1 1 -15 1 9 1 21 1 -17 1 8 1 -2 1 -12 1 -1 1 -13 1 23 1 18 1 -29 1 -1 1 5 1 3 1 -5 1 -16 1 23 1 3 1 -1 1 18 1 22 1 -35 1 -44 1 29 1 36 1 -41 1 22 1 30 1 -36 1 0 1 2 1 -19 1 17 1 19 1 -22 1 3 1 27 1 -10 1 -27 1 -18 1 26 1 15 1 -26 1 -12 1 41 1 -23 1 17 1 -29 1 -1 1 34 1 -53 1 37 1 2 1 28 1 -48 1 54 1 -54 1 13 1 11 1 3 1 -26 1 20 1 7 1 -5 1 8 1 10 1 -21 1 -9 1 29 1 5 1 -21 1 6 1 0 1 -5 1 -8 1 -16 1 14 1 19 1 -19 1 11 1 -18 1 -19 1 0 1 20 1 22 1 -11 1 -23 1 33 1 -46 1 34 1 13 1 -13 1 -14 1 -15 1 26 1 -7 1 18 1 -14 1 12 1 6 1 -17 1 4 1 -13 1 13 1 -3 1 -2 1 7 1 18 1 -39 1 -5 1 34 1 2 1 -48 1 50 1 -21 1 40 1 -43 1 -11 1 34 1 -5 1 11 1 -47 1 17 1 12 1 0 1 31 1 -62 1 14 1 10 1 14 1 -14 1 8 1 0 1 24 1 1 1 -17 1 -13 1 -1 1 -4 1 6 1 35 1 -20 1 -50 1 63 1 11 1 11 1 -25 1 -64 1 48 1 -29 1 17 1 -6 1 -26 1 49 1 5 1 29 1 -36 1 44 1 -35 1 -15 1 21 1 -14 1 -61 1 -6 1 70 1 22 1 -26 1 6 1 -14 1 16 1 -56 1 11 1 -4 1 7 1 14 1 54 1 -34 1 -5 1 11 1 22 1 -20 1 -25 1 60 1 -50 1 -29 1 27 1 -28 1 50 1 -44 1 17 1 -41 1 40 1 1 1 23 1 2 1 -5" stroke="#800000"/>
</g></g>
<g class="ns" clip-path="url(#c3)" fill="none" stroke-width="3.6" stroke-linejoin="round" stroke-linecap="butt">
<g transform="translate(190.30 0) scale(1.05653 0.2)">
<path d="M120 4374l1 7 1 -31 1 -56 1 107 1 2 1 10 1 20 1 -16 1 -1 1 -14 1 2 1 -11 1 8 1 2 1 20 1 -36 1 29 1 23 1 -62 1 64 1 -25 1 -17 1 5 1 21 1 -68 1 48 1 -59 1 49 1 -22 1 -1 1 23 1 42 1 -57 1 33 1 -33 1 41 1 0 1 -6 1 -42 1 -28 1 -31 1 83" stroke="#00009f"/>
<path d="M378 4400l1 -17 1 8 1 20 1 -6 1 10 1 9 1 -47 1 23 1 -21 1 -115 1 129 1 26 1 -22 1 -5 1 27 1 -8 1 -28 1 30 1 -26 1 -15 1 -57 1 75 1 -37 1 68 1 -2 1 -38 1 25 1 -45 1 53 1 15 1 -79 1 54 1 0 1 33 1 -60 1 4 1 41 1 -43 1 -14 1 44 1 -13 1 11 1 -31 1 -37 1 59 1 14 1 -7 1 4 1 -18 1 30 1 13 1 -49 1 3 1 38 1 -10 1 24 1 20 1 -77 1 -1 1 2 1 25 1 -41 1 73 1 1 1 -19 1 -31 1 15 1 27 1 0 1 -8 1 -5 1 3 1 18 1 -67 1 33 1 8 1 6 1 9 1 21 1 -6 1 -14 1 -8 1 10 1 -12 1 17 1 -56 1 40 1 -29 1 44 1 -15 1 -8 1 -8 1 30 1 -38 1 -9 1 54 1 3 1 -27 1 -7 1 6 1 19 1 -16 1 9 1 -14 1 -5 1 -28 1 71 1 -50 1 17 1 -11 1 24 1 -14 1 -5 1 29 1 -17 1 -17 1 16 1 -17 1 19 1 3 1 6 1 9 1 -10 1 -10 1 29 1 -59 1 63 1 -32 1 -46 1 55 1 14 1 -38 1 35 1 -22 1 3 1 7 1 -25 1 3 1 -1 1 0 1 9 1 3 1 -25 1 -8 1 34 1 -20 1 1 1 17 1 -58 1 47 1 3 1 -117 1 121 1 20 1 -29 1 23 1 -26 1 11 1 -10 1 -18 1 26 1 -3 1 -9 1 -2 1 -27 1 10 1 20 1 -2 1 -47 1 -11 1 59 1 -9 1 5 1 -22 1 42 1 -61 1 66 1 -38 1 20 1 27 1 -19 1 -27 1 22 1 -27 1 30 1 -12 1 -21 1 -4 1 27 1 -26 1 35 1 -20 1 24 1 -26 1 -4 1 32 1 -27 1 -75 1 89 1 10 1 -34 1 52 1 -38 1 -27 1 27 1 12 1 -14 1 5 1 -10 1 22 1 -35 1 -38 1 100 1 -89 1 37 1 -7 1 51 1 15 1 -22 1 -7 1 -94 1 123 1 -26 1 -17 1 -23 1 37 1 21 1 -36 1 10 1 -3 1 -15 1 -12 1 -5 1 26 1 14 1 -23 1 -2 1 16 1 -71 1 14" stroke="#00009f"/>
<path d="M888 4318l1 -11 1 55 1 1 1 -37 1 5 1 -35 1 25 1 -34 1 81 1 -6 1 -60 1 82 1 -50 1 22 1 17 1 -19 1 69 1 -53 1 20 1 -12 1 19 1 21 1 -21 1 35 1 -62 1 44 1 -39 1 3 1 -27 1 28 1 41 1 -6 1 24 1 -8 1 -97 1 90 1 -31 1 -22 1 34 1 -14 1 23 1 31 1 -32 1 -67 1 49 1 26 1 -124 1 123 1 -39 1 44 1 -50 1 36 1 -62 1 98 1 0 1 -6 1 -34 1 21 1 -6 1 -28 1 37 1 -29 1 -1 1 28 1 -26 1 -2 1 4 1 30 1 -33 1 4 1 8 1 33 1 -24 1 8 1 -5 1 -12 1 2 1 16 1 -18 1 9 1 17 1 16 1 -32 1 -98 1 106 1 -63 1 65 1 -47 1 42 1 -25 1 18 1 0 1 -5 1 4 1 -88 1 116 1 -61 1 1 1 20 1 -8 1 5 1 6 1 -37 1 39 1 -45 1 32 1 -18 1 1 1 -25 1 -5 1 -17 1 14 1 39 1 -173 1 134 1 62 1 -53 1 -17 1 2 1 48 1 20 1 -12 1 -49 1 35 1 -29 1 -19" stroke="#00009f"/>
<path d="M252 4377l1 41 1 -46 1 29 1 -8 1 -9 1 -16 1 -15 1 46 1 -107 1 56 1 33 1 25 1 -19 1 33 1 -24 1 -19 1 -91 1 77 1 -19 1 27 1 -10 1 -70 1 130 1 -65 1 -53 1 90 1 -31 1 -162 1 242 1 -44 1 -1 1 -21 1 -18 1 23 1 -50 1 20 1 37 1 -10 1 -35 1 -15 1 34 1 37 1 -26 1 13 1 34 1 -21 1 -49 1 43 1 -60 1 57 1 8 1 -25 1 8 1 23 1 -24 1 21 1 11 1 -51 1 33 1 -34 1 46 1 -4 1 15 1 -26 1 24 1 -27 1 34 1 -38 1 28 1 -1 1 -1 1 -23 1 -45 1 58 1 5 1 -4 1 -1 1 32 1 -22 1 -47 1 -38 1 54 1 24 1 -1 1 -42 1 58 1 -3 1 40 1 -31 1 -13 1 25 1 -39 1 30 1 -68 1 38 1 -33 1 -8 1 16 1 28 1 -3 1 -15 1 2 1 46 1 -29 1 -14 1 39 1 -12 1 -36 1 18 1 -65 1 64 1 4 1 11 1 19 1 -56 1 32 1 13 1 6 1 7 1 3 1 5 1 -2 1 -33 1 -2 1 35 1 -26 1 -25 1 31 1 -17 1 19 1 10 1 -19 1 -20 1 30 1 -26 1 -6 1 34 1 -60 1 48 1 -31 1 28 1 -25 1 36 1 -15 1 8 1 -18 1 50 1 -44 1 37 1 -30 1 -18 1 -19 1 35 1 -3 1 22 1 -28 1 -3 1 44 1 -144 1 72 1 51 1 -15 1 -81 1 67 1 -12 1 7 1 -62 1 22 1 16 1 45 1 31 1 4 1 -25 1 19 1 -37 1 17 1 29 1 -4 1 -34 1 36 1 -104 1 79 1 4 1 -81 1 105 1 -29 1 -43 1 54 1 -20 1 21 1 -20 1 -50 1 37 1 -6 1 13 1 -50 1 8 1 -19 1 58 1 -43 1 -7 1 46 1 7 1 -59 1 62 1 -15 1 30 1 1 1 -32 1 2 1 32 1 -3 1 -29 1 -17 1 -7 1 8 1 50 1 -29 1 23 1 -90 1 57 1 -54 1 15 1 9 1 49 1 -61 1 69 1 -23 1 -97 1 62 1 25 1 4 1 1 1 -26 1 58 1 -136 1 137 1 -62 1 -9 1 56 1 -79 1 38 1 2 1 -3 1 -89 1 58 1 67 1 -55 1 -43 1 -49 1 54 1 -17 1 35 1 77 1 -104 1 0 1 37 1 36 1 46 1 -58 1 -13 1 27 1 6 1 -24" stroke="#0000bf"/>
<path d="M1056 4389l1 -31 1 58 1 -59 1 -12 1 -41 1 59 1 4 1 -36 1 77 1 -33 1 -80 1 97 1 7 1 -113 1 88 1 -75 1 100 1 -12 1 -39 1 35 1 27 1 4 1 -15 1 15 1 4 1 -28 1 36 1 -141 1 119 1 27 1 -59 1 42 1 -21 1 44 1 -23 1 -19 1 6 1 -48 1 6 1 72 1 -19 1 10 1 -35 1 43 1 -15 1 23 1 9 1 -111 1 66 1 2 1 34 1 -73 1 -70 1 95 1 -50 1 32 1 41 1 13 1 -29 1 -21 1 18 1 -54 1 78 1 -17 1 -6 1 -25 1 5 1 -5 1 15 1 21 1 2 1 31 1 -54 1 21 1 -1 1 13 1 -14 1 17 1 13 1 -46 1 24 1 -2 1 7 1 6 1 18 1 -25 1 13 1 -36 1 20 1 16 1 -99 1 79 1 -15 1 -29 1 75 1 -5 1 -20 1 11 1 7 1 -15 1 42 1 -29 1 -15 1 -23 1 58 1 -18 1 20 1 -9 1 -14 1 -16 1 -5 1 -53 1 -79 1 128 1 -30 1 27 1 -20 1 55 1 -12 1 19 1 -22 1 -10 1 -26 1 37 1 -5 1 -41 1 66 1 -17 1 -12 1 -12 1 15 1 -53 1 -5 1 21 1 6 1 29 1 -21 1 -43 1 43 1 -47 1 16 1 53 1 -37 1 9 1 28 1 -12 1 6 1 17 1 -51 1 15 1 -10 1 17 1 20 1 -22 1 -41 1 39 1 41 1 -32 1 -4 1 -29 1 -9 1 -77 1 106 1 40 1 -71 1 27 1 45 1 -91 1 42 1 -10 1 -85 1 79 1 -26 1 -15 1 -32 1 101 1 -84 1 59 1 26 1 20" stroke="#0000bf"/>
<path d="M1038 4348l1 22 1 -7 1 33 1 -36 1 53 1 -13 1 -91 1 29 1 56 1 -29 1 0 1 -151 1 180 1 -81 1 15 1 56 1 11 1 -136 1 61 1 43 1 -27 1 53 1 -99 1 85 1 -4 1 27 1 -4 1 -36 1 10 1 7 1 -30 1 22 1 48 1 -53 1 5 1 12 1 26 1 -7 1 -13 1 7 1 -71 1 69 1 26 1 -45 1 -5 1 3 1 71 1 -18 1 3 1 -59 1 25 1 -35 1 9 1 -70 1 107 1 -17 1 34 1 -3 1 -52 1 28 1 -5 1 10 1 -17 1 38 1 -16 1 -20 1 29 1 -31 1 -12 1 65 1 0 1 -44 1 16 1 15 1 -49 1 25 1 -14 1 -1 1 -4 1 -6 1 68 1 -47 1 11 1 -56 1 -18 1 107 1 -140 1 113 1 21 1 -134 1 90 1 39 1 -193 1 169 1 32 1 -25 1 -2 1 22 1 -50 1 40 1 -15 1 -112 1 67 1 -13 1 84 1 -17 1 -45 1 40 1 -75 1 61 1 -6 1 23 1 -145 1 142 1 -15 1 -5 1 -51 1 85 1 2 1 -39 1 33 1 -33 1 -18 1 27 1 37 1 -31 1 29 1 -28 1 -7 1 14 1 22 1 -65 1 22 1 -106 1 115 1 40 1 -55 1 25 1 -45 1 56 1 -10 1 -19 1 38 1 11 1 -27 1 19 1 -27 1 43 1 -22 1 -16 1 -31 1 -40 1 55 1 15 1 22 1 -58 1 32 1 -35 1 38 1 18 1 14 1 -35 1 -30 1 55 1 -32 1 -13 1 42 1 -27 1 -2 1 -22 1 51 1 -22 1 -17 1 16 1 -23 1 -101 1 89 1 8 1 20 1 -29 1 3 1 -23 1 44 1 -30 1 15 1 -15 1 26 1 -6 1 37 1 -96 1 35 1 10 1 39 1 -77 1 83 1 3 1 -10 1 -45 1 43 1 20 1 24 1 -62 1 48 1 -23 1 1 1 -26 1 35 1 -5 1 -25 1 -52 1 67 1 18 1 -48 1 -82 1 41 1 36 1 -25 1 -16 1 58 1 29 1 -120 1 108 1 29 1 -16 1 -23 1 -23 1 -38 1 31 1 18 1 21 1 -66 1 -15 1 42 1 18 1 9 1 -92 1 -30 1 111 1 -13 1 11" stroke="#0000df"/>
<path d="M552 4328l1 28 1 -15 1 2 1 15 1 25 1 26 1 -41 1 -7 1 -96 1 114 1 25 1 -43 1 46 1 -42 1 3 1 -15 1 38 1 8 1 6 1 2 1 -22 1 21 1 0 1 6 1 9 1 26 1 -25 1 0 1 -4 1 6 1 4 1 -68 1 56 1 -8 1 -14 1 52 1 -24 1 0 1 22 1 -28 1 -3 1 40 1 -84 1 88 1 -13 1 -26 1 -14 1 3 1 13 1 -71 1 82 1 12 1 -15 1 -34 1 24 1 2 1 -26 1 14 1 -6 1 -28 1 37 1 20 1 -51 1 58 1 -25 1 8 1 3 1 -66 1 37 1 -36 1 23 1 27 1 5 1 28 1 -13 1 -30 1 2 1 -8 1 25 1 -33 1 56 1 -7 1 -13 1 -30 1 21 1 6 1 -3 1 18 1 3 1 -14 1 10 1 -40 1 16 1 -36 1 34 1 5 1 17 1 7 1 -12 1 -9 1 17 1 -19 1 -46 1 37 1 -34 1 45 1 -65 1 80 1 -58 1 59 1 -21 1 14 1 -22 1 -2 1 -8 1 29 1 8 1 -1 1 5 1 16 1 -115 1 82 1 -18 1 -28 1 21 1 45 1 -15 1 -36 1 31 1 2 1 17 1 -26 1 41 1 -32 1 14 1 -15 1 -14 1 30 1 16 1 12 1 -29 1 -5 1 21 1 -8 1 -71 1 50 1 17 1 -1 1 -26 1 10 1 -19 1 34 1 -33 1 37 1 -57 1 -6 1 59 1 -38 1 6 1 42 1 1 1 -38 1 -9 1 -3 1 39 1 -19 1 -10 1 4 1 22 1 -2 1 1 1 2 1 11 1 -8 1 8 1 -19 1 5 1 -12 1 37 1 -25 1 -14 1 -55 1 48 1 -22 1 25 1 13 1 -63 1 7 1 6 1 -17 1 -49 1 86 1 10 1 -43 1 50 1 -34 1 5 1 5 1 25 1 5 1 -36 1 31 1 -12 1 -31 1 42 1 8 1 -15 1 -16 1 33 1 -50 1 4 1 -25 1 71 1 1 1 -10 1 8 1 -25 1 16 1 5 1 2 1 -82 1 7" stroke="#0020ff"/>
<path d="M1224 4345l1 -37 1 5 1 15 1 -32 1 123 1 -90 1 74 1 -7 1 -38 1 -62 1 27 1 62 1 -49 1 55 1 2 1 10 1 -9 1 1 1 -23 1 14 1 17 1 -22 1 -22 1 -15 1 -7 1 53 1 -36 1 29 1 34 1 -46 1 72 1 -33 1 8 1 -15 1 -33 1 24 1 -3 1 -30 1 35 1 42 1 -64 1 21 1 8 1 -8 1 -9 1 -41 1 46 1 26 1 -25 1 25 1 -14 1 -32 1 53 1 -49 1 -12 1 55 1 1 1 15 1 -15 1 -10 1 -10 1 26 1 -20 1 25 1 -34 1 -11 1 -17 1 7 1 38 1 -35 1 14 1 5 1 -30 1 25 1 -25 1 -18 1 73 1 -65 1 20 1 15 1 -7 1 10 1 -47 1 -15 1 40 1 -7 1 31 1 12 1 -14 1 -22 1 26 1 -2 1 10 1 -3 1 27 1 -30 1 36 1 -22 1 9 1 9 1 3 1 -19 1 -5 1 -13 1 34 1 3 1 -36 1 8 1 -7 1 34 1 3 1 -44 1 23 1 -39 1 -3 1 -25 1 23 1 19 1 42 1 -202 1 184 1 -3 1 -3 1 14 1 -19 1 6 1 1 1 -12 1 20 1 -17 1 32 1 -11 1 -25 1 23 1 -49 1 26 1 15 1 -34 1 43 1 -21 1 3 1 -51 1 27 1 42 1 -40 1 33 1 -21 1 8 1 -11 1 -75 1 42 1 18 1 27 1 -31 1 -25 1 25 1 37 1 -66 1 4 1 8 1 17 1 -82 1 137 1 -12 1 12 1 -77 1 73 1 -38 1 38 1 -3 1 -20 1 -105 1 133 1 -21 1 -12 1 20 1 -34 1 23 1 5 1 -34" stroke="#0020ff"/>
<path d="M0 4390l1 -39 1 59 1 -82 1 87 1 -6 1 -38 1 -55 1 25 1 57 1 0 1 14 1 30 1 -51 1 3 1 10 1 21 1 -10 1 6 1 -60 1 80 1 -50 1 3 1 52 1 -2 1 0 1 -15 1 -40 1 43 1 1 1 -29 1 46 1 -7 1 10 1 -21 1 -39 1 17 1 -15 1 10 1 53 1 -99 1 19 1 -8" stroke="#0040ff"/>
<path d="M318 4345l1 -3 1 49 1 -52 1 17 1 -13 1 -45 1 78 1 14 1 -39 1 -4 1 57 1 -137 1 80 1 8 1 42 1 9 1 -41 1 76 1 -52 1 22 1 -68 1 103 1 -55 1 26 1 -84 1 22 1 -27 1 65 1 -29 1 44 1 -41 1 37 1 -85 1 62 1 29 1 -3 1 3 1 12 1 -62 1 41 1 -4 1 -14 1 -53 1 61 1 2 1 12 1 -10 1 1 1 -36 1 38 1 23 1 -18 1 -8 1 29 1 -23 1 25 1 -6 1 -39 1 4 1 20 1 -32 1 22 1 41 1 0 1 -29 1 23 1 -14 1 12 1 -15 1 19 1 -4 1 8 1 -17 1 33 1 -32 1 14 1 -1 1 -67 1 42 1 11 1 -32 1 40 1 4 1 -24 1 11 1 27 1 -38 1 17 1 2 1 2 1 -30 1 12 1 -2 1 39 1 -44 1 48 1 -38 1 0 1 10 1 7 1 -28 1 28 1 -58 1 72 1 -5 1 -9 1 1 1 2 1 -11 1 2 1 -39 1 16 1 11 1 -10 1 -20 1 -23 1 -9 1 52 1 -10 1 -5 1 -1 1 28 1 1 1 -14 1 35 1 -3 1 -8 1 -10 1 26 1 -127 1 105 1 -63 1 53 1 -24 1 42 1 8 1 -22 1 2 1 4 1 -60 1 -70 1 111 1 -74 1 81 1 -38 1 10 1 -3 1 -45 1 75 1 -46 1 30 1 -36 1 50 1 -58 1 37 1 30 1 -23 1 16 1 -41 1 33 1 -14 1 47 1 -57 1 49 1 -39 1 -37 1 14 1 58 1 -33 1 -57 1 56 1 -76 1 64 1 -56" stroke="#0040ff"/>
<path d="M1044 4409l1 -8 1 4 1 -11 1 -63 1 16 1 3 1 -4 1 54 1 -19 1 29 1 -34 1 -80 1 109 1 24 1 -25 1 10 1 -39 1 54 1 -85 1 87 1 -69 1 29 1 8 1 -27 1 18 1 -9 1 -1 1 -8 1 43 1 -38 1 -37 1 34 1 38 1 -9 1 -12 1 25 1 -8 1 -2 1 27 1 -27 1 17 1 -8 1 12 1 -22 1 -52 1 61 1 18 1 3 1 -34 1 11 1 -5 1 12 1 15 1 -38 1 48 1 16 1 -41 1 37 1 -73 1 13 1 37 1 18 1 -79 1 47 1 14 1 -33 1 49 1 -53 1 50 1 -6 1 -64 1 56 1 -45 1 56 1 -34 1 21 1 -26 1 -17 1 62 1 -2 1 6 1 -45 1 5 1 -28 1 42 1 -5 1 -53 1 66 1 -12 1 29 1 -28 1 -18 1 39 1 -48 1 -33 1 62 1 5 1 15 1 -24 1 20 1 -8 1 1 1 -35 1 18 1 -7 1 19 1 12 1 -36 1 -10 1 34 1 -48 1 -36 1 30 1 51 1 -54 1 35 1 5 1 -31 1 30 1 5 1 -43 1 -11 1 13 1 -6 1 -45 1 33 1 -65 1 103 1 38 1 -11 1 -62 1 15 1 -13 1 59 1 4 1 -32 1 9 1 -30 1 52 1 -25 1 -8 1 -32 1 -38 1 78 1 2 1 -2 1 0 1 21 1 -41 1 -43" stroke="#0040ff"/>
<path d="M426 4343l1 0 1 66 1 31 1 -41 1 -13 1 40 1 -75 1 69 1 -51 1 33 1 -31 1 38 1 -16 1 39 1 -142 1 83 1 3 1 -5 1 5 1 -13 1 58 1 -50 1 -58 1 126 1 -104 1 95 1 -26 1 -6 1 10 1 -7 1 -23 1 -6 1 -3 1 30 1 -23 1 -1 1 16 1 -24 1 50 1 -23 1 10 1 -22 1 44 1 9 1 -39 1 -3 1 5 1 -73 1 104 1 -9 1 -6 1 -38 1 13 1 19 1 -15 1 24 1 -59 1 37 1 12 1 -8 1 19 1 -33 1 5 1 -38 1 18 1 44 1 -38 1 45 1 -95 1 50 1 -2 1 36 1 11 1 -92 1 81 1 29 1 -13 1 -44 1 -30 1 19 1 52 1 -132 1 140 1 -18 1 -12 1 -2 1 -4 1 55 1 -22 1 -26 1 -71 1 56 1 8 1 5 1 -2 1 27 1 2 1 -33 1 1 1 -20 1 63 1 -40 1 42 1 -58 1 -71 1 -63 1 172 1 -8 1 -2 1 34 1 -32 1 18 1 -27 1 3 1 -7 1 42 1 -36 1 55 1 -54 1 27 1 -47 1 14 1 -153 1 136 1 26 1 12 1 -4 1 9 1 -53 1 56 1 -39 1 20 1 -69 1 59 1 -35 1 -38 1 70 1 32 1 -6 1 -73 1 10 1 28 1 26 1 -113 1 137 1 -23 1 -27 1 -14 1 55 1 -19 1 31 1 -114 1 76 1 40 1 -73 1 74 1 -51 1 54 1 -6 1 6 1 -79 1 43 1 -13 1 44 1 -24 1 10 1 -9 1 -35 1 55 1 -143 1 109 1 -4 1 5 1 6 1 20 1 -12 1 -37 1 26 1 17 1 4 1 -45 1 -6 1 -32 1 74 1 12 1 10 1 -12 1 1 1 2 1 -4 1 -13 1 6 1 -8 1 -100 1 -3 1 70 1 28 1 23 1 -8 1 -23 1 -12 1 30 1 5 1 -19 1 35 1 -30 1 26 1 -37 1 15 1 -15 1 21 1 0 1 25 1 -18 1 -27 1 15 1 1 1 -54 1 25 1 15 1 27 1 3 1 -71 1 43 1 37 1 -27 1 -20 1 29 1 -1 1 -14 1 -7 1 -40 1 21 1 34 1 -10 1 16 1 -84 1 85 1 3 1 -26 1 -21 1 17 1 -2 1 -36 1 47 1 -47 1 62 1 -52 1 12 1 -6 1 44 1 -10 1 -29 1 -30 1 55 1 34 1 -15 1 -65 1 25 1 -48 1 65 1 -12 1 30 1 -15 1 17 1 -35 1 4 1 36 1 -44 1 -26 1 61 1 -64 1 58 1 -21 1 -31 1 -2 1 42 1 6 1 -92 1 53 1 35 1 12 1 -10 1 -26 1 61 1 -19 1 -54 1 63 1 -9 1 -99 1 73 1 -4 1 22 1 -3 1 -49 1 34 1 -38 1 7 1 26 1 -64 1 91 1 -40 1 10 1 22 1 -67 1 70 1 -11 1 -15 1 17 1 -128 1 88 1 14 1 9 1 25 1 -41 1 -111 1 113 1 10 1 -2 1 -129 1 168 1 -54 1 -33 1 52 1 -21 1 16 1 -61 1 35 1 19 1 11 1 17 1 -13 1 29 1 -55 1 30 1 -67 1 54 1 -9 1 17 1 19 1 -61 1 58 1 -17 1 -45 1 54 1 31 1 -77 1 19 1 0 1 2 1 -32 1 -31 1 55 1 64 1 -34 1 -4 1 3 1 -47 1 -12 1 68 1 -35 1 -41 1 12 1 43 1 5 1 -14 1 6 1 4 1 0 1 -8 1 5 1 -46" stroke="#0060ff"/>
<path d="M1338 4413l1 3 1 -9 1 19 1 -58 1 57 1 -13 1 -5 1 23 1 -25 1 -31 1 -61 1 89 1 -88 1 107 1 32 1 -39 1 2 1 -21 1 13 1 -7 1 -2 1 12 1 7 1 -11 1 7 1 -48 1 57 1 -37 1 11 1 37 1 -45 1 20 1 29 1 -50 1 -20 1 33 1 -14 1 20 1 28 1 -22 1 10 1 -1 1 -7 1 -18 1 -1 1 24 1 -43 1 -4 1 23 1 28 1 4 1 -28 1 -10 1 29 1 -6 1 25 1 -1 1 1 1 -20 1 9 1 -50 1 59 1 -29 1 -79 1 88 1 -12 1 12 1 1 1 -23 1 19 1 -66 1 95 1 -3 1 -42 1 -101 1 88 1 -10 1 18 1 48 1 -59 1 36 1 -13 1 -45 1 42 1 -1 1 10 1 -1 1 -34 1 6 1 73 1 -52 1 -59 1 87 1 -22 1 -27 1 29 1 -15 1 11 1 -2 1 -87 1 79 1 4" stroke="#0060ff"/>
<path d="M0 4364l1 28 1 10 1 6 1 -60 1 23 1 21 1 -147 1 150 1 -16 1 -34 1 -2 1 28 1 -83 1 54 1 -9 1 45 1 21 1 -10 1 1 1 -6 1 34 1 -34 1 16 1 47 1 -40 1 45 1 -56 1 12 1 -90 1 102 1 -52 1 46 1 -38 1 -2 1 17 1 51 1 -111 1 30 1 19 1 -31 1 62 1 -53 1 83 1 -38 1 -18 1 19 1 38 1 -41 1 25 1 -10 1 -59 1 19 1 37 1 -44 1 32 1 24 1 -17 1 -11 1 1 1 -4 1 -34 1 33 1 22 1 -7 1 10 1 -19 1 -3 1 31 1 -52 1 26 1 -27 1 15 1 -24 1 34 1 -27 1 -89 1 -1 1 145 1 -99 1 93 1 -52 1 -43 1 88 1 -21 1 25 1 6 1 -1 1 -16 1 -1 1 8 1 2 1 15 1 -22 1 2 1 6 1 20 1 -1 1 0 1 -55 1 37 1 21 1 -27 1 -3 1 -27 1 27 1 18 1 -27 1 13 1 8 1 -15 1 11 1 -18 1 0 1 3 1 2 1 -5 1 24 1 -32 1 0 1 33 1 -23 1 22 1 -19 1 -3 1 29 1 -3 1 -22 1 32 1 -29 1 10 1 13 1 -42 1 39 1 -11 1 1 1 -13 1 -45 1 64 1 -6 1 -12 1 -25 1 23 1 28 1 -38 1 42 1 -48 1 -53 1 69 1 12 1 -13 1 -21 1 -4 1 6 1 -6 1 55 1 -36 1 16 1 9 1 2 1 -2 1 3 1 -34 1 50 1 -26 1 -5 1 -51 1 29 1 30 1 -13 1 2 1 40 1 -74 1 59 1 -48 1 24 1 50 1 -62 1 7 1 22 1 -9 1 -11 1 40 1 -157 1 76 1 -16 1 47 1 -8 1 14 1 -18 1 -38 1 63 1 10 1 14 1 -46 1 -1 1 53 1 -43 1 -16 1 11 1 20 1 -17 1 1 1 -33 1 8 1 51 1 -89 1 -43 1 87 1 -47 1 76" stroke="#0080ff"/>
<path d="M792 4304l1 100 1 -12 1 -27 1 35 1 12 1 11 1 -61 1 41 1 41 1 -18 1 -5 1 -49 1 20 1 -8 1 49 1 -137 1 123 1 -51 1 55 1 -50 1 12 1 26 1 -20 1 -97" stroke="#0080ff"/>
<path d="M1410 4367l1 13 1 9 1 16 1 -8 1 44 1 -23 1 -19 1 4 1 1 1 -4 1 16 1 -1 1 17 1 5 1 -4 1 6 1 -49 1 -24 1 -25 1 8 1 111 1 -70 1 -45 1 85 1 3 1 -84 1 67 1 -14 1 1 1 -43" stroke="#0080ff"/>
<path d="M486 4284l1 101 1 -57 1 29 1 -19 1 86 1 -80 1 51 1 8 1 12 1 -12 1 7 1 20 1 -85 1 85 1 -62 1 -5 1 32 1 -23 1 29 1 17 1 -32 1 -106 1 64 1 47 1 -33 1 4 1 83 1 -81 1 -5 1 49 1 14 1 -76 1 65 1 -35 1 19 1 -38 1 47 1 7 1 12 1 -52 1 28 1 7 1 -38 1 1 1 5 1 6 1 11 1 44 1 -27 1 1 1 -6 1 -83 1 81 1 -29 1 10 1 -68 1 82 1 -27 1 -29 1 77 1 -37 1 -45 1 25 1 45 1 -3 1 13 1 -9 1 -30 1 57 1 -30 1 42 1 -25 1 1 1 -8 1 18 1 -15 1 0 1 10 1 -6 1 -1 1 -67 1 19 1 35 1 18 1 -44 1 32 1 -60 1 40 1 -7 1 3 1 -75 1 21 1 74 1 -38 1 23 1 36 1 -29 1 -5 1 49 1 -55 1 24 1 -3 1 14 1 -34 1 56 1 -32 1 -3 1 20 1 -66 1 49 1 17 1 -108 1 100 1 -8 1 20 1 -58 1 30 1 -1 1 -45 1 29 1 26 1 5 1 -108 1 34 1 86 1 3 1 -100 1 100 1 -4 1 -6 1 0 1 -45 1 53 1 -29 1 -20 1 16 1 18 1 -54 1 38 1 13 1 -10 1 3 1 12 1 -19 1 10 1 -68 1 61 1 -22 1 10 1 6 1 -4 1 24 1 0 1 -13 1 -2 1 0 1 21 1 -35 1 1 1 -3 1 -1 1 35 1 -22 1 11 1 -33 1 59 1 -35 1 -27 1 21 1 17 1 15 1 -16 1 16 1 -45 1 27 1 25 1 -12 1 -9 1 -76 1 60 1 10 1 13 1 3 1 26 1 -17 1 -39 1 7 1 -31 1 49 1 11 1 -49 1 48 1 -20 1 20 1 -28 1 -35 1 51 1 -15 1 -22 1 -41 1 18 1 80 1 -31 1 -45 1 60 1 -11 1 6 1 -13 1 -4 1 6 1 -10 1 -10 1 7 1 -22 1 11 1 21 1 -14 1 10 1 36 1 -17 1 27 1 -16 1 -93 1 93 1 -1 1 -59 1 39 1 -19 1 20 1 -14 1 5 1 -27 1 47 1 -31 1 38 1 -69 1 52 1 7 1 -26 1 13 1 -36 1 -8 1 66 1 -15 1 26 1 -49 1 31 1 -15 1 9 1 -47 1 29 1 5 1 28 1 -37 1 3 1 44 1 -13 1 -17 1 -38 1 34 1 14 1 -88 1 102 1 -47 1 18 1 38 1 -49 1 34 1 1 1 21 1 -41 1 34 1 -35 1 27 1 -63 1 47 1 -21 1 25 1 -36 1 9 1 2 1 -11 1 -2 1 -3 1 -1 1 32 1 -35 1 38 1 -6 1 -16 1 7 1 -47 1 35 1 2 1 19 1 33 1 -51 1 -4 1 -15 1 54 1 -16 1 -11 1 6 1 -44 1 -35 1 91 1 -60 1 25 1 -1 1 19 1 -56 1 10 1 47 1 -48 1 34 1 -69 1 20 1 77 1 21 1 -19 1 27 1 -34 1 19 1 -15 1 -29 1 10 1 -65 1 -59 1 106 1 39 1 -13 1 -60 1 36 1 36 1 -54 1 4 1 29 1 -41 1 31 1 15 1 2 1 35 1 -33 1 24 1 -11 1 -47 1 3 1 26" stroke="#009fff"/>
<path d="M1254 4423l1 -37 1 -43 1 45 1 12 1 -61 1 50 1 -10 1 19 1 -77 1 57 1 23 1 -30 1 31 1 14 1 -1 1 -30 1 24 1 10 1 -19 1 -64 1 95 1 -13 1 25 1 -55 1 -19 1 -9 1 44 1 -21 1 4 1 -76 1 -15 1 130 1 -18 1 -75 1 41 1 7 1 0 1 -11 1 9 1 2 1 10 1 -33 1 14 1 43 1 -64 1 100 1 -25 1 -40 1 -20 1 69 1 -49 1 -3 1 0 1 -18 1 31 1 22 1 -87 1 41 1 -5 1 48 1 -18 1 -8 1 -31 1 9 1 3 1 -44 1 41 1 -26 1 54 1 2 1 -57 1 67" stroke="#009fff"/>
<path d="M42 4374l1 -20 1 60 1 -34 1 6 1 -1 1 14 1 -24 1 9 1 38 1 -17 1 -20 1 -4 1 47 1 -11 1 -89 1 91 1 -22 1 -81 1 53 1 4 1 25 1 -18 1 6 1 3 1 17 1 6 1 -33 1 47 1 -16 1 14 1 -71 1 48 1 17 1 11 1 -25 1 -146 1 159 1 -34 1 -34 1 88 1 -12 1 -22 1 8 1 -14 1 2 1 34 1 -27 1 -11 1 22 1 8 1 -1 1 -54 1 57 1 -17 1 17 1 -58 1 27 1 24 1 5 1 6 1 -27 1 39 1 -51 1 -71 1 101 1 2 1 -15 1 32 1 -59 1 40 1 6 1 4 1 -23 1 -15 1 24 1 -12 1 7 1 -1 1 -52 1 79 1 -29 1 -41 1 63 1 -15 1 -11 1 33 1 -73 1 32 1 -17 1 43 1 -19 1 -8 1 39 1 -9 1 -7 1 -17 1 31 1 -31 1 25 1 -25 1 12 1 23 1 -14 1 -22 1 -21 1 24 1 11 1 -36 1 -12 1 39 1 8 1 0 1 -40 1 42 1 -5 1 18 1 -35 1 43 1 -82 1 63 1 17 1 4 1 -39 1 -7 1 29 1 -1 1 -33 1 -10 1 -96 1 119 1 -30 1 80 1 -20 1 -4 1 -95 1 87 1 12 1 -7 1 2 1 -8 1 9 1 -10 1 -1 1 17 1 -24 1 43 1 -47 1 7 1 -12 1 -58 1 39 1 29 1 -6 1 -3 1 18 1 -2 1 -30 1 38 1 -59 1 15 1 41 1 -5 1 14 1 -15 1 -30 1 48 1 -40 1 -21 1 47 1 3 1 8 1 -45 1 34 1 -16 1 -25 1 65 1 -33 1 14 1 -39 1 25 1 -19 1 -24 1 73 1 -89 1 64 1 -24 1 6 1 7 1 -38 1 -14 1 9 1 -30 1 -45 1 58 1 64 1 -16 1 10 1 -40 1 45 1 -19 1 17 1 -2 1 0 1 -39 1 17 1 -16 1 -7 1 -18 1 48 1 -38" stroke="#00bfff"/>
<path d="M810 4294l1 8 1 96 1 -11 1 -88 1 52 1 -13 1 50 1 -30 1 27 1 -1 1 19 1 -24 1 -88 1 59 1 20 1 35 1 -140 1 81 1 14 1 20 1 56 1 -5 1 -99 1 55 1 -5 1 -142 1 100 1 31 1 -12 1 -24 1 47 1 -5 1 -29 1 32 1 -34 1 39 1 -39 1 26 1 16 1 -6 1 21 1 -2 1 0 1 6 1 -22 1 27 1 -19 1 -19 1 -98 1 114 1 -27 1 -5 1 -45 1 75 1 1 1 1 1 37 1 -30 1 -21 1 28 1 -2 1 -24 1 61 1 -8 1 -30 1 4 1 11 1 33 1 -31 1 -8 1 7 1 9 1 -33 1 14 1 -6 1 37 1 -39 1 19 1 17 1 -47 1 27 1 -50 1 35 1 -69 1 92 1 -29 1 19 1 -57 1 21 1 46 1 -47 1 10 1 6 1 27 1 -55 1 28 1 21 1 5 1 -22 1 -34 1 -17 1 16 1 48 1 -56 1 54 1 15 1 -7 1 -53 1 56 1 -33 1 57 1 -57 1 -1 1 -19 1 -18 1 38 1 23 1 12 1 -17 1 26 1 -30 1 13 1 -45 1 9 1 10 1 -20 1 -7 1 12 1 33 1 17 1 -86 1 47 1 10 1 8 1 -42 1 -19 1 43 1 -29 1 8 1 -14 1 -4 1 61 1 -59 1 16" stroke="#00bfff"/>
<path d="M96 4334l1 8 1 28 1 35 1 -34 1 -1 1 8 1 26 1 2 1 -24 1 -48 1 27 1 -18 1 3 1 -3 1 9 1 20 1 -18 1 -81 1 31 1 -2 1 49 1 -105 1 66 1 34 1 9 1 -9 1 23 1 -6 1 51 1 -39 1 -31 1 51 1 20 1 10 1 -52 1 38 1 -18 1 12 1 -23 1 23 1 -1 1 -39 1 14 1 40 1 -124 1 112 1 -1 1 -9 1 -6 1 16 1 -12 1 24 1 -3 1 24 1 -13 1 -16 1 20 1 -19 1 23 1 -23 1 -45 1 66 1 -21 1 10 1 21 1 -15 1 -16 1 25 1 -20 1 13 1 -32 1 36 1 -3 1 -13 1 10 1 -11 1 -18 1 39 1 -35 1 41 1 -1 1 -33 1 7 1 -45 1 -38 1 5 1 42 1 -53 1 41 1 40 1 19 1 -78 1 39 1 49 1 -62 1 6 1 14 1 5 1 -14 1 50 1 -11 1 -2 1 1 1 -7 1 -20 1 -5 1 30 1 11 1 -5 1 8 1 -4 1 -15 1 4 1 -1 1 6 1 -37 1 44 1 -19 1 36 1 -33 1 -4 1 -30 1 58 1 -21 1 3 1 -11 1 24 1 -28 1 -3 1 4 1 -7 1 28 1 -30 1 -21 1 6 1 11 1 38 1 -6 1 0 1 7 1 -72 1 36 1 -9 1 15 1 -54 1 -1 1 36 1 26 1 -29 1 23 1 34 1 -40 1 -7 1 32 1 -1 1 -103 1 81 1 -13 1 -16 1 19 1 -42 1 4 1 45 1 20 1 -45 1 24 1 -22 1 -10 1 54 1 -21 1 12 1 -26 1 6 1 -98 1 -29 1 119 1 -120 1 105 1 20 1 -25" stroke="#00dfff"/>
<path d="M834 4396l1 -40 1 48 1 -7 1 -18 1 14 1 -16 1 37 1 -47 1 8 1 10 1 48 1 -77 1 52 1 -69 1 23 1 0 1 27 1 1 1 -44 1 44 1 -2 1 24 1 -23 1 -18 1 -22 1 55 1 -99 1 124 1 -56 1 27 1 -14 1 -9 1 50 1 -128 1 98 1 6 1 4 1 -114 1 125 1 -55 1 3 1 3 1 7 1 32 1 -65 1 93 1 -29 1 28 1 -3 1 -53 1 34 1 -12 1 12 1 27 1 -29 1 34 1 -59 1 19 1 8 1 -8 1 -18 1 3 1 17 1 -56 1 41 1 19 1 -47 1 64 1 -22 1 -42 1 9 1 12 1 -12 1 -20 1 2 1 58 1 -45 1 0 1 -31 1 88 1 -74 1 24 1 15 1 37 1 -51 1 11 1 45 1 -80 1 32 1 -23 1 35 1 30 1 -91 1 57 1 26 1 -50" stroke="#00dfff"/>
<path d="M312 4354l1 -66 1 62 1 42 1 35 1 -33 1 1 1 -19 1 -24 1 12 1 57 1 -52 1 23 1 16 1 8 1 -3 1 -54 1 59 1 -7 1 15 1 13 1 -30 1 8 1 12 1 -16 1 -32 1 23 1 -32 1 21 1 -34 1 30 1 -24 1 12 1 20 1 -10 1 20 1 -12 1 -14 1 21 1 26 1 15 1 -27 1 -33 1 14 1 29 1 -22 1 -23 1 26 1 -17 1 -18 1 -8 1 29 1 29 1 -17 1 8 1 -35 1 29 1 -2 1 -17 1 24 1 -128 1 110 1 35 1 -47 1 7 1 15 1 -15 1 -52 1 89 1 -30 1 21 1 -8 1 -23 1 -14 1 55 1 -27 1 1 1 -26 1 75" stroke="#00ffff"/>
<path d="M930 4377l1 -17 1 18 1 -44 1 28 1 37 1 -58 1 50 1 58 1 -49 1 -20 1 13 1 28 1 -39 1 26 1 -14 1 -5 1 8 1 -7 1 21 1 -23 1 25 1 -26 1 -22 1 89 1 -44 1 -5 1 -17 1 33 1 -64 1 34 1 12 1 -1 1 19 1 -2 1 -16 1 12 1 -15 1 -21 1 29 1 -49 1 41 1 17 1 -20 1 43 1 -29 1 -9 1 2 1 -4 1 48 1 -37 1 -15 1 30 1 -60 1 31 1 21 1 -29 1 -13 1 20 1 -8 1 -13 1 39 1 25 1 -20 1 -18 1 25 1 -16 1 -2 1 15 1 -25 1 -11 1 -31 1 59 1 -14 1 17 1 -10 1 15 1 -56 1 37 1 -38 1 57 1 5 1 -8 1 6 1 3 1 -20 1 21 1 -11 1 -19 1 29 1 -49 1 32 1 25 1 2 1 -44 1 16 1 -5 1 -18 1 19 1 48 1 -24 1 1 1 4 1 2 1 8 1 -32 1 34 1 6 1 -33 1 -24 1 50 1 -69 1 35 1 5 1 -30 1 26 1 -28 1 28 1 28 1 5 1 -43 1 2 1 36 1 -5 1 -53 1 40 1 -74 1 98 1 -45 1 -8 1 41 1 -44 1 -7 1 50 1 -10 1 22 1 -17 1 24 1 -46 1 -37 1 -8 1 25 1 31 1 14 1 -1 1 -25 1 2 1 2 1 29 1 14 1 -78 1 42 1 -11 1 -2 1 -32 1 -60 1 72 1 22 1 35 1 -51 1 32 1 8 1 -12 1 6 1 -16 1 31 1 20 1 -26 1 -1 1 -10 1 -9 1 -15 1 -4 1 20 1 -2 1 28 1 -4 1 13 1 -52 1 23 1 -43 1 22 1 4 1 40 1 -15 1 -27 1 58 1 -35 1 -24 1 34 1 5 1 -20 1 -16 1 -26 1 38 1 -131 1 119 1 19 1 -25 1 -55 1 33 1 -16 1 41 1 20 1 4 1 -29 1 26 1 -80 1 74 1 22 1 -78 1 21 1 48 1 -72 1 48 1 -26 1 23 1 16 1 18 1 -5 1 -15 1 -70 1 49 1 26 1 -24 1 -12 1 44 1 -52 1 43 1 -13 1 -22 1 -13 1 15 1 28 1 -17 1 27 1 -39 1 -12 1 9 1 -67 1 70 1 -15 1 5 1 63 1 -24 1 -40 1 46 1 -61 1 16 1 -38 1 28 1 19 1 -62 1 83 1 -55 1 67 1 -28 1 -15 1 -26 1 -23 1 47 1 33 1 10 1 -31 1 22 1 -26 1 43 1 -33 1 29 1 -66 1 61 1 9 1 -16 1 20 1 -31 1 -6 1 -38" stroke="#00ffff"/>
<path d="M0 4306l1 -1 1 94 1 -56 1 -3 1 -23 1 1 1 57 1 -32 1 -21 1 73 1 -44 1 24 1 55 1 -59 1 45 1 -3 1 -154 1 139 1 -57 1 0 1 61 1 -51 1 32 1 39 1 -91 1 -11 1 50 1 42 1 -9 1 -29 1 4 1 -8 1 -79 1 87 1 19 1 36 1 -28 1 37 1 -14 1 22 1 -58 1 7 1 2 1 -7 1 -6 1 -1 1 23 1 -7 1 39 1 -51 1 -93 1 101 1 39 1 -16 1 -33 1 -32 1 79 1 -56 1 21 1 5 1 -21 1 -76 1 66 1 -24 1 60 1 -71 1 44 1 2 1 0 1 -17 1 25 1 7 1 3 1 14 1 -38 1 23 1 -45 1 19" stroke="#20ffdf"/>
<path d="M624 4379l1 -49 1 -3 1 67 1 -66 1 86 1 -182 1 105 1 34 1 33 1 -82 1 101 1 -30 1 17 1 -13 1 -41 1 64 1 -19 1 16 1 -64 1 -5 1 52 1 -71 1 98 1 -53 1 -17 1 -64 1 57 1 76 1 -72 1 -80 1 161 1 -93 1 80 1 -26 1 -67 1 59 1 14 1 -16 1 1 1 24 1 -21 1 -28 1 65 1 -10 1 -51 1 51 1 -7 1 46 1 -59 1 45 1 -5 1 7 1 -30 1 14 1 -23 1 -12 1 12 1 43 1 11 1 -54 1 10 1 28 1 -20 1 37 1 -29 1 5 1 -24 1 12 1 -7 1 36 1 -36 1 1 1 -8 1 12 1 9 1 -20 1 -19 1 17 1 4 1 12 1 -26 1 -15 1 -57 1 52 1 21 1 22 1 -40 1 29 1 24 1 -18 1 -24 1 13 1 13 1 23 1 -52 1 42 1 -69 1 -31 1 110 1 -45 1 19 1 13 1 1 1 9 1 2 1 -5 1 -7 1 9 1 -12 1 5 1 -8 1 11 1 -55 1 62 1 3 1 1 1 -26 1 36 1 -22 1 -41 1 18 1 27 1 -33 1 19 1 4 1 0 1 -15 1 12 1 28 1 -22 1 -15 1 31 1 12 1 -9 1 -17 1 -97 1 88 1 5 1 -10 1 25 1 4 1 -26 1 -2 1 -9 1 22 1 -22 1 -15 1 10 1 31 1 -16 1 -2 1 -104 1 94 1 -1 1 41 1 -86 1 86 1 -1 1 -27 1 0 1 40 1 -68 1 43 1 -32 1 41 1 -79 1 64 1 -9 1 10 1 1 1 -33 1 37 1 -46 1 24 1 27 1 -6 1 -5 1 10 1 -9 1 -52 1 43 1 -14 1 35 1 -55 1 8 1 14 1 1 1 11 1 4 1 -4 1 4 1 -15 1 8 1 -7 1 -10 1 43 1 -12 1 7 1 12 1 -48 1 16 1 5 1 5 1 -40 1 20 1 21 1 -15 1 3 1 -20 1 -29 1 56 1 -52 1 40 1 -124 1 88 1 37 1 -6 1 -44 1 9 1 16 1 30 1 -31 1 17 1 0 1 -66 1 44 1 29 1 13 1 7 1 -19 1 -98 1 114 1 -16 1 -10 1 -12 1 -3 1 35 1 -30 1 -11 1 -3 1 14 1 5 1 8 1 35 1 -52 1 -8 1 -22 1 19 1 -28 1 8 1 38 1 -1 1 0 1 -52 1 60 1 0 1 -18 1 6 1 8 1 -27 1 5 1 52 1 -22 1 -37 1 2 1 5 1 8 1 4 1 -32 1 36 1 -48 1 30 1 19 1 -1 1 0 1 22 1 1 1 -6 1 1 1 -37 1 4 1 -58 1 123 1 -28 1 -33 1 -31 1 18 1 -35" stroke="#20ffdf"/>
<path d="M1410 4363l1 13 1 -50 1 49 1 -2 1 40 1 -10 1 7 1 -17 1 36 1 -95 1 54 1 -3 1 49 1 -91 1 35 1 32 1 -17 1 7 1 -37 1 39 1 -48 1 55 1 16 1 -39 1 -42 1 26 1 35 1 -10 1 14 1 -6" stroke="#20ffdf"/>
<path d="M186 4409l1 -38 1 -17 1 40 1 24 1 -46 1 -15 1 -15 1 68 1 -120 1 124 1 1 1 -20 1 -5 1 -6 1 16 1 -2 1 9 1 19 1 -29 1 39 1 -30 1 -42 1 30 1 -31 1 44 1 11 1 17 1 -28 1 -15 1 -30 1 50 1 22 1 15 1 -24 1 -16 1 33 1 -28 1 -22 1 6 1 28 1 -2 1 -37 1 39 1 -53 1 39 1 31 1 -41 1 22 1 -21 1 40 1 -12 1 8 1 -23 1 17 1 20 1 -79 1 61 1 -23 1 14 1 -18 1 -76 1 60 1 -25 1 -22 1 27 1 -44 1 78 1 -85 1 22 1 82 1 -28 1 -45 1 48 1 18 1 9 1 -34 1 -1 1 -4 1 -1 1 53 1 -30 1 -32 1 38 1 -6 1 29 1 -109 1 41 1 49 1 -11 1 -19 1 18 1 -39 1 46 1 -50 1 31 1 -15 1 11 1 20 1 5 1 -15 1 -20 1 46 1 28 1 -49 1 10 1 -44 1 33 1 -20 1 14 1 -28 1 2 1 57 1 0 1 26 1 -29 1 -74 1 33 1 -21 1 -15 1 15 1 40 1 -3 1 -11 1 26 1 16 1 -23 1 22 1 -24 1 -33 1 40 1 -22 1 -3 1 7 1 -6 1 -13 1 24 1 -7 1 13 1 -62 1 18 1 45 1 -3 1 -50 1 -19 1 54 1 -34 1 59 1 -18 1 43 1 -61 1 33 1 5 1 -24 1 8 1 -69 1 93 1 -3 1 -8 1 22 1 -12 1 -10 1 -20 1 -14 1 33 1 -34 1 -67 1 106 1 -23 1 3 1 37 1 -25 1 -18 1 1 1 10 1 36 1 -62 1 36 1 -22 1 27 1 -12 1 20 1 -2 1 -26 1 0 1 -1 1 3 1 2 1 -13 1 -38 1 63 1 3 1 -17 1 -9 1 -11 1 -27 1 44 1 -5 1 -24 1 29 1 -41 1 -119 1 133 1 41 1 -63 1 25 1 -2 1 0 1 -6 1 -38 1 13 1 -77 1 141 1 -105 1 33 1 24 1 32 1 -1 1 -72 1 3 1 56 1 -74 1 44 1 53 1 -29 1 47 1 -19 1 -30 1 60" stroke="#40ffbf"/>
<path d="M1002 4370l1 24 1 -123 1 111 1 50 1 -54 1 24 1 -57 1 -49 1 58 1 -39 1 102 1 -58 1 52 1 -24 1 -3 1 -10 1 -48 1 39 1 28 1 30 1 -106 1 51 1 -34 1 4 1 53 1 -24 1 -12 1 36 1 0 1 -34 1 60 1 3 1 2 1 -52 1 39 1 -8 1 -3 1 20 1 3 1 5 1 -15 1 27 1 -85 1 66 1 -46 1 39 1 3 1 -185 1 182 1 3 1 -44 1 9 1 -20 1 76 1 -44 1 68 1 -58 1 53 1 -66 1 19 1 -23 1 56 1 -44 1 -10 1 43 1 -2 1 -42 1 28 1 -22 1 61 1 -57 1 6 1 26 1 -8 1 12 1 -15 1 -1 1 5 1 -36 1 7 1 5 1 -15 1 41 1 22 1 -26 1 -11 1 -8 1 35 1 -5 1 -46 1 9 1 -2 1 4 1 -17 1 14 1 20 1 -41 1 42 1 -43 1 59 1 -3 1 -16 1 -18 1 29 1 10 1 10 1 -37 1 -20 1 49 1 0 1 -74 1 53 1 -52 1 10 1 -44 1 72 1 -25 1 8 1 43 1 -57 1 17 1 23 1 -57 1 37 1 31 1 -176 1 166 1 -8 1 5 1 -75 1 80 1 -33 1 52 1 -42 1 -86 1 84 1 -54 1 30 1 12 1 -5 1 -12 1 -8 1 3 1 25 1 -52 1 49 1 -6 1 -9 1 17 1 -15 1 -42 1 -2 1 50 1 30 1 -12 1 -32 1 34 1 0 1 6 1 -26 1 -31 1 5" stroke="#40ffbf"/>
<path d="M0 4328l1 41 1 26 1 15 1 26 1 0 1 -42 1 40 1 -15 1 -68 1 61 1 -52 1 61 1 -4 1 -26 1 19 1 -20 1 6 1 -1 1 24 1 -46 1 41 1 -34 1 46 1 -30 1 -3 1 -90 1 100 1 -60 1 46 1 -45 1 -12 1 89 1 -49 1 27 1 15 1 -63 1 43 1 16 1 -37 1 4 1 38 1 2 1 43 1 -4 1 -66 1 35 1 -77 1 36 1 39 1 -27 1 33 1 -34 1 1 1 -42 1 32 1 3 1 -175 1 201 1 -11 1 10 1 -25 1 5 1 19 1 -5 1 -6 1 -10 1 38 1 -105 1 59 1 65 1 -29 1 17 1 -70 1 38 1 46 1 -35 1 14 1 -17 1 8 1 -22 1 -13 1 46 1 -17 1 18 1 6 1 -55 1 40 1 -98 1 -7 1 33 1 54 1 -21 1 8 1 -23 1 30 1 -44 1 -5 1 0 1 39 1 0 1 -19 1 -51 1 52 1 -35 1 82 1 -38 1 17 1 -57 1 34 1 -24 1 13 1 18 1 -109 1 99" stroke="#60ff9f"/>
<path d="M123 4384l1 -38 1 59 1 5 1 -1 1 13 1 -7 1 -129 1 132 1 -46 1 77 1 -38 1 11 1 6 1 -19 1 -26" stroke="#60ff9f"/>
<path d="M714 4360l1 68 1 -76 1 45 1 -13 1 22 1 -47 1 31 1 -18 1 29 1 -21 1 33 1 -17 1 -16 1 2 1 23 1 -20 1 22 1 -6 1 15 1 -60 1 48 1 14 1 20 1 -34 1 -25 1 -15 1 47 1 17 1 -104 1 77 1 -43 1 57 1 -38 1 9 1 -13 1 -16 1 33 1 2 1 -14 1 19 1 23 1 -37 1 -13 1 57 1 -34 1 36 1 -22 1 -64 1 95 1 -27 1 -132 1 129 1 14 1 5 1 -4 1 -21 1 2 1 3 1 -22 1 -3 1 40 1 -28 1 26 1 -17 1 23 1 -36 1 -12 1 65 1 -97 1 82 1 -30 1 -65 1 63 1 -12 1 24 1 -8 1 -23 1 21 1 -45 1 30 1 26 1 -43 1 26 1 2 1 16 1 14 1 -74 1 82 1 -61 1 34 1 -23 1 -13 1 52 1 -32 1 -33 1 46 1 5 1 -18 1 -23 1 9 1 -4 1 32 1 25 1 8 1 -59 1 13 1 37 1 -101 1 42 1 21 1 -66 1 86 1 -44 1 47 1 -9 1 -31 1 43 1 -37 1 -4 1 -8 1 6 1 46 1 -13 1 40 1 -9 1 -44 1 1 1 -9 1 -38 1 55 1 -93 1 104 1 -16 1 2 1 -6 1 24 1 -7 1 -63 1 23 1 10 1 -140 1 142 1 60 1 -52 1 22 1 15 1 -27 1 9 1 -9 1 20 1 -59 1 58 1 -44 1 47 1 -78 1 46 1 34 1 -13 1 0 1 -14 1 -16 1 -17 1 79 1 -84 1 28 1 -28 1 85 1 -52 1 15 1 17 1 -10 1 -7 1 -75 1 66 1 10 1 41 1 -42 1 -18 1 53 1 -30 1 49 1 -60 1 -9 1 -5 1 -54 1 86 1 -23 1 19 1 -92 1 86 1 7 1 13 1 -18 1 20 1 -22 1 -24 1 -7 1 25 1 -7 1 9 1 -21 1 -14 1 42 1 -32 1 27 1 20 1 -16 1 -36 1 -30 1 -41 1 84 1 -46 1 46 1 -31 1 35 1 17 1 27 1 -75 1 34 1 -15 1 23 1 -59 1 50 1 -4 1 -5 1 67 1 -120 1 34 1 17 1 -31 1 63 1 5 1 -3 1 -110 1 56 1 -27 1 13 1 17 1 -72 1 -83" stroke="#60ff9f"/>
<path d="M1422 4342l1 -16 1 55 1 18 1 18 1 -51 1 75 1 -87 1 22 1 -16 1 28 1 13 1 0 1 14 1 -78 1 65 1 17 1 -82 1 27" stroke="#60ff9f"/>
<path d="M18 4375l1 23 1 -66 1 47 1 25 1 20 1 -1 1 -32 1 -6 1 37 1 0 1 -21 1 44 1 -60 1 27 1 33 1 -45 1 9 1 6 1 -10 1 11 1 18 1 8 1 -4 1 15 1 -2 1 -30 1 -9 1 13 1 16 1 -27 1 18 1 -54 1 57 1 5 1 16 1 -37 1 -7 1 12 1 -21 1 16 1 4 1 9 1 -13 1 6 1 20 1 -35 1 -3 1 -9 1 15 1 -30 1 8 1 6 1 -11 1 61" stroke="#80ff80"/>
<path d="M510 4342l1 19 1 54 1 -31 1 -81 1 97 1 -32 1 -18 1 57 1 -55 1 63 1 -56 1 25 1 -41 1 50 1 -47 1 65 1 -27 1 28 1 -101 1 118 1 -94 1 8 1 65 1 -24 1 -37 1 27 1 -1 1 27 1 -3 1 10 1 18 1 -2 1 10 1 -48 1 27 1 7 1 -23 1 0 1 15 1 -5 1 26 1 -26 1 -5 1 19 1 -27 1 40 1 -30 1 34 1 -31 1 -89 1 110 1 -2 1 -30 1 -1 1 22 1 28 1 -57 1 -19 1 -1 1 37 1 -12 1 -10 1 39 1 -45 1 32 1 17 1 -32 1 -5 1 48 1 14 1 -23 1 -14 1 -9 1 45 1 -77 1 35 1 -81 1 95 1 -33 1 41 1 1 1 -33 1 33 1 1 1 -48 1 40 1 14 1 -122 1 109 1 -29 1 5 1 15 1 -28 1 25 1 24 1 -140 1 138 1 -141 1 148 1 -31 1 17 1 -51 1 37 1 -36 1 16 1 6 1 28 1 7 1 -23 1 23 1 -23 1 14 1 -2 1 -118 1 91 1 7 1 4 1 -54 1 62 1 -43 1 57 1 -27 1 -3 1 -9 1 9 1 7 1 -50 1 75 1 -3 1 -56 1 43 1 -19 1 9 1 -23 1 47 1 -13 1 -13 1 -11 1 -11 1 -18 1 24 1 -14 1 9 1 18 1 -25 1 65 1 -144 1 108 1 -61 1 17 1 10 1 -26 1 17 1 6 1 20 1 -42" stroke="#80ff80"/>
<path d="M1266 4394l1 1 1 -27 1 -49 1 52 1 -27 1 74 1 -69 1 16 1 -65 1 -10 1 98 1 -23 1 11 1 -13 1 44 1 -51 1 -3 1 53 1 -45 1 3 1 -85 1 114 1 -38 1 70 1 -75 1 46 1 -22 1 35 1 -57 1 47 1 17 1 -34 1 16 1 -29 1 62 1 7 1 -25 1 -19 1 1 1 40 1 -18 1 7 1 -38 1 39 1 -21 1 -57 1 31 1 40 1 14 1 -51 1 -18 1 53 1 34 1 -74 1 38 1 -27 1 26 1 32 1 4 1 -12 1 -3 1 22 1 -17 1 -19 1 -11 1 32 1 -21 1 -13 1 1 1 25 1 -14 1 8 1 -5 1 1 1 -10 1 -37 1 56 1 -24 1 -24 1 3 1 -15 1 19 1 11 1 8 1 -96 1 74 1 -53 1 55 1 -15 1 25 1 -13 1 16 1 42 1 -50 1 -109 1 119 1 -80 1 58 1 24 1 -10 1 -21 1 -20 1 44 1 20 1 -86 1 8 1 85 1 -10 1 -15 1 -87 1 28 1 13 1 22 1 2 1 -54 1 53 1 48 1 -9 1 -24 1 -12 1 21 1 -29 1 14 1 -27 1 -17 1 75 1 9 1 -43 1 -74 1 90 1 14 1 -25 1 -78 1 90 1 34 1 -76 1 45 1 23" stroke="#80ff80"/>
<path d="M858 4394l1 -19 1 61 1 -6 1 -2 1 -4 1 -131 1 140 1 -54 1 31 1 -2 1 -4 1 12 1 -37 1 27 1 1 1 6 1 1 1 -26 1 -38 1 62 1 -32 1 47 1 -21 1 8 1 4 1 -18 1 7 1 8 1 -27 1 53 1 -19 1 4 1 -42 1 16 1 -46 1 21 1 53 1 28 1 -141 1 105 1 0 1 -7 1 -2 1 -16 1 -19 1 34 1 -39 1 43 1 -5 1 18 1 -9 1 27 1 -6 1 -51 1 50 1 -59 1 52 1 12 1 6 1 -28 1 29 1 -12 1 -29 1 34 1 2 1 -29 1 -11 1 5 1 -15 1 8 1 27 1 0 1 -7 1 8 1 -19 1 35 1 5 1 -25 1 -10 1 25 1 -3 1 -8 1 19 1 -13 1 -6 1 -12 1 3 1 0 1 14 1 -40 1 44 1 1 1 -29 1 -5 1 -5 1 13 1 10 1 21 1 -24 1 31 1 -58 1 -43 1 24 1 69 1 -19 1 18 1 -30 1 1 1 14 1 1 1 -123 1 89 1 0 1 10 1 12 1 -7 1 20 1 -65 1 63 1 -18 1 26 1 -18 1 18 1 -25 1 40 1 -21 1 -41 1 33 1 -43 1 2 1 63 1 -23 1 24 1 -4 1 -57 1 18 1 -33 1 56 1 28 1 -12 1 1 1 -69 1 44 1 -11 1 19 1 -24 1 -14 1 42 1 -18 1 16 1 -11 1 -18 1 -3 1 5 1 38 1 -27 1 41 1 -54 1 4 1 1 1 10 1 28 1 -53 1 -12 1 31 1 29 1 -25 1 -6 1 7 1 -31 1 -6 1 -22 1 58 1 -14 1 14 1 -12 1 -1 1 -1 1 -4 1 -12 1 47 1 -19 1 15 1 -39 1 5 1 39 1 -39 1 12 1 11 1 -11 1 6 1 12 1 -26 1 11 1 -18 1 49 1 -54 1 48 1 -26 1 -26 1 28 1 -30 1 -47 1 57 1 -5 1 47 1 -56 1 61 1 -56 1 15 1 -97 1 105 1 -35 1 -6 1 25 1 62" stroke="#9fff60"/>
<path d="M252 4402l1 9 1 -65 1 47 1 43 1 -25 1 10 1 -24 1 -17 1 58 1 -37 1 43 1 0 1 -78 1 40 1 -37 1 24 1 27 1 -30 1 30 1 -55 1 86 1 -29 1 -86 1 43 1 45 1 17 1 -46 1 31 1 -47 1 2 1 26 1 15 1 0 1 -12 1 33 1 14 1 -19 1 -45 1 34 1 -18 1 2 1 31 1 -7 1 -38 1 -45 1 39 1 4 1 27 1 -71 1 19 1 1 1 34 1 8 1 -16 1 37 1 -49 1 43 1 -59 1 48 1 43 1 -31 1 3 1 0 1 8 1 -14 1 26 1 -42 1 49 1 -38 1 18 1 -6 1 8 1 -39 1 8 1 14 1 -12 1 -7 1 -60 1 78 1 -34 1 47 1 -23 1 -17 1 29 1 -7 1 -5 1 24 1 -46 1 59 1 -17 1 11 1 -33 1 -19 1 18 1 -2 1 2 1 39 1 -57 1 29 1 -13 1 -17 1 8 1 -21 1 59 1 -15 1 -8 1 1 1 4 1 2 1 11 1 -16 1 12 1 20 1 -24 1 -5 1 6 1 -6 1 37 1 -11 1 5 1 5 1 4 1 -60 1 -2 1 -16 1 55 1 -107 1 66 1 10 1 23 1 -11 1 -4 1 -109 1 103 1 4 1 -24 1 26 1 -12 1 6 1 -12 1 11 1 19 1 3 1 -9 1 -18 1 -3 1 5 1 -21 1 31 1 -15 1 2 1 28 1 -24 1 -3 1 -4 1 4 1 -46 1 42 1 21 1 -17 1 -22 1 13 1 -69 1 84 1 38 1 -47 1 32 1 -38 1 -23 1 -49 1 56 1 36 1 -34 1 27 1 -9 1 -7 1 -32 1 -34 1 126 1 -71" stroke="#bfff40"/>
<path d="M264 4355l1 16 1 13 1 19 1 -12 1 -8 1 -8 1 45 1 -15 1 -42 1 -30 1 44 1 -20 1 58 1 -56 1 31 1 -73 1 44 1 2 1 -50 1 33 1 39 1 -31 1 -9 1 33 1 -22 1 26 1 11 1 -2 1 -9 1 39 1 -63 1 50 1 -20 1 1 1 28 1 3 1 -39 1 -28 1 24 1 -47 1 74 1 -5 1 3 1 39 1 -7 1 -23 1 3 1 -17 1 -7 1 16 1 31 1 -77 1 44 1 15 1 -56 1 30 1 3 1 2 1 14 1 17 1 -33 1 14 1 22 1 -10 1 -45 1 36 1 21 1 -7 1 -26 1 -43 1 48 1 -3 1 5 1 27 1 -140 1 105 1 -11 1 0 1 -42 1 30 1 34 1 -31 1 4 1 38 1 -41 1 33 1 -11 1 -27 1 -4 1 56 1 -18 1 -98 1 85 1 -25 1 51 1 -27 1 -32 1 16 1 18 1 -15 1 47 1 -34 1 -46 1 32 1 9 1 -7 1 27 1 -23 1 21 1 -8 1 43 1 -53 1 2 1 41 1 -75 1 56 1 -39 1 39 1 -12 1 -24 1 -31 1 87 1 -60 1 30 1 -10 1 -17 1 19 1 -3 1 -12 1 -22 1 17 1 47 1 -64 1 22 1 -30 1 43 1 9 1 9 1 -11 1 -16 1 -14 1 -16 1 57 1 -55" stroke="#dfff20"/>
<path d="M894 4356l1 6 1 51 1 -21 1 -18 1 28 1 -46 1 -3 1 26 1 -60 1 41 1 18 1 -82 1 3 1 35 1 -4 1 73 1 -16 1 21 1 -47 1 28 1 -16 1 47 1 -46 1 41 1 22 1 -41 1 -56 1 89 1 -4 1 -12 1 -52 1 54 1 -4 1 16 1 -38 1 28 1 -50 1 -51 1 57 1 41 1 -9 1 12 1 -62 1 71 1 -63 1 38 1 31 1 -24 1 43 1 -71 1 -20 1 39 1 -25 1 56 1 -42 1 46 1 -18 1 -2 1 9 1 -12 1 -11 1 21 1 14 1 -24 1 21 1 -27 1 10 1 1 1 20 1 6 1 -13 1 -18 1 -23 1 34 1 25 1 -19 1 3 1 -47 1 37 1 24 1 -34 1 5 1 14 1 -5 1 8 1 -47 1 5 1 34 1 19 1 -34 1 -2 1 32 1 -20 1 14 1 -4 1 -25 1 -8 1 31 1 -11 1 -21 1 18 1 -67 1 67 1 1 1 -6 1 -2 1 -43 1 48 1 -7 1 8 1 -22 1 43 1 -25 1 32 1 -27 1 32 1 -51 1 19 1 -17 1 -9 1 28 1 -5 1 20 1 29 1 -38 1 3 1 15 1 4 1 -46 1 -8 1 29 1 8 1 -49 1 41 1 1 1 33 1 -35 1 6 1 1 1 15 1 -91 1 65 1 40 1 -91 1 35 1 -67 1 118 1 -41 1 -12 1 -59 1 69 1 1 1 -54 1 33 1 -87 1 -24 1 123 1 -14 1 -12 1 22 1 -77 1 47 1 38 1 -2 1 -38 1 -18 1 35 1 56 1 0 1 -29 1 7 1 -19 1 27 1 7 1 -30 1 50 1 -33 1 -36 1 34 1 -21 1 25 1 -24 1 45 1 -38 1 17 1 -16 1 -8 1 -18 1 -6 1 27 1 -4 1 3 1 29 1 -26 1 -15 1 -27 1 53 1 -31 1 6 1 21 1 -79 1 88 1 -7 1 8 1 -54 1 15 1 13 1 -34 1 -46 1 52 1 -37 1 65 1 -37 1 11 1 33 1 -3" stroke="#dfff20"/>
<path d="M0 4350l1 36 1 -30 1 15 1 8 1 -97 1 156 1 -60 1 28 1 -29 1 28 1 19 1 -56 1 15 1 42 1 -56 1 -26 1 -81 1 95 1 -38 1 -6 1 -52 1 32 1 73 1 8 1 -33 1 41 1 -88 1 62 1 -4 1 16 1 37 1 -53 1 -41 1 116 1 -65 1 41 1 -12 1 -11 1 22 1 -81 1 91 1 -17 1 34 1 -28 1 24 1 -3 1 -8 1 25 1 -17 1 -26 1 5 1 21 1 -18 1 -47 1 25 1 16 1 5 1 -12 1 -32 1 18 1 6 1 22 1 -9 1 -8 1 -12 1 39 1 13 1 -24 1 3 1 -6 1 -4 1 -68 1 89 1 -9 1 22 1 -16 1 1 1 -18 1 17 1 -16 1 2 1 -39 1 26 1 39 1 -40 1 -42 1 32 1 34 1 -102 1 114 1 -39 1 7 1 45 1 -18 1 3 1 -24 1 10 1 47 1 -1 1 -60 1 18 1 28 1 -20 1 32 1 -21 1 8 1 -12 1 -25 1 22 1 -38 1 18 1 -32 1 32 1 -18 1 -23 1 33 1 12 1 6 1 -51 1 6 1 14 1 66 1 -44 1 26 1 -42 1 -18 1 28 1 -21 1 16 1 -81 1 73 1 12 1 -28 1 31 1 15 1 26 1 -31 1 8 1 -15 1 -95 1 99 1 -44 1 -75 1 104 1 -33 1 50 1 -53 1 1 1 41 1 3 1 -112 1 103 1 -65 1 24 1 18 1 25 1 -16 1 -71 1 57 1 44 1 -37 1 41 1 4 1 -113 1 101 1 -100 1 84 1 -4 1 -3 1 -32 1 -60 1 38 1 52 1 -20 1 2 1 -10 1 32 1 11 1 -98 1 75" stroke="#ffff00"/>
<path d="M774 4377l1 -86 1 110 1 -111 1 113 1 -32 1 24 1 -71 1 84 1 -46 1 5 1 3 1 41 1 -13 1 19 1 -35 1 12 1 -8 1 -7 1 24 1 9 1 -51 1 35 1 0 1 -58 1 93 1 -30 1 -1 1 -33 1 40 1 -6 1 -29 1 40 1 8 1 -29 1 -68 1 101 1 29 1 -35 1 24 1 -18 1 -7 1 -26 1 46 1 -39 1 28 1 -10 1 20 1 -46 1 11 1 15 1 12 1 -2 1 7 1 -2 1 -1 1 -17 1 -13 1 5 1 -6 1 29 1 -32 1 17 1 -38 1 9 1 59 1 -49 1 4 1 22 1 4 1 -20 1 -14 1 22 1 25 1 -30 1 -136 1 117 1 25 1 -41 1 42 1 -17 1 -6 1 28 1 3 1 -29 1 -46 1 60 1 -30 1 25 1 -14 1 30 1 -52 1 16 1 -2 1 32 1 14 1 11 1 -66 1 46 1 -37 1 29 1 9 1 -12 1 -7 1 -19 1 44 1 -39 1 -14 1 -28 1 -17 1 52 1 -72 1 19 1 81 1 -4 1 -25 1 -35 1 30 1 -33 1 58 1 -45 1 60 1 5 1 -10 1 -62 1 34 1 -139 1 145 1 -19 1 65 1 -37 1 29 1 -43" stroke="#ffff00"/>
<path d="M1356 4355l1 34 1 -5 1 -46 1 70 1 -2 1 36 1 -120 1 40 1 42 1 38 1 -34 1 4 1 16 1 -19 1 -23 1 35 1 -26 1 -99 1 89 1 18 1 26 1 -5 1 -13 1 -18 1 57 1 9 1 -10 1 -10 1 -26 1 -32 1 36 1 28 1 11 1 -53 1 -31 1 55 1 24 1 -52 1 26 1 21 1 -35 1 2 1 -15 1 16 1 46 1 -48 1 41 1 -29 1 7 1 -35 1 55 1 -37 1 11 1 18 1 -39 1 -3 1 6 1 36 1 -5 1 -4 1 -23 1 28 1 -36 1 -13 1 12 1 46 1 -64 1 12 1 -42 1 73 1 16 1 -111 1 30 1 41 1 -95 1 114 1 -51 1 26 1 17 1 -41 1 -17 1 10 1 23 1 5" stroke="#ffff00"/>
<path d="M0 4382l1 -77 1 113 1 5 1 -43 1 -39 1 73 1 8 1 -73 1 3 1 66 1 -48 1 16 1 -5 1 -38 1 59 1 -17 1 -59 1 20 1 7 1 79 1 -21 1 -19 1 27 1 -56 1 17 1 -72 1 65 1 0 1 41 1 -60 1 63 1 -143 1 21 1 112 1 40 1 -68 1 31 1 -26 1 4 1 -7 1 39 1 31 1 -18 1 -28 1 38 1 -20 1 -38 1 34 1 10 1 -36 1 41 1 -34 1 10 1 32 1 14 1 -22 1 6 1 4 1 -17 1 25 1 -22 1 -30 1 28 1 20 1 -14 1 -29 1 -14 1 -85 1 119 1 3 1 -36 1 41 1 -48 1 29 1 14 1 -42 1 29 1 13 1 -16 1 48 1 -39 1 -54 1 11 1 45 1 31 1 -12 1 -5 1 8 1 -51 1 31 1 7 1 16 1 -27 1 -24 1 7 1 -20 1 39 1 -26 1 -2 1 34 1 -19 1 13 1 -63 1 18 1 24 1 -17 1 48 1 -45" stroke="#ffdf00"/>
<path d="M672 4329l1 64 1 -41 1 -2 1 52 1 -31 1 43 1 -118 1 49 1 52 1 32 1 -25 1 35 1 -26 1 -26 1 35 1 -25 1 21 1 -54 1 17 1 69 1 -36 1 -12 1 3 1 -37 1 87 1 -43 1 -2 1 37 1 4 1 -57 1 40 1 -5 1 -19 1 44 1 -29 1 -13 1 -16 1 -54 1 66 1 -9 1 61 1 -1 1 -97 1 80 1 -69 1 33 1 2 1 22 1 13 1 -17 1 18 1 -37 1 18 1 -4 1 39 1 -11 1 -30 1 -18 1 7 1 41 1 -14 1 -19 1 22 1 -72 1 35 1 19 1 22 1 -38 1 27 1 -35 1 0 1 -18 1 -69 1 123 1 -18 1 2 1 -5 1 -58 1 56 1 -6 1 -25 1 21 1 -16 1 -9" stroke="#ffdf00"/>
<path d="M1260 4398l1 -42 1 9 1 -38 1 -36 1 86 1 -9 1 -10 1 28 1 2 1 -4 1 28 1 -22 1 -24 1 -8 1 -34 1 95 1 -25 1 14 1 -14 1 -7 1 53 1 -59 1 -26 1 34 1 -40 1 30 1 -32 1 65 1 26 1 -18 1 -57 1 14 1 65 1 -72 1 12 1 -54 1 57 1 -4 1 10 1 38 1 -28 1 -21 1 50 1 -8 1 -9 1 -17 1 -14 1 31 1 8 1 -5 1 29 1 -14 1 1 1 -136 1 98 1 38 1 20 1 -8 1 -16 1 -58 1 54 1 18 1 -13 1 -21 1 42 1 -32 1 -22 1 -4 1 15 1 -49 1 43 1 5 1 19 1 -105 1 62 1 63 1 -54 1 4 1 14 1 -83 1 82 1 -26 1 45 1 -7 1 9 1 -25 1 27 1 9 1 -9 1 -54 1 53 1 -30 1 26 1 22 1 -37 1 -13 1 28 1 -21 1 0 1 50 1 -14 1 -11 1 9 1 -43 1 -6 1 17 1 41 1 -32 1 3 1 1 1 10 1 -16 1 -5 1 -7 1 32 1 -1 1 -20 1 7 1 -46 1 -1 1 35 1 11 1 -30 1 18 1 -20 1 38 1 9 1 7 1 -22 1 10 1 -9 1 14 1 -24 1 -31 1 14 1 2 1 27 1 2 1 22 1 -42 1 2 1 -42 1 1 1 51 1 -23 1 -13 1 10 1 -38 1 45 1 -49 1 40 1 -31 1 44 1 -9 1 -11 1 24 1 14 1 -26 1 31 1 -2 1 -23 1 -52 1 12 1 10 1 31 1 -18 1 -62 1 98 1 -8 1 0 1 5 1 -25 1 49 1 -80 1 37 1 -53 1 -14 1 62 1 -66 1 18" stroke="#ffdf00"/>
<path d="M192 4375l1 1 1 -118 1 109 1 -13 1 51 1 -34 1 -1 1 -4 1 -104 1 26 1 145 1 -62 1 -24 1 43 1 -25 1 35 1 2 1 0 1 -14 1 -27 1 -7 1 17 1 -21 1 13 1 82 1 -31 1 -57 1 -5 1 37 1 -34 1 9 1 33 1 -10 1 -23 1 21 1 -41 1 50 1 20 1 -30 1 -7 1 24 1 -32 1 34 1 -35 1 32 1 -38 1 -27 1 9 1 16 1 57 1 -19 1 -2 1 28 1 -17 1 -4 1 3 1 -44 1 47 1 -3 1 -25 1 55 1 -59 1 0 1 23 1 11 1 -14 1 33 1 -54 1 23 1 -29 1 59 1 -37 1 36 1 -42 1 8 1 11 1 16 1 -29 1 -10 1 49 1 -45 1 21 1 -8 1 7 1 -17 1 32 1 -58 1 72 1 2 1 -25 1 -19 1 27 1 26 1 -22 1 -4 1 -58 1 -4 1 -10 1 67 1 19 1 -6 1 -6 1 3 1 -58 1 -76 1 103 1 46 1 13 1 -17 1 -39 1 14 1 7 1 -20 1 16 1 26 1 15 1 -24 1 -18 1 8 1 15 1 -34 1 -34 1 35 1 26 1 -13 1 -28 1 28 1 0 1 -48 1 52 1 -86 1 64 1 10 1 -17 1 -13 1 -24 1 85 1 -76 1 30 1 -18 1 10 1 18 1 12 1 9 1 -29 1 -31 1 34 1 -36 1 12 1 50 1 -11 1 6 1 25 1 -31 1 14 1 -11 1 -22 1 7 1 1 1 13 1 31 1 -39 1 26 1 -11 1 -6 1 -11 1 -86 1 99 1 -30 1 54 1 -35 1 15 1 -14 1 26 1 2 1 -7 1 -102 1 120 1 -26 1 -46 1 31 1 26 1 -20 1 2 1 2 1 -32 1 30 1 -1 1 -2 1 -12 1 10 1 -17 1 26 1 -16 1 -58 1 40 1 22 1 -158 1 168 1 -1 1 35 1 -76 1 -75 1 112 1 -9 1 -28 1 19 1 19 1 -52 1 36 1 24 1 19 1 -47 1 58 1 -26 1 -19 1 0 1 9 1 -6 1 5 1 7 1 6 1 0 1 -40 1 16 1 49 1 -37 1 2 1 6 1 -1 1 -27 1 9 1 17 1 -79 1 68 1 -30 1 -12 1 32 1 -53 1 28 1 -70 1 73 1 -83 1 58 1 54 1 -4 1 23 1 -30 1 -8 1 6 1 0 1 -11 1 -43 1 -6 1 30 1 16 1 -8 1 34 1 -24 1 -41 1 -8 1 84 1 -8 1 8 1 -48 1 -6 1 48 1 -22 1 33 1 -75 1 17 1 17 1 -93 1 9 1 94 1 -42" stroke="#ffbf00"/>
<path d="M1062 4344l1 0 1 44 1 -34 1 -91 1 79 1 56 1 38 1 -60 1 80 1 -47 1 6 1 16 1 -34 1 17 1 8 1 18 1 4 1 -228 1 241 1 -18 1 -19 1 40 1 -42 1 20 1 -15 1 -52 1 24 1 46 1 -145 1 115 1 -8 1 -20 1 48 1 4 1 -20 1 -11 1 4 1 -2 1 -17 1 -17 1 31 1 -8 1 -26 1 -86 1 117 1 -13 1 -17 1 54" stroke="#ffbf00"/>
<path d="M348 4389l1 -26 1 -37 1 26 1 55 1 -15 1 18 1 -73 1 7 1 16 1 -15 1 84 1 -90 1 23 1 36 1 -8 1 -10 1 44 1 -43 1 -5 1 4 1 4 1 -23 1 61 1 -52 1 10 1 8 1 -29 1 17 1 36 1 5 1 -32 1 -16 1 -42 1 65 1 14 1 -26 1 20 1 -21 1 34 1 -71 1 63 1 -23 1 -5 1 -17 1 -58 1 74 1 23 1 -27 1 47 1 -18 1 -64 1 15 1 84 1 -82 1 53 1 -16 1 -23 1 40 1 -33 1 17 1 21 1 -43 1 50 1 1 1 -20 1 13 1 -24 1 -5 1 10 1 32 1 -42 1 37 1 -23 1 20 1 -47 1 -62 1 55 1 -59 1 99 1 14 1 -25 1 33 1 -44 1 17 1 -37 1 57 1 -9 1 -27 1 4 1 -14 1 12 1 -19 1 35 1 43 1 -39 1 15 1 -3 1 -41 1 59 1 -6 1 8 1 -41 1 5 1 -12 1 19 1 -24 1 50 1 -25 1 15 1 -55 1 45 1 37 1 -67 1 14 1 0 1 20 1 9 1 32 1 -42 1 0 1 21 1 -10 1 -27 1 6 1 40 1 -26 1 8 1 16 1 -134 1 108 1 -21 1 10 1 19 1 -107 1 96 1 -58 1 21 1 9 1 -31 1 53 1 25 1 -15 1 -12 1 40 1 -35 1 -2 1 -15 1 2 1 -1 1 34 1 -19 1 -20 1 8 1 38 1 -17 1 -2 1 -18 1 -14 1 24 1 -21 1 18 1 -5 1 -29 1 51 1 -36 1 44 1 10 1 -41 1 22 1 -23 1 -9 1 38 1 1 1 -76 1 37 1 -10 1 -8 1 -6 1 -13 1 24 1 56 1 -26 1 -22 1 51 1 -24 1 -53 1 40 1 -4 1 36 1 -29 1 36 1 -6 1 1 1 -131 1 126 1 -15 1 -17 1 -14 1 6 1 25 1 8 1 -48 1 -11 1 55 1 -31 1 18 1 -42 1 32 1 32 1 -17 1 -15 1 35 1 -25 1 3 1 -34 1 0 1 13 1 10 1 -16 1 -18 1 29 1 20 1 -95 1 82 1 28 1 18 1 -77 1 50 1 4 1 -30 1 -12 1 -24 1 -55 1 82 1 9 1 22 1 -13 1 -10 1 17 1 0 1 -10 1 18 1 5 1 -40 1 3 1 -4 1 -12 1 44 1 -3 1 5 1 -8 1 -14 1 28 1 -147 1 106 1 -27 1 -9 1 78 1 -14 1 -25 1 -2 1 40 1 -20 1 -10 1 -11 1 20 1 -27 1 20 1 7 1 -73 1 75 1 -42 1 -22 1 35 1 0 1 -123 1 82 1 51 1 -37 1 26 1 9 1 -13" stroke="#ff9f00"/>
<path d="M1194 4393l1 -19 1 10 1 -59 1 50 1 -6 1 -40 1 45 1 -16 1 53 1 10 1 -25 1 14 1 -26 1 37 1 -23 1 34 1 -15 1 -4 1 26 1 -25 1 -41 1 54 1 30 1 3 1 -26 1 -29 1 33 1 8 1 -21 1 3 1 6 1 -37 1 21 1 -12 1 -4 1 31 1 5 1 -28 1 24 1 -7 1 -18 1 3 1 41 1 -14 1 -18 1 31 1 -10 1 -8 1 -15 1 3 1 -12 1 0 1 29 1 20 1 -68 1 36 1 19 1 -10 1 7 1 -23 1 -18 1 0 1 16 1 -27 1 34 1 -15 1 -4 1 35 1 -58 1 4 1 37 1 -8 1 -47 1 52 1 0 1 -82 1 43 1 30 1 -25 1 18 1 -6 1 -39 1 -55 1 78" stroke="#ff9f00"/>
<path d="M168 4359l1 -24 1 -39 1 33 1 47 1 -81 1 102 1 -42 1 32 1 -8 1 21 1 6 1 -51 1 40 1 -30 1 29 1 16 1 -23 1 14 1 3 1 -54 1 54 1 -55 1 -53 1 76 1 20 1 -39 1 6 1 -13 1 71 1 -15 1 -56 1 -58 1 125 1 7 1 -28 1 -23 1 56 1 18 1 -51 1 -24 1 53 1 3 1 -47 1 -5 1 70 1 -21 1 -22 1 -39 1 49 1 -104 1 58 1 36 1 -10 1 5 1 -5 1 8 1 -24 1 39 1 16 1 4 1 -23 1 36 1 -41 1 -39 1 58 1 8 1 -10 1 -30 1 -2 1 -3 1 34 1 -8 1 -13 1 -12 1 1 1 -65 1 33 1 -60 1 67 1 15 1 -12 1 16 1 11 1 6 1 -24 1 -1 1 43 1 -22 1 -39 1 -76 1 -16 1 79 1 43 1 -18 1 6 1 38 1 -27 1 27 1 -76 1 37 1 -66 1 89" stroke="#ff8000"/>
<path d="M840 4314l1 55 1 -22 1 30 1 -3 1 -7 1 67 1 -76 1 36 1 -10 1 -24 1 -36 1 45 1 30 1 -11 1 -104 1 144 1 -49 1 -8 1 -11 1 25 1 -2 1 -89 1 99 1 8 1 -1 1 -62 1 45 1 52 1 -50 1 8 1 8 1 -38 1 13 1 13 1 24 1 -13 1 -20 1 -14 1 6 1 -16 1 47 1 -45 1 -5 1 24 1 27 1 -19 1 54 1 -41 1 -19 1 30 1 -18 1 -26 1 28 1 25 1 -29 1 17 1 -13 1 10 1 2 1 -25 1 5 1 31 1 25 1 -13 1 11 1 -99 1 88 1 -8 1 -53 1 90 1 -57 1 0 1 10 1 11 1 -16 1 13 1 10 1 -21 1 20 1 -14 1 -17 1 61 1 -45 1 -40 1 70 1 -14 1 -47 1 47 1 -23 1 -13 1 27 1 11 1 -16 1 -47 1 5 1 21 1 32 1 -15 1 10 1 -48 1 32 1 33 1 -28 1 27 1 -2 1 3 1 -31 1 -3 1 -18 1 42 1 -31 1 -79 1 94 1 -50 1 -33 1 102 1 -14 1 -20 1 -44 1 43 1 -13 1 10 1 -66 1 74 1 15 1 27 1 -100 1 26 1 31 1 36 1 -38 1 17 1 0 1 26 1 -31 1 -12 1 34 1 -48 1 11 1 8 1 6 1 -12 1 5 1 30 1 -75 1 45 1 33 1 -19 1 -61 1 50 1 9 1 -10 1 16 1 1 1 -32 1 19 1 2 1 15 1 22 1 -87 1 63 1 -4 1 -7 1 1 1 -14 1 42 1 -21 1 -14 1 12 1 5 1 -9 1 -6 1 10 1 -15 1 14 1 -35 1 11 1 9 1 -5 1 24 1 -14 1 9 1 -61 1 53 1 -31 1 25 1 -45 1 38 1 25 1 7 1 -19 1 -53 1 36 1 -48 1 69 1 -42 1 41 1 -7 1 -43 1 43 1 21 1 -37 1 -5 1 37 1 -46 1 -28 1 50 1 6 1 -44 1 -52 1 99 1 14 1 10 1 -25 1 -61 1 50 1 33 1 -51 1 -10 1 -8 1 25 1 4 1 -2 1 23 1 -77 1 67 1 -2 1 28 1 -33 1 -61 1 32 1 36 1 -14 1 -3 1 -128 1 94 1 -17 1 91 1 -34 1 -48" stroke="#ff8000"/>
<path d="M420 4399l1 -83 1 87 1 -37 1 -7 1 49 1 -22 1 8 1 9 1 14 1 -47 1 8 1 33 1 9 1 -30 1 14 1 -51 1 11 1 -8 1 27 1 26 1 16 1 18 1 -46 1 19 1 18 1 -2 1 -7 1 23 1 2 1 -18 1 -21 1 18 1 0 1 -60 1 24 1 30 1 18 1 -19 1 -48 1 69 1 8 1 -121 1 110 1 -1 1 -5 1 3 1 -141 1 76 1 29 1 34 1 -50 1 60 1 -19 1 4 1 9 1 10 1 -13 1 24 1 -46 1 6 1 31 1 -140 1 95 1 42 1 -61 1 14 1 9 1 -3 1 22 1 4 1 -31 1 -31" stroke="#ff6000"/>
<path d="M1014 4375l1 -19 1 6 1 -52 1 -3 1 36 1 24 1 40 1 -18 1 7 1 -83 1 55 1 28 1 21 1 -28 1 -48 1 23 1 49 1 15 1 -14 1 13 1 -16 1 29 1 15 1 -53 1 9 1 18 1 -25 1 -42 1 -39 1 86 1 -83 1 22 1 5 1 5 1 27 1 -11 1 -2 1 -13 1 -32 1 40 1 -15 1 8 1 -25 1 63 1 -16 1 3 1 -9 1 4 1 15 1 -23 1 19 1 26 1 -83 1 35 1 28 1 -32 1 -92 1 121 1 16 1 -18 1 -25 1 54 1 -62 1 26 1 -118 1 98 1 -23 1 16 1 23 1 11 1 -13 1 -59 1 78 1 31 1 3 1 -37 1 39 1 -20 1 7 1 -13 1 -13 1 -31 1 42 1 -19 1 -25 1 13 1 -15 1 53 1 -10 1 5 1 0 1 49 1 -23 1 -9 1 -30 1 24 1 -3 1 17 1 -81 1 34 1 21 1 -40 1 23 1 17 1 11 1 1 1 -51 1 70 1 -101 1 52 1 5 1 42 1 -12 1 -6 1 9 1 -31 1 29 1 -8 1 -39 1 53 1 -37 1 -18 1 42 1 -5 1 -27 1 30 1 -54 1 65 1 -69 1 67 1 7 1 -41 1 41 1 -53 1 39 1 -18 1 32 1 -58 1 15 1 42 1 -15 1 0 1 19 1 -25 1 13 1 -35 1 22 1 -10 1 5 1 -17 1 1 1 29 1 -1 1 -34 1 37 1 -3 1 5 1 -12 1 25 1 -33 1 8 1 -36 1 50 1 -26 1 -15 1 7 1 65 1 -46 1 45 1 -31 1 2 1 2 1 10 1 -15 1 -32 1 -22 1 4 1 50 1 -99 1 81 1 18 1 -23 1 -69 1 90 1 -23 1 26 1 -20 1 13 1 32 1 -33 1 37 1 -18 1 5 1 -49 1 -19 1 40 1 18 1 -34 1 3 1 -28 1 65 1 -10 1 -40 1 -42 1 70 1 7 1 13 1 -12 1 14 1 -38 1 -21 1 46 1 15 1 -18 1 -22 1 1 1 24 1 -4 1 -32 1 46 1 -40 1 8 1 27 1 -22 1 4 1 -36 1 -7 1 14 1 -8 1 45 1 10 1 -48 1 14 1 -27 1 27 1 -7 1 -23 1 5 1 -18 1 56 1 -50 1 22 1 14 1 5 1 0 1 16 1 -39 1 12 1 -54 1 63 1 -75 1 61 1 11 1 -16 1 -29 1 33 1 -14 1 22 1 -37 1 0 1 38 1 -53 1 32 1 4 1 -44 1 -52 1 -29 1 103 1 1 1 38" stroke="#ff6000"/>
<path d="M474 4390l1 -4 1 -23 1 36 1 -23 1 40 1 -30 1 -46 1 18 1 42 1 -58 1 76 1 -84 1 74 1 -3 1 -24 1 -10 1 31 1 4 1 -9 1 -41 1 -18 1 -20 1 52 1 -15 1 4 1 36 1 -25 1 7 1 28 1 24 1 -25 1 -1 1 -107 1 97 1 8 1 15 1 19 1 -56 1 20 1 -23 1 39 1 3 1 -2 1 9 1 -4 1 -47 1 26 1 -2 1 27 1 -33 1 14 1 33 1 -6 1 -10 1 23 1 -47 1 23 1 -50 1 43 1 11 1 -16 1 44 1 -23 1 -9 1 -10 1 -22 1 -5 1 21 1 -5 1 34 1 -23 1 -55 1 63 1 1 1 -38 1 46 1 -1 1 -55 1 17 1 13 1 -61 1 105 1 -38 1 -2 1 16 1 -28 1 40 1 -14 1 -13 1 33 1 -48 1 12 1 -14 1 28 1 -3 1 13 1 -43 1 -5 1 4 1 -26 1 65 1 -27 1 17 1 0 1 -27 1 17 1 36 1 -32 1 -20 1 5 1 -6 1 11 1 31 1 -22 1 23 1 12 1 -41 1 -22 1 6 1 26 1 -44 1 17 1 -94 1 103 1 -85 1 34 1 45 1 11 1 -21 1 -27 1 -56 1 62" stroke="#ff4000"/>
<path d="M1278 4398l1 6 1 -12 1 38 1 -45 1 21 1 -35 1 24 1 14 1 -35 1 -8 1 -7 1 22 1 -50 1 4 1 -2 1 0 1 -8 1 92 1 -59 1 -4 1 -12 1 49 1 -33 1 26 1 1 1 8 1 -19 1 -19 1 57 1 -18 1 -16 1 -1 1 4 1 26 1 -58 1 -37 1 83 1 32 1 -163 1 137 1 -10 1 16 1 10 1 -5 1 -26 1 -49 1 61 1 -11 1 5 1 -36 1 81 1 -26 1 -19 1 17 1 -37 1 25 1 -3 1 21 1 -25 1 16 1 -83 1 105 1 -54 1 -6 1 34 1 -78 1 71 1 -92 1 66 1 26 1 9 1 2 1 -8 1 30 1 -24 1 -16 1 45 1 -42 1 34 1 -19 1 -42 1 95 1 -26 1 -14 1 -31 1 49 1 -6 1 18 1 -40 1 12 1 5 1 2 1 31 1 -14 1 -18 1 -10 1 27 1 -17 1 -15 1 18 1 -8 1 -1 1 11 1 -25 1 2 1 5 1 -9 1 27 1 -18 1 22 1 8 1 -16 1 -8 1 -23 1 9 1 41 1 -93 1 65 1 -6 1 0 1 -27 1 39 1 4 1 28 1 -56 1 2 1 17 1 -20 1 36 1 -46 1 -24 1 42 1 -46 1 30 1 -35 1 51 1 -17 1 -43 1 49 1 -84 1 39 1 33 1 -16 1 -4 1 50 1 -31 1 24 1 31 1 -38 1 14 1 -49 1 4 1 0 1 66 1 -6 1 -74 1 30 1 4 1 -94 1 51 1 65 1 -52" stroke="#ff4000"/>
<path d="M0 4375l1 13 1 -114 1 142 1 -105 1 74 1 -47 1 46 1 -1 1 -25 1 65 1 -29 1 27 1 -25 1 -107 1 147 1 -33 1 20 1 -42 1 10 1 19 1 -15 1 -26 1 57 1 -8 1 -12 1 -8 1 21 1 -36 1 29 1 12 1 15 1 -9 1 7 1 0 1 -24 1 5 1 -19 1 24 1 -31 1 41 1 -142 1 123 1 -8 1 -29 1 7 1 52 1 -12 1 -28 1 13 1 10 1 -16 1 27 1 15 1 -46 1 21 1 -2 1 -22 1 -3 1 39 1 24 1 -52 1 4 1 41 1 -26 1 -9 1 11 1 -12 1 18 1 18 1 -32 1 -114 1 123 1 -21 1 22 1 -29 1 -22 1 7 1 35 1 -16 1 -2 1 23 1 -22 1 48 1 -34 1 28 1 -47 1 7 1 16 1 13 1 3 1 22 1 3 1 -161 1 125 1 36 1 -113 1 82 1 -8 1 1 1 -2 1 -28 1 6 1 2 1 -19 1 78 1 -52 1 1 1 -44 1 47 1 -9 1 -5 1 -29 1 39 1 24 1 3 1 -27 1 12 1 -35 1 60 1 -41 1 30 1 -90 1 82 1 35 1 -27 1 -7 1 -37 1 4 1 22 1 -24 1 59 1 -1 1 -46 1 -13 1 8 1 47 1 -20 1 -26 1 -21 1 1 1 34 1 -34 1 -20 1 44 1 29 1 -80 1 26 1 -31 1 57 1 -22 1 11 1 -37 1 11 1 -51 1 83 1 19 1 -22 1 13 1 -35 1 -54 1 16 1 86 1 -26 1 -12 1 -3 1 48 1 -52 1 -9 1 17 1 21 1 -23 1 6 1 11 1 -16" stroke="#ff2000"/>
<path d="M666 4358l1 -2 1 47 1 -16 1 20 1 -29 1 12 1 -94 1 82 1 -12 1 45 1 -19 1 -30 1 -31 1 54 1 27 1 -20 1 6 1 -29 1 -13 1 10 1 71 1 -33 1 -27 1 22 1 -78 1 86 1 5 1 -5 1 -29 1 61 1 -7 1 -55 1 61 1 -12 1 11 1 -50 1 3 1 0 1 43 1 5 1 -23 1 27 1 -81 1 28 1 27 1 -36 1 5 1 21 1 -24 1 23 1 -33 1 35 1 21 1 -138 1 145 1 -33 1 58 1 -38 1 29 1 -29 1 -2 1 -54 1 38 1 37 1 -38 1 39 1 1 1 -61 1 56 1 14 1 -27 1 12 1 -25 1 27 1 7 1 -58 1 48 1 11 1 -7 1 -15 1 7 1 -10 1 5 1 -56 1 55 1 16 1 -48 1 40 1 -10 1 20 1 -13 1 18 1 -55 1 -11 1 53 1 -48 1 21 1 33 1 -30 1 19 1 -11 1 -119 1 90 1 -1 1 33 1 -58 1 11 1 -18 1 71 1 -22 1 22 1 -19 1 -22 1 -156 1 189 1 -20 1 15 1 -39 1 7 1 5" stroke="#ff2000"/>
<path d="M1356 4369l1 65 1 -89 1 57 1 -93 1 43 1 1 1 53 1 -63 1 39 1 -8 1 -11 1 37 1 14 1 -23 1 38 1 4 1 12 1 -23 1 -76 1 74 1 -73 1 105 1 -86 1 66 1 -103 1 111 1 -30 1 21 1 -7 1 -85 1 68 1 35 1 -13 1 -14 1 1 1 -31 1 8 1 46 1 6 1 -81 1 53 1 -24 1 49 1 -3 1 -11 1 13 1 -7 1 0 1 -23 1 11 1 4 1 -28 1 15 1 31 1 -12 1 -8 1 -32 1 1 1 17 1 21 1 -13 1 8 1 -11 1 -4 1 -26 1 28 1 19 1 -74 1 59 1 -38 1 2 1 48 1 -56 1 8 1 -12 1 39 1 -79 1 72 1 -47 1 19 1 14 1 -24 1 -13 1 31" stroke="#ff2000"/>
<path d="M114 4264l1 120 1 -12 1 -5 1 -8 1 -12 1 -47 1 29 1 56 1 -22 1 44 1 0 1 -55 1 36 1 6 1 22 1 -29 1 -53 1 55 1 11 1 -70 1 60 1 -89 1 8 1 61 1 33 1 -20 1 -76 1 100 1 -26 1 13 1 -48 1 28 1 -58 1 55 1 9 1 -42 1 50 1 -6 1 -17 1 39 1 -18 1 5 1 -21 1 4 1 10 1 11 1 4 1 0 1 28 1 -95 1 100 1 -55 1 -34 1 79 1 -16 1 -47 1 83 1 -42 1 -7 1 37 1 -137 1 108 1 -40 1 22 1 19 1 14 1 7 1 -35 1 -82 1 102 1 -4 1 25 1 -42 1 17 1 -10 1 30 1 -61 1 33 1 8 1 16 1 -33 1 44 1 -35 1 -47 1 95 1 -93 1 69 1 -81 1 62 1 -24 1 42 1 -12 1 13 1 -3 1 -13 1 -15 1 -2 1 -9 1 50 1 -17 1 7 1 8 1 -37 1 22 1 1 1 -15 1 -13 1 18 1 -72 1 67 1 18 1 12 1 19 1 -105 1 52 1 -108 1 14 1 8 1 26 1 30 1 7 1 2 1 -34 1 15 1 -3 1 18 1 -27 1 22 1 23 1 -2 1 -42 1 79 1 -59 1 -60 1 84 1 -32 1 49 1 -66 1 -22 1 37 1 5 1 24 1 -32 1 -59 1 74 1 -9 1 31 1 -8 1 -12 1 -21 1 8 1 6 1 -3 1 -2 1 -18 1 -55" stroke="#ff0000"/>
<path d="M720 4397l1 -39 1 50 1 -15 1 -18 1 -14 1 -13 1 35 1 -12 1 -13 1 40 1 33 1 -41 1 6 1 -16 1 5 1 28 1 -54 1 -9 1 55 1 -13 1 6 1 -23 1 -20 1 52 1 -61 1 31 1 18 1 15 1 -20 1 44 1 -54 1 40 1 -57 1 55 1 -2 1 18 1 -25 1 11 1 19 1 -37 1 6 1 -7 1 -10 1 8 1 43 1 -44 1 0 1 -106 1 99 1 42 1 -15 1 -27 1 46 1 -19 1 10 1 -2 1 6 1 -29 1 23 1 34 1 -52 1 5 1 -101 1 90 1 -24 1 12 1 46 1 -22 1 -39 1 43 1 0 1 -36 1 56 1 -32 1 5 1 36 1 -24 1 -5 1 -10 1 17 1 -2 1 -27 1 40 1 -1 1 11 1 -16 1 -1 1 0 1 17 1 -32 1 -3 1 1 1 34 1 -14 1 -27 1 -42 1 69 1 -6 1 -6 1 24 1 8 1 -20 1 -45 1 61 1 12 1 0 1 -15 1 -10 1 -5 1 13 1 -7 1 -13 1 -5 1 5 1 20 1 10 1 -9 1 -8 1 3 1 0 1 -6 1 -6 1 -41 1 61 1 -24 1 -10 1 20 1 -9 1 -23 1 52 1 -31 1 -27 1 -13 1 62 1 -30 1 23 1 -32 1 18 1 15 1 -10 1 8 1 -26 1 5 1 -9 1 -12 1 25 1 -21 1 2 1 21 1 6 1 -12 1 -8 1 -18 1 52 1 -13 1 -29 1 6 1 6 1 -25 1 -6 1 25 1 -7 1 -27 1 32 1 7 1 12 1 -57 1 71 1 -53 1 38 1 -57 1 47 1 -5 1 -3 1 33 1 -15 1 27 1 -119 1 92 1 17 1 -62 1 3 1 -18 1 3 1 53 1 -13 1 -2 1 7 1 -6 1 5 1 -8 1 -2 1 2 1 14 1 -25 1 23 1 -21 1 28 1 -63 1 -7 1 50 1 11 1 -18 1 13 1 -14 1 -47 1 70 1 -18 1 13 1 -57 1 11 1 65 1 -45 1 -27 1 -58 1 81 1 -8 1 46 1 -24 1 5 1 -57 1 99 1 -69 1 3 1 10 1 -17 1 43 1 -37 1 1 1 29 1 12 1 -28 1 29 1 -39 1 -1 1 58 1 -103 1 26 1 39 1 5 1 -18 1 -40 1 67 1 -61 1 46 1 13 1 16 1 -208 1 182 1 50 1 -76 1 -9" stroke="#ff0000"/>
<path d="M510 4349l1 -53 1 61 1 18 1 48 1 -33 1 4 1 2 1 -39 1 70 1 -48 1 -9 1 -16 1 22 1 16 1 22 1 -23 1 4 1 -18 1 -32 1 26 1 72 1 -72 1 -7 1 -8 1 31 1 29 1 -3 1 -130 1 110 1 5 1 8 1 -35 1 28 1 -5 1 2 1 -7 1 18 1 -63 1 38 1 3 1 -18 1 -3 1 -9 1 -12 1 40 1 32 1 3 1 -14 1 40 1 -3 1 -42 1 5 1 -55 1 32 1 67 1 -27 1 21 1 -12 1 -36 1 31 1 -2 1 12 1 -32 1 -6 1 22 1 2 1 -9 1 -15 1 -2 1 -18 1 16 1 5 1 -44 1 28 1 14 1 -62 1 26 1 58 1 -22 1 -148 1 171 1 -12 1 -57 1 26" stroke="#df0000"/>
<path d="M1116 4361l1 6 1 -1 1 7 1 5 1 -56 1 56 1 -45 1 96 1 -84 1 53 1 4 1 -10 1 -35 1 -23 1 58 1 -45 1 43 1 -28 1 11 1 7 1 4 1 29 1 -3 1 -33 1 2 1 5 1 7 1 -7 1 -3 1 -104 1 124 1 -147 1 137 1 -59 1 -14 1 61 1 35 1 -11 1 -64 1 75 1 -122 1 76 1 23 1 4 1 27 1 -23 1 13 1 -24 1 -68 1 95 1 -87 1 68 1 -4 1 -105 1 142 1 1 1 -52 1 25 1 9 1 4 1 -15 1 -3 1 -19 1 -18 1 54 1 -3 1 -5 1 -45 1 36 1 34 1 -31 1 14 1 11 1 -48 1 0 1 12 1 1 1 -6 1 -1 1 8 1 -10 1 12 1 -50 1 34 1 64 1 -21 1 -7 1 -11 1 22 1 -60 1 -77 1 125 1 0 1 5 1 -48 1 12 1 -13 1 27 1 -12 1 31 1 -18 1 1 1 62 1 -38 1 -105 1 -51 1 164 1 8 1 -31 1 -6 1 7 1 -14 1 -70 1 97 1 -54 1 48 1 -3 1 -12 1 -5 1 38 1 27 1 -51 1 -4 1 19 1 -4 1 -15 1 14 1 6 1 -16 1 2 1 17 1 -58 1 45 1 -25 1 26 1 -20 1 -2 1 25 1 17 1 -32 1 -5 1 29 1 -9 1 8 1 2 1 -39 1 2 1 -12 1 69 1 -49 1 -4 1 12 1 -25 1 38 1 -11 1 7 1 -39 1 5 1 8 1 26 1 -20 1 12 1 -4 1 -39 1 52 1 4 1 -32 1 0 1 10 1 -33 1 52 1 -49 1 35 1 -44 1 35 1 -19 1 9 1 8 1 -4 1 -17 1 43 1 5 1 -29 1 39 1 -4 1 -131 1 153 1 -21 1 6 1 -6 1 13 1 -31 1 -24 1 32 1 2 1 13 1 -34 1 29 1 -46 1 71 1 -65 1 45 1 -42 1 -15 1 22 1 14 1 8 1 20 1 -55 1 -1 1 38 1 -10 1 29 1 -23 1 17 1 -60 1 59 1 -22 1 11 1 -1 1 13 1 0 1 -39 1 -24 1 75 1 -24 1 -27 1 -23 1 40 1 -9 1 6 1 -15 1 57 1 -44 1 8 1 -2 1 -36 1 3 1 15 1 -16 1 11 1 14 1 -13 1 16 1 -76 1 73 1 -25 1 16 1 -4 1 -7 1 -24 1 24 1 20 1 11 1 -13 1 9 1 10 1 0 1 -14 1 -16 1 0 1 -2 1 12 1 -10 1 -6 1 -11 1 -33 1 11 1 26 1 14" stroke="#df0000"/>
<path d="M0 4407l1 -31 1 -58 1 -8 1 -14 1 70 1 -71 1 82 1 44 1 22 1 -227 1 171 1 24 1 -10 1 -8 1 -53 1 80 1 -18 1 25 1 -26 1 -17 1 -7 1 55 1 9 1 2 1 0 1 -53 1 21 1 -40 1 62 1 -44 1 32 1 27 1 -59 1 43 1 -14 1 35 1 -19 1 -12 1 17 1 -15 1 4 1 -30 1 47 1 -20 1 -32 1 16 1 17 1 8 1 -8 1 18 1 -35 1 -15 1 20 1 -15 1 18 1 -22 1 17 1 8 1 -10 1 5 1 28 1 -40 1 0 1 -26 1 53 1 -32 1 16 1 -24 1 16 1 2 1 9 1 -27 1 21 1 -49 1 58 1 11 1 -13 1 -4 1 -3 1 5 1 -9 1 -15 1 3 1 -28 1 -10 1 -35 1 -29 1 52 1 -49 1 62" stroke="#bf0000"/>
<path d="M594 4329l1 77 1 -14 1 -17 1 11 1 12 1 -1 1 -14 1 -17 1 23 1 54 1 -49 1 -4 1 -19 1 36 1 -29 1 4 1 46 1 15 1 -12 1 -17 1 -57 1 74 1 -73 1 56 1 -38 1 -30 1 47 1 22 1 -21 1 36 1 -37 1 -64 1 39 1 55 1 7 1 -4 1 -67 1 12 1 42 1 -12 1 20 1 -74 1 67 1 8 1 -57 1 39 1 -1 1 -10 1 18 1 -15 1 8 1 10 1 -3 1 -49 1 9 1 55 1 -11 1 -33 1 18 1 36 1 -28 1 3 1 -32 1 20 1 38 1 -47 1 30 1 -50 1 41 1 -30 1 53 1 -12 1 -29 1 -68 1 61 1 34 1 -32 1 49 1 2 1 -25 1 10 1 27 1 -24 1 26 1 -6 1 -8 1 -42 1 16 1 13 1 -42 1 45 1 17 1 -56 1 38 1 32 1 -52 1 20 1 -33 1 7 1 -14 1 7 1 27 1 -18 1 -6 1 36 1 -58 1 29 1 9 1 -12 1 20 1 26 1 -8 1 -21 1 14 1 -133 1 122 1 -38 1 43 1 -1 1 19 1 -28 1 -43 1 58 1 -9 1 12 1 -38 1 23 1 4 1 -53 1 73 1 -9 1 -6 1 23 1 -35 1 -27 1 52 1 -13 1 -19 1 34 1 -8 1 -14 1 37 1 -48 1 17 1 -1 1 -24 1 -25 1 47 1 6 1 -17 1 -8 1 6 1 18 1 -15 1 -15 1 25 1 -94 1 11 1 41 1 50 1 18 1 -6 1 -66 1 7 1 44 1 -12 1 8 1 7 1 -10 1 7 1 -21 1 19 1 10 1 -25 1 17 1 -23 1 12 1 -14 1 2 1 -6 1 40 1 14 1 -56 1 -7 1 -9 1 17 1 15 1 21 1 -9 1 -29 1 17 1 6 1 -10 1 3 1 24 1 -62 1 68 1 9 1 0 1 -100 1 71 1 10 1 -29 1 28 1 27 1 -51 1 28 1 -24 1 -42 1 53 1 -16 1 -5 1 16 1 2 1 -52 1 0 1 24 1 -5 1 26 1 -43 1 59 1 24 1 -82 1 30 1 6 1 11 1 19 1 -16 1 -11 1 10 1 -15 1 34 1 -27 1 -33 1 61 1 -36 1 30 1 -6 1 -62 1 40 1 -57 1 90 1 -78 1 70 1 -33 1 -32 1 43 1 -2 1 -192 1 210 1 3 1 -59 1 46 1 18 1 -60 1 4 1 6 1 -17 1 58 1 -58 1 17 1 36 1 -29 1 -11 1 33 1 -31 1 40 1 16 1 -45 1 24 1 -51 1 29 1 -10 1 1 1 39 1 -29 1 -8 1 45 1 -25 1 -198 1 198 1 -53" stroke="#bf0000"/>
<path d="M486 4405l1 -21 1 28 1 -14 1 0 1 41 1 -19 1 -124 1 144 1 -12 1 -6 1 -8 1 20 1 -37 1 22 1 12" stroke="#9f0000"/>
<path d="M1116 4408l1 18 1 -82 1 -5 1 71 1 25 1 -45 1 23 1 -14 1 -50 1 35 1 -24 1 -23 1 28 1 13 1 18 1 -60 1 57 1 8 1 -17 1 -58 1 35 1 30 1 -86 1 19 1 12 1 56 1 22 1 -26 1 -13 1 30 1 -4 1 14 1 19 1 -28 1 -1 1 17 1 -5 1 13 1 -28 1 -12 1 37 1 -9 1 -82 1 39 1 -4 1 16 1 13 1 -13 1 32 1 -45 1 0 1 51 1 -49 1 -21 1 44 1 20 1 19 1 -65 1 13 1 9 1 12 1 -34 1 23 1 2 1 18 1 21 1 -6 1 -2 1 -16 1 -22 1 29 1 -4 1 25 1 11 1 -15 1 -28 1 -3 1 17 1 8 1 14 1 -46 1 21 1 -8 1 -12 1 17 1 5 1 -8 1 -36 1 5 1 37 1 -65 1 55 1 -22 1 44 1 2 1 -26 1 -50 1 79 1 6 1 -51 1 4 1 15 1 2 1 3 1 -42 1 16 1 4 1 17 1 7 1 -72 1 83 1 -69 1 7 1 14 1 -20 1 41 1 -174 1 141 1 5 1 34 1 -68 1 29 1 26 1 -11 1 12 1 -107 1 116 1 14 1 -15 1 21 1 12 1 4 1 -39 1 35 1 -62 1 44 1 -48 1 46 1 -17 1 49 1 -149 1 107 1 -15 1 16 1 9 1 -48 1 63 1 -57 1 14 1 42 1 -6 1 -35 1 5 1 62 1 -24 1 -137 1 83 1 44 1 -46 1 25 1 25 1 -64 1 -8 1 24 1 7 1 -2 1 1 1 15 1 -12 1 -29 1 16 1 -22 1 26 1 2 1 22 1 -18 1 20 1 -140 1 71 1 -136 1 211 1 -3 1 -68 1 34 1 27 1 -28 1 -17 1 33 1 1 1 -25 1 -2 1 16 1 17 1 14 1 -25 1 -7 1 -32 1 59" stroke="#9f0000"/>
<path d="M138 4336l1 -21 1 86 1 -29 1 -10 1 -8 1 27 1 -73 1 10 1 24 1 -36 1 27 1 66 1 -14 1 -29 1 4 1 22 1 -23 1 -37 1 68 1 32 1 -73 1 55 1 -70 1 44 1 -1 1 -33 1 10 1 39 1 11 1 13 1 -6 1 11 1 -54 1 6 1 12 1 -9 1 45 1 -97 1 77 1 -27 1 18 1 -3 1 -17 1 21 1 -26 1 35 1 -23 1 24 1 0 1 -50 1 75 1 -34 1 24 1 -8 1 9 1 17 1 -49 1 47 1 -85 1 38 1 48 1 -33 1 -31 1 -33 1 76 1 20 1 -16 1 -46 1 5 1 31 1 0 1 -87 1 64 1 -25 1 50 1 -49 1 40 1 -60 1 84 1 -18 1 -65 1 39 1 23 1 -32 1 51 1 12 1 -13 1 -41 1 -20 1 64 1 -14 1 10 1 3 1 21 1 -26 1 -3 1 -33 1 3 1 -30 1 45 1 17 1 -50 1 46 1 7 1 -63 1 63 1 -35 1 -28 1 62 1 -63 1 63 1 -139 1 69 1 37 1 -36 1 93 1 -106 1 72 1 -19 1 -1 1 -64 1 52 1 11 1 -114 1 154 1 -2 1 -23 1 7 1 -14 1 -18 1 19 1 -20 1 -32 1 25 1 32 1 17 1 -19 1 -35 1 53 1 -72 1 55 1 -72 1 4 1 70 1 13 1 -61 1 62 1 6 1 -40 1 -59 1 62 1 -22 1 58 1 -9 1 8 1 -63 1 50 1 3 1 6 1 -18 1 -31 1 40 1 -11 1 27 1 -31 1 6 1 22 1 -2 1 -43 1 -27 1 62 1 -12 1 9 1 14 1 -6 1 31 1 -31 1 7 1 -37 1 21 1 -12 1 43 1 7 1 -23 1 -23 1 -105 1 127 1 -8 1 -47 1 33 1 -9 1 2 1 -32 1 71 1 -14 1 -14 1 4 1 20 1 -42 1 24 1 26 1 -81 1 -76 1 154 1 3 1 -12 1 -5 1 -49 1 49 1 -156 1 140 1 22 1 -28 1 -18 1 53 1 -38 1 24 1 -15 1 -27 1 37 1 -17 1 1 1 -29 1 21 1 16 1 -37 1 48 1 -54 1 62 1 -24 1 -1 1 3 1 -17 1 17 1 8 1 11 1 -31 1 14 1 -12 1 -19 1 -53 1 65 1 -2 1 25 1 24 1 -12 1 -18 1 -14 1 31 1 -13 1 -42 1 18 1 -22 1 17 1 16 1 17 1 10 1 3 1 -9 1 -8 1 -8 1 20 1 -56 1 20 1 22 1 23 1 6 1 -36 1 9 1 16 1 3 1 -31 1 2 1 16 1 21 1 -1 1 -28 1 22 1 -76 1 29 1 37 1 -37 1 10 1 17 1 2 1 9 1 -19 1 -19 1 5 1 -24 1 66 1 -44 1 77 1 -55 1 -59 1 81 1 -25 1 1 1 5 1 -12 1 -2 1 15 1 -4 1 -1 1 -4 1 34 1 -43 1 48 1 3 1 6 1 -9 1 -11 1 11 1 -32 1 -11 1 25 1 -3 1 13 1 -24 1 -50 1 42 1 -1 1 18 1 -9 1 -36 1 44 1 -143 1 121 1 20 1 -55 1 18 1 4 1 -33 1 20 1 12 1 -22 1 54 1 -153 1 139 1 -60 1 16 1 -2 1 3 1 -60 1 86 1 -2 1 -28 1 30 1 -37 1 11 1 29 1 -3 1 -14 1 -27" stroke="#800000"/>
<path d="M942 4450l1 -114 1 82 1 -36 1 -45 1 40 1 45 1 -45 1 -2 1 -11 1 29 1 -24 1 -15 1 73 1 -8 1 24 1 -32 1 -46 1 53 1 -12 1 1 1 -38 1 40 1 -55 1 66 1 4 1 -2 1 11 1 -26 1 -17 1 -107 1 119 1 3 1 7 1 13 1 -46 1 64 1 -20 1 29 1 -5 1 -21 1 -4 1 9 1 20 1 -50 1 -7 1 49 1 -27 1 15 1 -13 1 0 1 -19 1 34 1 -5 1 -3 1 -9 1 15 1 2 1 -25 1 -14 1 21 1 -37 1 25 1 6 1 -39 1 43 1 19 1 -24 1 -2 1 7 1 10 1 -1 1 13 1 -9 1 -42 1 47 1 19 1 -98 1 63 1 -45 1 38 1 -1 1 28 1 6 1 -56 1 30 1 -28 1 66 1 -41 1 -18 1 -13 1 19 1 16 1 -26 1 -20 1 58 1 -48 1 53 1 -14 1 10 1 7 1 -40 1 8 1 -2 1 7 1 -4 1 -44 1 36 1 -24 1 -17 1 7 1 33 1 -20 1 -2 1 55 1 -1 1 16 1 -29 1 19 1 -25 1 32 1 -30 1 -22 1 51 1 19 1 -9 1 -13 1 -3 1 -7 1 -10 1 10 1 -21 1 23 1 2 1 7 1 -2 1 -52 1 -9 1 -8 1 28 1 23 1 26 1 -39 1 14 1 -44 1 7 1 52 1 -49 1 -8 1 56 1 11 1 -67 1 -5 1 10 1 32 1 4 1 -63 1 51 1 2 1 -21 1 -9 1 20 1 -41 1 -10 1 -17 1 45 1 29 1 -61 1 -5 1 44 1 35 1 -28 1 -16 1 -10 1 37 1 -2 1 -43 1 21 1 13 1 47 1 -77 1 55 1 -50 1 28 1 -12 1 59 1 -66 1 18 1 12 1 3 1 32 1 -132 1 73" stroke="#800000"/>
</g></g>
<g clip-path="url(#c3)" fill="none" stroke-width="3.7">
<path d="M1134.8 865.7V814.3" stroke="#00009f"/>
<path d="M1178.2 865.7V827.2" stroke="#00009f"/>
<path d="M1378.9 865.7V840" stroke="#0000df"/>
<path d="M1382.1 865.7V824" stroke="#0000df"/>
<path d="M1536.3 865.7V771" stroke="#0000df"/>
<path d="M1487.7 865.7V820.7" stroke="#0020ff"/>
<path d="M1494.1 865.7V836.8" stroke="#0020ff"/>
<path d="M1665.2 865.7V797.6" stroke="#0020ff"/>
<path d="M1306 865.7V840" stroke="#0040ff"/>
<path d="M1044 865.7V830.4" stroke="#0080ff"/>
<path d="M1547.9 865.7V830.4" stroke="#009fff"/>
<path d="M1059.8 865.7V809.2" stroke="#00bfff"/>
<path d="M327.6 865.7V823.3" stroke="#60ff9f"/>
<path d="M830.6 865.7V836.8" stroke="#80ff80"/>
<path d="M1319.7 865.7V717.4" stroke="#9fff60"/>
<path d="M379.4 865.7V820.7" stroke="#ffff00"/>
<path d="M1642 865.7V840" stroke="#ffff00"/>
<path d="M1525.8 865.7V830.4" stroke="#ffdf00"/>
<path d="M1578.6 865.7V840" stroke="#ffdf00"/>
<path d="M682.6 865.7V827.2" stroke="#ffbf00"/>
<path d="M1343 865.7V836.8" stroke="#ffbf00"/>
<path d="M369.9 865.7V795.1" stroke="#ff8000"/>
<path d="M392.1 865.7V813.7" stroke="#ff8000"/>
<path d="M683.7 865.7V833.6" stroke="#ff6000"/>
<path d="M1708.5 865.7V824" stroke="#ff4000"/>
<path d="M1565.9 865.7V840" stroke="#df0000"/>
<path d="M194.5 865.7V830.4" stroke="#bf0000"/>
<path d="M711.2 865.7V775.8" stroke="#9f0000"/>
</g>
<g class="ns" clip-path="url(#c4)" fill="none" stroke-width="3.6" stroke-linejoin="round" stroke-linecap="butt">
<g transform="translate(190.30 0) scale(1.05653 0.2)">
<path d="M120 5700l1 -46 1 -46 1 -46 1 -7 1 9 1 -176 1 176 1 -9 1 79 1 29 1 -10 1 -8 1 54 1 -5 1 -4 1 -5 1 -11 1 -71 1 17 1 16 1 16 1 36 1 16 1 23 1 -1 1 -32 1 -3 1 -3 1 21 1 18 1 -11 1 -37 1 -1 1 21 1 -45 1 -9 1 16 1 45 1 -5 1 -4 1 -4 1 4" stroke="#00009f"/>
<path d="M378 5709l1 -8 1 1 1 -12 1 3 1 6 1 0 1 0 1 -6 1 -2 1 7 1 6 1 -1 1 4 1 -6 1 0 1 -10 1 -17 1 8 1 -12 1 23 1 -20 1 -22 1 -17 1 6 1 49 1 25 1 8 1 0 1 -8 1 6 1 2 1 6 1 -12 1 4 1 5 1 2 1 -9 1 -1 1 7 1 11 1 -9 1 3 1 7 1 4 1 -4 1 13 1 -13 1 -1 1 7 1 -2 1 2 1 -6 1 -4 1 3 1 -6 1 3 1 -5 1 -3 1 7 1 -12 1 6 1 1 1 4 1 -2 1 4 1 -2 1 9 1 -9 1 11 1 -3 1 3 1 9 1 -10 1 -4 1 7 1 -5 1 -5 1 -1 1 2 1 10 1 -10 1 -2 1 6 1 -5 1 9 1 -8 1 13 1 -4 1 -1 1 -5 1 1 1 5 1 -3 1 7 1 -8 1 1 1 9 1 2 1 3 1 -4 1 3 1 -6 1 -11 1 17 1 -3 1 1 1 -5 1 -6 1 11 1 1 1 -5 1 5 1 -5 1 -4 1 11 1 -7 1 -6 1 -8 1 7 1 -6 1 0 1 -2 1 4 1 -3 1 3 1 6 1 -3 1 4 1 -5 1 5 1 8 1 -10 1 0 1 7 1 -5 1 -1 1 -8 1 10 1 -2 1 1 1 1 1 2 1 4 1 -2 1 -2 1 -3 1 -2 1 2 1 -1 1 1 1 -12 1 2 1 5 1 -8 1 5 1 -3 1 7 1 3 1 -7 1 4 1 3 1 -11 1 1 1 6 1 3 1 -4 1 4 1 -9 1 10 1 -4 1 -2 1 -2 1 8 1 -9 1 5 1 3 1 -4 1 -1 1 1 1 1 1 -6 1 -7 1 9 1 -4 1 -1 1 -1 1 -7 1 4 1 3 1 -8 1 6 1 -1 1 1 1 -4 1 -1 1 0 1 -15 1 11 1 -11 1 3 1 -10 1 12 1 0 1 -3 1 1 1 4 1 -4 1 10 1 1 1 -9 1 -11 1 15 1 -7 1 0 1 1 1 3 1 -8 1 3 1 4 1 -2 1 -3 1 7 1 1 1 -11 1 4 1 -5 1 -8 1 3 1 -3 1 2 1 1 1 -7 1 6 1 -6 1 6 1 12 1 1 1 -6 1 -4 1 0" stroke="#00009f"/>
<path d="M888 5736l1 -6 1 8 1 -1 1 1 1 1 1 3 1 -4 1 3 1 2 1 7 1 -2 1 12 1 -9 1 0 1 7 1 2 1 2 1 -1 1 9 1 -10 1 5 1 -11 1 7 1 -2 1 10 1 -3 1 -2 1 12 1 -12 1 -2 1 8 1 5 1 0 1 -7 1 5 1 -8 1 12 1 -1 1 1 1 0 1 -7 1 7 1 -3 1 0 1 -5 1 8 1 -8 1 -1 1 5 1 1 1 -4 1 5 1 2 1 -31 1 -14 1 -22 1 -48 1 22 1 21 1 38 1 32 1 -1 1 8 1 -12 1 3 1 6 1 -4 1 -4 1 5 1 -3 1 1 1 2 1 -12 1 5 1 0 1 -1 1 9 1 -8 1 2 1 4 1 -3 1 0 1 -4 1 10 1 -7 1 -5 1 -3 1 -13 1 -15 1 -15 1 -12 1 -17 1 -12 1 -9 1 -6 1 -2 1 2 1 6 1 9 1 12 1 14 1 15 1 15 1 15 1 -3 1 -5 1 4 1 7 1 -9 1 -6 1 -42 1 -36 1 -24 1 13 1 -18 1 38 1 27 1 35 1 3 1 -7 1 -7 1 11 1 -3 1 2 1 -11 1 11" stroke="#00009f"/>
<path d="M252 5715l1 0 1 1 1 0 1 -3 1 1 1 1 1 9 1 -4 1 -1 1 15 1 -4 1 4 1 -1 1 -1 1 -5 1 3 1 9 1 0 1 -2 1 -4 1 10 1 -4 1 3 1 -3 1 -3 1 -3 1 9 1 2 1 -11 1 13 1 -7 1 2 1 -5 1 9 1 -11 1 7 1 -13 1 7 1 7 1 2 1 -6 1 3 1 -8 1 4 1 -1 1 -5 1 1 1 5 1 1 1 -8 1 15 1 -2 1 -4 1 8 1 -5 1 -4 1 4 1 -2 1 3 1 -5 1 -1 1 12 1 -5 1 -5 1 3 1 1 1 3 1 -7 1 10 1 -9 1 6 1 -1 1 3 1 1 1 1 1 2 1 2 1 -11 1 3 1 12 1 -9 1 -6 1 7 1 2 1 0 1 -8 1 1 1 4 1 -2 1 0 1 6 1 1 1 -4 1 1 1 -2 1 7 1 -10 1 2 1 4 1 -2 1 -5 1 4 1 1 1 -1 1 9 1 -5 1 -2 1 2 1 1 1 3 1 -4 1 -2 1 -1 1 6 1 -12 1 0 1 5 1 4 1 2 1 -1 1 1 1 0 1 5 1 -1 1 -2 1 4 1 6 1 -8 1 1 1 5 1 5 1 -9 1 4 1 2 1 -1 1 -4 1 -3 1 4 1 -5 1 4 1 -4 1 -7 1 4 1 2 1 -2 1 14 1 -16 1 -3 1 5 1 11 1 -5 1 3 1 1 1 -1 1 2 1 -11 1 0 1 7 1 -13 1 3 1 2 1 6 1 -2 1 7 1 -1 1 -5 1 -5 1 5 1 -6 1 7 1 -3 1 8 1 -12 1 3 1 1 1 -2 1 -10 1 11 1 8 1 -10 1 4 1 0 1 -1 1 6 1 -7 1 3 1 0 1 -1 1 -9 1 0 1 0 1 8 1 -3 1 -1 1 0 1 -2 1 -7 1 9 1 -6 1 10 1 -4 1 3 1 2 1 -9 1 2 1 -4 1 4 1 7 1 -4 1 6 1 -6 1 -3 1 3 1 -1 1 -8 1 4 1 -5 1 2 1 2 1 -4 1 -4 1 -5 1 1 1 1 1 -2 1 -9 1 6 1 1 1 2 1 -5 1 3 1 0 1 -14 1 1 1 -2 1 4 1 5 1 1 1 6 1 -14 1 -1 1 -1 1 3 1 0 1 -10 1 5 1 0 1 0 1 -8 1 1 1 8 1 -1 1 -7 1 0 1 -2 1 11 1 -10 1 5 1 -2 1 -5 1 14 1 -11 1 2 1 -12" stroke="#0000bf"/>
<path d="M1056 5716l1 -8 1 8 1 1 1 -1 1 7 1 -7 1 6 1 7 1 2 1 6 1 0 1 -1 1 1 1 -1 1 -8 1 8 1 4 1 3 1 -2 1 2 1 -3 1 -2 1 8 1 -3 1 -1 1 1 1 -3 1 2 1 9 1 -4 1 5 1 -4 1 1 1 1 1 3 1 5 1 2 1 0 1 3 1 -14 1 3 1 10 1 -7 1 8 1 -3 1 -2 1 5 1 -10 1 7 1 -2 1 -2 1 -2 1 8 1 -6 1 0 1 -2 1 9 1 -6 1 -13 1 12 1 -1 1 5 1 -2 1 -1 1 -8 1 4 1 1 1 -2 1 2 1 7 1 -5 1 0 1 2 1 6 1 1 1 -4 1 4 1 -7 1 5 1 5 1 -9 1 1 1 6 1 0 1 2 1 -6 1 3 1 -3 1 3 1 -4 1 3 1 5 1 -3 1 8 1 -7 1 -1 1 6 1 -2 1 -3 1 11 1 -12 1 9 1 -4 1 4 1 -5 1 0 1 -2 1 -4 1 9 1 -3 1 -2 1 -4 1 0 1 9 1 3 1 0 1 -5 1 8 1 -6 1 -3 1 3 1 -7 1 3 1 -4 1 2 1 -11 1 11 1 -9 1 9 1 -2 1 -5 1 -5 1 4 1 13 1 -8 1 -3 1 -7 1 4 1 1 1 -2 1 8 1 -9 1 3 1 5 1 -5 1 -3 1 5 1 -9 1 1 1 6 1 1 1 -4 1 -5 1 7 1 -8 1 7 1 -5 1 -5 1 -10 1 3 1 13 1 -11 1 4 1 -3 1 9 1 -8 1 -7 1 2 1 -2 1 0 1 -5 1 -3 1 4 1 0 1 -7 1 -1 1 -2 1 0 1 8 1 -6" stroke="#0000bf"/>
<path d="M1038 5688l1 -14 1 4 1 -6 1 5 1 -2 1 3 1 -1 1 -6 1 5 1 -2 1 5 1 -6 1 -5 1 3 1 4 1 7 1 5 1 -4 1 13 1 5 1 2 1 -3 1 -9 1 9 1 -3 1 3 1 5 1 -15 1 9 1 1 1 -12 1 6 1 6 1 -7 1 0 1 5 1 -1 1 -5 1 -5 1 -12 1 7 1 -1 1 -3 1 5 1 5 1 3 1 -3 1 12 1 -3 1 3 1 4 1 1 1 -6 1 -2 1 9 1 1 1 -3 1 3 1 -3 1 -4 1 6 1 -4 1 2 1 4 1 6 1 -3 1 -13 1 4 1 -8 1 3 1 0 1 0 1 1 1 -3 1 2 1 -1 1 -2 1 -16 1 13 1 12 1 -7 1 -16 1 15 1 -4 1 -1 1 -10 1 -24 1 -8 1 -17 1 -10 1 8 1 50 1 4 1 -24 1 18 1 19 1 20 1 -10 1 -22 1 -9 1 -35 1 -19 1 26 1 17 1 31 1 15 1 -3 1 3 1 3 1 -6 1 3 1 2 1 -3 1 6 1 2 1 2 1 -6 1 -9 1 11 1 -1 1 6 1 -9 1 12 1 -6 1 5 1 2 1 -2 1 2 1 -12 1 1 1 -2 1 1 1 -8 1 8 1 11 1 -6 1 -2 1 -5 1 13 1 -10 1 8 1 -13 1 6 1 6 1 -4 1 -11 1 9 1 -1441 1 1440 1 2 1 0 1 -7 1 4 1 -9 1 -6 1 1 1 3 1 -8 1 14 1 -3 1 -9 1 1 1 0 1 1 1 -10 1 2 1 1 1 11 1 -7 1 -4 1 -5 1 7 1 3 1 -3 1 0 1 8 1 -5 1 10 1 -13 1 -7 1 6 1 5 1 -6 1 8 1 0 1 4 1 -4 1 3 1 12 1 -4 1 -8 1 0 1 -1 1 -9 1 -2 1 -6 1 1 1 -1 1 -7 1 3 1 4 1 1 1 -12 1 1 1 1 1 -12 1 13 1 -5 1 8 1 -3 1 -11 1 1 1 -2 1 1 1 1 1 0 1 3 1 8 1 -10 1 3 1 -8 1 5 1 -5 1 15 1 3 1 2 1 -5 1 5 1 -2 1 0 1 -15 1 7 1 11 1 -4 1 4 1 -1 1 7 1 -20 1 1 1 2" stroke="#0000df"/>
<path d="M552 5706l1 5 1 9 1 0 1 -2 1 3 1 5 1 -5 1 -9 1 6 1 8 1 0 1 -1 1 -6 1 0 1 6 1 15 1 -9 1 5 1 1 1 1 1 1 1 1 1 -5 1 5 1 8 1 -6 1 -2 1 0 1 2 1 -2 1 9 1 -4 1 8 1 -1 1 0 1 3 1 12 1 -4 1 -3 1 -2 1 -1 1 -4 1 -5 1 10 1 -8 1 10 1 -4 1 4 1 6 1 -4 1 3 1 1 1 -4 1 -4 1 8 1 -8 1 6 1 5 1 -8 1 1 1 -6 1 2 1 4 1 -1 1 13 1 -10 1 11 1 -8 1 6 1 2 1 -3 1 -6 1 -3 1 8 1 0 1 6 1 -7 1 5 1 -3 1 -3 1 0 1 2 1 -3 1 -5 1 2 1 3 1 -2 1 -6 1 7 1 -2 1 4 1 0 1 0 1 9 1 -5 1 9 1 -8 1 -2 1 5 1 -8 1 6 1 -3 1 4 1 0 1 -3 1 -1 1 10 1 0 1 -6 1 0 1 -1 1 3 1 -10 1 7 1 -5 1 5 1 0 1 -7 1 12 1 -5 1 -5 1 7 1 7 1 -5 1 -7 1 -1 1 8 1 -2 1 0 1 4 1 -2 1 -6 1 5 1 -2 1 -8 1 8 1 -3 1 -2 1 3 1 2 1 -8 1 -1 1 2 1 7 1 2 1 -9 1 2 1 6 1 -5 1 0 1 -4 1 2 1 0 1 4 1 -2 1 -3 1 4 1 -8 1 8 1 -6 1 -6 1 -1 1 4 1 -5 1 -1 1 -1 1 3 1 2 1 0 1 -4 1 6 1 4 1 4 1 -10 1 -1 1 2 1 -6 1 7 1 -3 1 -5 1 5 1 -2 1 -6 1 -3 1 9 1 -2 1 -7 1 1 1 5 1 -2 1 -1 1 8 1 -6 1 -7 1 4 1 1 1 -3 1 4 1 4 1 -7 1 3 1 -1 1 -7 1 -6 1 6 1 2 1 -2 1 -7 1 15 1 -15 1 -6 1 3 1 3 1 4 1 3 1 -17 1 9 1 -5 1 3 1 0 1 -3 1 -1" stroke="#0020ff"/>
<path d="M1224 5737l1 -2 1 -1 1 8 1 -37 1 -31 1 -12 1 12 1 31 1 35 1 10 1 -1 1 1 1 3 1 0 1 4 1 3 1 -1 1 -3 1 5 1 -4 1 2 1 -3 1 2 1 -5 1 -2 1 9 1 0 1 9 1 -7 1 3 1 -3 1 6 1 -4 1 -8 1 2 1 9 1 1 1 0 1 -1 1 -4 1 -2 1 8 1 -10 1 4 1 -26 1 -24 1 -17 1 -7 1 8 1 23 1 21 1 27 1 4 1 -11 1 4 1 6 1 4 1 -9 1 0 1 5 1 6 1 -4 1 0 1 -3 1 3 1 -1 1 0 1 10 1 -7 1 4 1 5 1 -13 1 10 1 -5 1 -1 1 6 1 -6 1 3 1 5 1 -3 1 -5 1 5 1 0 1 1 1 -7 1 8 1 -4 1 5 1 -2 1 -2 1 -3 1 3 1 -9 1 -1 1 19 1 -7 1 -7 1 -8 1 10 1 -2 1 2 1 -7 1 1 1 3 1 1 1 -1 1 -8 1 -1876 1 1872 1 12 1 -7 1 4 1 1 1 -4 1 4 1 5 1 -10 1 6 1 -4 1 1 1 5 1 5 1 -11 1 1 1 5 1 -2 1 5 1 -8 1 7 1 -11 1 14 1 -4 1 -1 1 3 1 -2 1 4 1 -2 1 -3 1 0 1 -8 1 -1 1 -1 1 1 1 0 1 0 1 -1 1 1 1 -10 1 2 1 0 1 1 1 -5 1 1 1 2 1 -12 1 6 1 -2 1 -4 1 4 1 3 1 -11 1 1 1 12 1 -6 1 10 1 -5 1 -5 1 -4 1 6 1 5 1 -1 1 -11 1 12 1 -7 1 -1 1 4 1 -4 1 -2 1 -5 1 -1" stroke="#0020ff"/>
<path d="M0 5714l1 -4 1 8 1 0 1 -6 1 10 1 -39 1 -49 1 2 1 47 1 31 1 4 1 4 1 6 1 -6 1 8 1 -1 1 2 1 1 1 2 1 -1 1 5 1 6 1 -4 1 3 1 -13 1 8 1 -3 1 -3 1 0 1 -2 1 6 1 -20 1 6 1 3 1 -4 1 -8 1 4 1 -13 1 6 1 -8 1 -4 1 -5" stroke="#0040ff"/>
<path d="M318 5736l1 -5 1 -1 1 0 1 -1 1 6 1 -3 1 0 1 3 1 7 1 -9 1 8 1 0 1 5 1 -1 1 -1 1 4 1 4 1 -1 1 11 1 2 1 -5 1 1 1 2 1 -5 1 1 1 -4 1 11 1 -4 1 0 1 5 1 -10 1 10 1 1 1 -7 1 -1 1 9 1 -10 1 9 1 6 1 1 1 -2 1 0 1 3 1 1 1 2 1 -3 1 -2 1 3 1 -3 1 1 1 2 1 -5 1 6 1 7 1 -14 1 6 1 1 1 -4 1 6 1 4 1 -2 1 -5 1 0 1 8 1 -6 1 1 1 8 1 -10 1 0 1 10 1 -9 1 0 1 -1 1 -3 1 1 1 -7 1 13 1 -10 1 2 1 9 1 2 1 -5 1 -1 1 2 1 -8 1 6 1 0 1 -2 1 4 1 1 1 -3 1 7 1 -3 1 -2 1 8 1 -4 1 2 1 -3 1 -5 1 5 1 -1 1 2 1 -5 1 -4 1 8 1 -10 1 7 1 -1 1 0 1 -1 1 5 1 -2 1 1 1 0 1 0 1 -5 1 2 1 -3 1 7 1 0 1 -9 1 4 1 2 1 -7 1 -4 1 16 1 -12 1 -3 1 -4 1 7 1 2 1 -4 1 -4 1 2 1 -7 1 11 1 -4 1 5 1 -12 1 9 1 -8 1 4 1 -6 1 9 1 -2 1 -11 1 10 1 3 1 -10 1 6 1 -3 1 1 1 1 1 -9 1 5 1 -7 1 -1 1 4 1 -4 1 -7 1 10 1 3 1 -5 1 -1 1 5 1 -9 1 4 1 -2 1 0 1 -7 1 3 1 -4 1 -5 1 0" stroke="#0040ff"/>
<path d="M1044 5726l1 -5 1 -3 1 -3 1 3 1 4 1 -8 1 7 1 6 1 6 1 -7 1 3 1 -1 1 3 1 -3 1 4 1 -2 1 2 1 -1 1 -8 1 -2 1 7 1 -7 1 1 1 5 1 -8 1 5 1 4 1 -10 1 10 1 7 1 -11 1 4 1 9 1 -8 1 5 1 1 1 -9 1 0 1 1 1 2 1 -1 1 4 1 1 1 -2 1 6 1 -3 1 4 1 -1 1 -4 1 12 1 -6 1 1 1 0 1 -4 1 -3 1 7 1 1 1 1 1 -7 1 1 1 4 1 -6 1 -8 1 7 1 -7 1 8 1 -1 1 8 1 -4 1 4 1 -6 1 2 1 5 1 1 1 -1 1 1 1 -6 1 13 1 -9 1 -1 1 1 1 9 1 -5 1 5 1 -5 1 7 1 -12 1 -1 1 2 1 4 1 5 1 -10 1 -6 1 6 1 -18 1 19 1 -3 1 0 1 0 1 5 1 0 1 -2 1 -4 1 5 1 -3 1 7 1 -9 1 2 1 13 1 -1 1 -9 1 0 1 1 1 0 1 4 1 6 1 -1 1 -7 1 -4 1 -1 1 0 1 -1 1 -9 1 2 1 -2 1 1 1 -4 1 13 1 -12 1 -3 1 -3 1 4 1 -7 1 0 1 -4 1 -5 1 6 1 -12 1 9 1 -3 1 -6 1 -2 1 2 1 2 1 -6 1 4 1 -4 1 7 1 -5 1 3" stroke="#0040ff"/>
<path d="M426 5739l1 1 1 -3 1 1 1 -2 1 1 1 -2 1 9 1 3 1 6 1 -5 1 -6 1 4 1 -1 1 10 1 -2 1 1 1 2 1 -5 1 6 1 -2 1 0 1 3 1 -11 1 9 1 -2 1 1 1 -2 1 11 1 -2 1 7 1 -4 1 -4 1 -8 1 5 1 -5 1 -4 1 6 1 1 1 -9 1 -1 1 0 1 6 1 -1 1 10 1 -13 1 7 1 1 1 -2 1 -7 1 10 1 1 1 -13 1 11 1 1 1 1 1 -3 1 4 1 6 1 -5 1 -1 1 2 1 -2 1 -2 1 11 1 -6 1 -5 1 -1 1 -3 1 12 1 -3 1 -4 1 6 1 2 1 -7 1 -3 1 8 1 5 1 1 1 -4 1 11 1 -10 1 -4 1 3 1 5 1 2 1 -1 1 -12 1 13 1 8 1 -8 1 1 1 2 1 -1 1 0 1 -2 1 -1 1 -1 1 1 1 2 1 -15 1 -27 1 -36 1 -19 1 -7 1 -22 1 6 1 21 1 21 1 27 1 26 1 20 1 4 1 -5 1 10 1 -5 1 7 1 -9 1 -4 1 6 1 8 1 -7 1 1 1 -4 1 -10 1 -12 1 -4 1 -16 1 4 1 -1 1 -37 1 -5 1 -1 1 1 1 32 1 -19 1 13 1 9 1 12 1 12 1 12 1 18 1 0 1 1 1 -4 1 3 1 -1 1 1 1 9 1 -7 1 -1 1 2 1 -33 1 -69 1 -19 1 20 1 36 1 43 1 19 1 -5 1 4 1 -4 1 14 1 -7 1 -3 1 -1 1 4 1 -2 1 5 1 -6 1 9 1 -4 1 -1 1 -5 1 3 1 8 1 -9 1 0 1 -5 1 5 1 -10 1 9 1 1 1 4 1 -7 1 -4 1 8 1 2 1 -7 1 -3 1 8 1 3 1 -9 1 7 1 1 1 -8 1 14 1 -15 1 9 1 2 1 -7 1 1 1 3 1 -7 1 -2 1 2 1 4 1 0 1 -2 1 1 1 3 1 -6 1 4 1 -8 1 8 1 -7 1 3 1 1 1 7 1 -3 1 -5 1 8 1 6 1 -12 1 6 1 -4 1 0 1 -1 1 4 1 0 1 -6 1 6 1 -6 1 -1 1 -2 1 6 1 8 1 -8 1 -2 1 -7 1 10 1 -3 1 3 1 2 1 0 1 -3 1 -6 1 5 1 4 1 -1 1 -3 1 -6 1 12 1 -7 1 0 1 -3 1 9 1 -8 1 0 1 4 1 -2 1 -2 1 0 1 3 1 -7 1 0 1 7 1 1 1 -4 1 11 1 -13 1 11 1 -9 1 -9 1 12 1 -5 1 -4 1 6 1 -11 1 3 1 2 1 10 1 -11 1 11 1 -5 1 -1 1 -3 1 4 1 1 1 -7 1 2 1 0 1 0 1 -8 1 8 1 3 1 -2 1 -2 1 5 1 -4 1 4 1 0 1 4 1 -4 1 3 1 -7 1 2 1 1 1 -2 1 1 1 -4 1 -3 1 6 1 1 1 -5 1 2 1 -4 1 -1 1 2 1 -3 1 2 1 -5 1 -3 1 3 1 -4 1 7 1 -9 1 7 1 2 1 9 1 -10 1 -2 1 3 1 -3 1 6 1 -10 1 16 1 -21 1 2 1 10 1 -3 1 6 1 -5 1 0 1 5 1 -4 1 0 1 5 1 -5 1 -1 1 0 1 7 1 -7 1 -5 1 11 1 -5 1 -7 1 1 1 5 1 -2 1 -4 1 1 1 3 1 -2 1 -12 1 2 1 5 1 9 1 -13 1 -6 1 0 1 2 1 5" stroke="#0060ff"/>
<path d="M1338 5729l1 1 1 5 1 -1 1 15 1 -7 1 -4 1 -3 1 2 1 3 1 6 1 -2 1 7 1 -5 1 2 1 3 1 -8 1 11 1 -1 1 0 1 7 1 5 1 -10 1 2 1 3 1 5 1 -9 1 5 1 -72 1 -98 1 -37 1 36 1 82 1 83 1 12 1 -5 1 8 1 2 1 -2 1 -1 1 -52 1 -38 1 -61 1 18 1 66 1 58 1 8 1 3 1 -2 1 -3 1 1 1 -2 1 7 1 0 1 6 1 -12 1 10 1 1 1 -5 1 -2 1 -5 1 -2 1 9 1 -5 1 -1 1 3 1 -2 1 -3 1 -2 1 7 1 0 1 -8 1 5 1 0 1 -6 1 7 1 -4 1 4 1 3 1 -5 1 5 1 -7 1 1 1 -3 1 -2 1 4 1 -14 1 8 1 -6 1 -1 1 1 1 -14 1 13 1 -16 1 3 1 3 1 11 1 -8 1 7 1 -10 1 -3 1 -2 1 5" stroke="#0060ff"/>
<path d="M0 5681l1 5 1 -1 1 11 1 -11 1 -7 1 8 1 -1 1 -10 1 13 1 2 1 8 1 -10 1 2 1 1 1 3 1 12 1 -9 1 7 1 -1 1 -2 1 3 1 5 1 0 1 2 1 4 1 -4 1 -2 1 -6 1 -2 1 1 1 1 1 0 1 2 1 2 1 11 1 -15 1 3 1 4 1 3 1 -4 1 4 1 -16 1 5 1 -4 1 5 1 1 1 -1 1 8 1 9 1 -12 1 12 1 -6 1 1 1 3 1 3 1 -4 1 -3 1 5 1 -16 1 8 1 -5 1 7 1 9 1 -10 1 2 1 4 1 6 1 -3 1 1 1 -6 1 -8 1 12 1 3 1 2 1 4 1 -9 1 6 1 -15 1 6 1 4 1 -8 1 4 1 2 1 -2 1 0 1 -1 1 -5 1 2 1 8 1 -6 1 0 1 6 1 -3 1 10 1 -5 1 3 1 -12 1 6 1 10 1 -8 1 1 1 2 1 2 1 -1 1 2 1 -5 1 3 1 5 1 0 1 -5 1 1 1 -1 1 -2 1 -7 1 0 1 -1 1 2 1 -10 1 3 1 5 1 7 1 -4 1 0 1 -9 1 -1 1 -1 1 0 1 -8 1 9 1 7 1 -5 1 10 1 -1 1 -27 1 -27 1 -3 1 -2 1 16 1 -21 1 52 1 -56 1 -2 1 -3 1 -2 1 -43 1 -43 1 -43 1 -42 1 -27 1 -24 1 37 1 95 1 -21 1 51 1 46 1 14 1 19 1 18 1 -20 1 6 1 6 1 6 1 16 1 32 1 -5 1 3 1 1 1 -6 1 -11 1 7 1 -1 1 6 1 1 1 -4 1 -4 1 -4 1 4 1 -1 1 -3 1 -8 1 3 1 -7 1 5 1 -1 1 5 1 -4 1 1 1 7 1 -1 1 4 1 -2 1 -13 1 5 1 -2 1 -18 1 -2 1 -6 1 2 1 8 1 -2 1 -2 1 -8 1 2 1 -1 1 -8 1 -14 1 7 1 -8 1 5 1 -12" stroke="#0080ff"/>
<path d="M792 5675l1 5 1 10 1 19 1 0 1 0 1 1 1 -4 1 16 1 -7 1 -5 1 6 1 -10 1 8 1 -5 1 6 1 -3 1 -3 1 -5 1 6 1 -3 1 -1 1 -10 1 -5 1 -4" stroke="#0080ff"/>
<path d="M1410 5726l1 3 1 -1 1 19 1 -3 1 -7 1 0 1 5 1 -3 1 6 1 0 1 2 1 -1 1 -4 1 0 1 -3 1 -21 1 -26 1 9 1 5 1 4 1 29 1 0 1 -2 1 -6 1 -3 1 -3 1 -6 1 -2 1 -7 1 -5" stroke="#0080ff"/>
<path d="M486 5759l1 -9 1 -2 1 1 1 2 1 6 1 -4 1 0 1 6 1 -6 1 3 1 -5 1 7 1 3 1 -4 1 -10 1 13 1 -2 1 7 1 -3 1 -6 1 6 1 -2 1 -6 1 -1 1 8 1 -7 1 10 1 3 1 -11 1 5 1 1 1 1 1 -7 1 6 1 5 1 -6 1 5 1 -5 1 10 1 -9 1 2 1 10 1 -6 1 0 1 -1 1 0 1 1 1 -3 1 -1 1 7 1 -1 1 -1 1 3 1 0 1 6 1 -15 1 5 1 2 1 7 1 -9 1 3 1 -1 1 -4 1 8 1 -8 1 1 1 11 1 -3 1 3 1 -9 1 5 1 -4 1 -4 1 6 1 4 1 -3 1 1 1 10 1 -10 1 -2 1 0 1 9 1 -2 1 -5 1 1 1 1 1 -8 1 10 1 4 1 -11 1 1 1 0 1 3 1 4 1 0 1 -2 1 3 1 2 1 -12 1 11 1 -3 1 -3 1 5 1 6 1 -6 1 -1 1 2 1 -6 1 8 1 -8 1 -1 1 5 1 -7 1 10 1 -2 1 -8 1 1 1 6 1 -2 1 6 1 -1 1 0 1 0 1 0 1 -1 1 -3 1 4 1 0 1 1 1 3 1 -3 1 -7 1 0 1 2 1 -3 1 -1 1 1 1 7 1 3 1 -8 1 -2 1 2 1 -1 1 1 1 1 1 -1 1 1 1 -3 1 1 1 -4 1 3 1 2 1 3 1 -5 1 10 1 -10 1 8 1 -5 1 6 1 -2 1 -11 1 10 1 -5 1 -3 1 2 1 -5 1 8 1 -3 1 5 1 6 1 -9 1 -2 1 1 1 5 1 -1 1 8 1 -4 1 -8 1 8 1 2 1 -5 1 -2 1 1 1 4 1 4 1 -6 1 -1 1 0 1 0 1 4 1 -2 1 -8 1 10 1 -8 1 -3 1 10 1 4 1 -4 1 -4 1 1 1 6 1 -4 1 2 1 -3 1 -3 1 -2 1 4 1 -2 1 -8 1 0 1 10 1 -8 1 -1 1 0 1 4 1 7 1 -9 1 6 1 -2 1 -4 1 -5 1 3 1 8 1 4 1 -7 1 1 1 -1 1 -3 1 2 1 3 1 0 1 -5 1 3 1 0 1 0 1 -2 1 -1 1 -2 1 5 1 6 1 -8 1 0 1 -3 1 3 1 1 1 -10 1 12 1 -4 1 1 1 -7 1 6 1 -9 1 1 1 2 1 -4 1 9 1 -8 1 -3 1 4 1 9 1 -7 1 -5 1 5 1 0 1 -9 1 -1 1 8 1 -3 1 -7 1 3 1 -1 1 6 1 -8 1 5 1 3 1 -7 1 1 1 2 1 2 1 -1 1 3 1 5 1 -4 1 5 1 -1 1 -4 1 -3 1 8 1 0 1 -13 1 7 1 1 1 2 1 -1 1 1 1 2 1 8 1 -10 1 -5 1 4 1 -5 1 6 1 -1 1 -12 1 10 1 -8 1 2 1 -2 1 8 1 -3 1 1 1 -1 1 -2 1 -1 1 6 1 -3 1 -4 1 -2 1 -2 1 8 1 3 1 -11 1 4 1 0 1 3 1 -2 1 -4 1 0 1 8 1 -15 1 6 1 5 1 -11 1 4 1 1 1 -4 1 1 1 -5 1 0 1 1 1 -4 1 -9 1 6 1 -5 1 -4 1 3 1 3 1 -1" stroke="#009fff"/>
<path d="M1254 5665l1 11 1 -9 1 20 1 11 1 -10 1 8 1 4 1 0 1 3 1 5 1 3 1 6 1 1 1 -5 1 9 1 -6 1 1 1 12 1 -2 1 -2 1 -6 1 -6 1 -9 1 12 1 -13 1 9 1 -3 1 -2 1 3 1 -2 1 10 1 -3 1 6 1 -10 1 -5 1 9 1 -9 1 11 1 -5 1 2 1 9 1 -5 1 -4 1 -3 1 -12 1 -9 1 -8 1 19 1 -15 1 -16 1 23 1 18 1 -3 1 0 1 3 1 -7 1 -7 1 -2 1 3 1 6 1 0 1 -6 1 -7 1 -4 1 -7 1 22 1 -2 1 3 1 -3 1 -1 1 -4 1 2" stroke="#009fff"/>
<path d="M42 5746l1 5 1 -15 1 10 1 4 1 -6 1 1 1 4 1 -3 1 12 1 -5 1 -1 1 12 1 -7 1 13 1 -13 1 4 1 6 1 -3 1 6 1 8 1 0 1 -3 1 0 1 -1 1 8 1 -9 1 -3 1 -2 1 7 1 2 1 -7 1 4 1 -1 1 2 1 -8 1 8 1 -6 1 11 1 -3 1 -3 1 6 1 -4 1 0 1 -1 1 -3 1 1 1 -3 1 8 1 -7 1 11 1 -10 1 2 1 12 1 -7 1 2 1 -3 1 -1 1 -2 1 0 1 5 1 -4 1 1 1 2 1 -1 1 -2 1 -5 1 8 1 -2 1 4 1 -7 1 -4 1 7 1 -6 1 11 1 -5 1 -2 1 -2 1 -42 1 -10 1 -7 1 1 1 24 1 -4 1 -49 1 -6 1 -7 1 -7 1 -7 1 -7 1 -7 1 -2 1 49 1 -51 1 -5 1 48 1 -35 1 -15 1 17 1 -27 1 2 1 -6 1 -2 1 38 1 -34 1 2 1 2 1 3 1 2 1 2 1 3 1 21 1 3 1 -14 1 -1 1 13 1 -4 1 5 1 4 1 5 1 5 1 10 1 37 1 -13 1 -16 1 20 1 27 1 2 1 1 1 -23 1 -13 1 1 1 9 1 -6 1 1 1 3 1 5 1 -5 1 2 1 9 1 18 1 -7 1 16 1 -4 1 -20 1 3 1 18 1 -22 1 9 1 -8 1 1 1 -1 1 0 1 6 1 -7 1 -1 1 -1 1 0 1 -1 1 0 1 -1 1 27 1 -21 1 -8 1 12 1 14 1 -18 1 -10 1 0 1 9 1 19 1 -2 1 -13 1 0 1 17 1 -8 1 -27 1 19 1 -20 1 -1 1 0 1 -1 1 19 1 -6 1 -15 1 0 1 6 1 29 1 0 1 -4 1 -18 1 -17 1 26 1 -2 1 -16 1 -1 1 2 1 -2 1 -11 1 -11 1 -12 1 -11 1 -12 1 -11 1 -12 1 23 1 23 1 23 1 41 1 -9 1 2" stroke="#00bfff"/>
<path d="M810 5694l1 5 1 -2 1 8 1 -2 1 -2 1 -5 1 -3 1 13 1 -2 1 6 1 -27 1 -51 1 25 1 50 1 -6 1 9 1 2 1 -7 1 2 1 -1 1 -1 1 -9 1 5 1 2 1 10 1 6 1 -4 1 5 1 -7 1 1 1 -2 1 6 1 -13 1 12 1 -40 1 -49 1 72 1 16 1 5 1 1 1 -8 1 6 1 5 1 -5 1 -6 1 -55 1 2 1 53 1 15 1 -4 1 -4 1 5 1 8 1 -2 1 -8 1 4 1 -13 1 1 1 4 1 1 1 3 1 -2 1 -3 1 4 1 -5 1 4 1 3 1 -5 1 8 1 0 1 -2 1 1 1 3 1 -6 1 12 1 -1 1 5 1 -2 1 -4 1 -2 1 7 1 -6 1 -2 1 -2 1 4 1 1 1 -1 1 -7 1 4 1 -3 1 0 1 0 1 2 1 -6 1 -5 1 5 1 6 1 -5 1 -11 1 -4 1 11 1 -5 1 4 1 -5 1 3 1 -1 1 -3 1 -6 1 1 1 4 1 2 1 -3 1 -2 1 -3 1 3 1 -14 1 14 1 6 1 1 1 2 1 0 1 -1 1 0 1 2 1 4 1 -6 1 -1 1 4 1 -2 1 -4 1 -11 1 -3 1 8 1 -11 1 -1 1 -7 1 12 1 -19 1 8 1 1 1 1 1 3 1 5 1 -4" stroke="#00bfff"/>
<path d="M96 5716l1 0 1 -3 1 -2 1 0 1 -5 1 14 1 3 1 6 1 -11 1 15 1 -8 1 1 1 3 1 -1 1 6 1 3 1 -9 1 7 1 2 1 1 1 -1 1 0 1 14 1 -13 1 5 1 -12 1 -3 1 3 1 11 1 -6 1 -2 1 0 1 0 1 4 1 -8 1 6 1 0 1 -1 1 3 1 -1 1 2 1 -39 1 -34 1 -35 1 -35 1 -34 1 -40 1 -26 1 -82 1 167 1 60 1 14 1 -34 1 75 1 9 1 -45 1 13 1 6 1 6 1 6 1 15 1 -3 1 7 1 9 1 3 1 15 1 5 1 -1 1 6 1 -2 1 1 1 7 1 4 1 -6 1 4 1 -5 1 0 1 1 1 9 1 -15 1 6 1 4 1 2 1 -5 1 -3 1 7 1 -6 1 3 1 -1 1 -4 1 -7 1 8 1 -3 1 4 1 4 1 -7 1 -2 1 4 1 4 1 -6 1 6 1 -10 1 1 1 -1 1 4 1 -1 1 -4 1 -4 1 4 1 -1 1 -1 1 10 1 -7 1 -3 1 7 1 -2 1 6 1 0 1 -7 1 6 1 -4 1 -9 1 1 1 7 1 -2 1 1 1 -7 1 2 1 4 1 5 1 -2 1 -6 1 8 1 -2 1 0 1 5 1 0 1 -2 1 2 1 -7 1 0 1 3 1 -7 1 5 1 -2 1 -3 1 -7 1 9 1 6 1 -14 1 1 1 -4 1 -4 1 4 1 2 1 -4 1 -5 1 2 1 9 1 -4 1 -3 1 -7 1 9 1 -11 1 3 1 2 1 -3 1 11 1 -6 1 4 1 -7 1 1 1 -3 1 10 1 -6 1 -7 1 3 1 6 1 -6 1 -7" stroke="#00dfff"/>
<path d="M834 5678l1 -3 1 4 1 -3 1 11 1 7 1 3 1 -7 1 1 1 13 1 -4 1 2 1 -4 1 -1 1 -2 1 0 1 2 1 -5 1 1 1 11 1 -2 1 -6 1 1 1 6 1 -5 1 6 1 -3 1 2 1 6 1 2 1 -13 1 8 1 12 1 -1 1 -5 1 -7 1 7 1 7 1 -5 1 0 1 -8 1 13 1 -2 1 -4 1 9 1 -6 1 3 1 -4 1 4 1 -3 1 8 1 9 1 -5 1 -8 1 2 1 -2 1 12 1 -17 1 3 1 -6 1 -2 1 3 1 0 1 6 1 -12 1 11 1 2 1 -9 1 4 1 2 1 3 1 -2 1 -4 1 -1 1 -10 1 -3 1 -10 1 -9 1 1 1 -3 1 4 1 -5 1 -7 1 9 1 -5 1 6 1 -11 1 5 1 0 1 4 1 -1 1 -2 1 2 1 4 1 -10 1 2 1 -2" stroke="#00dfff"/>
<path d="M312 5736l1 -8 1 11 1 5 1 -12 1 -3 1 6 1 4 1 -6 1 5 1 -21 1 -3 1 -10 1 0 1 4 1 21 1 9 1 7 1 2 1 3 1 0 1 -4 1 -1 1 1 1 2 1 3 1 2 1 -16 1 -24 1 -18 1 -6 1 6 1 20 1 22 1 7 1 5 1 1 1 7 1 -11 1 9 1 -8 1 10 1 -5 1 -1 1 0 1 3 1 -1 1 -1 1 6 1 -11 1 9 1 -7 1 1 1 2 1 8 1 3 1 -9 1 5 1 -3 1 -10 1 12 1 -7 1 -2 1 -5 1 -1 1 -2 1 -6 1 -2 1 -2 1 -6 1 -3 1 -1 1 8 1 3 1 -5 1 -5 1 -1 1 -10 1 -7" stroke="#00ffff"/>
<path d="M930 5713l1 6 1 1 1 2 1 -3 1 6 1 6 1 -4 1 -3 1 2 1 -2 1 -2 1 5 1 -2 1 -1 1 5 1 -1 1 5 1 0 1 -3 1 -4 1 5 1 3 1 -4 1 2 1 -2 1 -14 1 -13 1 -8 1 -5 1 -1 1 30 1 -18 1 31 1 -19 1 13 1 16 1 3 1 -3 1 2 1 -2 1 1 1 7 1 -2 1 -11 1 10 1 1 1 -5 1 7 1 3 1 -8 1 6 1 -11 1 3 1 10 1 -10 1 9 1 -7 1 12 1 -3 1 -1 1 -6 1 6 1 1 1 -6 1 8 1 1 1 -7 1 1 1 3 1 0 1 0 1 1 1 -5 1 4 1 -10 1 7 1 3 1 -1 1 -1 1 -2 1 -3 1 0 1 0 1 2 1 -2 1 1 1 7 1 -1 1 4 1 0 1 0 1 2 1 0 1 -5 1 0 1 -7 1 12 1 3 1 -6 1 1 1 1 1 8 1 0 1 -12 1 -4 1 8 1 0 1 -7 1 -3 1 3 1 -3 1 8 1 -10 1 7 1 7 1 1 1 -8 1 -1 1 2 1 -1 1 -1 1 -1 1 7 1 -4 1 -3 1 4 1 3 1 1 1 -4 1 -6 1 8 1 3 1 -3 1 -3 1 1 1 3 1 -7 1 8 1 -2 1 -2 1 4 1 6 1 -9 1 1 1 7 1 -2 1 5 1 -4 1 -3 1 1 1 8 1 2 1 -15 1 8 1 1 1 -3 1 -7 1 0 1 -6 1 9 1 -6 1 7 1 -1 1 -4 1 1 1 -6 1 8 1 4 1 -7 1 10 1 -12 1 1 1 1 1 4 1 -6 1 6 1 -3 1 3 1 6 1 -16 1 20 1 -14 1 8 1 -3 1 2 1 -1 1 0 1 2 1 -5 1 1 1 2 1 4 1 -8 1 -4 1 4 1 -3 1 3 1 -2 1 -1 1 0 1 -3 1 5 1 1 1 -3 1 -1 1 -1 1 1 1 1 1 3 1 -1 1 9 1 -10 1 2 1 -11 1 11 1 -11 1 4 1 -2 1 10 1 -1 1 -3 1 -8 1 5 1 -2 1 -29 1 -29 1 -21 1 -8 1 8 1 21 1 29 1 30 1 -2 1 0 1 -5 1 6 1 -3 1 -6 1 6 1 -10 1 -3 1 7 1 -6 1 -3 1 7 1 -8 1 -8 1 3 1 -3 1 1 1 2 1 4 1 -1 1 -5 1 0 1 3 1 -7 1 -2 1 2 1 -5 1 -5 1 12 1 2 1 -7 1 9 1 -11 1 1 1 12 1 -1 1 -7 1 0 1 1 1 -8 1 6 1 -1 1 -7" stroke="#00ffff"/>
<path d="M0 5731l1 -4 1 1 1 5 1 2 1 -5 1 13 1 -1 1 -1 1 7 1 9 1 -6 1 -1 1 1 1 0 1 -5 1 3 1 3 1 -3 1 -1 1 5 1 -1 1 4 1 -5 1 2 1 2 1 1 1 8 1 -6 1 0 1 4 1 3 1 -4 1 -3 1 5 1 9 1 -12 1 8 1 0 1 -1 1 -7 1 9 1 -4 1 4 1 -2 1 2 1 -6 1 -1 1 -3 1 4 1 1 1 -4 1 1 1 -3 1 0 1 1 1 -3 1 9 1 -10 1 -5 1 1 1 0 1 -8 1 6 1 -10 1 11 1 -4 1 -15 1 2 1 -10 1 9 1 -5 1 10 1 -12 1 -4 1 12 1 -15 1 -10 1 7" stroke="#20ffdf"/>
<path d="M624 5729l1 -4 1 2 1 1 1 2 1 0 1 2 1 1 1 -4 1 1 1 -6 1 8 1 -1 1 4 1 -11 1 6 1 -3 1 0 1 8 1 -13 1 6 1 -2 1 4 1 1 1 2 1 -2 1 -1 1 14 1 -9 1 3 1 -2 1 -1 1 4 1 -8 1 13 1 -4 1 0 1 -2 1 -5 1 6 1 -5 1 8 1 3 1 -1 1 -6 1 -5 1 7 1 0 1 3 1 0 1 5 1 -4 1 4 1 -4 1 -3 1 4 1 2 1 3 1 -4 1 -1 1 -2 1 -4 1 -5 1 3 1 10 1 -3 1 3 1 -6 1 3 1 -1 1 1 1 4 1 -8 1 0 1 -1 1 6 1 3 1 -1 1 4 1 11 1 -5 1 -7 1 -2 1 4 1 -1 1 7 1 -3 1 -8 1 7 1 5 1 -7 1 -4 1 7 1 1 1 5 1 -3 1 0 1 -3 1 10 1 -12 1 3 1 -4 1 12 1 -11 1 3 1 -5 1 4 1 0 1 3 1 3 1 -9 1 5 1 -2 1 5 1 -5 1 1 1 -3 1 3 1 -3 1 0 1 -10 1 11 1 0 1 1 1 -2 1 -1 1 -7 1 6 1 -1 1 -1 1 3 1 -2 1 -1 1 3 1 1 1 1 1 -3 1 4 1 -4 1 -1 1 -4 1 0 1 7 1 -10 1 10 1 -3 1 -6 1 15 1 0 1 -10 1 5 1 0 1 -8 1 11 1 -2 1 -3 1 3 1 0 1 -2 1 2 1 0 1 2 1 -4 1 5 1 1 1 3 1 0 1 -10 1 12 1 1 1 2 1 -5 1 4 1 -4 1 -8 1 16 1 -4 1 -1 1 -1 1 -11 1 -1 1 -1 1 2 1 -1 1 5 1 -10 1 8 1 -2 1 1 1 -3 1 3 1 -6 1 -2 1 4 1 -5 1 -1 1 7 1 -8 1 8 1 -8 1 7 1 -2 1 -3 1 0 1 1 1 -2 1 -5 1 1 1 1 1 -2 1 6 1 7 1 -4 1 -11 1 4 1 -8 1 11 1 3 1 -2 1 -1 1 -9 1 8 1 0 1 -3 1 -2 1 6 1 -5 1 3 1 6 1 4 1 -10 1 12 1 -2 1 -1 1 -7 1 0 1 -5 1 1 1 -3 1 3 1 -9 1 -1 1 -4 1 2 1 5 1 8 1 -4 1 -5 1 3 1 -13 1 12 1 1 1 -4 1 8 1 -5 1 -7 1 2 1 0 1 -6 1 1 1 10 1 -12 1 -6 1 -5 1 3 1 1 1 1 1 1 1 1 1 -5 1 6 1 5 1 -6 1 -7 1 -4 1 5 1 -10 1 0 1 -7 1 8 1 -3 1 1 1 -2 1 -1 1 -4 1 -2 1 1 1 6 1 -6" stroke="#20ffdf"/>
<path d="M1410 5688l1 13 1 11 1 10 1 -3 1 3 1 -4 1 2 1 12 1 -4 1 -6 1 10 1 2 1 -6 1 3 1 -5 1 -1 1 6 1 0 1 0 1 -6 1 8 1 -4 1 -4 1 -6 1 10 1 -11 1 -3 1 -12 1 1 1 -8" stroke="#20ffdf"/>
<path d="M186 5689l1 14 1 2 1 -12 1 8 1 10 1 -13 1 10 1 -1 1 2 1 5 1 -5 1 -1 1 3 1 3 1 -3 1 5 1 -2 1 4 1 7 1 -4 1 4 1 4 1 10 1 -15 1 5 1 8 1 -7 1 -4 1 4 1 -3 1 3 1 6 1 -14 1 5 1 -1 1 9 1 -4 1 0 1 -3 1 5 1 -5 1 6 1 -7 1 12 1 -8 1 5 1 -6 1 11 1 -4 1 -4 1 2 1 3 1 -9 1 3 1 2 1 -1 1 0 1 0 1 -2 1 0 1 -3 1 -3 1 6 1 5 1 2 1 -1 1 -1 1 -3 1 4 1 6 1 -4 1 7 1 -2 1 5 1 -7 1 0 1 8 1 -7 1 5 1 -8 1 -1 1 7 1 3 1 -5 1 2 1 -11 1 0 1 8 1 0 1 11 1 -11 1 0 1 2 1 0 1 3 1 -9 1 8 1 -3 1 5 1 -6 1 2 1 -4 1 0 1 2 1 4 1 -4 1 -1 1 0 1 -2 1 -3 1 1 1 -5 1 0 1 10 1 -7 1 0 1 2 1 2 1 2 1 1 1 -2 1 -2 1 0 1 1 1 3 1 -3 1 -1 1 -3 1 3 1 -3 1 0 1 -6 1 2 1 -2 1 1 1 -1 1 -1 1 -7 1 7 1 -1 1 -1 1 -13 1 12 1 -10 1 3 1 12 1 4 1 -10 1 -21 1 -2 1 2 1 4 1 7 1 15 1 -8 1 4 1 -10 1 2 1 -8 1 9 1 -11 1 -4 1 13 1 -2 1 -4 1 -2 1 8 1 2 1 -10 1 8 1 4 1 2 1 -3 1 7 1 -7 1 1 1 -12 1 6 1 -5 1 1 1 2 1 10 1 0 1 -11 1 -9 1 5 1 9 1 -3 1 -7 1 1 1 1 1 -8 1 9 1 -10 1 11 1 -5 1 6 1 -2 1 2 1 3 1 -2 1 -5 1 -3 1 -7 1 12 1 -12 1 6 1 -3 1 4 1 -1 1 -6 1 2 1 -5 1 3 1 8 1 -15 1 5 1 -3 1 -4 1 -2 1 -7 1 5 1 -2 1 2 1 -8 1 -5 1 15 1 -9" stroke="#40ffbf"/>
<path d="M1002 5731l1 -4 1 3 1 -7 1 7 1 1 1 4 1 9 1 -7 1 -8 1 -27 1 -19 1 -8 1 8 1 19 1 27 1 26 1 5 1 -1 1 -2 1 2 1 6 1 -1 1 5 1 -5 1 4 1 -4 1 -8 1 3 1 5 1 -4 1 4 1 7 1 -1 1 -4 1 0 1 1 1 2 1 -2 1 -5 1 17 1 -7 1 5 1 -6 1 5 1 -6 1 5 1 -6 1 -1 1 -2 1 5 1 -1 1 5 1 -8 1 6 1 -1 1 5 1 -7 1 -2 1 0 1 6 1 -7 1 5 1 -1 1 4 1 -1 1 -6 1 9 1 -3 1 -3 1 3 1 4 1 -10 1 0 1 9 1 1 1 4 1 -5 1 3 1 -7 1 7 1 -1 1 -1 1 3 1 -4 1 0 1 6 1 -2 1 -4 1 -2 1 0 1 7 1 -4 1 6 1 -7 1 0 1 6 1 -2 1 0 1 -4 1 0 1 0 1 3 1 0 1 -7 1 6 1 2 1 5 1 -9 1 -4 1 2 1 1 1 -2 1 -2 1 6 1 3 1 0 1 -10 1 5 1 -11 1 11 1 0 1 -2 1 2 1 -7 1 12 1 -9 1 1 1 -7 1 12 1 -6 1 5 1 -12 1 4 1 -5 1 -2 1 0 1 6 1 -9 1 -4 1 5 1 -8 1 0 1 13 1 -5 1 -3 1 -8 1 10 1 1 1 -2 1 -2 1 4 1 -3 1 1 1 -10 1 3 1 6 1 -2 1 1 1 -3 1 -15 1 7 1 1" stroke="#40ffbf"/>
<path d="M0 5727l1 5 1 -3 1 5 1 5 1 -3 1 11 1 -7 1 4 1 -4 1 2 1 5 1 -3 1 0 1 6 1 3 1 -4 1 2 1 5 1 0 1 -4 1 3 1 4 1 7 1 -5 1 12 1 -10 1 2 1 -2 1 -1 1 -6 1 13 1 -2 1 -3 1 5 1 -5 1 4 1 -4 1 -5 1 3 1 1 1 4 1 1 1 -8 1 1 1 2 1 2 1 4 1 -2 1 0 1 -12 1 12 1 -6 1 2 1 -9 1 13 1 0 1 -13 1 5 1 3 1 -6 1 7 1 -6 1 4 1 -4 1 3 1 4 1 -3 1 2 1 4 1 0 1 -6 1 -2000 1 1998 1 7 1 -10 1 5 1 3 1 -8 1 -3 1 1 1 3 1 0 1 -7 1 1 1 1 1 -4 1 1 1 -8 1 8 1 0 1 -4 1 3 1 -2 1 3 1 -3 1 -5 1 -3 1 -1 1 7 1 -4 1 -4 1 0 1 -7 1 -3 1 11 1 -9 1 -5 1 2 1 -4 1 3 1 -11 1 1 1 -4 1 1" stroke="#60ff9f"/>
<path d="M123 5712l1 19 1 2 1 14 1 7 1 13 1 -9 1 3 1 -7 1 2 1 -5 1 -1 1 5 1 -14 1 -2 1 -16" stroke="#60ff9f"/>
<path d="M714 5640l1 7 1 -5 1 4 1 2 1 -3 1 9 1 -3 1 8 1 -4 1 6 1 4 1 4 1 -4 1 3 1 -2 1 1 1 -3 1 9 1 -8 1 -5 1 18 1 -7 1 12 1 5 1 3 1 4 1 6 1 -7 1 2 1 1 1 -1 1 3 1 0 1 -4 1 11 1 -2 1 -14 1 11 1 9 1 -12 1 7 1 -4 1 6 1 1 1 1 1 0 1 12 1 -11 1 -1 1 1 1 2 1 0 1 3 1 -3 1 3 1 -7 1 0 1 0 1 -8 1 -10 1 17 1 -2 1 -9 1 -1 1 3 1 -7 1 7 1 2 1 6 1 4 1 -10 1 -1 1 -3 1 5 1 -9 1 0 1 4 1 -7 1 1 1 -13 1 7 1 -3 1 10 1 -14 1 8 1 -2 1 5 1 10 1 -9 1 6 1 10 1 -8 1 -9 1 14 1 -8 1 11 1 -8 1 16 1 -7 1 -7 1 11 1 -6 1 -5 1 10 1 -10 1 10 1 -12 1 -1 1 7 1 4 1 -11 1 3 1 5 1 -10 1 -3 1 -2 1 -1 1 5 1 1 1 1 1 13 1 -2 1 -8 1 4 1 7 1 2 1 11 1 -3 1 1 1 3 1 -4 1 -1 1 -4 1 3 1 4 1 6 1 -14 1 12 1 -5 1 1 1 6 1 -6 1 6 1 -9 1 4 1 -5 1 -3 1 -8 1 -1 1 2 1 -4 1 7 1 -1 1 8 1 -4 1 -11 1 6 1 -1 1 10 1 -5 1 0 1 4 1 4 1 -2 1 0 1 10 1 -7 1 1 1 7 1 -2 1 -2 1 -6 1 1 1 4 1 -10 1 14 1 -10 1 -3 1 -4 1 -8 1 14 1 -6 1 -8 1 5 1 3 1 -7 1 -4 1 5 1 6 1 1 1 3 1 -4 1 2 1 -1 1 -4 1 3 1 -4 1 -14 1 1 1 13 1 -9 1 2 1 -7 1 0 1 8 1 -7 1 1 1 5 1 -4 1 1 1 4 1 -14 1 4 1 2 1 -7 1 -6 1 15 1 -11 1 2 1 -2 1 -1 1 1 1 1 1 9 1 -7 1 -1 1 -2 1 -2 1 -6 1 9 1 -2 1 -5 1 2 1 -5 1 2 1 -12 1 21 1 -6 1 -6 1 11" stroke="#60ff9f"/>
<path d="M1422 5712l1 6 1 4 1 13 1 3 1 4 1 0 1 -11 1 23 1 -9 1 7 1 -11 1 11 1 -10 1 -15 1 9 1 -16 1 -6 1 -13" stroke="#60ff9f"/>
<path d="M18 5752l1 4 1 7 1 3 1 -1 1 2 1 -2 1 0 1 9 1 -1 1 5 1 -5 1 3 1 1 1 4 1 1 1 -11 1 15 1 -3 1 0 1 -4 1 7 1 -3 1 0 1 5 1 -7 1 6 1 1 1 -4 1 4 1 -6 1 6 1 0 1 0 1 -5 1 -1 1 -5 1 7 1 -4 1 0 1 1 1 -2 1 -9 1 5 1 4 1 -9 1 -5 1 -3 1 -4 1 0 1 4 1 -16 1 0 1 5 1 -7" stroke="#80ff80"/>
<path d="M510 5664l1 -2 1 3 1 -21 1 27 1 16 1 6 1 -7 1 3 1 -2 1 5 1 -3 1 5 1 1 1 -1 1 -4 1 7 1 4 1 -5 1 12 1 2 1 -3 1 1 1 3 1 -1 1 -2 1 6 1 -3 1 7 1 -9 1 2 1 -3 1 8 1 -7 1 -1 1 3 1 -4 1 -6 1 9 1 -2 1 2 1 10 1 3 1 -1 1 -7 1 2 1 -1 1 1 1 -3 1 -3 1 -6 1 3 1 0 1 -6 1 6 1 0 1 0 1 7 1 6 1 -1 1 0 1 -5 1 11 1 -4 1 -3 1 1 1 7 1 -3 1 -4 1 -3 1 9 1 -7 1 7 1 -4 1 4 1 4 1 -2 1 -4 1 0 1 1 1 0 1 4 1 1 1 -5 1 8 1 -6 1 0 1 -3 1 4 1 -8 1 6 1 1 1 -8 1 3 1 -1 1 -1 1 -2 1 1 1 1 1 -13 1 3 1 5 1 5 1 3 1 6 1 -7 1 -2 1 -6 1 8 1 -15 1 7 1 6 1 -3 1 -5 1 5 1 3 1 -5 1 1 1 7 1 1 1 3 1 -6 1 -3 1 9 1 -2 1 -18 1 9 1 -7 1 0 1 10 1 -8 1 2 1 5 1 -2 1 -5 1 14 1 -6 1 0 1 -2 1 -1 1 3 1 4 1 -10 1 1 1 -5 1 -10 1 -13 1 7 1 -6 1 5 1 -1 1 6 1 -2 1 -8 1 5 1 3 1 1" stroke="#80ff80"/>
<path d="M1266 5717l1 5 1 -3 1 3 1 -7 1 7 1 17 1 -9 1 4 1 -9 1 15 1 1 1 2 1 1 1 12 1 -14 1 12 1 -6 1 -6 1 3 1 5 1 -5 1 0 1 -1 1 8 1 -1 1 -1 1 5 1 8 1 -8 1 -2 1 -1 1 2 1 7 1 -7 1 8 1 6 1 -6 1 7 1 -2 1 -3 1 4 1 -3 1 0 1 4 1 -9 1 2 1 0 1 4 1 -1 1 0 1 -2 1 4 1 -3 1 2 1 3 1 -5 1 -2 1 8 1 -5 1 5 1 1 1 1 1 -4 1 1 1 -1 1 0 1 5 1 -7 1 -724 1 725 1 -2 1 5 1 -1 1 -7 1 2 1 -1 1 11 1 -8 1 -2 1 -3 1 4 1 4 1 3 1 -9 1 3 1 5 1 -6 1 -2 1 0 1 -10 1 7 1 0 1 3 1 5 1 -3 1 5 1 -6 1 -1 1 -1 1 1 1 -5 1 8 1 -3 1 -4 1 -3 1 4 1 2 1 0 1 4 1 -15 1 7 1 2 1 2 1 -10 1 6 1 -5 1 0 1 -1 1 1 1 -3 1 -7 1 -8 1 3 1 -2 1 1 1 -3 1 -8 1 0 1 -2 1 -13 1 12 1 -4 1 2 1 2 1 -14 1 5 1 0 1 8" stroke="#80ff80"/>
<path d="M858 5696l1 4 1 3 1 -11 1 -3 1 -2 1 8 1 7 1 -5 1 -4 1 11 1 3 1 -1 1 -9 1 4 1 3 1 0 1 0 1 6 1 -7 1 10 1 -8 1 -2 1 2 1 9 1 4 1 1 1 -4 1 8 1 -3 1 -4 1 1 1 7 1 -8 1 1 1 -8 1 10 1 -6 1 7 1 -3 1 -2 1 -1 1 -5 1 -2 1 0 1 4 1 3 1 6 1 -3 1 4 1 -1 1 -7 1 4 1 -4 1 6 1 5 1 0 1 0 1 -6 1 6 1 0 1 11 1 -9 1 0 1 -8 1 10 1 -8 1 3 1 3 1 0 1 -2 1 -6 1 9 1 -7 1 6 1 4 1 5 1 0 1 -3 1 1 1 -5 1 9 1 0 1 -2 1 -4 1 2 1 6 1 1 1 -1 1 -2 1 3 1 -5 1 -3 1 -1 1 3 1 0 1 -9 1 0 1 6 1 0 1 -2 1 6 1 2 1 -9 1 5 1 1 1 -2 1 -6 1 -1 1 11 1 -2 1 6 1 -6 1 -6 1 3 1 -4 1 -2 1 11 1 -1 1 -9 1 5 1 5 1 3 1 2 1 0 1 -5 1 -5 1 2 1 2 1 15 1 -2 1 -1 1 -5 1 -6 1 3 1 8 1 -9 1 8 1 -7 1 -9 1 6 1 -3 1 7 1 -13 1 4 1 6 1 -3 1 -9 1 2 1 -3 1 11 1 4 1 -8 1 4 1 -8 1 2 1 -1 1 -4 1 3 1 2 1 -4 1 -1 1 -2 1 -3 1 6 1 2 1 -5 1 4 1 1 1 7 1 1 1 -6 1 13 1 -17 1 0 1 -8 1 16 1 -1 1 -8 1 -3 1 6 1 -2 1 -9 1 8 1 -2 1 1 1 0 1 -7 1 4 1 -4 1 -7 1 -4 1 -1 1 -11 1 -1 1 -6 1 4 1 14 1 -7 1 6 1 -6 1 1 1 2 1 -3 1 -1 1 -5 1 0 1 4 1 1 1 -9 1 -4 1 4 1 -4 1 5 1 4 1 -2 1 5" stroke="#9fff60"/>
<path d="M252 5723l1 2 1 5 1 -2 1 2 1 -4 1 -8 1 2 1 4 1 7 1 3 1 3 1 -5 1 4 1 3 1 6 1 -3 1 -6 1 1 1 -10 1 10 1 -1 1 5 1 -7 1 4 1 9 1 -4 1 9 1 -2 1 -7 1 13 1 -17 1 5 1 -5 1 7 1 2 1 2 1 4 1 0 1 -5 1 7 1 -5 1 5 1 6 1 -3 1 -6 1 -5 1 6 1 2 1 -2 1 10 1 -3 1 3 1 2 1 6 1 -9 1 -4 1 4 1 -3 1 3 1 -2 1 6 1 -4 1 -2 1 -5 1 7 1 -1 1 1 1 -6 1 9 1 -1 1 -6 1 4 1 -2 1 -4 1 2 1 -1 1 0 1 -3 1 4 1 -6 1 3 1 0 1 15 1 -4 1 -9 1 13 1 -15 1 4 1 -3 1 11 1 -10 1 -7 1 7 1 -4 1 9 1 -6 1 8 1 -10 1 3 1 -5 1 -1 1 -23 1 7 1 2 1 4 1 0 1 -13 1 12 1 -1 1 2 1 -6 1 -2 1 4 1 7 1 5 1 -4 1 7 1 -7 1 8 1 8 1 -2 1 -2 1 5 1 -5 1 -8 1 -3 1 6 1 -1 1 -3 1 3 1 -5 1 0 1 5 1 -1 1 7 1 -3 1 -9 1 4 1 -4 1 4 1 -3 1 1 1 -7 1 10 1 -11 1 -3 1 -4 1 0 1 8 1 -4 1 -1 1 10 1 -11 1 11 1 -6 1 -3 1 3 1 -4 1 10 1 -8 1 4 1 -8 1 3 1 2 1 5 1 -3 1 -10 1 4 1 -1 1 0 1 10 1 -5 1 -3 1 0 1 -2 1 2 1 -5 1 2 1 -8 1 0" stroke="#bfff40"/>
<path d="M264 5655l1 3 1 2 1 12 1 2 1 -2 1 1 1 6 1 -1 1 -1 1 5 1 0 1 13 1 4 1 -1 1 -18 1 18 1 -11 1 4 1 -14 1 6 1 -11 1 8 1 1 1 -5 1 16 1 -2 1 3 1 0 1 9 1 -1 1 3 1 -5 1 0 1 -1 1 3 1 -6 1 -1 1 2 1 6 1 -7 1 2 1 13 1 -4 1 -4 1 5 1 4 1 3 1 1 1 4 1 -3 1 -1 1 1 1 -6 1 -4 1 -4 1 -6 1 10 1 7 1 -4 1 2 1 -2 1 3 1 2 1 -6 1 6 1 -3 1 0 1 1 1 0 1 3 1 0 1 -6 1 18 1 -3 1 4 1 4 1 -5 1 -4 1 6 1 -1 1 0 1 0 1 -5 1 2 1 -9 1 -8 1 13 1 0 1 4 1 2 1 -16 1 5 1 -3 1 0 1 3 1 -4 1 3 1 3 1 -2 1 2 1 -2 1 0 1 -10 1 12 1 -2 1 -15 1 5 1 3 1 -5 1 -6 1 -2 1 12 1 -10 1 -5 1 11 1 -1 1 0 1 -5 1 -4 1 1 1 10 1 -7 1 2 1 -2 1 -3 1 -15 1 -3 1 -12 1 1 1 -1 1 3 1 10 1 2 1 -5 1 6 1 2 1 -5 1 2 1 -3 1 6 1 -1 1 1 1 -3 1 -6" stroke="#dfff20"/>
<path d="M894 5688l1 7 1 7 1 -12 1 4 1 -1 1 0 1 1 1 10 1 4 1 3 1 -6 1 2 1 0 1 6 1 -2 1 6 1 -3 1 3 1 2 1 3 1 0 1 0 1 2 1 3 1 3 1 -1 1 4 1 -1 1 2 1 -3 1 -3 1 1 1 -3 1 7 1 0 1 8 1 -4 1 1 1 10 1 1 1 -2 1 -5 1 -6 1 -3 1 14 1 0 1 -2 1 -6 1 7 1 -1 1 -10 1 4 1 4 1 -2 1 2 1 5 1 -5 1 -4 1 -4 1 3 1 3 1 2 1 -4 1 0 1 -3 1 4 1 5 1 -6 1 2 1 2 1 7 1 -1 1 -2 1 0 1 -3 1 4 1 3 1 -5 1 -6 1 7 1 6 1 -2 1 3 1 3 1 4 1 -1 1 1 1 -3 1 -4 1 3 1 2 1 4 1 -7 1 -8 1 11 1 -8 1 2 1 -7 1 12 1 -11 1 8 1 -2 1 4 1 -9 1 6 1 -4 1 -5 1 13 1 -5 1 7 1 -1 1 4 1 -8 1 1 1 -4 1 2 1 0 1 -9 1 8 1 2 1 -7 1 0 1 8 1 -7 1 9 1 -4 1 2 1 -6 1 2 1 8 1 -11 1 3 1 -10 1 8 1 1 1 -5 1 4 1 4 1 2 1 -5 1 -2 1 -1 1 1 1 -2 1 8 1 -5 1 -1 1 -3 1 -6 1 8 1 2 1 2 1 -1 1 -2 1 -5 1 12 1 -13 1 6 1 5 1 -8 1 7 1 -1 1 2 1 -6 1 -3 1 6 1 -7 1 4 1 -8 1 -5 1 5 1 -16 1 14 1 -5 1 -27 1 -3 1 -14 1 -1 1 14 1 27 1 0 1 1 1 3 1 0 1 -8 1 -1 1 7 1 -11 1 8 1 2 1 -10 1 -4 1 1 1 -2 1 2 1 1 1 4 1 6 1 -5 1 -3 1 4 1 -6 1 -12 1 9 1 -2 1 -6 1 1 1 9 1 -12 1 14 1 -10 1 3 1 -4 1 -7 1 16 1 -2" stroke="#dfff20"/>
<path d="M0 5715l1 1 1 -11 1 10 1 -1 1 -15 1 16 1 -1 1 9 1 2 1 2 1 2 1 4 1 -1 1 2 1 6 1 11 1 -5 1 -6 1 7 1 5 1 0 1 -10 1 10 1 5 1 -1 1 2 1 4 1 -12 1 5 1 2 1 -1 1 10 1 0 1 -1 1 2 1 -6 1 7 1 -4 1 -8 1 6 1 7 1 3 1 2 1 -3 1 1 1 5 1 -2 1 -4 1 9 1 6 1 -6 1 -7 1 -4 1 5 1 1 1 0 1 5 1 -4 1 -3 1 7 1 -5 1 6 1 5 1 -975 1 972 1 -12 1 15 1 -5 1 1 1 -6 1 9 1 -2 1 -10 1 11 1 -4 1 0 1 0 1 -4 1 2 1 -3 1 -5 1 3 1 -2 1 6 1 -4 1 -3 1 3 1 4 1 -2 1 -4 1 11 1 -3 1 -1 1 -6 1 8 1 -2 1 2 1 -4 1 -1 1 -1 1 6 1 -3 1 1 1 -3 1 0 1 0 1 2 1 -35 1 -12 1 -11 1 -12 1 -11 1 -12 1 -11 1 -10 1 -9 1 27 1 -16 1 -29 1 31 1 15 1 -3 1 -40 1 -40 1 20 1 0 1 -44 1 70 1 -11 1 -76 1 -47 1 62 1 40 1 -29 1 87 1 11 1 6 1 -26 1 -24 1 -15 1 -110 1 -109 1 52 1 92 1 48 1 18 1 -57 1 -19 1 -16 1 -15 1 -16 1 -7 1 28 1 28 1 42 1 -27 1 -44 1 95 1 48 1 -18 1 40 1 16 1 17 1 16 1 17 1 15 1 2 1 0 1 2 1 -3 1 -4 1 4 1 -8 1 0 1 6 1 0 1 -11 1 8 1 -2 1 -10" stroke="#ffff00"/>
<path d="M774 5692l1 1 1 4 1 -3 1 5 1 -6 1 3 1 6 1 11 1 -9 1 -5 1 -9 1 -1 1 12 1 12 1 1 1 2 1 9 1 -5 1 -4 1 7 1 -3 1 6 1 -5 1 6 1 3 1 -14 1 11 1 0 1 0 1 -3 1 -1 1 -2 1 4 1 3 1 4 1 3 1 -1 1 -3 1 -4 1 9 1 -3 1 3 1 7 1 -1 1 -3 1 1 1 -5 1 0 1 9 1 -6 1 -3 1 9 1 -3 1 5 1 -11 1 4 1 -3 1 0 1 2 1 1 1 -5 1 -10 1 10 1 -7 1 -6 1 -3 1 4 1 -3 1 9 1 1 1 -3 1 -3 1 -2 1 10 1 2 1 -1 1 -7 1 14 1 2 1 -9 1 -9 1 0 1 4 1 -3 1 -6 1 11 1 8 1 -9 1 -6 1 6 1 -3 1 3 1 -13 1 11 1 -6 1 -6 1 1 1 -1 1 -2 1 6 1 3 1 -3 1 -13 1 14 1 -3 1 -4 1 2 1 -5 1 0 1 -2 1 5 1 -1 1 -5 1 9 1 -8 1 12 1 -6 1 -3 1 -13 1 3 1 10 1 -7 1 3 1 6 1 1 1 -5 1 2 1 1 1 -2 1 -8 1 5 1 -7" stroke="#ffff00"/>
<path d="M1356 5708l1 3 1 -2 1 1 1 5 1 0 1 -2 1 2 1 -6 1 1 1 -4 1 9 1 -2 1 -2 1 2 1 -3 1 -30 1 -23 1 -9 1 9 1 23 1 32 1 6 1 1 1 -2 1 7 1 -8 1 2 1 -5 1 3 1 6 1 1 1 9 1 1 1 3 1 -5 1 10 1 -2 1 -2 1 8 1 -4 1 2 1 4 1 -4 1 2 1 -8 1 2 1 9 1 -4 1 -4 1 -4 1 5 1 -5 1 4 1 0 1 1 1 -3 1 -3 1 1 1 1 1 -4 1 -4 1 2 1 8 1 1 1 -11 1 3 1 -5 1 -4 1 1 1 0 1 -4 1 -4 1 0 1 -1 1 3 1 -10 1 5 1 5 1 -15 1 7 1 -6 1 8 1 0 1 -7" stroke="#ffff00"/>
<path d="M0 5692l1 18 1 -4 1 -2 1 1 1 6 1 -4 1 7 1 -6 1 -2 1 -5 1 -3 1 10 1 -1 1 -1 1 -5 1 6 1 0 1 -6 1 14 1 -5 1 2 1 4 1 -2 1 -3 1 6 1 6 1 2 1 -10 1 6 1 -8 1 2 1 4 1 7 1 -13 1 9 1 -1 1 5 1 0 1 6 1 1 1 1 1 -1 1 -10 1 4 1 6 1 -1 1 -2 1 2 1 -7 1 -7 1 3 1 7 1 -2 1 7 1 -8 1 -4 1 -4 1 -1 1 8 1 6 1 0 1 -4 1 -5 1 -3 1 7 1 -4 1 1 1 4 1 -7 1 3 1 3 1 1 1 -8 1 3 1 0 1 0 1 -3 1 2 1 -9 1 15 1 -7 1 5 1 -3 1 7 1 -7 1 -11 1 -17 1 -11 1 8 1 -30 1 -23 1 -41 1 -169 1 95 1 -147 1 28 1 52 1 37 1 -60 1 -5 1 -21 1 -66 1 81 1 81 1 64 1 54 1 54 1 4" stroke="#ffdf00"/>
<path d="M672 5729l1 1 1 -4 1 4 1 -2 1 5 1 1 1 -7 1 3 1 0 1 4 1 4 1 5 1 -3 1 0 1 3 1 0 1 6 1 -1 1 -9 1 6 1 11 1 -5 1 13 1 -6 1 -3 1 5 1 -4 1 3 1 -3 1 0 1 -8 1 10 1 -7 1 5 1 1 1 1 1 6 1 -6 1 4 1 -2 1 2 1 -3 1 0 1 -6 1 6 1 -6 1 4 1 -1 1 -7 1 13 1 -7 1 -7 1 3 1 4 1 -3 1 6 1 7 1 -7 1 6 1 -7 1 1 1 -9 1 4 1 1 1 -3 1 -1 1 1 1 -4 1 3 1 -6 1 1 1 -3 1 0 1 1 1 -8 1 -3 1 2 1 -1 1 -9 1 4 1 3 1 -1 1 -4 1 -1" stroke="#ffdf00"/>
<path d="M1260 5730l1 -44 1 -37 1 -15 1 15 1 37 1 44 1 24 1 -17 1 8 1 4 1 -1 1 1 1 -5 1 9 1 -2 1 6 1 -8 1 -1 1 0 1 -1 1 1 1 0 1 2 1 -5 1 14 1 -6 1 -3 1 -7 1 6 1 6 1 -6 1 10 1 -3 1 3 1 3 1 2 1 -6 1 0 1 9 1 5 1 3 1 -17 1 5 1 9 1 -7 1 9 1 -12 1 18 1 -11 1 3 1 0 1 -2 1 -2 1 -4 1 5 1 4 1 4 1 -1 1 -9 1 9 1 -5 1 -2 1 7 1 2 1 4 1 -3 1 -4 1 -4 1 -4 1 -1 1 2 1 6 1 -2 1 1 1 -6 1 7 1 -3 1 0 1 -2 1 0 1 9 1 -10 1 4 1 -8 1 7 1 1 1 0 1 -1 1 3 1 9 1 -18 1 9 1 2 1 -3 1 4 1 -9 1 10 1 -7 1 -6 1 5 1 1 1 -1 1 2 1 2 1 -1 1 1 1 7 1 -13 1 4 1 -6 1 1 1 2 1 4 1 2 1 -1 1 -4 1 -1 1 5 1 -5 1 4 1 1 1 0 1 1 1 -7 1 2 1 -7 1 4 1 -1 1 4 1 3 1 -5 1 -1 1 4 1 1 1 0 1 2 1 -1 1 -6 1 -3 1 2 1 -3 1 6 1 -10 1 7 1 1 1 1 1 -7 1 2 1 -4 1 4 1 -7 1 11 1 -10 1 -7 1 4 1 -3 1 -1 1 4 1 -16 1 -17 1 -7 1 -4 1 1 1 17 1 19 1 -4 1 -4 1 -1 1 5 1 -8 1 -2 1 6 1 -11 1 4 1 -4 1 7 1 -9 1 -4 1 12 1 0" stroke="#ffdf00"/>
<path d="M192 5692l1 -9 1 4 1 1 1 3 1 -2 1 -1 1 -2 1 7 1 5 1 5 1 0 1 -3 1 2 1 3 1 2 1 -6 1 10 1 0 1 3 1 1 1 -8 1 8 1 -7 1 5 1 -9 1 8 1 4 1 -3 1 6 1 1 1 -2 1 0 1 -11 1 1 1 5 1 1 1 -2 1 -3 1 11 1 3 1 -9 1 8 1 0 1 -3 1 14 1 -5 1 -5 1 4 1 5 1 -3 1 5 1 -1 1 4 1 9 1 -4 1 -1 1 3 1 -3 1 -2 1 -2 1 6 1 -3 1 -5 1 2 1 -3 1 -1 1 -5 1 -5 1 1 1 3 1 -4 1 -1 1 7 1 2 1 2 1 9 1 -4 1 -6 1 -2 1 -1 1 10 1 -6 1 -4 1 4 1 6 1 -1 1 3 1 -3 1 -4 1 9 1 -4 1 -2 1 5 1 7 1 -7 1 9 1 -6 1 -4 1 -3 1 8 1 -8 1 3 1 -3 1 0 1 -6 1 5 1 -10 1 -3 1 12 1 -1 1 -6 1 -1 1 1 1 11 1 -7 1 5 1 9 1 -8 1 -2 1 0 1 5 1 2 1 -13 1 14 1 -8 1 1 1 -7 1 7 1 2 1 -5 1 -10 1 19 1 -4 1 -1 1 -3 1 1 1 2 1 3 1 -14 1 8 1 -8 1 3 1 3 1 0 1 4 1 -5 1 9 1 -11 1 8 1 -4 1 -2 1 4 1 -1 1 11 1 -14 1 7 1 5 1 7 1 -5 1 -2 1 -4 1 7 1 2 1 -5 1 -7 1 10 1 -5 1 -3 1 2 1 3 1 -6 1 -3 1 1 1 3 1 0 1 -11 1 11 1 -2 1 11 1 -11 1 4 1 -6 1 -1 1 1 1 7 1 -5 1 3 1 -8 1 7 1 2 1 0 1 -11 1 5 1 1 1 5 1 -8 1 3 1 -4 1 0 1 1 1 -1 1 -6 1 0 1 -4 1 -3 1 4 1 10 1 -12 1 14 1 2 1 -12 1 -7 1 11 1 -4 1 4 1 -10 1 8 1 -8 1 5 1 -6 1 -3 1 3 1 0 1 -2 1 -9 1 -13 1 24 1 -5 1 -7 1 7 1 0 1 3 1 -2 1 9 1 0 1 -5 1 -1 1 -1 1 7 1 -1 1 1 1 -2 1 3 1 4 1 -6 1 6 1 -7 1 10 1 -17 1 16 1 -9 1 1 1 1 1 -2 1 -9 1 6 1 2 1 -2 1 0 1 6 1 -7 1 3 1 -4 1 0 1 -2 1 7 1 -4 1 -1 1 -12 1 -30 1 16 1 13 1 -53 1 -70 1 21 1 82" stroke="#ffbf00"/>
<path d="M1062 5719l1 8 1 -7 1 17 1 -15 1 6 1 -16 1 2 1 -10 1 -26 1 -2 1 16 1 -20 1 4 1 -12 1 33 1 -1 1 0 1 16 1 16 1 16 1 13 1 2 1 8 1 -7 1 -6 1 -16 1 -18 1 -38 1 -38 1 -10 1 10 1 26 1 62 1 17 1 13 1 -16 1 -26 1 -19 1 -44 1 39 1 23 1 24 1 2 1 -2 1 -2 1 4 1 -7 1 -6" stroke="#ffbf00"/>
<path d="M348 5670l1 3 1 -10 1 12 1 -4 1 -2 1 1 1 4 1 -1 1 11 1 0 1 -3 1 -1 1 7 1 -5 1 -11 1 14 1 -12 1 3 1 0 1 7 1 4 1 -10 1 -3 1 0 1 -3 1 -3 1 7 1 5 1 -5 1 8 1 6 1 -2 1 2 1 3 1 -8 1 -2 1 9 1 0 1 5 1 -3 1 15 1 -5 1 1 1 -8 1 8 1 -2 1 0 1 -5 1 3 1 -2 1 -5 1 10 1 -14 1 8 1 -4 1 2 1 5 1 6 1 -14 1 9 1 3 1 -6 1 -8 1 3 1 4 1 -14 1 -6 1 16 1 -5 1 -1 1 13 1 -3 1 8 1 -4 1 -1 1 0 1 6 1 -13 1 -7 1 4 1 -4 1 -9 1 8 1 4 1 -12 1 9 1 2 1 2 1 -10 1 -3 1 2 1 14 1 -8 1 -4 1 1 1 1 1 8 1 -7 1 9 1 2 1 -4 1 16 1 -6 1 8 1 5 1 2 1 -6 1 3 1 3 1 -13 1 7 1 -6 1 8 1 3 1 5 1 -8 1 6 1 -1 1 5 1 -13 1 12 1 1 1 6 1 -7 1 0 1 9 1 -11 1 8 1 -19 1 4 1 -3 1 6 1 4 1 -2 1 -1 1 5 1 -6 1 -4 1 7 1 2 1 0 1 -7 1 4 1 -2 1 -1 1 4 1 7 1 0 1 -2 1 4 1 -3 1 -11 1 -2 1 9 1 1 1 5 1 -6 1 12 1 -17 1 14 1 2 1 0 1 -4 1 -4 1 8 1 -4 1 1 1 -4 1 -6 1 -3 1 1 1 1 1 6 1 -2 1 9 1 0 1 1 1 -13 1 -2 1 8 1 3 1 -5 1 1 1 -2 1 7 1 -1 1 -5 1 10 1 -9 1 -3 1 8 1 -10 1 0 1 4 1 -3 1 -4 1 7 1 -2 1 -14 1 3 1 4 1 -5 1 -1 1 -18 1 11 1 5 1 -12 1 6 1 8 1 -5 1 5 1 -4 1 -3 1 0 1 0 1 1 1 3 1 -2 1 -2 1 1 1 1 1 -2 1 -6 1 3 1 5 1 -3 1 -1 1 10 1 -2 1 -2 1 1 1 -4 1 -1 1 3 1 3 1 -12 1 -6 1 2 1 -3 1 0 1 -8 1 10 1 -5 1 0 1 9 1 -9 1 7 1 -3 1 -1 1 6 1 6 1 -5 1 -15 1 5 1 -5 1 0 1 0 1 -11 1 -2 1 -6 1 7 1 9 1 -3 1 -4 1 10 1 -1 1 0 1 11 1 -6 1 2 1 -9 1 1 1 -7 1 7 1 -9 1 -4 1 0 1 3 1 -17 1 17 1 6 1 -10" stroke="#ff9f00"/>
<path d="M1194 5719l1 5 1 0 1 -3 1 18 1 -3773 1 3775 1 9 1 -7 1 5 1 1 1 -4 1 5 1 5 1 -1 1 5 1 0 1 3 1 1 1 5 1 1 1 -4 1 -2 1 12 1 -12 1 6 1 -2 1 1 1 0 1 -5 1 -5 1 4 1 3 1 0 1 0 1 -3 1 0 1 -1 1 6 1 0 1 -5 1 13 1 -12 1 5 1 -4 1 7 1 -1 1 -6 1 4 1 -6 1 -5 1 1 1 -1 1 3 1 1 1 4 1 -7 1 3 1 -10 1 4 1 -2 1 1 1 -2 1 3 1 -1 1 -3 1 6 1 -7 1 0 1 -3 1 2 1 6 1 -10 1 -3 1 -4 1 -1 1 0 1 7 1 -7 1 -4 1 -5 1 -8 1 -4 1 0 1 4" stroke="#ff9f00"/>
<path d="M168 5722l1 -13 1 12 1 -9 1 -19 1 -64 1 -29 1 -52 1 -45 1 60 1 19 1 88 1 -38 1 25 1 -1 1 17 1 -5 1 41 1 -50 1 -5 1 -4 1 22 1 -18 1 -13 1 -86 1 82 1 9 1 -1 1 5 1 4 1 5 1 56 1 -26 1 29 1 -22 1 31 1 3 1 -22 1 0 1 -42 1 -7 1 -7 1 -3 1 3 1 7 1 43 1 13 1 -47 1 8 1 41 1 1 1 -10 1 -45 1 -2 1 6 1 -11 1 11 1 -15 1 -2 1 48 1 -13 1 6 1 5 1 -9 1 28 1 3 1 1 1 3 1 -47 1 1 1 13 1 -11 1 2 1 16 1 -9 1 13 1 -16 1 28 1 18 1 -2 1 -12 1 11 1 -20 1 -3 1 -24 1 -2 1 -1 1 -1 1 -1 1 -1 1 -1 1 -3 1 -2 1 1 1 -6 1 1 1 -1 1 -21 1 -29 1 -23 1 9 1 9 1 9" stroke="#ff8000"/>
<path d="M840 5665l1 8 1 4 1 2 1 -2 1 -2 1 2 1 -5 1 10 1 2 1 2 1 5 1 8 1 -3 1 2 1 -3 1 -13 1 -2 1 12 1 -4 1 2 1 3 1 -6 1 3 1 -1 1 -2 1 10 1 -5 1 -3 1 7 1 -4 1 -4 1 0 1 15 1 -7 1 6 1 -2 1 0 1 7 1 -8 1 -6 1 -4 1 1 1 4 1 8 1 8 1 -8 1 3 1 1 1 2 1 0 1 -8 1 2 1 -7 1 7 1 4 1 -4 1 12 1 0 1 4 1 -7 1 4 1 -4 1 1 1 4 1 -3 1 2 1 -3 1 1 1 -10 1 -3 1 7 1 -5 1 8 1 8 1 -2 1 -1 1 1 1 12 1 1 1 -4 1 12 1 -5 1 -6 1 8 1 -12 1 4 1 3 1 -10 1 7 1 3 1 -3 1 -8 1 6 1 1 1 4 1 -4 1 3 1 -2 1 6 1 -1 1 6 1 3 1 -1 1 5 1 -7 1 -6 1 7 1 -11 1 -11 1 2 1 7 1 1 1 -14 1 8 1 -2 1 -4 1 3 1 15 1 0 1 1 1 -6 1 1 1 -4 1 2 1 8 1 -3 1 1 1 -2 1 -1 1 2 1 -6 1 0 1 -3 1 2 1 9 1 -3 1 3 1 4 1 -3 1 1 1 1 1 8 1 -3 1 -5 1 -5 1 -4 1 7 1 4 1 -9 1 -1 1 -7 1 9 1 -14 1 -2 1 3 1 -2 1 5 1 2 1 6 1 -2 1 -13 1 12 1 -7 1 3 1 6 1 3 1 -10 1 11 1 -7 1 -1 1 5 1 -1 1 -6 1 -2 1 6 1 -6 1 -2 1 7 1 -1 1 -4 1 -2 1 -1 1 0 1 5 1 -4 1 -9 1 4 1 -13 1 8 1 -2 1 5 1 0 1 3 1 -5 1 3 1 -6 1 -1 1 3 1 1 1 0 1 -5 1 -5 1 1 1 7 1 -6 1 3 1 4 1 -5 1 6 1 -2 1 -8 1 -15 1 -4 1 0 1 -3 1 0 1 0 1 6 1 14 1 -13 1 3 1 -11 1 5 1 -1 1 -5 1 -5 1 2 1 1 1 9 1 -4 1 -2 1 -6 1 6 1 11 1 -5 1 0 1 -1 1 3 1 7 1 -16" stroke="#ff8000"/>
<path d="M420 5704l1 5 1 -1 1 -4 1 9 1 0 1 5 1 -13 1 10 1 -3 1 6 1 6 1 2 1 -4 1 1 1 -16 1 14 1 -6 1 -26 1 2 1 15 1 2 1 7 1 10 1 9 1 4 1 -6 1 -1 1 7 1 -4 1 2 1 -9 1 -9 1 -11 1 -24 1 16 1 -5 1 -17 1 6 1 10 1 9 1 13 1 14 1 7 1 -4 1 3 1 5 1 -3 1 -8 1 -14 1 -4 1 -1 1 -19 1 9 1 1 1 -14 1 3 1 28 1 -5 1 2 1 5 1 -2 1 3 1 -3 1 -9 1 6 1 -12 1 9 1 -13 1 2 1 -3 1 -3 1 -4" stroke="#ff6000"/>
<path d="M1014 5705l1 8 1 4 1 -5 1 3 1 -8 1 0 1 3 1 4 1 -2 1 -6 1 -5 1 1 1 0 1 6 1 -2 1 5 1 -21 1 -1 1 14 1 6 1 -1 1 -4 1 -1 1 6 1 5 1 3 1 -4 1 3 1 -2 1 -2 1 -8 1 7 1 -11 1 -8 1 -8 1 2 1 3 1 6 1 -4 1 8 1 -5 1 3 1 4 1 0 1 10 1 -10 1 15 1 1 1 8 1 -3 1 11 1 -17 1 -2 1 11 1 0 1 0 1 -4 1 5 1 3 1 -8 1 4 1 3 1 -8 1 15 1 -13 1 -1 1 -3 1 13 1 -12 1 8 1 0 1 -8 1 8 1 9 1 -7 1 -1 1 -1 1 -1 1 13 1 -8 1 -3 1 1 1 3 1 0 1 5 1 7 1 -39 1 -54 1 -16 1 57 1 40 1 5 1 1 1 -5 1 1 1 0 1 7 1 -8 1 10 1 -1 1 -6 1 -9 1 5 1 10 1 -11 1 -1 1 6 1 0 1 -9 1 -3 1 12 1 -11 1 8 1 -2 1 3 1 -3 1 -3 1 -6 1 8 1 2 1 4 1 -7 1 2 1 5 1 0 1 3 1 6 1 -4 1 -5 1 6 1 7 1 -7 1 -4 1 -3 1 5 1 -13 1 8 1 9 1 1 1 -6 1 -1 1 8 1 0 1 -3 1 -2 1 -6 1 4 1 -3 1 0 1 10 1 -7624 1 7612 1 3 1 2 1 -15 1 14 1 -7 1 5 1 -3 1 -9 1 3 1 -2 1 0 1 1 1 12 1 -10 1 2 1 -3 1 -3 1 4 1 2 1 -5 1 2 1 -4 1 9 1 1 1 5 1 -6 1 -13 1 4 1 9 1 -3 1 6 1 -6 1 4 1 1 1 9 1 -6 1 -1 1 -2 1 7 1 -6 1 -9 1 11 1 -3 1 2 1 7 1 -7 1 -7 1 -1 1 -2 1 4 1 -7 1 11 1 -6 1 -2 1 -4 1 12 1 -1 1 -2 1 -1 1 7 1 -1 1 4 1 -13 1 -2 1 -2 1 5 1 -6 1 1 1 -2 1 3 1 5 1 -8 1 8 1 -8 1 -1 1 -1 1 3 1 2 1 -11 1 3 1 4 1 -7 1 12 1 0 1 -2 1 -8 1 -2 1 -1 1 -6 1 14 1 -6 1 -1 1 -1 1 4 1 -15 1 8 1 0 1 1 1 0 1 1 1 1 1 -7 1 0 1 -4 1 -1 1 3 1 1 1 -1 1 -4 1 -11 1 3 1 12 1 -5 1 -4 1 -3 1 6 1 -6 1 5" stroke="#ff6000"/>
<path d="M474 5709l1 2 1 7 1 -12 1 7 1 6 1 -14 1 10 1 0 1 2 1 -3 1 -5 1 -14 1 23 1 5 1 9 1 -9 1 2 1 16 1 -2 1 0 1 -6 1 2 1 1 1 8 1 0 1 10 1 -9 1 -3 1 0 1 0 1 0 1 4 1 -3 1 -1 1 1 1 8 1 -9 1 1 1 2 1 6 1 -7 1 10 1 -1 1 0 1 3 1 -1 1 -3 1 0 1 4 1 0 1 2 1 4 1 -8 1 9 1 3 1 6 1 -13 1 6 1 -9 1 4 1 0 1 -2 1 0 1 -3 1 3 1 -9 1 2 1 4 1 0 1 -8 1 11 1 -6 1 -4 1 7 1 2 1 2 1 -5 1 2 1 -3 1 5 1 1 1 7 1 -7 1 4 1 -8 1 13 1 -2 1 -1 1 -1 1 -1 1 -9 1 1 1 5 1 -1 1 2 1 -10 1 5 1 -4 1 7 1 -9 1 8 1 -6 1 -2 1 3 1 -6 1 5 1 -6 1 3 1 -5 1 -8 1 -1 1 2 1 3 1 -6 1 -6 1 -5 1 20 1 -15 1 2 1 -4 1 -6 1 1 1 -3 1 1 1 -6 1 2 1 2 1 -7 1 2 1 8 1 -11 1 1" stroke="#ff4000"/>
<path d="M1278 5687l1 12 1 -2 1 1 1 -1 1 -4 1 -4 1 -9 1 7 1 5 1 3 1 12 1 2 1 2 1 -4 1 7 1 -3 1 -4 1 3 1 4 1 -1 1 9 1 -9 1 2 1 -1 1 14 1 -8 1 6 1 -4 1 -1 1 -2 1 -5 1 1 1 0 1 4 1 3 1 11 1 -7 1 2 1 -4 1 -1 1 3 1 -2 1 -3 1 4 1 -3 1 5 1 -4 1 2 1 6 1 3 1 -8 1 1 1 3 1 1 1 -7609 1 7607 1 -11 1 11 1 4 1 -4 1 8 1 -7 1 -2 1 -2 1 -3 1 -2 1 3 1 5 1 2 1 -9 1 3 1 -2 1 -3 1 5 1 5 1 -2 1 -2 1 4 1 -7 1 5 1 -6 1 6 1 -9 1 -4 1 9 1 2 1 -6 1 -7 1 5 1 -4 1 7 1 3 1 -1 1 4 1 0 1 -1 1 1 1 -4 1 8 1 -6 1 -2 1 -3 1 -1 1 -1 1 4 1 -7 1 -7 1 1 1 13 1 2 1 -3 1 1 1 1 1 -3 1 -13 1 10 1 -12 1 -1 1 1 1 2 1 2 1 -11 1 5 1 -12 1 1 1 -6 1 2 1 -5 1 -2 1 8 1 6 1 -4 1 4 1 1 1 -3 1 3 1 -2 1 6 1 4 1 -10 1 3 1 2 1 6 1 0 1 -1 1 -6 1 -2 1 -4 1 -4 1 -3 1 -5 1 -4 1 -8 1 4 1 3 1 -9 1 4 1 -6 1 7 1 7 1 -3 1 6" stroke="#ff4000"/>
<path d="M0 5709l1 0 1 6 1 2 1 3 1 -2 1 12 1 1 1 -6 1 -9 1 10 1 -2 1 -9 1 5 1 -3 1 1 1 4 1 7 1 -1 1 6 1 2 1 -4 1 10 1 -1 1 -7 1 7 1 2 1 -1 1 -2 1 2 1 4 1 0 1 -5 1 6 1 2 1 -6 1 -2 1 -1 1 3 1 2 1 -2 1 1 1 0 1 1 1 5 1 -4 1 -3 1 9 1 -11 1 0 1 7 1 4 1 0 1 -1 1 -2 1 -6 1 -2 1 1 1 -4 1 -19 1 -185 1 0 1 21 1 118 1 77 1 -7 1 0 1 1 1 1 1 0 1 1 1 1 1 0 1 1 1 1 1 1 1 0 1 1 1 1 1 0 1 1 1 1 1 7 1 3 1 -1 1 -1 1 -43 1 -19 1 -18 1 -19 1 -18 1 -17 1 -18 1 -17 1 -15 1 46 1 26 1 -4 1 24 1 6 1 -9 1 -60 1 -33 1 -33 1 35 1 4 1 59 1 35 1 -13 1 -6 1 -83 1 -30 1 0 1 18 1 20 1 19 1 30 1 -10 1 60 1 -41 1 65 1 -12 1 18 1 -40 1 -6 1 31 1 27 1 3 1 3 1 3 1 3 1 3 1 3 1 -20 1 -16 1 2 1 1 1 2 1 2 1 1 1 2 1 8 1 -5 1 1 1 6 1 13 1 4 1 -17 1 14 1 -11 1 9 1 -1 1 0 1 3 1 -5 1 -1 1 0 1 -3 1 2 1 -2 1 2 1 -8 1 1 1 3 1 7 1 -5 1 1 1 -10 1 -4 1 8 1 -6 1 1 1 -9 1 17 1 -4" stroke="#ff2000"/>
<path d="M666 5682l1 1 1 0 1 0 1 -8 1 10 1 -2 1 -8 1 7 1 1 1 0 1 10 1 2 1 2 1 -6 1 2 1 4 1 -5 1 6 1 0 1 -1 1 7 1 1 1 -13 1 -4 1 0 1 -4 1 5 1 2 1 0 1 9 1 6 1 -5 1 1 1 -12 1 5 1 0 1 2 1 5 1 -10 1 4 1 3 1 1 1 -8 1 3 1 -3 1 5 1 -6 1 0 1 4 1 -4 1 2 1 3 1 1 1 -2 1 3 1 7 1 -6 1 4 1 1 1 -4 1 9 1 4 1 -10 1 -1 1 -5 1 4 1 -3 1 -4 1 6 1 1 1 -5 1 6 1 1 1 -5 1 0 1 4 1 0 1 2 1 2 1 2 1 4 1 -1 1 0 1 -1 1 6 1 -15 1 9 1 -4 1 -3 1 -3 1 3 1 6 1 -11 1 0 1 7 1 1 1 -12 1 3 1 0 1 -1 1 -2 1 0 1 -8 1 -1 1 3 1 -8 1 10 1 4 1 2 1 5 1 -7 1 0 1 8 1 -9 1 -3 1 5 1 0 1 -8 1 -1 1 -17" stroke="#ff2000"/>
<path d="M1356 5704l1 -1 1 12 1 -2 1 -7 1 11 1 2 1 7 1 1 1 -5 1 12 1 -5 1 6 1 3 1 0 1 -1 1 2 1 -5 1 13 1 -4 1 -8 1 10 1 2 1 6 1 -9 1 5 1 3 1 6 1 -8 1 -2 1 9 1 -13 1 8 1 -5 1 7 1 -1 1 -1 1 3 1 0 1 -4 1 2 1 -11 1 7 1 -8 1 14 1 -8 1 -2 1 4 1 1 1 -2 1 3 1 2 1 -8 1 6 1 -1 1 6 1 -4 1 -2 1 -5 1 4 1 0 1 -6 1 5 1 -9 1 -8 1 1 1 3 1 3 1 -6 1 11 1 -11 1 -1 1 -5 1 5 1 -4 1 -2 1 5 1 -3 1 -30 1 -20 1 -46 1 38 1 -12 1 42 1 27" stroke="#ff2000"/>
<path d="M114 5681l1 7 1 3 1 0 1 3 1 5 1 -4 1 12 1 -12 1 -1 1 12 1 -2 1 4 1 0 1 6 1 8 1 -2 1 7 1 -5 1 5 1 -6 1 6 1 2 1 -9 1 -2 1 8 1 7 1 -8 1 4 1 3 1 -8 1 1 1 3 1 -2 1 -5 1 8 1 -3 1 3 1 -4 1 5 1 -8 1 -2 1 6 1 6 1 -5 1 -3 1 4 1 -4 1 -7 1 -68 1 26 1 1 1 -96 1 -9 1 82 1 12 1 7 1 -18 1 -99 1 118 1 30 1 -77 1 -18 1 1 1 88 1 28 1 -2 1 3 1 -1 1 2 1 -5 1 -2 1 -1 1 -2 1 -1 1 7 1 -7 1 7 1 -13 1 -2 1 -2 1 -1 1 -2 1 -1 1 -2 1 5 1 20 1 -3 1 1 1 -17 1 1 1 1 1 2 1 1 1 9 1 10 1 1 1 -19 1 -2 1 -3 1 -2 1 -2 1 -3 1 -2 1 -2 1 -3 1 5 1 -1 1 17 1 -7 1 9 1 -19 1 14 1 -7 1 34 1 1 1 -19 1 18 1 -10 1 1 1 4 1 -2 1 2 1 6 1 -14 1 -1 1 0 1 -5 1 2 1 -7 1 -3 1 7 1 -4 1 -3 1 -8 1 2 1 -8 1 -2 1 11 1 -9 1 -5 1 10 1 -1 1 -5 1 5 1 -6 1 -1 1 -9 1 3 1 -4 1 7 1 -5 1 1 1 -2 1 1 1 -13 1 2" stroke="#ff0000"/>
<path d="M720 5696l1 -11 1 -13 1 -24 1 35 1 -12 1 36 1 10 1 1 1 -6 1 6 1 -6 1 8 1 3 1 -6 1 3 1 -5 1 2 1 4 1 15 1 -14 1 -2 1 3 1 2 1 1 1 -3 1 14 1 -10 1 4 1 3 1 -1 1 -4 1 5 1 -10 1 2 1 -3 1 -7 1 -5 1 5 1 -9 1 3 1 -2 1 -4 1 2 1 -1 1 12 1 -1 1 1 1 -8 1 7 1 5 1 0 1 -6 1 -1 1 3 1 3 1 3 1 -9 1 13 1 -7 1 -3 1 -7 1 -1 1 6 1 1 1 8 1 2 1 4 1 3 1 -6 1 11 1 -8 1 2 1 -6 1 4 1 -4 1 6 1 -1 1 -2 1 10 1 0 1 -2 1 -3 1 4 1 1 1 -7 1 8 1 -13 1 8 1 0 1 3 1 -7 1 -2 1 -4 1 4 1 5 1 -5 1 2 1 0 1 3 1 -5 1 0 1 4 1 -3 1 8 1 -4 1 0 1 8 1 -3 1 -5 1 0 1 15 1 -7 1 -3 1 1 1 0 1 1 1 1 1 -3 1 0 1 8 1 -9 1 12 1 -14 1 3 1 -3 1 1 1 1 1 4 1 -4 1 7 1 -6 1 -15 1 7 1 9 1 -13 1 10 1 -2 1 3 1 1 1 -4 1 1 1 5 1 -8 1 -2 1 12 1 -9 1 12 1 -2 1 -3 1 7 1 -12 1 7 1 6 1 -9 1 -4 1 9 1 1 1 -11 1 6 1 -2 1 6 1 12 1 -15 1 -6 1 6 1 -5 1 -1 1 4 1 -7 1 -2 1 7 1 3 1 -6 1 1 1 -7 1 -1 1 -1 1 -3 1 -1 1 0 1 7 1 -10 1 2 1 0 1 11 1 -17 1 4 1 5 1 -2 1 7 1 -6 1 6 1 -9 1 1 1 -2 1 6 1 -7 1 9 1 6 1 -12 1 -3 1 -5 1 5 1 4 1 -6 1 7 1 3 1 -1 1 0 1 0 1 -4 1 3 1 -8 1 -5 1 1 1 -9 1 7 1 -12 1 2 1 6 1 -12 1 1 1 3 1 -4 1 5 1 7 1 -1 1 -7 1 10 1 3 1 -7 1 -8 1 3 1 0 1 2 1 7 1 -8 1 -7 1 1 1 -5 1 -10 1 5 1 -8 1 -2 1 -3 1 -22 1 0 1 17 1 -1 1 4 1 9 1 4" stroke="#ff0000"/>
<path d="M510 5706l1 11 1 -2 1 0 1 8 1 3 1 -2 1 -6 1 -1 1 10 1 9 1 -1 1 4 1 -1 1 0 1 7 1 -3 1 6 1 -9 1 14 1 3 1 -2 1 4 1 1 1 -12 1 10 1 -2 1 4 1 -8 1 6 1 -3 1 -4 1 7 1 -3 1 3 1 -6 1 4 1 -12 1 5 1 5 1 -5 1 0 1 -2 1 1 1 -3 1 7 1 -4 1 -1 1 -5 1 -3 1 5 1 3 1 3 1 -10 1 12 1 -6 1 -7 1 -6 1 0 1 3 1 -4 1 0 1 7 1 -12 1 1 1 2 1 -4 1 4 1 7 1 -13 1 3 1 -2 1 -3 1 5 1 -11 1 -15 1 11 1 -5 1 7 1 -17 1 7 1 4 1 -1 1 -15 1 -2" stroke="#df0000"/>
<path d="M1116 5697l1 -2 1 8 1 2 1 -2 1 1 1 -13 1 5 1 0 1 0 1 3 1 0 1 0 1 -3 1 11 1 -10 1 7 1 5 1 6 1 -5 1 2 1 -1 1 3 1 1 1 -11 1 2 1 12 1 -5 1 8 1 -5 1 5 1 -10 1 2 1 -2 1 8 1 3 1 1 1 6 1 2 1 -9 1 -2 1 10 1 -4 1 -6 1 -2 1 7 1 1 1 7 1 -8 1 2 1 7 1 -2 1 6 1 -1 1 4 1 0 1 -9 1 -7 1 0 1 14 1 -7 1 7 1 5 1 -12 1 1 1 -1 1 11 1 -2 1 -6 1 4 1 -1 1 8 1 -8 1 -5 1 4 1 2 1 -4 1 -9 1 12 1 2 1 2 1 -2 1 4 1 3 1 7 1 0 1 -14 1 -4 1 10 1 -2 1 -3 1 0 1 2 1 3 1 5 1 -7 1 9 1 -8 1 -1 1 6 1 -3 1 -1 1 -2 1 -1 1 1 1 -2 1 6 1 -5 1 3 1 -5 1 8 1 -8 1 9 1 -1 1 -4 1 2 1 4 1 -10 1 9 1 -8 1 5 1 2 1 -3 1 -9 1 5 1 -4 1 1 1 6 1 -5 1 2 1 0 1 6 1 -2 1 -2 1 0 1 -1 1 -3 1 0 1 -3 1 3 1 4 1 -1 1 1 1 -7 1 7 1 0 1 2 1 -6 1 4 1 -3 1 2 1 5 1 -14 1 6 1 5 1 -5 1 2 1 5 1 -3 1 -2 1 -3 1 3 1 -1 1 4 1 -5 1 1 1 0 1 -6 1 3 1 11 1 -2 1 -6 1 6 1 2 1 7 1 -4 1 1 1 1 1 9 1 -7 1 10 1 -10 1 -3 1 -6 1 2 1 2 1 -6 1 0 1 -4 1 12 1 -16 1 11 1 5 1 -9 1 -3 1 -1 1 -4 1 4 1 -13 1 -2 1 4 1 4 1 -5 1 -3 1 -2 1 6 1 -1 1 6 1 -12 1 6 1 -3 1 -3 1 3 1 -2 1 -2 1 4 1 -7 1 -2 1 4 1 1 1 -2 1 8 1 -6 1 3 1 -3 1 1 1 1 1 -8 1 4 1 -1 1 -5 1 5 1 1 1 1 1 -3 1 10 1 -8 1 -29 1 15 1 19 1 8 1 -1 1 -6 1 -2 1 17 1 -9 1 -11 1 5 1 -6 1 0 1 6 1 -5 1 3 1 -3 1 1 1 6 1 -14 1 -7 1 -17 1 6 1 18 1 14 1 -9 1 -3 1 0 1 0 1 -20 1 -14 1 29 1 -1 1 1" stroke="#df0000"/>
<path d="M0 5683l1 2 1 -14 1 -5 1 1 1 2 1 2 1 5 1 8 1 2 1 -3 1 2 1 13 1 -6 1 -1 1 1 1 4 1 3 1 -1 1 0 1 1 1 -4 1 5 1 9 1 -7 1 -3 1 7 1 -8 1 4 1 2 1 9 1 -8 1 -10 1 8 1 -4 1 1 1 7 1 -4 1 -8 1 2 1 -4 1 8 1 -3 1 3 1 0 1 -3 1 1 1 -3 1 3 1 4 1 8 1 -7 1 -2 1 -10 1 -5 1 3 1 5 1 1 1 -12 1 -5 1 -6 1 6 1 0 1 -2 1 5 1 2 1 -3 1 7 1 -3 1 -2 1 -28 1 24 1 -50 1 -74 1 69 1 -21 1 39 1 29 1 -9 1 -10 1 -28 1 -104 1 -93 1 88 1 161 1 -1 1 46 1 -15 1 12 1 1 1 20" stroke="#bf0000"/>
<path d="M594 5697l1 -2 1 -6 1 -6 1 5 1 1 1 -6 1 -3 1 10 1 -2 1 1 1 -4 1 -4 1 12 1 12 1 9 1 -16 1 -1 1 -6 1 5 1 6 1 -5 1 7 1 7 1 0 1 -1 1 -4 1 -6 1 -1 1 2 1 3 1 5 1 -1 1 -4 1 9 1 5 1 -9 1 -1 1 -4 1 5 1 -2 1 -2 1 6 1 -17 1 7 1 6 1 1 1 -4 1 0 1 5 1 9 1 -12 1 6 1 8 1 -4 1 0 1 2 1 14 1 -9 1 3 1 5 1 -6 1 -8 1 4 1 3 1 4 1 -8 1 16 1 -9 1 1 1 4 1 0 1 3 1 -7 1 1 1 3 1 -5 1 1 1 -5 1 4 1 0 1 -4 1 -3 1 15 1 3 1 -6 1 3 1 4 1 0 1 0 1 -3 1 -3 1 8 1 2 1 -6 1 -4 1 0 1 6 1 -6 1 -1 1 -1 1 4 1 -8 1 11 1 0 1 5 1 -10 1 5 1 -10 1 9 1 -2 1 7 1 -5 1 2 1 -3 1 -1 1 -6 1 3 1 -3 1 10 1 -4 1 -1 1 0 1 12 1 -3 1 -6 1 4 1 0 1 -14 1 2 1 2 1 10 1 -8 1 1 1 5 1 -1 1 8 1 -4 1 -4 1 0 1 0 1 5 1 -4 1 10 1 -7 1 -10 1 10 1 -6 1 2 1 3 1 3 1 -4 1 -2 1 0 1 1 1 0 1 1 1 11 1 -11 1 2 1 -6 1 11 1 -5 1 3 1 0 1 5 1 -3 1 1 1 -2 1 -9 1 10 1 -2 1 -4 1 1 1 6 1 -7 1 4 1 1 1 4 1 1 1 7 1 -8 1 1 1 -5 1 15 1 -14 1 6 1 1 1 -3 1 0 1 -3 1 -2 1 -3 1 6 1 3 1 -4 1 -13 1 11 1 -2 1 0 1 -6 1 -6 1 -3 1 4 1 -1 1 -8 1 9 1 2 1 -8 1 6 1 -9 1 8 1 -6 1 -2 1 6 1 -4 1 2 1 3 1 -1 1 1 1 -2 1 0 1 -1 1 -1 1 2 1 -4 1 2 1 2 1 4 1 -2 1 -2 1 -1 1 3 1 -7 1 -1 1 -7 1 3 1 -8 1 14 1 -12 1 6 1 1 1 -1 1 -3 1 4 1 1 1 1 1 0 1 -2 1 4 1 -4 1 1 1 -2 1 -1 1 2 1 -10 1 5 1 -5 1 13 1 -16 1 8 1 -6 1 3 1 4 1 0 1 -1 1 -13 1 -11 1 -8 1 -6 1 -2 1 2 1 6 1 8 1 27 1 3 1 -17 1 8 1 -41 1 -28 1 13 1 52 1 4" stroke="#bf0000"/>
<path d="M486 5683l1 15 1 2 1 13 1 1 1 12 1 -9 1 4 1 -2 1 4 1 -1 1 -16 1 10 1 -8 1 -12 1 -22" stroke="#9f0000"/>
<path d="M1116 5748l1 -11 1 10 1 2 1 -4 1 7 1 -2 1 8 1 -1 1 1 1 2 1 -1 1 6 1 -2 1 0 1 -5 1 7 1 7 1 -10 1 9 1 -4 1 -5 1 -1 1 4 1 5 1 -3 1 3 1 4 1 -8 1 4 1 -3 1 7 1 -10 1 7 1 -2 1 -5 1 2 1 6 1 -9 1 3 1 -11 1 9 1 -2 1 -1 1 -2 1 8 1 0 1 -10 1 13 1 -8 1 -7640 1 7643 1 7 1 -7650 1 7647 1 -2 1 8 1 -3 1 3 1 -3 1 -3 1 0 1 10 1 -4 1 3 1 -4 1 0 1 6 1 -1 1 -5 1 7 1 -2533 1 2535 1 -11 1 4 1 -2 1 6 1 -2 1 3 1 -6 1 2 1 -4 1 -20 1 -109 1 -58 1 45 1 112 1 33 1 6 1 2 1 -9 1 7 1 -4 1 0 1 -3 1 -3 1 7 1 -8 1 9 1 -2 1 3 1 -2 1 0 1 -2 1 -1 1 1 1 7 1 -9 1 5 1 -6 1 0 1 1 1 -1 1 0 1 0 1 4 1 2 1 -6 1 -1 1 0 1 12 1 -10 1 8 1 -6 1 -3 1 3 1 -3 1 2 1 -8 1 -4 1 10 1 -4 1 -1 1 -3 1 4 1 -1 1 5 1 -5 1 6 1 -2 1 -3 1 -1 1 -1 1 5 1 -8 1 2 1 1 1 -4 1 9 1 0 1 -2 1 -4 1 -5 1 14 1 -8 1 -5 1 3 1 5 1 -1 1 2 1 -3 1 -1 1 -4 1 1 1 3 1 5 1 -1 1 -3 1 -5 1 -1 1 6 1 -5 1 4 1 -8 1 -4 1 -3 1 -7 1 -6 1 -8 1 -12 1 4 1 -14 1 -2 1 7 1 17 1 9 1 4 1 3 1 6 1 -28 1 -22 1 -20 1 -10 1 4 1 30 1 35 1 2 1 -2 1 0" stroke="#9f0000"/>
<path d="M138 5689l1 3 1 4 1 0 1 -3 1 -3 1 4 1 -2 1 5 1 0 1 -3 1 2 1 3 1 -3 1 1 1 -1 1 2 1 -7 1 -2 1 12 1 -15 1 -5 1 6 1 2 1 -1 1 5 1 -1 1 -5 1 -3 1 9 1 -10 1 -6 1 8 1 1 1 8 1 -10 1 2 1 -3 1 7 1 3 1 -3 1 3 1 2 1 6 1 -1 1 -3 1 2 1 12 1 -8 1 -6 1 5 1 7 1 -1 1 12 1 4 1 -3 1 -4 1 -4 1 2 1 0 1 13 1 0 1 0 1 6 1 -7 1 5 1 -10 1 7 1 -2 1 1 1 -1 1 -1 1 5 1 -6 1 -9 1 9 1 -2 1 10 1 -5 1 4 1 -5 1 -1 1 3 1 -5 1 1 1 -10 1 2 1 -1 1 -8 1 4 1 -6 1 3 1 6 1 -6 1 3 1 -7 1 -1 1 11 1 -5 1 -7 1 15 1 -14 1 12 1 -14 1 12 1 -4 1 4 1 8 1 -7 1 -5 1 1 1 -6 1 10 1 -9 1 3 1 -2 1 11 1 -5 1 -3 1 0 1 -6 1 4 1 0 1 -3 1 13 1 0 1 2 1 -1 1 -11 1 5 1 2 1 7 1 1 1 10 1 -6 1 -1 1 1 1 0 1 -2 1 4 1 3 1 -1 1 -2 1 -1 1 0 1 -6 1 4 1 1 1 15 1 0 1 -7 1 0 1 -1 1 2 1 -3 1 -1 1 8 1 -5 1 0 1 1 1 -2 1 -6 1 4 1 -1 1 1 1 3 1 4 1 -7 1 -6 1 12 1 -13 1 9 1 4 1 1 1 -9 1 7 1 3 1 -9 1 3 1 8 1 0 1 -9 1 -3 1 11 1 -6 1 -2 1 6 1 5 1 -10 1 4 1 -6 1 2 1 -18 1 0 1 0 1 6 1 -4 1 6 1 5 1 -4 1 0 1 4 1 1 1 1 1 4 1 -12 1 2 1 1 1 2 1 -2 1 6 1 1 1 -8 1 -5 1 13 1 -7 1 10 1 -2 1 3 1 -13 1 7 1 -10 1 1 1 -3 1 0 1 0 1 4 1 -9 1 7 1 -7 1 9 1 -3 1 4 1 3 1 -10 1 -7 1 10 1 2 1 -6 1 10 1 -9 1 -2 1 1 1 2 1 0 1 7 1 1 1 0 1 -2 1 4 1 4 1 -7 1 -11 1 7 1 -10 1 8 1 0 1 2 1 -10 1 4 1 15 1 -12 1 -1 1 -1 1 -5 1 1 1 6 1 3 1 1 1 -6 1 5 1 -11 1 5 1 -1 1 -3 1 -2 1 4 1 -10 1 10 1 -10 1 1 1 -10 1 5 1 -1 1 -6 1 4 1 -2 1 11 1 -12 1 9 1 0 1 1 1 -5 1 -8 1 4 1 4 1 -10 1 4 1 9 1 7 1 -11 1 2 1 -5 1 2 1 2 1 10 1 -7 1 -3 1 -3 1 -6 1 3 1 -1 1 -3 1 6 1 -2 1 4 1 0 1 2 1 -3 1 6 1 -7 1 10 1 -10 1 8 1 -6 1 -3 1 -10 1 3 1 5 1 3 1 -6 1 8 1 0 1 -12 1 -7 1 17 1 -6 1 7 1 -2 1 6 1 -2 1 2 1 2 1 13 1 -7 1 -8 1 9 1 -5 1 -4 1 5 1 5 1 -10 1 -1 1 -5 1 2" stroke="#800000"/>
<path d="M942 5744l1 -11 1 -1 1 1 1 -5 1 0 1 2 1 4 1 9 1 -2 1 2 1 4 1 -3 1 3 1 -5 1 7 1 -10 1 6 1 -3 1 -3 1 10 1 1 1 -3 1 4 1 -5 1 6 1 -1 1 -4 1 7 1 -9 1 4 1 -1 1 4 1 0 1 -8 1 3 1 5 1 -4 1 -3 1 3 1 -7 1 10 1 -5 1 0 1 1 1 1 1 5 1 -8 1 2 1 -3 1 9 1 0 1 -8 1 -5 1 9 1 0 1 5 1 2 1 -8 1 9 1 -9 1 1 1 2 1 -5 1 12 1 1 1 -2 1 -4 1 -7 1 11 1 0 1 -5 1 5 1 3 1 2 1 -3 1 8 1 -7 1 5 1 -4 1 -4 1 3 1 0 1 -3 1 3 1 1 1 1 1 -2 1 0 1 -1 1 -1 1 5 1 0 1 -8 1 0 1 2 1 6 1 2 1 -9 1 8 1 2 1 -4 1 7 1 -4 1 -3 1 5 1 -2 1 -6 1 -7 1 4 1 2 1 3 1 -1 1 -9 1 6 1 3 1 -4 1 3 1 -10 1 6 1 -10 1 5 1 15 1 -9 1 -6 1 6 1 5 1 -3 1 0 1 6 1 -5 1 -7 1 8 1 -5 1 0 1 2 1 -11 1 4 1 -2 1 1 1 3 1 7 1 -14 1 6 1 0 1 -3 1 5 1 1 1 -2 1 7 1 -13 1 7 1 1 1 -4 1 0 1 1 1 -1 1 -7 1 2 1 1 1 -4 1 -2 1 -5 1 7 1 -11 1 -1 1 -2 1 -9 1 6 1 2 1 3 1 -8 1 7 1 -4 1 -4 1 -2 1 -5 1 5 1 -3 1 4 1 2 1 8 1 -5 1 4 1 2 1 2 1 -7 1 2 1 -3 1 -14 1 13 1 -6 1 -9" stroke="#800000"/>
</g></g>
<rect x="1731.5" y="258.4" width="22" height="24.6" fill="#800000"/>
<rect x="1731.5" y="282.6" width="22" height="24.6" fill="#9f0000"/>
<rect x="1731.5" y="306.8" width="22" height="24.6" fill="#bf0000"/>
<rect x="1731.5" y="331.1" width="22" height="24.6" fill="#df0000"/>
<rect x="1731.5" y="355.3" width="22" height="24.6" fill="#ff0000"/>
<rect x="1731.5" y="379.5" width="22" height="24.6" fill="#ff2000"/>
<rect x="1731.5" y="403.7" width="22" height="24.6" fill="#ff4000"/>
<rect x="1731.5" y="427.9" width="22" height="24.6" fill="#ff6000"/>
<rect x="1731.5" y="452.1" width="22" height="24.6" fill="#ff8000"/>
<rect x="1731.5" y="476.4" width="22" height="24.6" fill="#ff9f00"/>
<rect x="1731.5" y="500.6" width="22" height="24.6" fill="#ffbf00"/>
<rect x="1731.5" y="524.8" width="22" height="24.6" fill="#ffdf00"/>
<rect x="1731.5" y="549" width="22" height="24.6" fill="#ffff00"/>
<rect x="1731.5" y="573.2" width="22" height="24.6" fill="#dfff20"/>
<rect x="1731.5" y="597.5" width="22" height="24.6" fill="#bfff40"/>
<rect x="1731.5" y="621.7" width="22" height="24.6" fill="#9fff60"/>
<rect x="1731.5" y="645.9" width="22" height="24.6" fill="#80ff80"/>
<rect x="1731.5" y="670.1" width="22" height="24.6" fill="#60ff9f"/>
<rect x="1731.5" y="694.3" width="22" height="24.6" fill="#40ffbf"/>
<rect x="1731.5" y="718.6" width="22" height="24.6" fill="#20ffdf"/>
<rect x="1731.5" y="742.8" width="22" height="24.6" fill="#00ffff"/>
<rect x="1731.5" y="767" width="22" height="24.6" fill="#00dfff"/>
<rect x="1731.5" y="791.2" width="22" height="24.6" fill="#00bfff"/>
<rect x="1731.5" y="815.4" width="22" height="24.6" fill="#009fff"/>
<rect x="1731.5" y="839.7" width="22" height="24.6" fill="#0080ff"/>
<rect x="1731.5" y="863.9" width="22" height="24.6" fill="#0060ff"/>
<rect x="1731.5" y="888.1" width="22" height="24.6" fill="#0040ff"/>
<rect x="1731.5" y="912.3" width="22" height="24.6" fill="#0020ff"/>
<rect x="1731.5" y="936.5" width="22" height="24.6" fill="#0000ff"/>
<rect x="1731.5" y="960.7" width="22" height="24.6" fill="#0000df"/>
<rect x="1731.5" y="985" width="22" height="24.6" fill="#0000bf"/>
<rect x="1731.5" y="1009.2" width="22" height="24.6" fill="#00009f"/>
<rect x="1731.5" y="258.4" width="22" height="775" fill="none" stroke="#262626" stroke-width="1"/>
<path d="M1746 1008.4H1753.5M1746 958.4H1753.5M1746 908.4H1753.5M1746 858.4H1753.5M1746 808.4H1753.5M1746 758.4H1753.5M1746 708.4H1753.5M1746 658.4H1753.5M1746 608.4H1753.5M1746 558.4H1753.5M1746 508.4H1753.5M1746 458.4H1753.5M1746 408.4H1753.5M1746 358.4H1753.5M1746 308.4H1753.5" stroke="#262626" stroke-width="1" fill="none"/>
<g font-family="Liberation Sans, sans-serif" font-weight="bold" fill="#262626">
<g font-size="29.17" text-anchor="end">
<text x="178.6" y="140.9">10</text>
<text x="178.6" y="270">5</text>
<text x="178.6" y="399.9">0</text>
<text x="178.6" y="436.1">4</text>
<text x="178.6" y="482.5">2</text>
<text x="178.6" y="528.9">0</text>
<text x="178.6" y="575.3">-2</text>
<text x="178.6" y="621.7">-4</text>
<text x="178.6" y="658.5">0.4</text>
<text x="178.6" y="787.4">0.2</text>
<text x="178.6" y="851.6">0.1</text>
<text x="178.6" y="915.9">0</text>
<text x="178.6" y="968.8">0.8</text>
<text x="178.6" y="1020">0.6</text>
<text x="178.6" y="1071.3">0.4</text>
<text x="178.6" y="1122.5">0.2</text>
<text x="178.6" y="1148.2">0.1</text>
<text x="178.6" y="1174.6">0</text>
</g>
<g font-size="29.17" text-anchor="middle">
<text x="190" y="1202.1">00</text>
<text x="253.4" y="1202.1">01</text>
<text x="316.8" y="1202.1">02</text>
<text x="380.2" y="1202.1">03</text>
<text x="443.6" y="1202.1">04</text>
<text x="507" y="1202.1">05</text>
<text x="570.4" y="1202.1">06</text>
<text x="633.7" y="1202.1">07</text>
<text x="697.1" y="1202.1">08</text>
<text x="760.5" y="1202.1">09</text>
<text x="823.9" y="1202.1">10</text>
<text x="887.3" y="1202.1">11</text>
<text x="950.7" y="1202.1">12</text>
<text x="1014.1" y="1202.1">13</text>
<text x="1077.5" y="1202.1">14</text>
<text x="1140.9" y="1202.1">15</text>
<text x="1204.3" y="1202.1">16</text>
<text x="1267.7" y="1202.1">17</text>
<text x="1331.1" y="1202.1">18</text>
<text x="1394.4" y="1202.1">19</text>
<text x="1457.8" y="1202.1">20</text>
<text x="1521.2" y="1202.1">21</text>
<text x="1584.6" y="1202.1">22</text>
<text x="1648" y="1202.1">23</text>
<text x="1711.4" y="1202.1">00</text>
</g>
<text x="951.8" y="1245" font-size="32.08" text-anchor="middle">UT</text>
<text transform="translate(133.6 259) rotate(-90)" font-size="32.08" text-anchor="middle">VTEC</text>
<text transform="translate(140.4 517.7) rotate(-90)" font-size="32.08" text-anchor="middle">ROT [TECU/min]</text>
<text transform="translate(111 793.6) rotate(-90)" font-size="32.08">S<tspan font-size="25.7" dy="16" dx="0.2">4</tspan></text>
<text transform="translate(111.8 1092) rotate(-90)" font-size="32.08"><tspan font-family="Liberation Serif, serif" font-style="italic" font-weight="normal" font-size="30">σ</tspan><tspan font-family="Liberation Serif, serif" font-style="italic" font-weight="normal" font-size="26" dy="16" dx="6.5">ϕ</tspan><tspan dy="-16" dx="1.2"> [rad]</tspan></text>
<g font-size="33.3">
<text x="1765.6" y="1021.1">2</text>
<text x="1765.6" y="971.1">4</text>
<text x="1765.6" y="921.1">6</text>
<text x="1765.6" y="871.1">8</text>
<text x="1765.6" y="821.1">10</text>
<text x="1765.6" y="771.1">12</text>
<text x="1765.6" y="721.1">14</text>
<text x="1765.6" y="671.1">16</text>
<text x="1765.6" y="621.1">18</text>
<text x="1765.6" y="571.1">20</text>
<text x="1765.6" y="521.1">22</text>
<text x="1765.6" y="471.1">24</text>
<text x="1765.6" y="421.1">26</text>
<text x="1765.6" y="371.1">28</text>
<text x="1765.6" y="321.1">30</text>
<text x="1765.6" y="271.1">32</text>
</g>
</g>
<g font-family="Liberation Sans, sans-serif" font-weight="bold">
<text x="1743.1" y="238.9" font-size="33.2" text-anchor="middle" fill="#000">PRN#</text>
</g>
<rect x="770" y="78" width="362" height="53.2" fill="#9b9b9b"/>
<g font-family="Liberation Sans, sans-serif" font-weight="bold">
<text x="776" y="116.6" font-size="32.08" fill="#000" xml:space="preserve">20200106    VTEC  SKN</text>
<text x="989.6" y="130.8" font-size="25" fill="#0000ff" xml:space="preserve">Made by Yaqi Jin on 12-Jan-2022</text>
<text x="1421.2" y="130.8" font-size="25" fill="#0000ff" xml:space="preserve">NOT FOR PUBLICATION</text>
</g>
</svg></body></html>
